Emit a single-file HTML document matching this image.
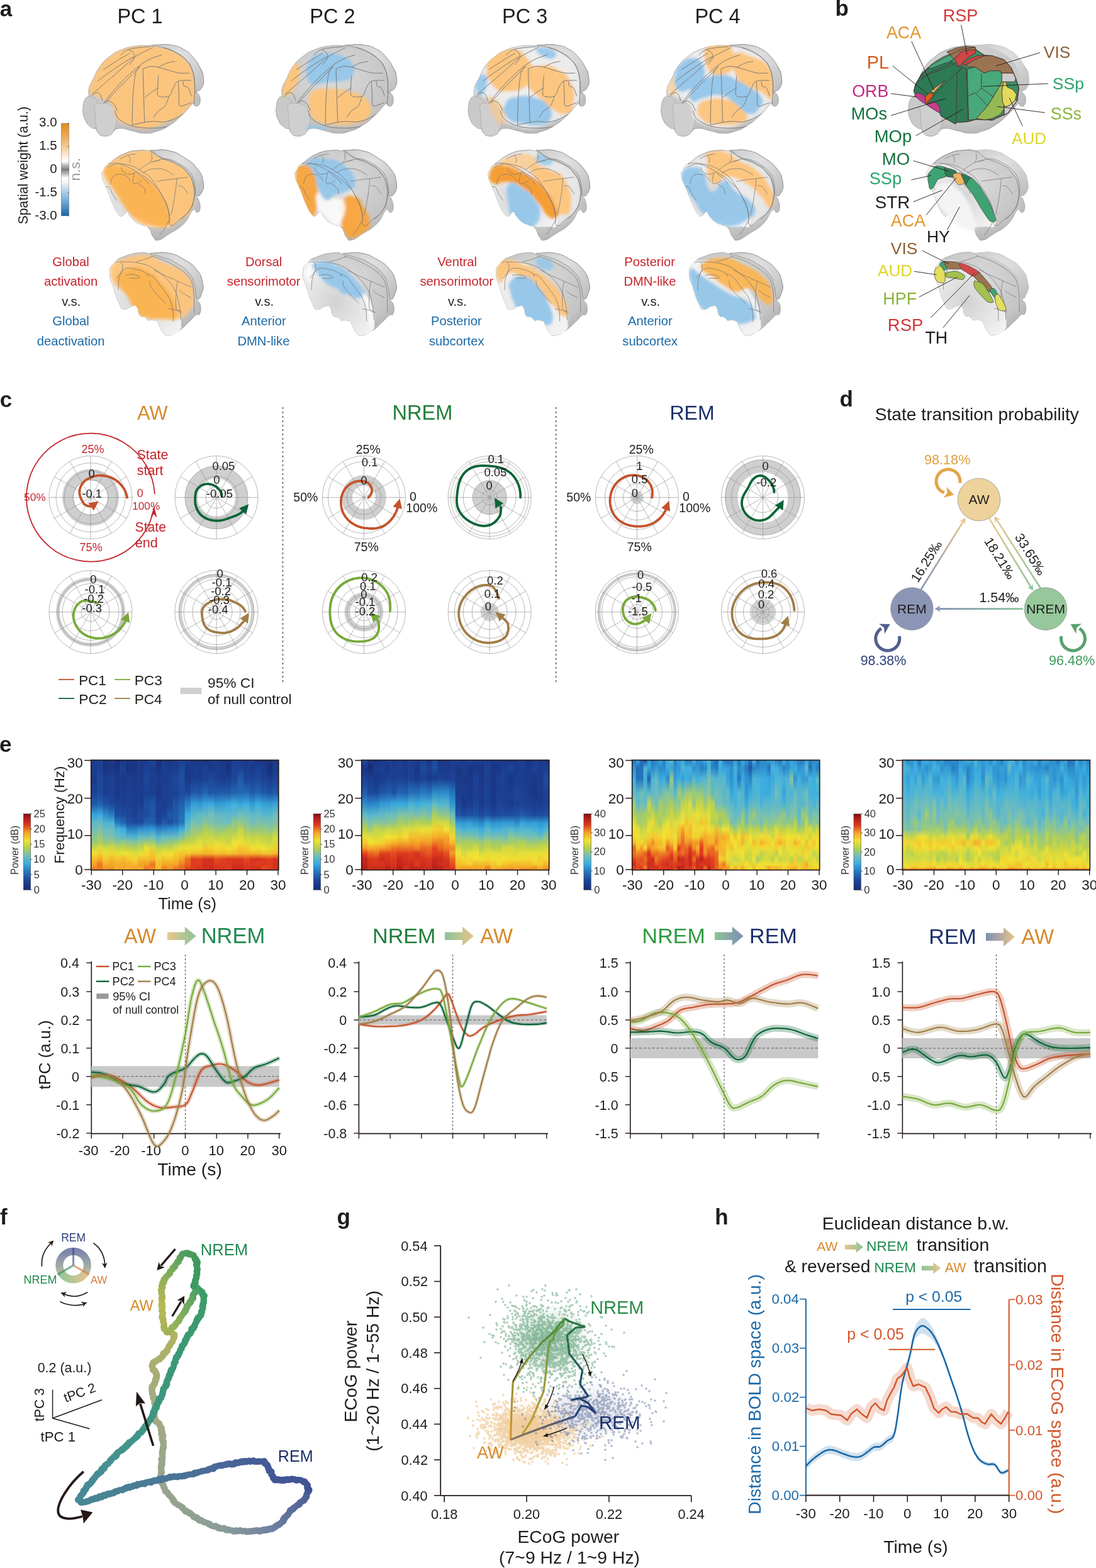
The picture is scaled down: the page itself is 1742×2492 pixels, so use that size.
<!DOCTYPE html>
<html><head><meta charset="utf-8"><style>
html,body{margin:0;padding:0;background:#fff;}
svg{display:block;}
</style></head><body>
<svg width="1742" height="2492" viewBox="0 0 1742 2492" font-family="'Liberation Sans', Arial, sans-serif">
<rect width="1742" height="2492" fill="#fff"/>
<text x="-0.15" y="25.6" font-size="35" fill="#1d1d1b" font-weight="bold">a</text>
<text x="1327.62" y="25" font-size="35" fill="#1d1d1b" font-weight="bold">b</text>
<text x="186.4" y="36.5" font-size="32.5" fill="#1d1d1b">PC 1</text>
<text x="492.3" y="36.5" font-size="32.5" fill="#1d1d1b">PC 2</text>
<text x="798" y="36.5" font-size="32.5" fill="#1d1d1b">PC 3</text>
<text x="1104.4" y="36.5" font-size="32.5" fill="#1d1d1b">PC 4</text>
<text x="62.12" y="200.7" font-size="20.5" fill="#1d1d1b">3.0</text>
<text x="62.23" y="237.7" font-size="20.5" fill="#1d1d1b">1.5</text>
<text x="79.24" y="274.7" font-size="20.5" fill="#1d1d1b">0</text>
<text x="55.46" y="311.7" font-size="20.5" fill="#1d1d1b">-1.5</text>
<text x="55.36" y="348.7" font-size="20.5" fill="#1d1d1b">-3.0</text>
<text x="44.3" y="356.55" font-size="21.2" fill="#1d1d1b" transform="rotate(-90 44.3 356.55)">Spatial weight (a.u.)</text>
<text x="127.5" y="287.47" font-size="22.68" fill="#9a9a9a" transform="rotate(-90 127.5 287.47)">n.s.</text>
<text x="83.36" y="423.3" font-size="20.2" fill="#c4252c">Global</text>
<text x="69.98" y="454.3" font-size="20.2" fill="#c4252c">activation</text>
<text x="98.31" y="485.8" font-size="20.2" fill="#1d1d1b">v.s.</text>
<text x="83.36" y="517.3" font-size="20.2" fill="#1b69a6">Global</text>
<text x="58.77" y="548.8" font-size="20.2" fill="#1b69a6">deactivation</text>
<text x="389.96" y="423.3" font-size="20.2" fill="#c4252c">Dorsal</text>
<text x="360.82" y="454.3" font-size="20.2" fill="#c4252c">sensorimotor</text>
<text x="405.21" y="485.8" font-size="20.2" fill="#1d1d1b">v.s.</text>
<text x="384.1" y="517.3" font-size="20.2" fill="#1b69a6">Anterior</text>
<text x="377.44" y="548.8" font-size="20.2" fill="#1b69a6">DMN-like</text>
<text x="695.2" y="423.3" font-size="20.2" fill="#c4252c">Ventral</text>
<text x="667.52" y="454.3" font-size="20.2" fill="#c4252c">sensorimotor</text>
<text x="711.91" y="485.8" font-size="20.2" fill="#1d1d1b">v.s.</text>
<text x="684.94" y="517.3" font-size="20.2" fill="#1b69a6">Posterior</text>
<text x="682.01" y="548.8" font-size="20.2" fill="#1b69a6">subcortex</text>
<text x="992.24" y="423.3" font-size="20.2" fill="#c4252c">Posterior</text>
<text x="991.44" y="454.3" font-size="20.2" fill="#c4252c">DMN-like</text>
<text x="1019.21" y="485.8" font-size="20.2" fill="#1d1d1b">v.s.</text>
<text x="998.1" y="517.3" font-size="20.2" fill="#1b69a6">Anterior</text>
<text x="989.31" y="548.8" font-size="20.2" fill="#1b69a6">subcortex</text>
<text x="1498.84" y="33.7" font-size="27.01" fill="#d2373a">RSP</text>
<text x="1409" y="60.5" font-size="26.76" fill="#e3952b">ACA</text>
<text x="1658.87" y="92" font-size="26.28" fill="#8b5e34">VIS</text>
<text x="1377.69" y="109" font-size="28.83" fill="#d55a1f">PL</text>
<text x="1354.29" y="154" font-size="26.81" fill="#c02a82">ORB</text>
<text x="1672.8" y="142" font-size="26.59" fill="#2aa36b">SSp</text>
<text x="1352.83" y="190" font-size="27.07" fill="#13703e">MOs</text>
<text x="1669.79" y="190" font-size="26.78" fill="#8cb43c">SSs</text>
<text x="1389.81" y="226" font-size="27.38" fill="#13703e">MOp</text>
<text x="1608" y="229" font-size="26.15" fill="#e0d62a">AUD</text>
<text x="1401.79" y="261.5" font-size="27.61" fill="#13703e">MO</text>
<text x="1381.78" y="293" font-size="27.15" fill="#2aa36b">SSp</text>
<text x="1390.75" y="330.5" font-size="27.75" fill="#1d1d1b">STR</text>
<text x="1416" y="360" font-size="26.76" fill="#e3952b">ACA</text>
<text x="1472.88" y="385" font-size="26.46" fill="#1d1d1b">HY</text>
<text x="1415.87" y="403.6" font-size="26.28" fill="#8b5e34">VIS</text>
<text x="1395" y="439" font-size="26.15" fill="#e0d62a">AUD</text>
<text x="1403.35" y="484" font-size="26.86" fill="#8cb43c">HPF</text>
<text x="1410.8" y="526" font-size="27.53" fill="#d2373a">RSP</text>
<text x="1470.46" y="546" font-size="26.83" fill="#1d1d1b">TH</text>
<defs>

<radialGradient id="bgTop" cx="0.45" cy="0.35" r="0.75"><stop offset="0" stop-color="#dcdcdc"/><stop offset="0.7" stop-color="#c4c4c4"/><stop offset="1" stop-color="#a9a9a9"/></radialGradient>
<radialGradient id="bgCb" cx="0.5" cy="0.3" r="0.8"><stop offset="0" stop-color="#e4e4e4"/><stop offset="1" stop-color="#bdbdbd"/></radialGradient>
<radialGradient id="bgCut" cx="0.45" cy="0.55" r="0.7"><stop offset="0" stop-color="#d2d2d2"/><stop offset="0.6" stop-color="#e8e8e8"/><stop offset="1" stop-color="#f6f6f6"/></radialGradient>
<filter id="blur3" x="-20%" y="-20%" width="140%" height="140%"><feGaussianBlur stdDeviation="2.2"/></filter>
<filter id="blur1" x="-20%" y="-20%" width="140%" height="140%"><feGaussianBlur stdDeviation="1"/></filter>

<path id="silT" d="M0.2,100.6C0.9,95 0.5,93.4 2.8,88.8C5.1,84.3 7,88.5 8.7,83.6C10.4,78.7 7.3,78.2 9.4,70.5C11.4,62.8 11.8,64.2 16.6,54.8C21.3,45.4 20,44.6 27,35.2C34,25.8 33.6,26.5 42.7,19.5C51.8,12.5 49.9,13.4 61,9C72.2,4.6 72,4.9 84.6,3.1C97.1,1.3 99.4,2.7 108.1,2.2C116.9,1.8 109.6,1.6 117.3,1.4C125,1.2 126.5,-0.5 136.9,1.4C147.4,3.4 146.8,3.3 156.5,8.7C166.3,14.2 165.9,14.4 173.6,21.8C181.2,29.2 180.7,28.7 185.3,36.5C189.9,44.2 189.8,43.2 190.8,50.9C191.9,58.6 191.4,59.7 189.3,65.3C187.1,70.9 185.2,69 182.7,71.8C180.3,74.6 179.7,73.3 180.1,75.7C180.5,78.2 182.6,77.5 184.3,81C185.9,84.5 186.2,84.6 186.2,88.8C186.2,93 186.3,94.1 184.3,96.7C182.3,99.3 181.1,99 178.8,98.6C176.5,98.3 177.3,95.9 175.5,95.4C173.8,94.8 177.3,91.8 172.2,96.7C167.2,101.6 166,105 156.5,113.7C147.1,122.4 147.4,122.8 136.9,129.4C126.5,136 127.8,135.2 117.3,138.5C106.8,141.9 108.1,142 97.7,141.8C87.2,141.6 88.5,140 78,137.9C67.6,135.8 66.4,133.6 58.4,134C50.4,134.3 52.1,136.4 48,139.2C43.8,142 46.9,142.6 42.7,144.4C38.5,146.3 37.1,146.8 32.3,146.1C27.4,145.4 27.9,145.1 24.4,141.8C20.9,138.6 23,137.1 19.2,134C15.3,130.8 14.2,133.5 10,130C5.8,126.5 6.1,126.3 3.5,120.9C0.9,115.5 1.1,115.2 0.2,109.8C-0.7,104.3 -0.5,106.2 0.2,100.6 Z"/>
<path id="silM" d="M0.4,42.9C-1.1,33.8 0.4,36.7 3.4,31.1C6.4,25.4 3.2,28.2 11.7,21.6C20.2,15 22.7,11.7 35.4,6.2C48,0.7 47.7,2 59,0.9C70.4,-0.2 71.7,2.1 78,2.1C84.3,2.1 75.1,1 82.7,0.9C90.3,0.7 93.8,-1.5 106.4,1.5C119,4.5 118.1,4.5 130.1,12.1C142.1,19.7 143.2,19.5 151.4,29.9C159.6,40.3 158.9,41.1 160.8,51.2C162.7,61.3 161.3,62.1 158.5,67.8C155.6,73.4 151.5,69.3 150.2,72.5C148.9,75.7 152.2,74.2 153.7,79.6C155.3,85 156.7,87.3 156.1,92.6C155.5,98 154.5,98.8 151.4,99.7C148.2,100.7 150,91.4 144.3,96.2C138.6,100.9 140.2,107.4 130.1,117.5C120,127.6 117.1,127.1 106.4,134.1C95.7,141 96.4,142.3 89.8,143.5C83.2,144.8 85.6,143.8 81.5,138.8C77.4,133.7 78.8,129.6 74.4,124.6C70,119.5 70.3,122.4 65,119.9C59.6,117.3 59.7,118.9 54.3,115.1C48.9,111.3 48.6,110.1 44.8,105.6C41,101.2 43.2,98.9 40.1,98.5C36.9,98.2 36.5,103.2 33,104.5C29.5,105.7 31.2,108 27.1,103.3C23,98.5 22.3,96.8 17.6,86.7C12.9,76.6 13.9,77.1 9.3,65.4C4.7,53.7 2,52.1 0.4,42.9 Z"/>
<path id="silB" d="M-0,32.8C0.2,21.8 0.6,23.2 7.4,15.8C14.1,8.5 14.1,9.5 25.4,5.2C36.7,1 39.3,0.8 49.7,-0C60.2,-0.9 58.3,1.9 64.6,2.1C70.8,2.2 65.1,0.8 73,0.5C80.9,0.2 82.9,-1.4 94.2,1C105.5,3.4 104.1,3 115.4,9.5C126.7,16 128.1,15.5 136.6,25.4C145.1,35.3 144.6,36.1 147.2,46.6C149.7,57 148.4,57.5 146.1,64.6C143.9,71.6 139.3,68 138.7,73C138.1,78.1 142.9,77.1 144,83.6C145.1,90.1 144.9,93.2 142.9,97.4C141,101.6 141.1,96.1 136.6,99.5C132.1,102.9 133.1,103.6 126,110.1C118.9,116.6 118.6,118.2 110.1,123.9C101.6,129.5 100.7,130.2 94.2,131.3C87.7,132.4 90,132.4 85.7,128.1C81.5,123.9 81.2,120.5 78.3,115.4C75.5,110.3 78.8,111.3 75.2,109C71.5,106.8 68.2,107.2 64.6,106.9C60.9,106.6 63.6,109.1 61.4,108C59.1,106.9 59.8,105 56.1,102.7C52.4,100.4 51,103.8 47.6,99.5C44.2,95.3 46.5,90.8 43.4,86.8C40.3,82.9 41.6,83.8 36,84.7C30.3,85.5 27.8,91.1 22.2,90C16.5,88.9 19,89.2 14.8,80.5C10.5,71.7 10.3,69.9 6.3,57.1C2.4,44.4 -0.3,43.8 -0,32.8 Z"/>
<path id="ctxT" d="M9.4,70.5C10.8,63.9 11.8,64.2 16.6,54.8C21.3,45.4 20,44.6 27,35.2C34,25.8 33.6,26.5 42.7,19.5C51.8,12.5 49.9,13.4 61,9C72.2,4.6 71.9,4.7 84.6,3.1C97.3,1.6 97.5,2.5 108.8,3.1C120.1,3.7 117,2.7 127.1,5.3C137.2,8 137,7.6 146.7,12.9C156.5,18.2 156.8,18.2 163.7,25.2C170.7,32.3 169.4,31.1 172.9,39.4C176.4,47.7 175.7,46.6 177,56.4C178.2,66.1 178.2,66.3 177.5,76C176.7,85.7 179.8,83 174.2,92.7C168.6,102.4 166.5,104.3 156.5,112.4C146.6,120.4 147.4,118 136.9,122.8C126.5,127.7 127.8,127.5 117.3,130.7C106.8,133.8 108.1,134.6 97.7,134.6C87.2,134.6 89.6,134.5 78,130.7C66.5,126.9 62.2,127.2 54.5,120.2C46.8,113.2 52.4,111.5 49.3,104.5C46.1,97.5 47.3,98.6 42.7,94.1C38.2,89.5 38.5,90.7 32.3,87.5C26,84.4 24.8,84.4 19.2,82.3C13.6,80.2 13.9,82.8 11.3,79.7C8.7,76.5 8,77.1 9.4,70.5 Z"/>
<path id="cutM" d="M0.4,42.9C-1.1,33.8 0.4,36.4 3.4,31.1C6.4,25.8 5.4,25.4 11.7,23C18,20.6 15.7,19.1 27.1,22.2C38.4,25.3 40.1,26.3 54.3,34.6C68.5,43 69,42.8 80.3,53.6C91.7,64.3 90,62.9 96.9,74.9C103.9,86.9 103.2,86.6 106.4,98.5C109.5,110.5 111.9,113.5 108.8,119.9C105.6,126.2 104,121.6 94.5,122.2C85.1,122.9 81.1,122.9 73.2,122.2C65.3,121.6 70,121.8 65,119.9C59.9,118 59.7,118.9 54.3,115.1C48.9,111.3 48.6,110.1 44.8,105.6C41,101.2 43.2,98.9 40.1,98.5C36.9,98.2 36.5,103.2 33,104.5C29.5,105.7 31.2,108 27.1,103.3C23,98.5 22.3,96.8 17.6,86.7C12.9,76.6 13.9,77.1 9.3,65.4C4.7,53.7 2,52.1 0.4,42.9 Z"/>
<path id="ctxM" d="M11.7,21.6C13.9,17.3 22.7,11.7 35.4,6.2C48,0.7 47.7,2 59,0.9C70.4,-0.2 68.5,-1.3 78,2.1C87.4,5.4 83.8,7.8 94.5,13.3C105.3,18.8 107.2,16.5 118.2,22.8C129.3,29.1 128.7,27.8 136,37C143.2,46.1 142.9,45.4 145.5,57.1C148,68.8 147,70.4 145.5,80.8C143.9,91.2 145.2,88.3 139.5,96.2C133.9,104.1 132.4,104.1 124.1,110.4C115.9,116.7 113.5,123 108.8,119.9C104,116.7 109.5,110.5 106.4,98.5C103.2,86.6 103.9,86.9 96.9,74.9C90,62.9 91.7,64.3 80.3,53.6C69,42.8 68.5,43 54.3,34.6C40.1,26.3 38.4,25.7 27.1,22.2C15.7,18.7 9.5,25.9 11.7,21.6 Z"/>
<path id="cutB" d="M-0,32.8C0.2,21.8 2,21.2 7.4,15.8C12.7,10.5 11,12.7 20.1,12.7C29.1,12.7 30,11.6 41.3,15.8C52.6,20.1 51.1,20.1 62.4,28.5C73.7,37 73.7,37.2 83.6,47.6C93.5,58.1 92.5,56.7 99.5,67.7C106.6,78.8 106.4,77.6 110.1,88.9C113.8,100.2 113.3,100.8 113.3,110.1C113.3,119.4 115.2,118.2 110.1,123.9C105,129.5 100.7,130.2 94.2,131.3C87.7,132.4 90,132.4 85.7,128.1C81.5,123.9 81.2,120.5 78.3,115.4C75.5,110.3 78.8,111.3 75.2,109C71.5,106.8 68.2,107.2 64.6,106.9C60.9,106.6 63.6,109.1 61.4,108C59.1,106.9 59.8,105 56.1,102.7C52.4,100.4 51,103.8 47.6,99.5C44.2,95.3 46.5,90.8 43.4,86.8C40.3,82.9 41.6,83.8 36,84.7C30.3,85.5 27.8,91.1 22.2,90C16.5,88.9 19,89.2 14.8,80.5C10.5,71.7 10.3,69.9 6.3,57.1C2.4,44.4 -0.3,43.8 -0,32.8 Z"/>
<g id="baseT">
<use href="#silT" fill="url(#bgTop)" stroke="#9a9a9a" stroke-width="0.8"/>
<path d="M108.8,2.8C106.9,1.7 111.7,1.6 119.9,1.2C128.1,0.9 129.1,-0.3 139.6,1.5C150,3.3 149.8,2.8 159.2,8C168.6,13.2 167.6,12.7 174.9,21.1C182.2,29.5 182.2,30 186.7,39.4C191.1,48.8 191.1,48.4 191.6,56.4C192.2,64.4 191.2,64.6 188.6,69.5C186.1,74.4 184.9,73 182.1,74.7C179.3,76.5 179.5,80.9 178.2,76C176.8,71.2 178.4,66.2 177,56.4C175.6,46.7 176.5,47.7 172.9,39.4C169.4,31.1 170.7,32.3 163.8,25.3C156.8,18.2 156.5,18.3 146.8,13C137,7.7 137.3,8.1 127.1,5.4C117,2.7 110.7,3.9 108.8,2.8 Z" fill="url(#bgCb)"/>
<path d="M0.2,100.6C0.9,95 0.5,93.4 2.8,88.8C5.1,84.3 4.3,84.3 8.7,83.6C13.1,82.9 14.6,82.7 19.2,86.2C23.7,89.7 24.3,90.4 25.7,96.7C27.1,103 25.1,102.8 24.4,109.8C23.7,116.7 24.5,116.4 23.1,122.8C21.7,129.3 22.7,132 19.2,134C15.7,135.9 14.2,133.5 10,130C5.8,126.5 6.1,126.3 3.5,120.9C0.9,115.5 1.1,115.2 0.2,109.8C-0.7,104.3 -0.5,106.2 0.2,100.6 Z" fill="#c9c9c9" stroke="#a0a0a0" stroke-width="0.6"/>
<path d="M19.2,96.7C22,92.5 23.4,94.1 29.6,94.1C35.9,94.1 36.8,93.2 42.7,96.7C48.7,100.2 49,100.2 51.9,107.1C54.7,114.1 54.5,114.3 53.4,122.8C52.4,131.4 50.8,133.4 48,139.2C45.1,145 46.9,142.6 42.7,144.4C38.5,146.3 37.1,146.8 32.3,146.1C27.4,145.4 27.5,146.3 24.4,141.8C21.3,137.3 21.9,137.9 20.5,129.4C19.1,120.8 19.5,118.5 19.2,109.8C18.8,101 16.4,100.9 19.2,96.7 Z" fill="#cfcfcf" stroke="#a0a0a0" stroke-width="0.6"/>
</g>
<g id="linesT" fill="none" stroke="#767676" stroke-width="0.95">
<path d="M32.3,94.4C34.9,91.1 42.1,81.5 48,74.7C53.9,68 60.6,60.6 67.6,53.8C74.6,47 83.3,39.2 89.8,34.2C96.4,29.2 101,26.5 106.9,23.7C112.7,20.9 122.1,18.3 125.2,17.2"/>
<path d="M35.5,93.1C39.1,89.1 49.6,77.4 57.1,69.5C64.7,61.7 75,51.6 80.7,46C86.4,40.3 89.4,37.2 91.2,35.5"/>
<path d="M14,80C17,77.4 26.2,69.5 32.3,64.3C38.4,59 43.8,54.5 50.6,48.6C57.4,42.7 67.4,33.7 72.8,28.9C78.3,24.1 77,23.7 83.3,19.8C89.6,15.9 106.2,7.8 110.8,5.4"/>
<path d="M23.1,59C26.6,56.4 36.6,48.6 44.1,43.3C51.5,38.1 61.5,31.6 67.6,27.6C73.7,23.7 78.5,21.1 80.7,19.8"/>
<path d="M32.3,40.7C36,38.3 47.5,30.7 54.5,26.3C61.5,22 70.9,16.5 74.1,14.6"/>
<path d="M59.8,17.8C61.1,16.6 64.1,12.5 67.6,10.6C71.1,8.8 74.1,7.8 80.7,6.7C87.2,5.6 102.5,4.5 106.9,4.1"/>
<path d="M74.1,32.9C75.5,30.9 81.1,24.4 82,21.1C82.9,17.8 80.9,15.2 79.4,13.2C77.9,11.3 73.9,10 72.8,9.3"/>
<path d="M78.1,128.4C78.3,120.7 78.5,96.1 79.4,82.6C80.3,69.1 81.6,55.1 83.3,47.3C85,39.4 88.8,37.4 89.8,35.5"/>
<path d="M97.7,124.5C97.5,117.5 96.8,96.8 96.4,82.6C96,68.4 95.3,46.6 95.1,39.4"/>
<path d="M95.1,39.4C97,38.8 102.7,35.9 106.9,35.5C111,35 115.6,35.9 119.9,36.8C124.3,37.7 127.6,39.2 133,40.7C138.5,42.2 146.5,45.1 152.6,46C158.8,46.8 166.8,46 169.7,46"/>
<path d="M119.9,36.8C122.1,35.7 128.7,31.8 133,30.3C137.4,28.7 143.9,28.1 146.1,27.6"/>
<path d="M119.9,49.9C119.7,53.1 118.6,64.1 118.6,69.5C118.6,75 116.9,80.4 119.9,82.6C123,84.8 133,84.8 136.9,82.6C140.9,80.4 141.1,73.4 143.5,69.5C145.9,65.6 146.5,61 151.3,59C156.1,57.1 168.8,57.9 172.3,57.7"/>
<path d="M97.7,85.2C99.7,83.7 105.8,78.7 109.5,76C113.2,73.4 118.2,70.6 119.9,69.5"/>
<path d="M112.1,116.6C113.4,114.9 116.9,109.2 119.9,106.1C123,103.1 127.6,102.2 130.4,98.3C133.2,94.4 135.9,85.2 136.9,82.6"/>
<path d="M151.3,59C151.6,63 152.2,76 152.6,82.6C153.1,89.1 150.7,96.5 154,98.3C157.2,100 169.2,93.9 172.3,93.1"/>
<path d="M159.2,59C159.4,60.3 159.2,65.1 160.5,66.9C161.8,68.6 165.1,66.9 167,69.5C169,72.1 171.4,80.4 172.3,82.6"/>
<path d="M78.1,128.4C82.9,127.5 97.7,124 106.9,123.1C116,122.3 124.3,125.1 133,123.1C141.7,121.2 152.2,116 159.2,111.4C166.2,106.8 172.3,98.3 174.9,95.7"/>
<path d="M50.6,106.1C51.7,108.3 52.1,115.1 57.1,119.2C62.2,123.4 71.3,128.6 80.7,131C90.1,133.4 103.6,133.8 113.4,133.6C123.2,133.4 130.8,132.5 139.6,129.7C148.3,126.9 159.4,121.4 165.7,116.6C172.1,111.8 175.5,103.5 177.5,100.9"/>
<path d="M127.1,5.4C130.4,6.7 140.7,9.7 146.8,13C152.9,16.3 159.4,20.9 163.8,25.3C168.1,29.7 170.7,34.2 172.9,39.4C175.1,44.6 176.2,50.3 177,56.4C177.7,62.5 177.6,69.5 177.5,76C177.4,82.6 176.4,92.4 176.2,95.7"/>
<path d="M14,82.6C15,81.7 18.3,77.8 20.5,77.4C22.7,76.9 25.3,77.8 27,80C28.8,82.2 30.3,88.7 31,90.4"/>
<path d="M34.9,93.1C36,92.6 39,90 41.4,90.4C43.8,90.9 47.1,93.1 49.3,95.7C51.5,98.3 53.6,104.4 54.5,106.1"/>
</g>
<g id="baseM">
<use href="#silM" fill="url(#bgTop)" stroke="#9a9a9a" stroke-width="0.8"/>
<path d="M78,2.1C74.8,-0.9 75.1,1 82.7,0.9C90.3,0.7 93.8,-1.5 106.4,1.5C119,4.5 118.1,4.5 130.1,12.1C142.1,19.7 143.2,19.5 151.4,29.9C159.6,40.3 158.9,41.1 160.8,51.2C162.7,61.3 161.3,62.1 158.5,67.8C155.6,73.4 153.3,75 150.2,72.5C147,70 150.1,67.8 146.6,58.3C143.2,48.8 144.7,46.8 137.2,37C129.6,27.2 129.6,28.2 118.2,21.6C106.9,15 105.3,17.3 94.5,12.1C83.8,6.9 81.1,5.1 78,2.1 Z" fill="url(#bgCb)"/>
<use href="#cutM" fill="url(#bgCut)"/>
</g>
<g id="linesM" fill="none" stroke="#767676" stroke-width="0.75">
<use href="#ctxM"/>
<path d="M8.9,27.9C10.8,27.1 16.6,24.3 20.2,23.4C23.7,22.5 25.8,21.9 30.3,22.3C34.7,22.7 42,24 47.1,25.6C52.1,27.3 55.7,29.4 60.5,32.4C65.4,35.4 71.7,39.1 76.2,43.6C80.7,48.1 83.9,53.7 87.4,59.3C91,64.9 94.7,71.6 97.5,77.2C100.3,82.8 102.6,87.3 104.3,92.9C105.9,98.5 107.1,107.9 107.6,110.9"/>
<path d="M13.4,54.8C14,52.9 14.9,46.2 16.8,43.6C18.7,41 21.5,39.7 24.6,39.1C27.8,38.5 32.9,39.1 35.9,40.2C38.8,41.3 41.1,44.1 42.6,45.8C44.1,47.5 44.5,49.6 44.8,50.3"/>
<path d="M3.3,59.3C4.6,59.3 8.9,57.4 11.2,59.3C13.4,61.2 14.7,67 16.8,70.5C18.8,74.1 22.4,78.9 23.5,80.6"/>
<path d="M30.3,27.9C30.8,29 31.7,32.7 33.6,34.6C35.5,36.5 38.5,38.7 41.5,39.1C44.5,39.5 49.5,37.6 51.6,36.9C53.6,36.1 53.4,35 53.8,34.6"/>
<path d="M51.6,36.9C51.2,39.5 48.2,49.9 49.3,52.6C50.4,55.2 55.9,53.3 58.3,52.6C60.7,51.8 63,48.8 63.9,48.1"/>
<path d="M53.8,34.6C54.5,35.4 55.7,36.9 58.3,39.1C60.9,41.3 66.9,45.5 69.5,48.1C72.1,50.7 73.2,53.7 74,54.8"/>
<path d="M58.3,54.8C59.8,55.9 65.4,58.9 67.3,61.5C69.1,64.1 69.1,69 69.5,70.5"/>
<path d="M29.1,14.4C31.2,13.5 37.4,10.1 41.5,8.8C45.6,7.5 51.7,7 53.8,6.6"/>
<path d="M41.5,8.8C42,9.8 44.5,12.4 44.8,14.4C45.2,16.5 43.9,20 43.7,21.2"/>
<path d="M58.3,32.4C60.2,31.1 66.1,26.6 69.5,24.5C72.9,22.5 74.7,21.3 78.5,20C82.2,18.7 89.7,17.2 91.9,16.7"/>
<path d="M65,36.9C66.9,35.9 71.7,32.4 76.2,31.3C80.7,30.1 87.4,29.8 91.9,30.1C96.4,30.5 99.4,31.8 103.1,33.5C106.9,35.2 112.5,39.1 114.4,40.2"/>
<path d="M87.4,50.3C89.7,49.9 95.7,48.8 100.9,48.1C106.1,47.3 112.9,46.6 118.8,45.8C124.8,45.1 133.8,44 136.8,43.6"/>
<path d="M118.8,45.8C118.7,48.1 118.5,53.3 117.7,59.3C117,65.3 115.7,74.2 114.4,81.7C113.1,89.2 110.6,100.4 109.9,104.1"/>
<path d="M121.1,57C122.4,57.4 126.3,57 128.9,59.3C131.6,61.5 135.5,68.6 136.8,70.5"/>
<path d="M78.5,4.3C78.7,6 80,11.8 79.6,14.4C79.2,17 76.8,19.1 76.2,20"/>
<path d="M80.7,18.9C84.5,18.2 95.7,13.7 103.1,14.4C110.6,15.2 119,19.3 125.6,23.4C132.1,27.5 138.7,33.1 142.4,39.1C146.1,45.1 147.4,52.2 148,59.3C148.6,66.4 147.6,75 145.8,81.7C143.9,88.4 140.2,94.8 136.8,99.7C133.4,104.5 127.4,109 125.6,110.9"/>
<path d="M107.6,110.9C106.1,113.5 101.3,122.5 98.7,126.6C96,130.7 93.1,134.1 91.9,135.5"/>
</g>
<g id="baseB">
<use href="#silB" fill="url(#bgTop)" stroke="#9a9a9a" stroke-width="0.8"/>
<path d="M64.6,2.1C61.7,0.2 65.1,0.8 73,0.5C80.9,0.2 82.9,-1.4 94.2,1C105.5,3.4 104.1,3 115.4,9.5C126.7,16 128.1,15.5 136.6,25.4C145.1,35.3 144.6,36.1 147.2,46.6C149.7,57 148.4,57.5 146.1,64.6C143.9,71.6 141.8,76.4 138.7,73C135.6,69.6 137.9,62.6 134.5,51.9C131.1,41.1 133.9,42.4 126,32.8C118.1,23.2 116.1,22.6 104.8,15.8C93.5,9.1 94.4,11 83.6,7.4C72.9,3.7 67.4,3.9 64.6,2.1 Z" fill="url(#bgCb)"/>
<use href="#cutB" fill="url(#bgCut)"/>
</g>
<g id="linesB" fill="none" stroke="#767676" stroke-width="0.75">
<path d="M8.6,15.7C10,15.5 15,13.2 16.9,14.5C18.9,15.9 20.9,19.5 20.5,24C20.1,28.6 15.8,35.9 14.6,41.8C13.4,47.7 13.6,56.6 13.4,59.5"/>
<path d="M11,40.6C13.4,38 19.3,27.4 25.2,25.2C31.1,23 41,26.2 46.5,27.6C52.1,28.9 56,31.7 58.4,33.5C60.7,35.3 60.3,37.4 60.7,38.2"/>
<path d="M25.2,35.9C27.2,35.7 33.5,34.3 37.1,34.7C40.6,35.1 45.1,37.2 46.5,38.2C47.9,39.2 47.9,40.2 45.3,40.6C42.8,41 33.5,40.6 31.1,40.6"/>
<path d="M16.9,14.5C21.1,14.7 33.7,14.3 41.8,15.7C49.9,17.1 57.8,18.9 65.5,22.8C73.2,26.8 81.7,33.3 88,39.4C94.3,45.5 99.6,52.2 103.4,59.5C107.1,66.8 108.9,75.3 110.5,83.2C112,91.1 112.4,102.9 112.8,106.9"/>
<path d="M58.4,33.5C60.1,34.3 65.1,34.7 69,38.2C73,41.8 77.9,49.3 82,54.8C86.2,60.3 90.9,65.6 93.9,71.4C96.8,77.1 98.6,82.8 99.8,89.1C101,95.4 100.8,105.9 101,109.3"/>
<path d="M63.1,44.1C63.5,45.9 63.1,50.7 65.5,54.8C67.8,58.9 73.4,64.7 77.3,69C81.3,73.3 87.2,78.9 89.1,80.8"/>
<path d="M41.8,14.5C44.6,13.8 54,11.2 58.4,9.8C62.7,8.4 66.3,6.8 67.8,6.3"/>
<path d="M70.2,27.6C73,28.9 80.5,32.9 86.8,35.9C93.1,38.8 101,42.2 108.1,45.3C115.2,48.5 125.8,53.2 129.4,54.8"/>
<path d="M108.1,45.3C107.7,47.7 106.1,52.2 105.7,59.5C105.3,66.8 104.1,83.2 105.7,89.1C107.3,95 113.6,94.1 115.2,95"/>
<path d="M110.5,59.5C111.6,60.5 114.4,63.5 117.6,65.5C120.7,67.4 127.4,70.4 129.4,71.4"/>
<path d="M93.9,89.1L112.8,92.7"/>
<path d="M65.5,5.1C70.2,6.8 84.2,10.6 93.9,15.7C103.6,20.9 117,28.6 123.5,35.9C130,43.2 131.2,49.7 133,59.5C134.7,69.4 133.9,89.1 134.1,95"/>
</g>
<clipPath id="clipT"><use href="#silT"/></clipPath>
<clipPath id="clipM"><use href="#silM"/></clipPath>
<clipPath id="clipB"><use href="#silB"/></clipPath>
<path id="cbgT" d="M108.8,2.8C106.9,1.7 111.7,1.6 119.9,1.2C128.1,0.9 129.1,-0.3 139.6,1.5C150,3.3 149.8,2.8 159.2,8C168.6,13.2 167.6,12.7 174.9,21.1C182.2,29.5 182.2,30 186.7,39.4C191.1,48.8 191.1,48.4 191.6,56.4C192.2,64.4 191.2,64.6 188.6,69.5C186.1,74.4 184.9,73 182.1,74.7C179.3,76.5 179.5,80.9 178.2,76C176.8,71.2 178.4,66.2 177,56.4C175.6,46.7 176.5,47.7 172.9,39.4C169.4,31.1 170.7,32.3 163.8,25.3C156.8,18.2 156.5,18.3 146.8,13C137,7.7 137.3,8.1 127.1,5.4C117,2.7 110.7,3.9 108.8,2.8 Z" fill="url(#bgCb)" stroke="#8e8e8e" stroke-width="0.9"/>
<path id="cbgM" d="M78,2.1C74.8,-0.9 75.1,1 82.7,0.9C90.3,0.7 93.8,-1.5 106.4,1.5C119,4.5 118.1,4.5 130.1,12.1C142.1,19.7 143.2,19.5 151.4,29.9C159.6,40.3 158.9,41.1 160.8,51.2C162.7,61.3 161.3,62.1 158.5,67.8C155.6,73.4 153.3,75 150.2,72.5C147,70 150.1,67.8 146.6,58.3C143.2,48.8 144.7,46.8 137.2,37C129.6,27.2 129.6,28.2 118.2,21.6C106.9,15 105.3,17.3 94.5,12.1C83.8,6.9 81.1,5.1 78,2.1 Z" fill="url(#bgCb)" stroke="#8e8e8e" stroke-width="0.9"/>
<path id="cbgB" d="M64.6,2.1C61.7,0.2 65.1,0.8 73,0.5C80.9,0.2 82.9,-1.4 94.2,1C105.5,3.4 104.1,3 115.4,9.5C126.7,16 128.1,15.5 136.6,25.4C145.1,35.3 144.6,36.1 147.2,46.6C149.7,57 148.4,57.5 146.1,64.6C143.9,71.6 141.8,76.4 138.7,73C135.6,69.6 137.9,62.6 134.5,51.9C131.1,41.1 133.9,42.4 126,32.8C118.1,23.2 116.1,22.6 104.8,15.8C93.5,9.1 94.4,11 83.6,7.4C72.9,3.7 67.4,3.9 64.6,2.1 Z" fill="url(#bgCb)" stroke="#8e8e8e" stroke-width="0.9"/>
</defs>
<g transform="translate(132,70)">
<use href="#baseT"/>
<g clip-path="url(#clipT)">
<g filter="url(#blur3)">
<use href="#ctxT" fill="#fec47a" opacity="0.95"/>
</g></g>
<use href="#cbgT"/>
<use href="#linesT" clip-path="url(#clipT)"/>
</g>
<g transform="translate(162,238)">
<use href="#baseM"/>
<g clip-path="url(#clipM)">
<g filter="url(#blur3)">
<path d="M1,27.5C2.6,19.9 2.5,26.1 11.7,20.4C20.8,14.7 22.7,11.4 35.4,6.2C48,1 47.7,1.8 59,0.9C70.4,-0.1 68.5,-0.7 78,2.7C87.4,6 83.8,8.3 94.5,13.3C105.3,18.4 107.2,16.2 118.2,21.6C129.3,27 128.7,25.5 136,33.4C143.2,41.3 142.6,40.1 145.5,51.2C148.3,62.2 147.6,62.9 146.6,74.9C145.7,86.9 147.9,86.4 141.9,96.2C135.9,106 133.6,104.6 124.1,111.6C114.7,118.5 119,119.4 106.4,122.2C93.8,125.1 89.4,123.8 76.8,122.2C64.2,120.6 68.5,122.6 59,116.3C49.6,110 49.2,107.7 41.3,98.5C33.4,89.4 35.7,91.4 29.4,82C23.1,72.5 23.9,71.9 17.6,63C11.3,54.2 10.2,58.3 5.8,48.8C1.3,39.4 -0.6,35.1 1,27.5 Z" fill="#fec47a" opacity="0.95"/>
<path d="M5.8,31.1C9.2,23.8 14.1,24.8 27.1,26.3C40,27.9 40.1,29.4 54.3,37C68.5,44.6 69,44 80.3,54.7C91.7,65.5 90.3,65.6 96.9,77.2C103.5,88.9 102.7,87.2 105.2,98.5C107.7,109.9 112.4,114.2 106.4,119.9C100.4,125.5 95.3,122.4 82.7,119.9C70.1,117.3 70.1,116.7 59,110.4C48,104.1 49.8,105.6 41.3,96.2C32.7,86.7 34.3,86.2 27.1,74.9C19.8,63.5 19.7,65.2 14,53.6C8.4,41.9 2.3,38.3 5.8,31.1 Z" fill="#fbb04a" opacity="0.8"/>
</g></g>
<use href="#cbgM"/>
<use href="#linesM" clip-path="url(#clipM)"/>
</g>
<g transform="translate(174.5,401.5)">
<use href="#baseB"/>
<g clip-path="url(#clipB)">
<g filter="url(#blur3)">
<path d="M1,27.6C1.9,19.4 2.2,20.8 8.6,15.7C15.1,10.7 15.1,11.8 25.2,8.6C35.3,5.5 36.1,4.8 46.5,3.9C56.9,2.9 55.4,2.5 64.3,5.1C73.1,7.6 71.8,9.6 79.7,13.4C87.6,17.1 85.4,15.5 93.9,19.3C102.4,23.1 102.8,21.6 111.6,27.6C120.5,33.6 121.4,33.2 127,41.8C132.7,50.3 131.4,50.1 133,59.5C134.5,69 133.9,69.4 133,77.3C132,85.2 134.8,81.9 129.4,89.1C124,96.4 122.3,99.8 112.8,104.5C103.4,109.3 103.7,106.6 93.9,106.9C84.1,107.2 85.6,106.3 76.1,105.7C66.7,105.1 67.5,107.4 58.4,104.5C49.2,101.7 48.1,100.7 41.8,95C35.5,89.4 39.1,90.8 34.7,83.2C30.3,75.6 30.3,73.6 25.2,66.6C20.2,59.7 21.1,62.5 15.8,57.2C10.4,51.8 9,54.4 5.1,46.5C1.2,38.6 0,35.8 1,27.6 Z" fill="#fec47a" opacity="0.95"/>
<path d="M11,38.2C15.8,30 22.1,26.9 34.7,24C47.3,21.2 45.7,21.3 58.4,27.6C71,33.9 71,36 82,47.7C93.1,59.4 93.5,57.2 99.8,71.4C106.1,85.6 110.5,92.1 105.7,101C101,109.8 94.7,104.2 82,104.5C69.4,104.8 69.1,105.3 58.4,102.1C47.6,99 49.7,101.5 41.8,92.7C33.9,83.8 35.4,79.1 28.8,69C22.1,58.9 21.7,63 16.9,54.8C12.2,46.6 6.3,46.4 11,38.2 Z" fill="#fbb04a" opacity="0.8"/>
</g></g>
<use href="#cbgB"/>
<use href="#linesB" clip-path="url(#clipB)"/>
</g>
<g transform="translate(439,70)">
<use href="#baseT"/>
<g clip-path="url(#clipT)">
<g filter="url(#blur3)">
<path d="M49.9,33.2C52.7,25.5 52.1,25 59,20.1C66,15.2 66.3,15.9 76,14.9C85.8,13.8 86.9,14.4 95.7,16.2C104.4,17.9 101.8,17.2 108.8,21.4C115.7,25.6 118.3,24.5 121.8,31.9C125.3,39.2 125.3,41.9 121.8,48.9C118.3,55.9 119.2,54.9 108.8,58C98.3,61.2 96.5,59.3 82.6,60.7C68.6,62 65.5,66.4 56.4,63.3C47.3,60.1 50.3,56.9 48.6,48.9C46.8,40.9 47.1,40.9 49.9,33.2 Z" fill="#93c6ea" opacity="0.95"/>
<path d="M10.6,73.7C12,65 12.6,59.7 17.2,48.9C21.7,38.1 22.8,37.7 27.6,33.2C32.5,28.6 33,27.7 35.5,31.9C37.9,36.1 38.2,39.1 36.8,48.9C35.4,58.6 34.8,59.8 30.3,68.5C25.7,77.2 24.7,78.1 19.8,81.6C14.9,85.1 14.4,83.7 11.9,81.6C9.5,79.5 9.2,82.5 10.6,73.7 Z" fill="#fec47a" opacity="0.95"/>
<path d="M53.8,81.6C56.9,73.9 54.8,75.2 64.3,72.4C73.7,69.6 75.5,70.4 89.1,71.1C102.7,71.8 103.1,72.3 115.3,75C127.5,77.8 126.2,76.4 134.9,81.6C143.6,86.8 143.8,87.7 148,94.7C152.2,101.6 152.4,100.8 150.6,107.8C148.9,114.7 149.1,115.6 141.5,120.8C133.8,126.1 134.1,125.3 121.8,127.4C109.6,129.5 107.9,129 95.7,128.7C83.5,128.3 85.8,128.9 76,126.1C66.3,123.3 65.3,124.9 59,118.2C52.8,111.6 53.9,111 52.5,101.2C51.1,91.4 50.7,89.3 53.8,81.6 Z" fill="#fec47a" opacity="0.95"/>
<path d="M49.9,131.3C53,129.6 56,129.3 63,130C69.9,130.7 72.9,130.8 76,133.9C79.2,137.1 78.2,140 74.7,141.8C71.2,143.5 69.2,141.9 63,140.5C56.7,139.1 54.7,139 51.2,136.5C47.7,134.1 46.7,133.1 49.9,131.3 Z" fill="#93c6ea" opacity="0.9"/>
</g></g>
<use href="#cbgT"/>
<use href="#linesT" clip-path="url(#clipT)"/>
</g>
<g transform="translate(469,238)">
<use href="#baseM"/>
<g clip-path="url(#clipM)">
<g filter="url(#blur3)">
<path d="M19,19.7C24.9,13.8 30.4,12.7 46.4,14.2C62.5,15.7 66.2,14.9 79.3,25.2C92.5,35.4 95,41.6 95.8,52.6C96.5,63.5 90.8,61.2 82.1,66.3C73.3,71.4 71.7,68.1 62.9,71.8C54.1,75.4 56.5,83.6 49.2,80C41.9,76.3 42.1,69.7 35.5,58.1C28.9,46.4 28.9,46.4 24.5,36.1C20.1,25.9 13.2,25.5 19,19.7 Z" fill="#93c6ea" opacity="0.95"/>
<path d="M1.2,36.1C2.7,22.2 6.6,25.9 13.5,25.2C20.5,24.4 21.4,23.1 27.2,33.4C33.1,43.6 34,46 35.5,63.5C36.9,81.1 35.7,88.2 32.7,99.2C29.8,110.1 31.1,110.5 24.5,104.7C17.9,98.8 14.3,95.5 8.1,77.2C1.8,59 -0.3,50 1.2,36.1 Z" fill="#f8a43c" opacity="0.95"/>
<path d="M76.6,80C82.4,71.9 87,71.6 95.8,74.5C104.6,77.4 103.3,80 109.5,90.9C115.7,101.9 118.4,105.4 119.1,115.6C119.8,125.9 119.9,122.7 112.2,129.3C104.6,135.9 99.8,141 90.3,140.3C80.8,139.6 81,136.1 76.6,126.6C72.2,117.1 73.9,117.1 73.9,104.7C73.9,92.2 70.7,88 76.6,80 Z" fill="#f8a43c" opacity="0.95"/>
<path d="M35.5,69C39.1,66.1 41.9,77.8 49.2,80C56.5,82.2 54.8,75.8 62.9,77.2C70.9,78.7 76.4,76 79.3,85.5C82.3,95 78.2,104.1 73.9,112.9C69.5,121.6 70.2,120.6 62.9,118.4C55.6,116.2 53.7,112 46.4,104.7C39.1,97.3 38.4,100.5 35.5,90.9C32.5,81.4 31.8,71.9 35.5,69 Z" fill="#ffffff" opacity="0.8"/>
</g></g>
<use href="#cbgM"/>
<use href="#linesM" clip-path="url(#clipM)"/>
</g>
<g transform="translate(481.7,401.7)">
<use href="#baseB"/>
<g clip-path="url(#clipB)">
<g filter="url(#blur3)">
<path d="M14.8,20.1C16.2,16.4 18.3,16.2 25.4,14.8C32.4,13.4 34.2,13.4 41.3,14.8C48.3,16.2 46.2,17.5 51.9,20.1C57.5,22.6 56.8,20.9 62.4,24.3C68.1,27.7 67.4,27.4 73,32.8C78.7,38.2 78,37.9 83.6,44.4C89.3,50.9 90.3,51.2 94.2,57.1C98.2,63.1 101.3,62.7 98.5,66.7C95.6,70.6 90.4,72 83.6,72C76.8,72 78.7,68.7 73,66.7C67.4,64.7 67.5,67.1 62.4,64.6C57.4,62 58.2,60 54,57.1C49.7,54.3 51.4,56.5 46.6,54C41.8,51.4 40.8,51.6 36,47.6C31.2,43.7 32.8,44.2 28.5,39.1C24.3,34.1 23.7,33.6 20.1,28.5C16.4,23.5 13.4,23.7 14.8,20.1 Z" fill="#93c6ea" opacity="0.95"/>
<path d="M3.1,32.8C3.1,25.4 6.4,22.9 9.5,20.1C12.6,17.3 13.7,18 14.8,22.2C15.9,26.4 14.6,28.1 13.7,36C12.9,43.9 12.7,48.7 11.6,51.9C10.5,55 11.7,52.7 9.5,47.6C7.2,42.5 3.1,40.1 3.1,32.8 Z" fill="#ffffff" opacity="0.7"/>
<path d="M94.2,68.8C94.2,62 98.5,63.4 102.7,68.8C106.9,74.2 107.8,77.9 110.1,88.9C112.4,99.9 112.6,103 111.2,110.1C109.8,117.2 107.1,119.6 104.8,115.4C102.6,111.2 105.5,106.6 102.7,94.2C99.9,81.8 94.2,75.6 94.2,68.8 Z" fill="#ffffff" opacity="0.7"/>
</g></g>
<use href="#cbgB"/>
<use href="#linesB" clip-path="url(#clipB)"/>
</g>
<g transform="translate(744.5,70)">
<use href="#baseT"/>
<g clip-path="url(#clipT)">
<g filter="url(#blur3)">
<use href="#ctxT" fill="#f4f4f4" opacity="0.8"/>
<path d="M28.7,34.2C30.2,20.3 33.5,21.9 45.1,15C56.8,8 60.1,6.7 72.6,8.1C85,9.6 83.7,10.6 91.8,20.5C99.8,30.3 102.7,32.7 102.7,45.1C102.7,57.6 102,59 91.8,67.1C81.5,75.1 78.2,75.3 64.3,75.3C50.4,75.3 49.2,78 39.7,67.1C30.2,56.1 27.2,48.1 28.7,34.2 Z" fill="#fec47a" opacity="0.95"/>
<path d="M89,45.1C94.1,36.4 99.8,35.6 113.7,34.2C127.6,32.7 127.9,32.3 141.1,39.6C154.3,47 156.1,47 163,61.6C170,76.2 169.3,81.3 167.1,94.5C164.9,107.6 163.9,108.7 154.8,110.9C145.7,113.1 144.6,110 132.9,102.7C121.2,95.4 121.2,93 110.9,83.5C100.7,74 100.3,77.3 94.5,67.1C88.6,56.8 83.9,53.9 89,45.1 Z" fill="#fec47a" opacity="0.95"/>
<path d="M31.4,83.5C35.1,79.9 43.3,85.7 50.6,94.5C57.9,103.2 58.9,107.6 58.9,116.4C58.9,125.2 56.5,129.6 50.6,127.4C44.8,125.2 42,119.9 36.9,108.2C31.8,96.5 27.8,87.2 31.4,83.5 Z" fill="#fec47a" opacity="0.6"/>
<path d="M58.9,94.5C63.2,85.7 65.6,86.1 78,83.5C90.5,81 92.3,80.9 105.5,84.9C118.6,88.9 120.7,89.4 127.4,98.6C134.1,107.7 134.3,111.1 130.7,119.1C127,127.2 126.3,126.9 113.7,128.7C101.1,130.6 97.4,129.3 83.5,126C69.6,122.7 68.2,124.8 61.6,116.4C55,108 54.5,103.2 58.9,94.5 Z" fill="#93c6ea" opacity="0.95"/>
<path d="M106.8,8.1C107.6,3.9 118.6,4.3 127.4,6.8C136.2,9.2 140.5,12.9 139.7,17.2C139,21.4 133.4,25.1 124.6,22.7C115.9,20.2 106.1,12.4 106.8,8.1 Z" fill="#93c6ea" opacity="0.9"/>
<path d="M12.3,61.6C14.4,53.2 18.5,48.6 23.2,47.9C28,47.1 30.1,50.4 30.1,58.8C30.1,67.2 27.2,73.9 23.2,79.4C19.2,84.9 17.9,84.1 15,79.4C12.1,74.6 10.1,70 12.3,61.6 Z" fill="#93c6ea" opacity="0.9"/>
</g></g>
<use href="#cbgT"/>
<use href="#linesT" clip-path="url(#clipT)"/>
</g>
<g transform="translate(776,238)">
<use href="#baseM"/>
<g clip-path="url(#clipM)">
<g filter="url(#blur3)">
<use href="#ctxM" fill="#f4f4f4" opacity="0.7"/>
<path d="M2.7,36.1C5.6,28.1 7.4,24.9 19.1,23.8C30.8,22.7 31.9,25.8 46.5,32C61.2,38.2 60.8,37.2 74,47.1C87.1,57 86.7,57.3 95.9,69C105,80.7 104.6,81.1 108.2,90.9C111.9,100.8 112.9,102 109.6,106C106.3,110 103.9,111.9 95.9,106C87.8,100.2 89.7,95.8 79.4,84.1C69.2,72.4 69.9,70.9 57.5,62.2C45.1,53.4 46,53.4 32.8,51.2C19.7,49 16.2,58 8.2,53.9C0.1,49.9 -0.2,44.2 2.7,36.1 Z" fill="#f79a2a" opacity="0.95"/>
<path d="M68.5,25.2C75.8,22.2 86.7,26.8 101.4,33.4C116,40 115.3,34.5 123.3,49.8C131.3,65.2 133,76.7 131.5,90.9C130.1,105.2 124.4,103.3 117.8,103.3C111.2,103.3 113.4,101.5 106.9,90.9C100.3,80.3 101.9,76 93.1,63.5C84.4,51.1 80.5,54.6 74,44.3C67.4,34.1 61.2,28.1 68.5,25.2 Z" fill="#fec47a" opacity="0.95"/>
<path d="M19.1,22.4C14.7,16.6 27.9,12.4 41.1,8.7C54.2,5.1 58.2,4.3 68.5,8.7C78.7,13.1 82.4,19.3 79.4,25.2C76.5,31 73.6,31.4 57.5,30.6C41.4,29.9 23.5,28.3 19.1,22.4 Z" fill="#fec47a" opacity="0.7"/>
<path d="M32.8,55.3C39.4,48 46.5,57 57.5,63.5C68.5,70.1 67.4,70.5 74,80C80.5,89.5 82.2,88.6 82.2,99.2C82.2,109.8 80.5,112.8 74,119.7C67.4,126.7 66.3,125.9 57.5,125.2C48.7,124.5 47.6,126.1 41.1,117C34.5,107.9 35,107.4 32.8,90.9C30.6,74.5 26.3,62.6 32.8,55.3 Z" fill="#93c6ea" opacity="0.95"/>
<path d="M76.7,8.7C80.4,5.1 89.3,5.1 95.9,8.7C102.5,12.4 105,18.8 101.4,22.4C97.7,26.1 88.8,26.1 82.2,22.4C75.6,18.8 73,12.4 76.7,8.7 Z" fill="#93c6ea" opacity="0.8"/>
</g></g>
<use href="#cbgM"/>
<use href="#linesM" clip-path="url(#clipM)"/>
</g>
<g transform="translate(788.7,401.7)">
<use href="#baseB"/>
<g clip-path="url(#clipB)">
<g filter="url(#blur3)">
<use href="#cutB" fill="#f4f4f4" opacity="0.6"/>
<path d="M0.9,20.4C3.9,10.6 5.7,11.2 17.4,10.9C29.1,10.5 31.7,14 44.8,19.1C58,24.2 55,22.4 66.7,30C78.4,37.7 78.4,37.3 88.7,47.9C98.9,58.5 98.4,58.1 105.1,69.8C111.8,81.5 113.5,83.3 113.9,91.7C114.3,100.1 113.2,103.9 106.5,101.3C99.8,98.8 99.3,93.1 88.7,82.1C78.1,71.2 78.4,71.2 66.7,60.2C55,49.2 57.2,48.3 44.8,41C32.4,33.7 30.4,31 20.1,32.8C9.9,34.6 11.5,51.2 6.4,47.9C1.3,44.6 -2,30.3 0.9,20.4 Z" fill="#fec47a" opacity="0.95"/>
<path d="M22.9,45.1C28.7,37.8 33.1,34.7 44.8,36.9C56.5,39.1 56.5,41.6 66.7,53.3C77,65 77.2,66 83.2,80.8C89.2,95.5 92.1,99.6 89.2,108.7C86.3,117.9 84.1,114.3 72.2,115C60.4,115.8 55,117.7 44.8,111.5C34.6,105.2 39.7,104.3 33.8,91.7C28,79.1 25.8,76.7 22.9,64.3C20,51.9 17,52.4 22.9,45.1 Z" fill="#93c6ea" opacity="0.95"/>
<path d="M64,9.5C67.7,6 76.5,6.5 83.2,10.9C89.9,15.2 92.9,22.5 89.2,25.9C85.6,29.4 76.2,28.1 69.5,23.7C62.8,19.4 60.3,12.9 64,9.5 Z" fill="#93c6ea" opacity="0.85"/>
</g></g>
<use href="#cbgB"/>
<use href="#linesB" clip-path="url(#clipB)"/>
</g>
<g transform="translate(1051,70)">
<use href="#baseT"/>
<g clip-path="url(#clipT)">
<g filter="url(#blur3)">
<use href="#ctxT" fill="#f4f4f4" opacity="0.8"/>
<path d="M72.9,4.4C80.8,-2.9 89.2,-0.7 99.7,0.2C110.3,1.2 108.4,-1.2 112.4,8C116.4,17.3 118.2,24.1 114.9,34.9C111.5,45.6 109,45.4 99.7,48.3C90.5,51.2 88.2,51.4 80.2,45.9C72.3,40.3 71.9,38.6 70,27.6C68,16.5 65,11.7 72.9,4.4 Z" fill="#fec47a" opacity="0.95"/>
<path d="M114.4,16.6C122.2,8.5 132.9,15.3 148.5,21.5C164.1,27.6 165,27.7 172.9,39.8C180.8,51.8 178.3,53.9 178.3,66.6C178.3,79.3 177.6,84.4 172.9,87.3C168.2,90.2 170.5,83.1 160.7,77.6C151,72 147.4,73.4 136.3,66.6C125.3,59.8 125.1,65.3 119.2,52C113.4,38.6 106.6,24.7 114.4,16.6 Z" fill="#fec47a" opacity="0.95"/>
<path d="M57.8,100.7C60.5,92.1 62.9,91.4 75.3,88C87.8,84.7 91.6,86 104.6,88C117.6,90.1 115.5,88.6 124.1,95.9C132.7,103.1 136.8,107.2 136.8,115.4C136.8,123.5 137.3,123 124.1,126.3C111,129.7 103.3,129.7 87.5,128C71.8,126.4 73,127.5 65.1,120.2C57.2,113 55,109.3 57.8,100.7 Z" fill="#fec47a" opacity="0.95"/>
<path d="M11.9,66.6C13.9,58.8 18.4,49.3 21.7,52C24.9,54.6 26.1,68.5 24.1,76.3C22.2,84.1 17.6,83.8 14.4,81.2C11.1,78.6 10,74.4 11.9,66.6 Z" fill="#fec47a" opacity="0.6"/>
<path d="M21.7,52C23.1,40.9 23.6,39.2 31.4,31.2C39.2,23.3 41.7,21.9 51,22.2C60.2,22.5 62,23.1 66.1,32.4C70.1,41.8 72.1,46.6 66.1,57.3C60.1,68 54.3,68.6 43.6,72.7C33,76.8 31.9,78.2 26.1,72.7C20.2,67.2 20.3,63 21.7,52 Z" fill="#93c6ea" opacity="0.95"/>
<path d="M46.1,76.3C50,67 51.3,63.6 65.6,56.3C79.9,49.1 85.4,48.9 99.7,49C114,49.2 109.5,52.1 119.2,56.8C129,61.5 125.8,59.4 136.3,66.6C146.9,73.7 153.4,74.4 158.8,83.7C164.1,92.9 161.5,93.9 156.3,101.2C151.1,108.5 149.1,112.4 139.2,111C129.4,109.5 131.1,103.7 119.2,95.9C107.4,88 109.2,84.2 94.9,81.7C80.5,79.2 77.3,84 65.6,86.6C53.9,89.2 56.2,94.2 51,91.5C45.7,88.7 42.2,85.7 46.1,76.3 Z" fill="#93c6ea" opacity="0.95"/>
</g></g>
<use href="#cbgT"/>
<use href="#linesT" clip-path="url(#clipT)"/>
</g>
<g transform="translate(1083,238)">
<use href="#baseM"/>
<g clip-path="url(#clipM)">
<g filter="url(#blur3)">
<use href="#ctxM" fill="#f4f4f4" opacity="0.7"/>
<path d="M1.9,35.2C5.8,26.6 10.5,27.4 19,27.4C27.4,27.4 25.8,24.6 33.6,35.2C41.4,45.7 39.1,63 48.2,66.9C57.3,70.8 57.3,49.8 67.7,49.8C78.1,49.8 76.8,59.1 87.2,66.9C97.7,74.7 98.6,70.6 106.8,79.1C114.9,87.5 118.4,90 117.7,98.6C117.1,107.2 114.4,105.3 104.3,111.3C94.2,117.3 92.9,119.7 79.9,121C66.9,122.3 67.2,120.8 55.5,116.1C43.8,111.5 45.8,113.3 36,103.5C26.3,93.6 27.4,90.8 19,79.1C10.5,67.4 8.9,71.3 4.3,59.6C-0.2,47.9 -2,43.8 1.9,35.2 Z" fill="#93c6ea" opacity="0.95"/>
<path d="M40.9,5.9C48.1,1.9 54.1,-0.1 67.7,3C81.4,6.1 79.1,10.3 92.1,17.6C105.1,24.9 104.2,20.4 116.5,30.3C128.9,40.2 130.5,41.7 138.5,54.7C146.4,67.7 146.1,69.2 146.3,79.1C146.4,89 144.3,92.9 139,91.8C133.6,90.6 135.5,84.6 126.3,74.7C117,64.8 118.6,63.1 104.3,54.7C90,46.2 85.6,43 72.6,43C59.6,43 63.3,54.8 55.5,54.7C47.7,54.6 47.2,52.2 43.3,42.5C39.4,32.7 41.6,27.9 40.9,18.1C40.3,8.3 33.7,9.9 40.9,5.9 Z" fill="#fec47a" opacity="0.95"/>
</g></g>
<use href="#cbgM"/>
<use href="#linesM" clip-path="url(#clipM)"/>
</g>
<g transform="translate(1095.7,401.7)">
<use href="#baseB"/>
<g clip-path="url(#clipB)">
<g filter="url(#blur3)">
<use href="#cutB" fill="#f4f4f4" opacity="0.6"/>
<path d="M23.3,15.4C32.4,10 38.8,7.4 55,8.1C71.3,8.7 68,10 84.3,17.8C100.6,25.6 103.5,25.6 116,37.3C128.5,49 127.7,50 131.1,61.7C134.5,73.4 132.7,77.2 128.7,81.2C124.7,85.3 124.6,83.2 116,76.8C107.4,70.5 107.6,61.2 96.5,57.3C85.4,53.4 85.6,63.5 74.5,62.2C63.5,60.9 65.4,59 55,52.4C44.6,45.9 44.6,44.3 35.5,37.8C26.4,31.3 24.1,34 20.9,28.1C17.6,22.1 14.2,20.7 23.3,15.4 Z" fill="#fbb553" opacity="0.95"/>
<path d="M1.4,26.3C5.3,19.8 9.8,30.5 20.9,37.3C31.9,44.2 30.5,44.2 42.8,52C55.2,59.8 54.2,60.1 67.2,66.6C80.2,73.1 81.7,68.5 91.6,76.3C101.5,84.2 102.2,87.3 104.3,95.9C106.4,104.4 109.3,103.9 99.4,108.5C89.5,113.2 82.3,114.1 67.2,113.4C52.1,112.8 55.2,112.6 42.8,106.1C30.5,99.6 30.6,100.9 20.9,89C11.1,77.2 11.5,78.4 6.3,61.7C1,45 -2.5,32.9 1.4,26.3 Z" fill="#93c6ea" opacity="0.95"/>
</g></g>
<use href="#cbgB"/>
<use href="#linesB" clip-path="url(#clipB)"/>
</g>
<defs><linearGradient id="cbA" x1="0" y1="0" x2="0" y2="1">
<stop offset="0" stop-color="#df8a1e"/>
<stop offset="0.12" stop-color="#eaa54e"/>
<stop offset="0.25" stop-color="#f3c891"/>
<stop offset="0.36" stop-color="#fbefe0"/>
<stop offset="0.41" stop-color="#ffffff"/>
<stop offset="0.455" stop-color="#b9b9b9"/>
<stop offset="0.5" stop-color="#7f7f7f"/>
<stop offset="0.545" stop-color="#b9b9b9"/>
<stop offset="0.59" stop-color="#ffffff"/>
<stop offset="0.64" stop-color="#edf4fa"/>
<stop offset="0.75" stop-color="#a8cbe5"/>
<stop offset="0.88" stop-color="#5a9bcb"/>
<stop offset="1" stop-color="#1963a2"/>
</linearGradient></defs>
<rect x="97.3" y="196" width="12.3" height="147" fill="url(#cbA)" stroke="#555" stroke-width="0.4"/>
<line x1="107.6" y1="196" x2="109.6" y2="196" stroke="#333" stroke-width="0.8"/>
<line x1="107.6" y1="232.75" x2="109.6" y2="232.75" stroke="#333" stroke-width="0.8"/>
<line x1="107.6" y1="269.5" x2="109.6" y2="269.5" stroke="#333" stroke-width="0.8"/>
<line x1="107.6" y1="306.25" x2="109.6" y2="306.25" stroke="#333" stroke-width="0.8"/>
<line x1="107.6" y1="343" x2="109.6" y2="343" stroke="#333" stroke-width="0.8"/>
<g transform="translate(1444,70)"><use href="#baseT"/></g>
<path d="M1452.5,144.8L1455,134.8L1464.9,117.3L1481.1,102.4L1502.3,91.2L1527.2,78.7L1549.7,75L1551.2,79L1564.6,87.7L1577.1,88.7L1595.8,94.9L1607,107.4L1614.5,124.8L1619.4,139.8L1616.9,159.7L1602,179.6L1577.1,190.9L1552.1,189.6L1538.4,193.3L1519.8,194.6L1518.5,197.1L1496.1,184.6L1492.3,177.1L1483.6,163.4L1472.4,164.7L1455,149.7 Z" fill="#3d8f66" stroke="#4a3b38" stroke-width="1.2" stroke-linejoin="round"/>
<path d="M1452.5,144.8L1457.4,129.8L1468.7,114.8L1481.1,102.4L1499.8,93.7L1514.8,98.6L1522.2,106.1L1529.7,106.1L1536,108.6L1538.4,193.3L1519.8,194.6L1518.5,197.1L1496.1,184.6L1492.3,177.1L1483.6,163.4L1472.4,164.7L1469.9,154.7L1455,149.7 Z" fill="#2d7a56" stroke="#4a3b38" stroke-width="1" stroke-linejoin="round"/>
<path d="M1473.6,108.6L1487.4,97.4L1499.8,89.9L1509.8,86.2L1516,93.7L1509.8,98L1496.1,102.4L1481.1,108.6 Z" fill="#48a67b" stroke="#4a3b38" stroke-width="1" stroke-linejoin="round"/>
<path d="M1504.8,82.4L1519.8,76.2L1537.2,73.7L1549.7,75L1551.2,79L1534.7,80.2L1519.8,89.9L1515.4,94.3L1509.8,86.2 Z" fill="#9a7452" stroke="#4a3b38" stroke-width="1" stroke-linejoin="round"/>
<path d="M1517.3,93L1527.2,82.4L1539.7,79.3L1551.2,79L1549.9,84.9L1539.7,90.5L1532.2,97.6L1527.2,103.9L1522.2,105.1 Z" fill="#d04545" stroke="#4a3b38" stroke-width="1" stroke-linejoin="round"/>
<path d="M1529.7,102.4L1539.7,93.9L1552.1,88.9L1564.6,87.7L1555.9,92.7L1542.2,98.9L1532.5,103.9 Z" fill="#d04545" stroke="#4a3b38" stroke-width="1" stroke-linejoin="round"/>
<path d="M1534.7,103.9L1545.9,96.4L1564.6,88.7L1577.1,88.7L1595.8,94.9L1607,107.4L1611,116.1L1592,116.1L1589.5,112.6L1573.3,112.6L1564.6,116.3L1549.7,106.4L1539.7,106.4 Z" fill="#9a7452" stroke="#4a3b38" stroke-width="1" stroke-linejoin="round"/>
<path d="M1537.2,110.1L1549.7,106.4L1564.6,116.3L1573.3,112.6L1589.5,112.6L1592.3,117.6L1592.3,129.8L1587,139.8L1578.3,154.7L1569.6,168.4L1552.1,189.6L1539.7,190.9L1538.4,152.2 Z" fill="#48a97a" stroke="#4a3b38" stroke-width="1" stroke-linejoin="round"/>
<path d="M1552.1,188.4L1559.6,179.6L1569.6,168.4L1578.3,154.7L1587,139.8L1592.3,129.8L1595.8,129.8L1594.8,152.2L1596,173.4L1589.5,182.1L1577.1,188.4L1564.6,190.9 Z" fill="#95ba55" stroke="#4a3b38" stroke-width="1" stroke-linejoin="round"/>
<path d="M1594.8,131L1598.5,129.8L1601,138.5L1609.7,142.3L1615.7,149.7L1613.5,159.7L1604.7,167.4L1597.3,169.9L1593.5,162.2L1592.3,146 Z" fill="#e3d95b" stroke="#4a3b38" stroke-width="1" stroke-linejoin="round"/>
<path d="M1453.7,152.2L1458.7,147.2L1468.9,151L1471.4,160L1475.1,164.9L1485.1,161.2L1492.6,168.7L1495.1,177.4L1491.3,178.6L1481.4,172.4L1472.6,166.2L1462.7,160 Z" fill="#c63c8f" stroke="#4a3b38" stroke-width="1" stroke-linejoin="round"/>
<path d="M1478.9,145L1502.9,127.1L1483.9,147.5 Z" fill="#ecb25c" stroke="#4a3b38" stroke-width="1" stroke-linejoin="round"/>
<path d="M1470.2,153.7L1477.6,147.5L1483.9,148.7L1481.4,156.2L1473.9,164.9L1471.4,162.4 Z" fill="#d9601d" stroke="#4a3b38" stroke-width="1" stroke-linejoin="round"/>
<path d="M1592.3,116.3L1611,116.3L1614.5,124.8L1612.6,130L1600.7,130L1595.8,130L1592.3,130 Z" fill="#cdcdcd" stroke="#4a3b38" stroke-width="0.9"/>
<path d="M1596,170.9L1604.7,167.4L1613.5,159.7L1617.6,158.5L1602,179.6L1595.8,183.4 Z" fill="#cdcdcd" stroke="#4a3b38" stroke-width="0.9"/>
<path d="M1519.8,194.6L1521,117.3L1530,106.4" fill="none" stroke="#4a3b38" stroke-width="1" stroke-linejoin="round"/>
<path d="M1456.2,132.3L1477.4,117.3L1502.3,108.6L1519.8,99.9" fill="none" stroke="#4a3b38" stroke-width="1" stroke-linejoin="round"/>
<path d="M1464.9,123.6L1483.6,112.4L1499.8,106.1L1514.8,98.6" fill="none" stroke="#4a3b38" stroke-width="1" stroke-linejoin="round"/>
<path d="M1471.2,164.7L1496.1,139.8L1530,106.4" fill="none" stroke="#4a3b38" stroke-width="1" stroke-linejoin="round"/>
<path d="M1559.9,117.3L1559.9,139.8L1579.6,154.7" fill="none" stroke="#4a3b38" stroke-width="1" stroke-linejoin="round"/>
<path d="M1539.7,152.2L1549.7,147.2L1569.6,168.4" fill="none" stroke="#4a3b38" stroke-width="1" stroke-linejoin="round"/>
<path d="M1559.9,139.8L1552.1,147.2" fill="none" stroke="#4a3b38" stroke-width="1" stroke-linejoin="round"/>
<path d="M1596,173.4L1596,183.4" fill="none" stroke="#4a3b38" stroke-width="1" stroke-linejoin="round"/>
<path d="M1452.5,144.8L1455,134.8L1464.9,117.3L1481.1,102.4L1502.3,91.2L1527.2,78.7L1549.7,75" fill="none" stroke="#4a3b38" stroke-width="1" stroke-linejoin="round"/>
<path d="M1552.1,189.6L1577.1,190.9L1602,179.6L1616.9,159.7L1619.4,139.8L1614.5,124.8L1607,107.4" fill="none" stroke="#4a3b38" stroke-width="1" stroke-linejoin="round"/>
<g transform="translate(1472.5,238)"><use href="#baseM"/><use href="#linesM"/></g>
<path d="M1485.7,301C1489.2,292.6 1494.9,291.2 1504.1,290.5C1513.2,289.8 1511.4,291.4 1519.8,298.4C1528.3,305.4 1528.6,305.6 1535.6,316.8C1542.6,328 1541.9,329.9 1546.1,340.4C1550.3,351 1552.1,349.2 1551.4,356.2C1550.7,363.2 1551.9,366.7 1543.5,366.7C1535.1,366.7 1530.4,363.2 1519.8,356.2C1509.3,349.2 1511.8,349.6 1504.1,340.4C1496.4,331.3 1495.8,332.6 1490.9,322C1486,311.5 1482.2,309.4 1485.7,301 Z" fill="#f4f4f4" filter="url(#blur3)"/>
<path d="M1475.1,277.3C1476.4,273.2 1484.9,265.4 1488.3,264.2C1491.7,263 1502.2,265 1504.1,266.8C1505.9,268.7 1505.6,277.8 1504.1,280C1502.5,282.1 1493.4,283.1 1490.9,285.2C1488.5,287.4 1484.6,296.7 1483,298.4C1481.5,300.1 1478.7,302.1 1477.8,299.7C1476.8,297.2 1473.9,281.5 1475.1,277.3 Z" fill="#3ea372" stroke="#3a3a3a" stroke-width="0.7"/>
<path d="M1501.4,266.8C1503.3,265.9 1518.2,270.4 1519.8,272.1C1521.5,273.8 1517.7,280.4 1515.9,281.3C1514.1,282.2 1505.8,281.6 1504.1,280C1502.4,278.3 1499.6,267.7 1501.4,266.8 Z" fill="#2e7a55" stroke="#3a3a3a" stroke-width="0.7"/>
<path d="M1514.6,277.3C1515.2,275.3 1525.6,274.5 1527.7,276C1529.9,277.6 1533.6,288.5 1533,290.5C1532.4,292.5 1524.6,294.6 1522.5,293.1C1520.3,291.6 1514,279.3 1514.6,277.3 Z" fill="#f2b763" stroke="#3a3a3a" stroke-width="0.7"/>
<path d="M1527.7,276C1529.1,275.6 1541.1,280.6 1543.5,282.6C1546,284.6 1549.7,291.7 1548.8,293.1C1547.8,294.5 1537.6,295.2 1535.6,294.4C1533.6,293.7 1532.6,288.7 1531.7,286.5C1530.8,284.4 1526.4,276.5 1527.7,276 Z" fill="#2e7a55" stroke="#3a3a3a" stroke-width="0.7"/>
<path d="M1543.5,282.6C1546,282.7 1553.3,291.1 1556.7,295.7C1560,300.3 1569.4,315.7 1572.4,322C1575.5,328.3 1582.8,346.2 1583,349.6C1583.1,353.1 1576.2,353.2 1573.7,351.5C1571.3,349.8 1565.1,340.1 1561.9,335.2C1558.7,330.2 1549.2,313.6 1546.1,308.9C1543.1,304.1 1535.9,297.5 1535.6,294.4C1535.3,291.4 1541.1,282.4 1543.5,282.6 Z" fill="#3ea372" stroke="#3a3a3a" stroke-width="0.7"/>
<g transform="translate(1486,401)"><use href="#baseB"/><use href="#linesB"/></g>
<path d="M1493.5,419.3C1493.9,417.6 1499.9,414.6 1501.4,415.4C1503,416.1 1507,424.2 1506.7,425.9C1506.4,427.6 1500.3,430.6 1498.8,429.8C1497.3,429.1 1493.2,421 1493.5,419.3 Z" fill="#3ea372" stroke="#3a3a3a" stroke-width="0.7"/>
<path d="M1501.4,415.4C1503.6,414.4 1522,416.6 1525.1,418C1528.2,419.4 1529.9,426.2 1527.7,427.2C1525.6,428.2 1509.8,428.1 1506.7,426.7C1503.6,425.3 1499.3,416.4 1501.4,415.4 Z" fill="#9b7350" stroke="#3a3a3a" stroke-width="0.7"/>
<path d="M1525.1,418C1526.3,417.4 1534.6,420.3 1538.2,422C1541.9,423.6 1554.5,430.3 1556.7,432.5C1558.8,434.6 1557.9,439.6 1556.7,440.4C1555.4,441.1 1548.6,440 1546.1,439C1543.7,438.1 1537.8,433.9 1535.6,432.5C1533.5,431.1 1529,428.9 1527.7,427.2C1526.5,425.5 1523.9,418.6 1525.1,418 Z" fill="#d24848" stroke="#3a3a3a" stroke-width="0.7"/>
<path d="M1556.7,433.8C1559.4,435 1569.8,447.7 1572.4,450.9C1575,454.1 1579,459.9 1579,461.4C1579,462.9 1575,465.6 1572.4,464C1569.8,462.5 1559.4,451 1556.7,448.2C1553.9,445.5 1548.8,442 1548.8,440.4C1548.8,438.7 1553.9,432.6 1556.7,433.8 Z" fill="#9b7350" stroke="#3a3a3a" stroke-width="0.7"/>
<path d="M1573,461.4C1572.8,459.7 1578.8,457.8 1580.3,458.8C1581.9,459.7 1586,467.6 1586.1,469.3C1586.3,471 1583.2,474.1 1581.6,473.2C1580.1,472.3 1573.1,463.1 1573,461.4 Z" fill="#3ea372" stroke="#3a3a3a" stroke-width="0.7"/>
<path d="M1581.6,470.6C1582.1,468.9 1585.2,466.6 1586.9,468C1588.6,469.4 1594.7,479.5 1596.1,482.4C1597.5,485.3 1599.6,491.7 1598.7,493C1597.8,494.2 1590,494.2 1588.2,493C1586.4,491.7 1583.7,485 1583,482.4C1582.2,479.8 1581.2,472.3 1581.6,470.6 Z" fill="#e3de5c" stroke="#3a3a3a" stroke-width="0.7"/>
<path d="M1485.7,429.8C1486.6,427.7 1491.7,421.6 1493.5,422C1495.4,422.3 1500.5,429.4 1501.4,432.5C1502.4,435.5 1502.7,446.4 1501.4,448.2C1500.2,450.1 1492.8,449.2 1490.9,448.2C1489.1,447.3 1486.3,442.5 1485.7,440.4C1485,438.2 1484.7,432 1485.7,429.8 Z" fill="#e3de5c" stroke="#3a3a3a" stroke-width="0.7"/>
<path d="M1504.1,433.8C1505.9,432.7 1516.5,430.7 1519.8,431.2C1523.2,431.6 1531.8,436.2 1533,437.7C1534.2,439.3 1532.5,443.8 1530.4,444.3C1528.2,444.8 1517.7,442.1 1514.6,441.7C1511.5,441.2 1505.3,441.3 1504.1,440.4C1502.8,439.4 1502.2,434.9 1504.1,433.8 Z" fill="#a3c14e" stroke="#3a3a3a" stroke-width="0.7"/>
<path d="M1548.8,446.9C1550.3,446.3 1559.2,448.6 1561.9,450.9C1564.7,453.2 1570.4,463.3 1572.4,466.7C1574.4,470 1579.3,478.3 1579,479.8C1578.7,481.3 1572.4,481.3 1569.8,479.8C1567.2,478.3 1559.1,469.4 1556.7,466.7C1554.2,463.9 1549.7,458.4 1548.8,456.1C1547.8,453.8 1547.2,447.5 1548.8,446.9 Z" fill="#a3c14e" stroke="#3a3a3a" stroke-width="0.7"/>
<line x1="1527.7" y1="39.5" x2="1537" y2="86.8" stroke="#231815" stroke-width="0.9"/>
<line x1="1448.8" y1="65.8" x2="1484.5" y2="143.4" stroke="#231815" stroke-width="0.9"/>
<line x1="1652.9" y1="83.7" x2="1583.2" y2="104.7" stroke="#231815" stroke-width="0.9"/>
<line x1="1418.7" y1="104.7" x2="1475.3" y2="150" stroke="#231815" stroke-width="0.9"/>
<line x1="1416" y1="148.7" x2="1456.8" y2="154" stroke="#231815" stroke-width="0.9"/>
<line x1="1666" y1="132.9" x2="1562" y2="137.4" stroke="#231815" stroke-width="0.9"/>
<line x1="1416" y1="183.7" x2="1502.9" y2="156.6" stroke="#231815" stroke-width="0.9"/>
<line x1="1660.8" y1="179" x2="1584.5" y2="169.2" stroke="#231815" stroke-width="0.9"/>
<line x1="1455.5" y1="215.8" x2="1530.5" y2="173.7" stroke="#231815" stroke-width="0.9"/>
<line x1="1625.3" y1="200.5" x2="1604.2" y2="155.3" stroke="#231815" stroke-width="0.9"/>
<line x1="1451.6" y1="255.5" x2="1508.2" y2="272.1" stroke="#231815" stroke-width="0.9"/>
<line x1="1448.4" y1="285.8" x2="1480.5" y2="278.7" stroke="#231815" stroke-width="0.9"/>
<line x1="1451.6" y1="320.8" x2="1497.6" y2="302.4" stroke="#231815" stroke-width="0.9"/>
<line x1="1472.1" y1="341.8" x2="1520" y2="282.6" stroke="#231815" stroke-width="0.9"/>
<line x1="1505.5" y1="365.5" x2="1525.3" y2="328.7" stroke="#231815" stroke-width="0.9"/>
<line x1="1466" y1="398.4" x2="1508.2" y2="419.5" stroke="#231815" stroke-width="0.9"/>
<line x1="1452.9" y1="431.3" x2="1488.4" y2="436.6" stroke="#231815" stroke-width="0.9"/>
<line x1="1460.8" y1="472.1" x2="1521.3" y2="440.5" stroke="#231815" stroke-width="0.9"/>
<line x1="1479.2" y1="505" x2="1549" y2="433.9" stroke="#231815" stroke-width="0.9"/>
<line x1="1499" y1="520.8" x2="1541" y2="469.5" stroke="#231815" stroke-width="0.9"/>
<text x="-0.2" y="647" font-size="35" fill="#1d1d1b" font-weight="bold">c</text>
<text x="218" y="666.5" font-size="30.89" fill="#d4892a">AW</text>
<text x="623.39" y="666.5" font-size="32.59" fill="#1f7f3a">NREM</text>
<text x="1064.44" y="666.5" font-size="32.04" fill="#1a2f6b">REM</text>
<line x1="449.5" y1="647" x2="449.5" y2="1084" stroke="#333" stroke-width="1.2" stroke-dasharray="3,4"/>
<line x1="883.7" y1="647" x2="883.7" y2="1084" stroke="#333" stroke-width="1.2" stroke-dasharray="3,4"/>
<circle cx="144" cy="790.6" r="36" fill="none" stroke="#cfcfcf" stroke-width="18"/>
<g fill="none" stroke="#8f8f8f" stroke-width="0.65">
<circle cx="144" cy="790.6" r="28"/>
<circle cx="144" cy="790.6" r="42"/>
<circle cx="144" cy="790.6" r="55"/>
<circle cx="144" cy="790.6" r="66"/>
<line x1="144" y1="790.6" x2="210" y2="790.6" stroke="#8f8f8f" stroke-width="0.65"/>
<line x1="144" y1="790.6" x2="201.16" y2="757.6" stroke="#8f8f8f" stroke-width="0.65"/>
<line x1="144" y1="790.6" x2="177" y2="733.44" stroke="#8f8f8f" stroke-width="0.65"/>
<line x1="144" y1="790.6" x2="144" y2="724.6" stroke="#8f8f8f" stroke-width="0.65"/>
<line x1="144" y1="790.6" x2="111" y2="733.44" stroke="#8f8f8f" stroke-width="0.65"/>
<line x1="144" y1="790.6" x2="86.84" y2="757.6" stroke="#8f8f8f" stroke-width="0.65"/>
<line x1="144" y1="790.6" x2="78" y2="790.6" stroke="#8f8f8f" stroke-width="0.65"/>
<line x1="144" y1="790.6" x2="86.84" y2="823.6" stroke="#8f8f8f" stroke-width="0.65"/>
<line x1="144" y1="790.6" x2="111" y2="847.76" stroke="#8f8f8f" stroke-width="0.65"/>
<line x1="144" y1="790.6" x2="144" y2="856.6" stroke="#8f8f8f" stroke-width="0.65"/>
<line x1="144" y1="790.6" x2="177" y2="847.76" stroke="#8f8f8f" stroke-width="0.65"/>
<line x1="144" y1="790.6" x2="201.16" y2="823.6" stroke="#8f8f8f" stroke-width="0.65"/>
</g>
<path d="M202,790.6L201.5,787.6L200.6,784.6L199.6,781.8L198.3,779.1L196.8,776.5L195.1,774L193.3,771.7L191.4,769.5L189.4,767.5L187.3,765.6L185.2,763.9L182.9,762.3L180.6,761L178.2,759.8L175.8,758.8L173.4,757.9L171,757.2L168.6,756.7L166.3,756.3L164,756L161.7,755.8L159.5,755.7L157.4,755.7L155.3,755.8L153.2,756.1L151.3,756.5L149.3,756.9L147.5,757.5L145.7,758.3L144,759.1L142.3,759.7L140.7,760.4L139.2,761.3L137.7,762.2L136.3,763.1L135,764.2L133.8,765.3L132.7,766.4L131.7,767.6L130.8,768.9L130,770.1L129.3,771.4L128.6,772.7L128,773.9L127.6,775.2L127.1,776.5L126.8,777.7L126.6,779L126.4,780.2L126.3,781.4L126.3,782.6L126.4,783.7L126.5,784.9L126.7,786L126.9,787L127.2,788L127.5,789L127.8,789.9L128.1,790.8L128.5,791.6L128.9,792.4L129.2,793.2L129.6,793.9L130,794.7L130.4,795.4L130.7,796.1L131,796.7L131.4,797.4L131.8,798.1L132.2,798.8L132.6,799.4L133,800.1L133.5,800.7L134.1,801.2L134.7,801.7L135.3,802.2L136,802.6L136.6,803L137.3,803.3L138,803.6L138.7,803.9L139.5,804.2L140.2,804.4L141,804.5L141.7,804.6L142.5,804.7L143.2,804.7L144,804.6L144.7,804.5L145.4,804.3L146.1,804L146.8,803.7L147.4,803.4L148,803L148.6,802.6L149.2,802.2" fill="none" stroke="#c5522b" stroke-width="3.8" stroke-linejoin="round" stroke-linecap="round"/>
<path d="M156.7,796.7L149,811.6L140.2,799.5 Z" fill="#c5522b"/>
<text x="140.42" y="759" font-size="18.5" fill="#1d1d1b">0</text>
<text x="130.29" y="791.1" font-size="18.5" fill="#1d1d1b">-0.1</text>
<circle cx="344" cy="790.6" r="40" fill="none" stroke="#cfcfcf" stroke-width="20"/>
<g fill="none" stroke="#8f8f8f" stroke-width="0.65">
<circle cx="344" cy="790.6" r="17"/>
<circle cx="344" cy="790.6" r="34"/>
<circle cx="344" cy="790.6" r="50"/>
<circle cx="344" cy="790.6" r="66"/>
<line x1="344" y1="790.6" x2="410" y2="790.6" stroke="#8f8f8f" stroke-width="0.65"/>
<line x1="344" y1="790.6" x2="401.16" y2="757.6" stroke="#8f8f8f" stroke-width="0.65"/>
<line x1="344" y1="790.6" x2="377" y2="733.44" stroke="#8f8f8f" stroke-width="0.65"/>
<line x1="344" y1="790.6" x2="344" y2="724.6" stroke="#8f8f8f" stroke-width="0.65"/>
<line x1="344" y1="790.6" x2="311" y2="733.44" stroke="#8f8f8f" stroke-width="0.65"/>
<line x1="344" y1="790.6" x2="286.84" y2="757.6" stroke="#8f8f8f" stroke-width="0.65"/>
<line x1="344" y1="790.6" x2="278" y2="790.6" stroke="#8f8f8f" stroke-width="0.65"/>
<line x1="344" y1="790.6" x2="286.84" y2="823.6" stroke="#8f8f8f" stroke-width="0.65"/>
<line x1="344" y1="790.6" x2="311" y2="847.76" stroke="#8f8f8f" stroke-width="0.65"/>
<line x1="344" y1="790.6" x2="344" y2="856.6" stroke="#8f8f8f" stroke-width="0.65"/>
<line x1="344" y1="790.6" x2="377" y2="847.76" stroke="#8f8f8f" stroke-width="0.65"/>
<line x1="344" y1="790.6" x2="401.16" y2="823.6" stroke="#8f8f8f" stroke-width="0.65"/>
</g>
<path d="M352.5,789.1L352.5,788.6L352.5,788.1L352.5,787.6L352.5,787.1L352.4,786.6L352.4,786L352.3,785.4L352.2,784.9L352,784.3L351.9,783.7L351.7,783.1L351.4,782.5L351.1,781.9L350.8,781.3L350.4,780.8L350,780.2L349.6,779.6L349.2,779L348.7,778.4L348.1,777.9L347.6,777.3L347,776.7L346.3,776.1L345.6,775.3L344.8,774.5L344,773.6L343.1,773.1L342.1,772.5L341.1,772L339.9,771.5L338.7,770.9L337.5,770.5L336.1,770L334.7,769.7L333.2,769.4L331.7,769.2L330.1,769.1L328.4,769.2L326.8,769.4L325.2,769.7L323.5,770.1L321.9,770.7L320.4,771.5L318.9,772.4L317.6,773.4L316.3,774.6L314.8,775.9L313.6,777.3L312.7,778.9L311.9,780.6L311.3,782.4L310.9,784.2L310.6,786.1L310.4,787.9L310.3,789.8L310.2,791.7L310.1,793.6L310.1,795.4L310.2,797.3L310.4,799.1L310.6,801L311,802.9L311.4,804.7L312,806.6L312.7,808.4L313.5,810.2L314.4,811.9L315.4,813.6L316.6,815.2L317.8,816.8L319.2,818.2L320.6,819.5L322.2,820.7L323.8,821.8L325.4,822.8L327.1,823.7L328.9,824.5L330.7,825.2L332.6,825.8L334.4,826.3L336.3,826.7L338.2,827.1L340.1,827.3L342.1,827.5L344,827.6L346.1,827.6L348.1,827.5L350.2,827.3L352.2,826.9L354.2,826.5L356.2,826L358.3,825.4L360.3,824.8L362.3,824.1L364.3,823.3L366.4,822.5L368.5,821.8L370.7,821L373.1,820.1L375.4,819.2L377.8,818.1L380.2,816.8L382.5,815.3L384.7,813.7L386.7,811.8" fill="none" stroke="#0b6437" stroke-width="3.8" stroke-linejoin="round" stroke-linecap="round"/>
<path d="M395.2,801.3L391.2,817.5L379.8,807.8 Z" fill="#0b6437"/>
<text x="337.41" y="747" font-size="18.5" fill="#1d1d1b">0.05</text>
<text x="339.32" y="769" font-size="18.5" fill="#1d1d1b">0</text>
<text x="327.86" y="791" font-size="18.5" fill="#1d1d1b">-0.05</text>
<circle cx="144" cy="972.6" r="52" fill="none" stroke="#cfcfcf" stroke-width="6"/>
<g fill="none" stroke="#8f8f8f" stroke-width="0.65">
<circle cx="144" cy="972.6" r="15"/>
<circle cx="144" cy="972.6" r="30"/>
<circle cx="144" cy="972.6" r="45"/>
<circle cx="144" cy="972.6" r="52"/>
<circle cx="144" cy="972.6" r="66"/>
<line x1="144" y1="972.6" x2="210" y2="972.6" stroke="#8f8f8f" stroke-width="0.65"/>
<line x1="144" y1="972.6" x2="201.16" y2="939.6" stroke="#8f8f8f" stroke-width="0.65"/>
<line x1="144" y1="972.6" x2="177" y2="915.44" stroke="#8f8f8f" stroke-width="0.65"/>
<line x1="144" y1="972.6" x2="144" y2="906.6" stroke="#8f8f8f" stroke-width="0.65"/>
<line x1="144" y1="972.6" x2="111" y2="915.44" stroke="#8f8f8f" stroke-width="0.65"/>
<line x1="144" y1="972.6" x2="86.84" y2="939.6" stroke="#8f8f8f" stroke-width="0.65"/>
<line x1="144" y1="972.6" x2="78" y2="972.6" stroke="#8f8f8f" stroke-width="0.65"/>
<line x1="144" y1="972.6" x2="86.84" y2="1005.6" stroke="#8f8f8f" stroke-width="0.65"/>
<line x1="144" y1="972.6" x2="111" y2="1029.76" stroke="#8f8f8f" stroke-width="0.65"/>
<line x1="144" y1="972.6" x2="144" y2="1038.6" stroke="#8f8f8f" stroke-width="0.65"/>
<line x1="144" y1="972.6" x2="177" y2="1029.76" stroke="#8f8f8f" stroke-width="0.65"/>
<line x1="144" y1="972.6" x2="201.16" y2="1005.6" stroke="#8f8f8f" stroke-width="0.65"/>
</g>
<path d="M154.7,958.4L153.9,957.9L153,957.4L152.2,957.1L151.3,956.8L150.3,956.6L149.4,956.4L148.5,956.2L147.6,956.1L146.7,956L145.8,955.9L144.9,955.8L144,955.6L143.1,955.4L142.1,955.2L141.2,955.1L140.1,954.9L139.1,954.7L138,954.6L136.9,954.6L135.7,954.6L134.6,954.6L133.4,954.8L132.2,955L131,955.3L129.9,955.7L128.8,956.3L127.7,957L126.6,957.7L125.6,958.5L124.7,959.4L123.7,960.3L122.8,961.3L122,962.3L121.2,963.5L120.5,964.6L119.8,965.8L119.2,967.1L118.6,968.4L118.2,969.8L117.7,971.2L117.4,972.6L117.1,974L116.9,975.4L116.8,976.9L116.7,978.4L116.7,979.9L116.8,981.4L117,983L117.3,984.5L117.6,986L118,987.6L118.5,989.1L119.1,990.7L119.8,992.2L120.5,993.7L121.4,995.2L122.3,996.7L123.3,998.2L124.4,999.6L125.5,1001L126.8,1002.4L128.1,1003.8L129.6,1005L131.1,1006.3L132.7,1007.4L134.4,1008.5L136.2,1009.5L138,1010.4L139.9,1011.3L141.9,1012L144,1012.6L146.2,1013.2L148.4,1013.7L150.7,1014.1L153.1,1014.4L155.5,1014.5L158,1014.5L160.5,1014.4L163,1014.1L165.5,1013.6L168.1,1013L170.6,1012.2L173.1,1011.3L175.5,1010.1L178,1009L180.4,1007.8L182.8,1006.3L185.1,1004.7L187.4,1003L189.5,1001L191.5,998.9L193.4,996.7L195.1,994.3L196.6,991.8L198.4,989.2L199.7,986.5" fill="none" stroke="#77a938" stroke-width="3.8" stroke-linejoin="round" stroke-linecap="round"/>
<path d="M204.1,973.1L206.2,989.8L192,984.8 Z" fill="#77a938"/>
<text x="143.32" y="926.7" font-size="18.5" fill="#1d1d1b">0</text>
<text x="134.59" y="942.5" font-size="18.5" fill="#1d1d1b">-0.1</text>
<text x="133.14" y="957.7" font-size="18.5" fill="#1d1d1b">-0.2</text>
<text x="130.24" y="973.4" font-size="18.5" fill="#1d1d1b">-0.3</text>
<circle cx="344" cy="972.6" r="57.5" fill="none" stroke="#cfcfcf" stroke-width="5"/>
<g fill="none" stroke="#8f8f8f" stroke-width="0.65">
<circle cx="344" cy="972.6" r="12"/>
<circle cx="344" cy="972.6" r="25"/>
<circle cx="344" cy="972.6" r="38"/>
<circle cx="344" cy="972.6" r="52"/>
<circle cx="344" cy="972.6" r="60"/>
<circle cx="344" cy="972.6" r="66"/>
<line x1="344" y1="972.6" x2="410" y2="972.6" stroke="#8f8f8f" stroke-width="0.65"/>
<line x1="344" y1="972.6" x2="401.16" y2="939.6" stroke="#8f8f8f" stroke-width="0.65"/>
<line x1="344" y1="972.6" x2="377" y2="915.44" stroke="#8f8f8f" stroke-width="0.65"/>
<line x1="344" y1="972.6" x2="344" y2="906.6" stroke="#8f8f8f" stroke-width="0.65"/>
<line x1="344" y1="972.6" x2="311" y2="915.44" stroke="#8f8f8f" stroke-width="0.65"/>
<line x1="344" y1="972.6" x2="286.84" y2="939.6" stroke="#8f8f8f" stroke-width="0.65"/>
<line x1="344" y1="972.6" x2="278" y2="972.6" stroke="#8f8f8f" stroke-width="0.65"/>
<line x1="344" y1="972.6" x2="286.84" y2="1005.6" stroke="#8f8f8f" stroke-width="0.65"/>
<line x1="344" y1="972.6" x2="311" y2="1029.76" stroke="#8f8f8f" stroke-width="0.65"/>
<line x1="344" y1="972.6" x2="344" y2="1038.6" stroke="#8f8f8f" stroke-width="0.65"/>
<line x1="344" y1="972.6" x2="377" y2="1029.76" stroke="#8f8f8f" stroke-width="0.65"/>
<line x1="344" y1="972.6" x2="401.16" y2="1005.6" stroke="#8f8f8f" stroke-width="0.65"/>
</g>
<path d="M389.8,971.8L388.7,969.3L387.2,967L385.4,964.8L383.2,962.9L380.9,961.2L378.5,959.8L376.2,958.6L373.9,957.5L371.7,956.6L370,955.7L368.3,954.9L366.6,954.3L364.9,953.8L363.3,953.3L361.6,953L360,952.8L358.5,952.6L357,952.5L355.6,952.5L354.3,952.5L352.9,952.5L351.8,952.4L350.6,952.3L349.4,952.3L348.3,952.4L347.2,952.5L346.1,952.6L345,952.7L344,952.9L343,953.1L342,953.4L341,953.7L340,954L339.1,954.3L338.2,954.7L337.3,955.1L336.4,955.5L335.5,955.9L334.6,956.4L333.8,956.9L332.8,957.4L331.9,957.9L331,958.4L330.1,959L329.2,959.6L328.2,960.2L327.3,960.9L326.4,961.7L325.6,962.5L324.8,963.4L324,964.3L323.3,965.3L322.7,966.4L322.2,967.5L321.7,968.7L321.3,969.8L321.1,971L320.9,972.2L320.9,973.4L320.9,974.6L321,975.8L321.1,977L321.2,978.3L321.3,979.5L321.4,980.8L321.6,982.1L321.8,983.5L322.1,984.9L322.4,986.3L322.7,987.7L323.1,989.2L323.7,990.6L324.3,992.1L325,993.5L325.8,994.9L326.8,996.2L327.8,997.4L329,998.6L330.2,999.6L331.5,1000.6L332.9,1001.4L334.4,1002.2L335.9,1002.8L337.5,1003.4L339,1003.9L340.7,1004.3L342.3,1004.7L344,1005L345.7,1005.2L347.4,1005.4L349.3,1005.6L351.2,1005.8L353.1,1005.8L355,1005.8L357,1005.7L359,1005.5L361.1,1005.2L363.1,1004.7L365.1,1004.1L367.1,1003.4L369.1,1002.5L371.1,1001.6L373.1,1000.5L375.1,999.3L377,997.9L378.9,996.5L380.6,994.8L382.3,993.1L383.9,991.2L385.7,989.4L387.4,987.5L388.9,985.5" fill="none" stroke="#a17d46" stroke-width="3.8" stroke-linejoin="round" stroke-linecap="round"/>
<path d="M395.3,974.1L394.2,990.8L381.3,983.1 Z" fill="#a17d46"/>
<text x="344.52" y="918.1" font-size="18.5" fill="#1d1d1b">0</text>
<text x="336.59" y="931.6" font-size="18.5" fill="#1d1d1b">-0.1</text>
<text x="335.14" y="946" font-size="18.5" fill="#1d1d1b">-0.2</text>
<text x="333.04" y="960.3" font-size="18.5" fill="#1d1d1b">-0.3</text>
<text x="330.75" y="974.6" font-size="18.5" fill="#1d1d1b">-0.4</text>
<circle cx="578.4" cy="790.6" r="27" fill="none" stroke="#cfcfcf" stroke-width="17"/>
<g fill="none" stroke="#8f8f8f" stroke-width="0.65">
<circle cx="578.4" cy="790.6" r="27"/>
<circle cx="578.4" cy="790.6" r="57"/>
<circle cx="578.4" cy="790.6" r="66"/>
<line x1="578.4" y1="790.6" x2="644.4" y2="790.6" stroke="#8f8f8f" stroke-width="0.65"/>
<line x1="578.4" y1="790.6" x2="635.56" y2="757.6" stroke="#8f8f8f" stroke-width="0.65"/>
<line x1="578.4" y1="790.6" x2="611.4" y2="733.44" stroke="#8f8f8f" stroke-width="0.65"/>
<line x1="578.4" y1="790.6" x2="578.4" y2="724.6" stroke="#8f8f8f" stroke-width="0.65"/>
<line x1="578.4" y1="790.6" x2="545.4" y2="733.44" stroke="#8f8f8f" stroke-width="0.65"/>
<line x1="578.4" y1="790.6" x2="521.24" y2="757.6" stroke="#8f8f8f" stroke-width="0.65"/>
<line x1="578.4" y1="790.6" x2="512.4" y2="790.6" stroke="#8f8f8f" stroke-width="0.65"/>
<line x1="578.4" y1="790.6" x2="521.24" y2="823.6" stroke="#8f8f8f" stroke-width="0.65"/>
<line x1="578.4" y1="790.6" x2="545.4" y2="847.76" stroke="#8f8f8f" stroke-width="0.65"/>
<line x1="578.4" y1="790.6" x2="578.4" y2="856.6" stroke="#8f8f8f" stroke-width="0.65"/>
<line x1="578.4" y1="790.6" x2="611.4" y2="847.76" stroke="#8f8f8f" stroke-width="0.65"/>
<line x1="578.4" y1="790.6" x2="635.56" y2="823.6" stroke="#8f8f8f" stroke-width="0.65"/>
</g>
<path d="M585.4,790.6L585.8,790.2L586.2,789.8L586.7,789.3L587.3,788.7L587.8,788.1L588.4,787.4L588.9,786.6L589.4,785.7L589.9,784.8L590.3,783.7L590.6,782.7L590.9,781.5L591,780.4L591.1,779.2L591,778L590.8,776.8L590.5,775.6L590.1,774.5L589.6,773.4L588.9,772.4L588.3,771.1L587.5,770.1L586.6,769.1L585.6,768.3L584.6,767.6L583.4,767L582.2,766.5L581,766L579.7,765.6L578.4,765.1L577,764.8L575.6,764.6L574.1,764.5L572.6,764.4L571.1,764.5L569.6,764.6L568,764.8L566.5,765.1L565,765.5L563.4,765.9L561.9,766.5L560.4,767.1L558.9,767.9L557.5,768.7L556,769.7L554.7,770.7L553.3,771.8L552,773L550.8,774.3L549.6,775.6L548.5,777L547.4,778.6L546.5,780.2L545.6,781.8L544.8,783.5L544.1,785.3L543.5,787.2L542.9,789.1L542.5,791L542.2,793L542,795L542,797L541.9,799.1L542,801.2L542.2,803.2L542.5,805.3L542.9,807.5L543.4,809.6L544.1,811.6L544.9,813.7L545.8,815.8L546.9,817.8L548.1,819.7L549.3,821.7L550.8,823.5L552.3,825.3L553.9,826.9L555.6,828.5L557.5,830L559.4,831.4L561.4,832.7L563.5,833.9L565.7,835L567.9,836L570.2,836.9L572.6,837.6L575.1,838.3L577.6,838.8L580.1,839.2L582.7,839.4L585.3,839.7L588,840L590.7,840L593.5,840L596.3,839.8L599.1,839.3L601.9,838.7L604.6,837.9L607.3,836.9L609.9,835.7L612.5,834.2L614.8,832.5L617.1,830.7L619.2,828.7L621.2,826.5L623.1,824.2L624.8,821.9L626.4,819.4L627.8,816.9L629.2,814.3L630.4,811.6L631.4,808.9L632.3,806" fill="none" stroke="#c5522b" stroke-width="3.8" stroke-linejoin="round" stroke-linecap="round"/>
<path d="M635.5,792.6L639.1,808.9L624.6,805.3 Z" fill="#c5522b"/>
<text x="574.79" y="741.3" font-size="18.5" fill="#1d1d1b">0.1</text>
<text x="573.22" y="769.6" font-size="18.5" fill="#1d1d1b">0</text>
<circle cx="778.2" cy="790.6" r="27" fill="#cfcfcf"/>
<g fill="none" stroke="#8f8f8f" stroke-width="0.65">
<circle cx="778.2" cy="790.6" r="12"/>
<circle cx="778.2" cy="790.6" r="27"/>
<circle cx="778.2" cy="790.6" r="42"/>
<circle cx="778.2" cy="790.6" r="57"/>
<circle cx="778.2" cy="790.6" r="62"/>
<circle cx="778.2" cy="790.6" r="66"/>
<line x1="778.2" y1="790.6" x2="844.2" y2="790.6" stroke="#8f8f8f" stroke-width="0.65"/>
<line x1="778.2" y1="790.6" x2="835.36" y2="757.6" stroke="#8f8f8f" stroke-width="0.65"/>
<line x1="778.2" y1="790.6" x2="811.2" y2="733.44" stroke="#8f8f8f" stroke-width="0.65"/>
<line x1="778.2" y1="790.6" x2="778.2" y2="724.6" stroke="#8f8f8f" stroke-width="0.65"/>
<line x1="778.2" y1="790.6" x2="745.2" y2="733.44" stroke="#8f8f8f" stroke-width="0.65"/>
<line x1="778.2" y1="790.6" x2="721.04" y2="757.6" stroke="#8f8f8f" stroke-width="0.65"/>
<line x1="778.2" y1="790.6" x2="712.2" y2="790.6" stroke="#8f8f8f" stroke-width="0.65"/>
<line x1="778.2" y1="790.6" x2="721.04" y2="823.6" stroke="#8f8f8f" stroke-width="0.65"/>
<line x1="778.2" y1="790.6" x2="745.2" y2="847.76" stroke="#8f8f8f" stroke-width="0.65"/>
<line x1="778.2" y1="790.6" x2="778.2" y2="856.6" stroke="#8f8f8f" stroke-width="0.65"/>
<line x1="778.2" y1="790.6" x2="811.2" y2="847.76" stroke="#8f8f8f" stroke-width="0.65"/>
<line x1="778.2" y1="790.6" x2="835.36" y2="823.6" stroke="#8f8f8f" stroke-width="0.65"/>
</g>
<path d="M827.2,790.6L827.2,787.9L827.1,785.2L826.9,782.5L826.5,779.9L826,777.2L825.3,774.6L824.6,771.9L823.6,769.4L822.5,766.8L821.3,764.3L819.9,761.9L818.4,759.6L816.7,757.4L814.9,755.3L813,753.3L810.9,751.5L808.8,749.8L806.5,748.3L804.1,747L801.7,745.8L799.2,744.8L796.6,743.8L794,743.1L791.4,742.4L788.8,741.9L786.2,741.4L783.5,741.1L780.9,740.8L778.2,740.6L775.5,740.4L772.8,740.3L770,740.2L767.2,740.1L764.3,740.2L761.5,740.4L758.6,740.8L755.7,741.4L752.8,742.2L750,743.2L747.3,744.5L744.7,746L742.2,747.7L739.9,749.7L737.9,751.9L736,754.3L734.4,756.8L733,759.4L731.7,762.1L730.7,764.8L729.7,767.6L729,770.4L728.4,773.2L727.8,776L727.4,778.8L727,781.6L726.7,784.3L726.4,787L726.1,789.7L726,792.4L725.9,795.2L726,797.9L726.3,800.7L726.7,803.4L727.4,806.1L728.4,808.7L729.6,811.4L731.1,814L732.7,816.4L734.5,818.7L736.4,820.8L738.5,822.9L740.7,824.7L742.9,826.4L745.3,828L747.7,829.4L750.1,830.7L752.6,831.9L755.1,832.9L757.6,833.8L760.2,834.6L762.8,835.1L765.4,835.5L768,835.8L770.6,835.8L773.2,835.6L775.7,835.2L778.2,834.6L780.5,833.7L782.6,832.5L784.6,831.2L786.5,829.7L788.2,828.1L789.8,826.4L791.3,824.6L792.5,822.8L793.7,821L794.7,819.2L795.4,816.7L795.8,814.3L796.1,812L796.2,809.7L796.1,807.5L795.8,805.4" fill="none" stroke="#0b6437" stroke-width="3.8" stroke-linejoin="round" stroke-linecap="round"/>
<path d="M785.8,791.3L800.2,799.9L787.5,808 Z" fill="#0b6437"/>
<text x="775.39" y="735.5" font-size="18.5" fill="#1d1d1b">0.1</text>
<text x="769.41" y="756.7" font-size="18.5" fill="#1d1d1b">0.05</text>
<text x="772.42" y="777.7" font-size="18.5" fill="#1d1d1b">0</text>
<circle cx="578.4" cy="972.6" r="26.5" fill="none" stroke="#cfcfcf" stroke-width="9"/>
<g fill="none" stroke="#8f8f8f" stroke-width="0.65">
<circle cx="578.4" cy="972.6" r="14"/>
<circle cx="578.4" cy="972.6" r="27"/>
<circle cx="578.4" cy="972.6" r="41"/>
<circle cx="578.4" cy="972.6" r="54"/>
<circle cx="578.4" cy="972.6" r="66"/>
<line x1="578.4" y1="972.6" x2="644.4" y2="972.6" stroke="#8f8f8f" stroke-width="0.65"/>
<line x1="578.4" y1="972.6" x2="635.56" y2="939.6" stroke="#8f8f8f" stroke-width="0.65"/>
<line x1="578.4" y1="972.6" x2="611.4" y2="915.44" stroke="#8f8f8f" stroke-width="0.65"/>
<line x1="578.4" y1="972.6" x2="578.4" y2="906.6" stroke="#8f8f8f" stroke-width="0.65"/>
<line x1="578.4" y1="972.6" x2="545.4" y2="915.44" stroke="#8f8f8f" stroke-width="0.65"/>
<line x1="578.4" y1="972.6" x2="521.24" y2="939.6" stroke="#8f8f8f" stroke-width="0.65"/>
<line x1="578.4" y1="972.6" x2="512.4" y2="972.6" stroke="#8f8f8f" stroke-width="0.65"/>
<line x1="578.4" y1="972.6" x2="521.24" y2="1005.6" stroke="#8f8f8f" stroke-width="0.65"/>
<line x1="578.4" y1="972.6" x2="545.4" y2="1029.76" stroke="#8f8f8f" stroke-width="0.65"/>
<line x1="578.4" y1="972.6" x2="578.4" y2="1038.6" stroke="#8f8f8f" stroke-width="0.65"/>
<line x1="578.4" y1="972.6" x2="611.4" y2="1029.76" stroke="#8f8f8f" stroke-width="0.65"/>
<line x1="578.4" y1="972.6" x2="635.56" y2="1005.6" stroke="#8f8f8f" stroke-width="0.65"/>
</g>
<path d="M620,971.1L620.1,968.9L620.2,966.7L620.3,964.5L620.2,962.2L620.1,959.9L619.9,957.5L619.5,955.1L619.1,952.8L618.5,950.4L617.8,948L616.9,945.6L615.9,943.3L614.7,941.1L613.3,938.9L611.8,936.8L610.1,934.7L608.3,932.7L606.4,930.8L604.3,929L602.1,927.3L599.8,925.8L597.4,924.4L594.9,923.1L592.3,921.9L589.6,921L586.9,920.1L584.1,919.4L581.3,918.9L578.4,918.6L575.5,918.4L572.6,918.4L569.6,918.6L566.7,919L563.8,919.5L560.9,920.2L558.1,921L555.3,922.1L552.6,923.3L549.9,924.6L547.3,926.1L544.8,927.8L542.5,929.7L540.2,931.6L538,933.8L536,936.1L534.2,938.5L532.5,941.1L531,943.7L529.6,946.4L528.4,949.2L527.4,952.1L526.5,954.9L525.8,957.9L525.3,960.8L524.9,963.7L524.6,966.7L524.4,969.6L524.4,972.6L524.5,975.5L524.6,978.4L524.9,981.3L525.2,984.2L525.8,987.1L526.4,990L527.3,992.8L528.3,995.6L529.5,998.3L530.9,1000.9L532.6,1003.4L534.5,1005.7L536.5,1007.8L538.6,1009.7L540.9,1011.4L543.3,1013L545.8,1014.4L548.3,1015.6L550.9,1016.6L553.5,1017.5L556.2,1018.2L558.8,1018.7L561.5,1019.1L564.1,1019.4L566.7,1019.6L569.2,1019.7L571.9,1019.7L574.4,1019.6L577,1019.4L579.5,1019.1L582,1018.7L584.4,1018.2L586.8,1017.5L589.1,1016.6L591.3,1015.6L593.5,1014.4L595.4,1012.9L597.2,1011.2L598.7,1009.2L599.9,1007L600.8,1004.6L601.5,1002.2L601.9,999.7L602.2,997.2L602.2,994.8L602.1,992.5L601.9,990.3L601.6,988.3L599.6,985.3L597.4,982.7" fill="none" stroke="#77a938" stroke-width="3.8" stroke-linejoin="round" stroke-linecap="round"/>
<path d="M589,972.9L604.4,979.4L593,989.2 Z" fill="#77a938"/>
<text x="574.24" y="923.8" font-size="18.5" fill="#1d1d1b">0.2</text>
<text x="571.89" y="937.6" font-size="18.5" fill="#1d1d1b">0.1</text>
<text x="573.22" y="950.5" font-size="18.5" fill="#1d1d1b">0</text>
<text x="564.49" y="963.4" font-size="18.5" fill="#1d1d1b">-0.1</text>
<text x="564.54" y="977.7" font-size="18.5" fill="#1d1d1b">-0.2</text>
<circle cx="778.2" cy="972.6" r="13" fill="#cfcfcf"/>
<g fill="none" stroke="#8f8f8f" stroke-width="0.65">
<circle cx="778.2" cy="972.6" r="14"/>
<circle cx="778.2" cy="972.6" r="28"/>
<circle cx="778.2" cy="972.6" r="42"/>
<circle cx="778.2" cy="972.6" r="56"/>
<circle cx="778.2" cy="972.6" r="66"/>
<line x1="778.2" y1="972.6" x2="844.2" y2="972.6" stroke="#8f8f8f" stroke-width="0.65"/>
<line x1="778.2" y1="972.6" x2="835.36" y2="939.6" stroke="#8f8f8f" stroke-width="0.65"/>
<line x1="778.2" y1="972.6" x2="811.2" y2="915.44" stroke="#8f8f8f" stroke-width="0.65"/>
<line x1="778.2" y1="972.6" x2="778.2" y2="906.6" stroke="#8f8f8f" stroke-width="0.65"/>
<line x1="778.2" y1="972.6" x2="745.2" y2="915.44" stroke="#8f8f8f" stroke-width="0.65"/>
<line x1="778.2" y1="972.6" x2="721.04" y2="939.6" stroke="#8f8f8f" stroke-width="0.65"/>
<line x1="778.2" y1="972.6" x2="712.2" y2="972.6" stroke="#8f8f8f" stroke-width="0.65"/>
<line x1="778.2" y1="972.6" x2="721.04" y2="1005.6" stroke="#8f8f8f" stroke-width="0.65"/>
<line x1="778.2" y1="972.6" x2="745.2" y2="1029.76" stroke="#8f8f8f" stroke-width="0.65"/>
<line x1="778.2" y1="972.6" x2="778.2" y2="1038.6" stroke="#8f8f8f" stroke-width="0.65"/>
<line x1="778.2" y1="972.6" x2="811.2" y2="1029.76" stroke="#8f8f8f" stroke-width="0.65"/>
<line x1="778.2" y1="972.6" x2="835.36" y2="1005.6" stroke="#8f8f8f" stroke-width="0.65"/>
</g>
<path d="M792.7,951L792.1,949.5L791.5,947.6L790.8,945.5L790,943.3L789.1,941L787.9,938.6L786.6,936.4L784.9,934.3L783.1,932.6L781.1,931.2L778.9,930.6L776.6,930.2L774.3,929.9L772,929.8L769.7,929.9L767.4,930.2L765.1,930.6L762.8,931.1L760.5,931.8L758.3,932.7L756.1,933.7L754,934.8L751.9,936L749.9,937.3L748,938.8L746.1,940.3L744.3,942L742.6,943.7L741,945.6L739.4,947.4L737.8,949.3L736.4,951.3L735.1,953.4L733.9,955.6L732.8,957.9L731.9,960.2L731,962.6L730.4,965L729.8,967.5L729.4,970L729.2,972.6L729.1,975.2L729.2,977.7L729.4,980.3L729.8,982.9L730.3,985.4L731,987.9L731.8,990.4L732.7,992.9L733.8,995.2L735,997.6L736.3,999.8L737.8,1002L739.3,1004.1L741,1006.1L742.8,1008L744.8,1009.7L746.8,1011.4L748.9,1013L751,1014.4L753.3,1015.8L755.6,1017L758,1018L760.4,1019L762.9,1019.7L765.4,1020.4L767.9,1020.9L770.5,1021.3L773.1,1021.5L775.6,1021.6L778.2,1021.6L780.8,1021.4L783.5,1021.1L786,1020.7L788.6,1020.1L791.1,1019.4L793.6,1018.5L796,1017.4L798.3,1016.1L800.4,1014.7L802.4,1013L804.2,1011.2L805.6,1008.9L806.6,1006.5L807.4,1003.9L807.9,1001.2L808,998.5L807.9,995.8L807.6,993.2L807,990.6L804.1,986.7L800.1,982.8" fill="none" stroke="#a17d46" stroke-width="3.8" stroke-linejoin="round" stroke-linecap="round"/>
<path d="M787.3,972.4L803.6,976.4L793.9,987.8 Z" fill="#a17d46"/>
<text x="774.03" y="928.7" font-size="18.5" fill="#1d1d1b">0.2</text>
<text x="769.69" y="949.6" font-size="18.5" fill="#1d1d1b">0.1</text>
<text x="770.72" y="969.7" font-size="18.5" fill="#1d1d1b">0</text>
<circle cx="1012.4" cy="790.6" r="9" fill="#cfcfcf"/>
<g fill="none" stroke="#8f8f8f" stroke-width="0.65">
<circle cx="1012.4" cy="790.6" r="10"/>
<circle cx="1012.4" cy="790.6" r="22"/>
<circle cx="1012.4" cy="790.6" r="36"/>
<circle cx="1012.4" cy="790.6" r="51"/>
<circle cx="1012.4" cy="790.6" r="66"/>
<line x1="1012.4" y1="790.6" x2="1078.4" y2="790.6" stroke="#8f8f8f" stroke-width="0.65"/>
<line x1="1012.4" y1="790.6" x2="1069.56" y2="757.6" stroke="#8f8f8f" stroke-width="0.65"/>
<line x1="1012.4" y1="790.6" x2="1045.4" y2="733.44" stroke="#8f8f8f" stroke-width="0.65"/>
<line x1="1012.4" y1="790.6" x2="1012.4" y2="724.6" stroke="#8f8f8f" stroke-width="0.65"/>
<line x1="1012.4" y1="790.6" x2="979.4" y2="733.44" stroke="#8f8f8f" stroke-width="0.65"/>
<line x1="1012.4" y1="790.6" x2="955.24" y2="757.6" stroke="#8f8f8f" stroke-width="0.65"/>
<line x1="1012.4" y1="790.6" x2="946.4" y2="790.6" stroke="#8f8f8f" stroke-width="0.65"/>
<line x1="1012.4" y1="790.6" x2="955.24" y2="823.6" stroke="#8f8f8f" stroke-width="0.65"/>
<line x1="1012.4" y1="790.6" x2="979.4" y2="847.76" stroke="#8f8f8f" stroke-width="0.65"/>
<line x1="1012.4" y1="790.6" x2="1012.4" y2="856.6" stroke="#8f8f8f" stroke-width="0.65"/>
<line x1="1012.4" y1="790.6" x2="1045.4" y2="847.76" stroke="#8f8f8f" stroke-width="0.65"/>
<line x1="1012.4" y1="790.6" x2="1069.56" y2="823.6" stroke="#8f8f8f" stroke-width="0.65"/>
</g>
<path d="M1036.4,790.6L1036.6,789.3L1036.7,788L1036.9,786.7L1036.9,785.3L1037,783.9L1036.9,782.5L1036.9,781L1036.7,779.6L1036.5,778.1L1036.1,776.6L1035.7,775.1L1035.2,773.6L1034.7,772.1L1034,770.6L1033.2,769.2L1032.3,767.8L1031.3,766.5L1030.2,765.2L1029,764L1027.7,762.8L1026.4,761.7L1025,760.7L1023.5,759.8L1021.9,758.9L1020.3,758.1L1018.6,757.4L1016.9,756.8L1015.1,756.2L1013.2,755.8L1011.4,755.5L1009.5,755.3L1007.6,755.2L1005.6,755.2L1003.7,755.3L1001.7,755.5L999.7,755.8L997.8,756.3L995.8,756.9L993.9,757.7L992,758.5L990.2,759.4L988.4,760.5L986.6,761.6L984.9,762.9L983.3,764.3L981.7,765.7L980.2,767.3L978.8,768.9L977.5,770.6L976.3,772.4L975.1,774.3L974.1,776.3L973.2,778.3L972.3,780.4L971.6,782.5L971,784.7L970.6,786.9L970.1,789.1L969.8,791.3L969.6,793.6L969.6,795.9L969.6,798.1L969.8,800.4L970.1,802.7L970.5,805L971.1,807.3L971.8,809.5L972.6,811.8L973.6,813.9L974.7,816L975.9,818.1L977.3,820.1L978.8,822L980.4,823.8L982.3,825.6L984.2,827.2L986.2,828.7L988.4,830L990.6,831.3L992.9,832.4L995.2,833.3L997.6,834.1L1000,834.8L1002.4,835.4L1004.9,835.9L1007.4,836.2L1009.9,836.5L1012.4,836.6L1014.8,836.7L1017.2,836.6L1019.7,836.5L1022.1,836.2L1024.5,835.9L1026.9,835.4L1029.4,834.8L1031.7,834L1034.1,833.2L1036.4,832.2L1038.7,831.1L1040.9,829.8L1043,828.4L1045.1,826.9L1047,825.2L1049,823.5L1050.7,821.7L1052.4,819.7L1054,817.6L1055.4,815.4L1056.7,813.2L1057.9,810.9L1059,808.5" fill="none" stroke="#c5522b" stroke-width="3.8" stroke-linejoin="round" stroke-linecap="round"/>
<path d="M1063.5,796.1L1065.2,812.7L1051.2,807.4 Z" fill="#c5522b"/>
<text x="1011.29" y="746.7" font-size="18.5" fill="#1d1d1b">1</text>
<text x="1003.84" y="768.2" font-size="18.5" fill="#1d1d1b">0.5</text>
<text x="1003.82" y="789.7" font-size="18.5" fill="#1d1d1b">0</text>
<circle cx="1212.5" cy="790.6" r="50" fill="none" stroke="#cfcfcf" stroke-width="20"/>
<g fill="none" stroke="#8f8f8f" stroke-width="0.65">
<circle cx="1212.5" cy="790.6" r="24"/>
<circle cx="1212.5" cy="790.6" r="50"/>
<circle cx="1212.5" cy="790.6" r="60"/>
<circle cx="1212.5" cy="790.6" r="66"/>
<line x1="1212.5" y1="790.6" x2="1278.5" y2="790.6" stroke="#8f8f8f" stroke-width="0.65"/>
<line x1="1212.5" y1="790.6" x2="1269.66" y2="757.6" stroke="#8f8f8f" stroke-width="0.65"/>
<line x1="1212.5" y1="790.6" x2="1245.5" y2="733.44" stroke="#8f8f8f" stroke-width="0.65"/>
<line x1="1212.5" y1="790.6" x2="1212.5" y2="724.6" stroke="#8f8f8f" stroke-width="0.65"/>
<line x1="1212.5" y1="790.6" x2="1179.5" y2="733.44" stroke="#8f8f8f" stroke-width="0.65"/>
<line x1="1212.5" y1="790.6" x2="1155.34" y2="757.6" stroke="#8f8f8f" stroke-width="0.65"/>
<line x1="1212.5" y1="790.6" x2="1146.5" y2="790.6" stroke="#8f8f8f" stroke-width="0.65"/>
<line x1="1212.5" y1="790.6" x2="1155.34" y2="823.6" stroke="#8f8f8f" stroke-width="0.65"/>
<line x1="1212.5" y1="790.6" x2="1179.5" y2="847.76" stroke="#8f8f8f" stroke-width="0.65"/>
<line x1="1212.5" y1="790.6" x2="1212.5" y2="856.6" stroke="#8f8f8f" stroke-width="0.65"/>
<line x1="1212.5" y1="790.6" x2="1245.5" y2="847.76" stroke="#8f8f8f" stroke-width="0.65"/>
<line x1="1212.5" y1="790.6" x2="1269.66" y2="823.6" stroke="#8f8f8f" stroke-width="0.65"/>
</g>
<path d="M1230.6,782.1L1230.4,781L1230.2,779.9L1230,778.7L1229.8,777.4L1229.5,776.2L1229.1,774.8L1228.7,773.5L1228.2,772.2L1227.6,770.8L1226.9,769.5L1226.1,768.2L1225.2,766.9L1224.1,765.7L1223,764.6L1221.8,763.3L1220.5,762L1219.1,760.7L1217.5,759.5L1215.9,758.3L1214.1,757.4L1212.3,756.6L1210.3,756.2L1208.4,756L1206.4,756.1L1204.6,756.6L1202.8,757.3L1201.1,758.2L1199.5,759.3L1198.1,760.5L1196.8,761.9L1195.5,763.3L1194.5,764.8L1193.5,766.4L1192.6,767.9L1191.8,769.5L1191.1,771L1190.4,772.5L1189.7,773.9L1189,775.3L1188.3,776.6L1187.5,777.9L1186.7,779.2L1185.8,780.5L1185,781.8L1184.2,783.2L1183.3,784.6L1182.5,786.1L1181.8,787.6L1181.1,789.2L1180.5,790.9L1179.9,792.7L1179.5,794.5L1179.2,796.3L1179,798.2L1179,800.1L1179.1,802L1179.4,803.9L1179.9,805.8L1180.4,807.7L1181.1,809.6L1181.9,811.4L1182.9,813.1L1184,814.8L1185.2,816.4L1186.6,818L1188,819.4L1189.5,820.7L1191.2,822L1192.9,823.1L1194.6,824.1L1196.4,825L1198.4,825.8L1200.3,826.5L1202.3,826.9L1204.4,827.2L1206.4,827.4L1208.5,827.3L1210.5,827L1212.5,826.6L1214.4,826.2L1216.3,825.6L1218.1,824.8L1219.8,823.9L1221.4,822.9L1222.9,821.8L1224.3,820.6L1225.7,819.3L1226.9,818.1L1228.1,816.8L1229.3,815.6L1230.4,814.4L1231.5,813.2L1232.5,812.1L1233.6,811L1234.7,809.9L1235.8,808.8L1236.9,807.7L1238,806.6L1239.1,805.3L1240.1,804" fill="none" stroke="#0b6437" stroke-width="3.8" stroke-linejoin="round" stroke-linecap="round"/>
<path d="M1245.8,794.4L1244.4,811.1L1231.6,803.3 Z" fill="#0b6437"/>
<text x="1211.62" y="746.7" font-size="18.5" fill="#1d1d1b">0</text>
<text x="1202.34" y="772.5" font-size="18.5" fill="#1d1d1b">-0.2</text>
<circle cx="1012.4" cy="972.6" r="60" fill="none" stroke="#cfcfcf" stroke-width="4"/>
<g fill="none" stroke="#8f8f8f" stroke-width="0.65">
<circle cx="1012.4" cy="972.6" r="12"/>
<circle cx="1012.4" cy="972.6" r="26"/>
<circle cx="1012.4" cy="972.6" r="40"/>
<circle cx="1012.4" cy="972.6" r="56"/>
<circle cx="1012.4" cy="972.6" r="62"/>
<circle cx="1012.4" cy="972.6" r="66"/>
<line x1="1012.4" y1="972.6" x2="1078.4" y2="972.6" stroke="#8f8f8f" stroke-width="0.65"/>
<line x1="1012.4" y1="972.6" x2="1069.56" y2="939.6" stroke="#8f8f8f" stroke-width="0.65"/>
<line x1="1012.4" y1="972.6" x2="1045.4" y2="915.44" stroke="#8f8f8f" stroke-width="0.65"/>
<line x1="1012.4" y1="972.6" x2="1012.4" y2="906.6" stroke="#8f8f8f" stroke-width="0.65"/>
<line x1="1012.4" y1="972.6" x2="979.4" y2="915.44" stroke="#8f8f8f" stroke-width="0.65"/>
<line x1="1012.4" y1="972.6" x2="955.24" y2="939.6" stroke="#8f8f8f" stroke-width="0.65"/>
<line x1="1012.4" y1="972.6" x2="946.4" y2="972.6" stroke="#8f8f8f" stroke-width="0.65"/>
<line x1="1012.4" y1="972.6" x2="955.24" y2="1005.6" stroke="#8f8f8f" stroke-width="0.65"/>
<line x1="1012.4" y1="972.6" x2="979.4" y2="1029.76" stroke="#8f8f8f" stroke-width="0.65"/>
<line x1="1012.4" y1="972.6" x2="1012.4" y2="1038.6" stroke="#8f8f8f" stroke-width="0.65"/>
<line x1="1012.4" y1="972.6" x2="1045.4" y2="1029.76" stroke="#8f8f8f" stroke-width="0.65"/>
<line x1="1012.4" y1="972.6" x2="1069.56" y2="1005.6" stroke="#8f8f8f" stroke-width="0.65"/>
</g>
<path d="M1041.9,970L1041.6,968.4L1041.1,966.8L1040.6,965.3L1039.9,963.8L1039.1,962.4L1038.3,961L1037.4,959.7L1036.4,958.5L1035.3,957.3L1034.2,956.3L1033.1,955.2L1031.9,954.3L1030.7,953.5L1029.4,952.8L1028.1,952.2L1026.8,951.6L1025.5,951.2L1024.2,950.8L1022.9,950.4L1021.6,950.1L1020.3,949.8L1019,949.5L1017.8,949.3L1016.6,949L1015.3,948.8L1014.1,948.6L1012.8,948.5L1011.6,948.5L1010.3,948.4L1009,948.5L1007.7,948.6L1006.5,948.8L1005.2,949L1003.9,949.3L1002.7,949.7L1001.5,950.2L1000.3,950.8L999.1,951.4L998,952.1L997,952.9L996,953.7L995,954.7L994.2,955.7L993.4,956.8L992.7,958L992,959.2L991.5,960.4L991,961.6L990.7,962.9L990.4,964.2L990.2,965.4L990,966.7L989.9,968L989.9,969.3L990,970.5L990.1,971.7L990.2,972.9L990.5,974.1L990.7,975.3L991,976.4L991.3,977.5L991.7,978.6L992.1,979.7L992.6,980.7L993.2,981.7L993.8,982.7L994.4,983.6L995.1,984.5L995.8,985.3L996.6,986.1L997.4,986.9L998.2,987.6L999.1,988.3L1000,988.9L1001,989.4L1001.9,990L1002.9,990.4L1003.9,990.8L1004.9,991.1L1005.9,991.4L1007,991.6L1008.1,991.7L1009.1,991.8L1010.1,991.8L1011.2,991.7L1012.2,991.6L1013.2,991.4L1014.2,991.2L1015.2,990.9L1016.1,990.6L1017,990.3L1018,989.9L1018.8,989.5L1019.7,989.1L1020.6,988.7L1021.4,988.2L1022.3,987.7L1023.2,987.2L1024.1,986.7L1025,986.2L1025.9,985.6L1026.8,985L1027.6,984.4L1028.5,983.7L1029.2,982.9" fill="none" stroke="#77a938" stroke-width="3.8" stroke-linejoin="round" stroke-linecap="round"/>
<path d="M1035.5,974.8L1032,991.2L1020.3,981.9 Z" fill="#77a938"/>
<text x="1013.02" y="919.5" font-size="18.5" fill="#1d1d1b">0</text>
<text x="1004.54" y="938.7" font-size="18.5" fill="#1d1d1b">-0.5</text>
<text x="1003.67" y="957.4" font-size="18.5" fill="#1d1d1b">-1</text>
<text x="997.94" y="977.7" font-size="18.5" fill="#1d1d1b">-1.5</text>
<circle cx="1212.5" cy="972.6" r="19" fill="#cfcfcf"/>
<g fill="none" stroke="#8f8f8f" stroke-width="0.65">
<circle cx="1212.5" cy="972.6" r="10"/>
<circle cx="1212.5" cy="972.6" r="20"/>
<circle cx="1212.5" cy="972.6" r="31"/>
<circle cx="1212.5" cy="972.6" r="44"/>
<circle cx="1212.5" cy="972.6" r="56"/>
<circle cx="1212.5" cy="972.6" r="66"/>
<line x1="1212.5" y1="972.6" x2="1278.5" y2="972.6" stroke="#8f8f8f" stroke-width="0.65"/>
<line x1="1212.5" y1="972.6" x2="1269.66" y2="939.6" stroke="#8f8f8f" stroke-width="0.65"/>
<line x1="1212.5" y1="972.6" x2="1245.5" y2="915.44" stroke="#8f8f8f" stroke-width="0.65"/>
<line x1="1212.5" y1="972.6" x2="1212.5" y2="906.6" stroke="#8f8f8f" stroke-width="0.65"/>
<line x1="1212.5" y1="972.6" x2="1179.5" y2="915.44" stroke="#8f8f8f" stroke-width="0.65"/>
<line x1="1212.5" y1="972.6" x2="1155.34" y2="939.6" stroke="#8f8f8f" stroke-width="0.65"/>
<line x1="1212.5" y1="972.6" x2="1146.5" y2="972.6" stroke="#8f8f8f" stroke-width="0.65"/>
<line x1="1212.5" y1="972.6" x2="1155.34" y2="1005.6" stroke="#8f8f8f" stroke-width="0.65"/>
<line x1="1212.5" y1="972.6" x2="1179.5" y2="1029.76" stroke="#8f8f8f" stroke-width="0.65"/>
<line x1="1212.5" y1="972.6" x2="1212.5" y2="1038.6" stroke="#8f8f8f" stroke-width="0.65"/>
<line x1="1212.5" y1="972.6" x2="1245.5" y2="1029.76" stroke="#8f8f8f" stroke-width="0.65"/>
<line x1="1212.5" y1="972.6" x2="1269.66" y2="1005.6" stroke="#8f8f8f" stroke-width="0.65"/>
</g>
<path d="M1262.4,970L1262.3,967.3L1262,964.5L1261.5,961.8L1261,959.1L1260.3,956.5L1259.5,953.8L1258.5,951.2L1257.3,948.7L1256,946.2L1254.6,943.8L1253,941.5L1251.3,939.3L1249.4,937.3L1247.4,935.3L1245.3,933.5L1243,932L1240.7,930.6L1238.3,929.3L1235.7,928.3L1233.2,927.5L1230.6,926.8L1228,926.2L1225.4,925.9L1222.8,925.6L1220.2,925.5L1217.6,925.4L1215,925.5L1212.5,925.6L1210,925.8L1207.5,926.1L1205.1,926.5L1202.6,927L1200.2,927.6L1197.8,928.3L1195.5,929.2L1193.2,930.2L1191,931.2L1188.8,932.4L1186.7,933.7L1184.6,935.1L1182.6,936.6L1180.7,938.3L1178.9,940L1177.2,941.8L1175.5,943.7L1174,945.6L1172.5,947.8L1171,949.9L1169.7,952.2L1168.4,954.5L1167.2,956.9L1166.2,959.4L1165.4,962L1164.6,964.5L1164.1,967.2L1163.7,969.9L1163.5,972.6L1163.5,975.2L1163.6,977.9L1163.9,980.5L1164.3,983.1L1164.9,985.7L1165.6,988.2L1166.4,990.7L1167.5,993.2L1168.6,995.6L1169.9,997.9L1171.4,1000.1L1173,1002.2L1174.8,1004.2L1176.7,1006L1178.6,1007.7L1180.7,1009.1L1182.9,1010.4L1185.2,1011.5L1187.6,1012.5L1189.9,1013.3L1192.3,1013.9L1194.7,1014.5L1197.1,1014.8L1199.5,1015.1L1201.9,1015.3L1204.2,1015.4L1206.5,1015.4L1208.8,1015.4L1211,1015.4L1213.2,1015.3L1215.5,1015.2L1217.7,1014.9L1219.9,1014.6L1222.1,1014.2L1224.3,1013.7L1226.5,1013.1L1228.6,1012.4L1230.7,1011.6L1232.7,1010.6L1234.7,1009.5L1236.6,1008.3L1238.4,1007L1240.1,1005.5L1241.7,1003.9L1243.1,1002.2L1244.4,1000.3L1245.5,998.4L1246.5,996.4L1247.4,994.4L1248.2,992.4L1248.9,990.3" fill="none" stroke="#a17d46" stroke-width="3.8" stroke-linejoin="round" stroke-linecap="round"/>
<path d="M1252.5,978.7L1255.1,995.2L1240.8,990.7 Z" fill="#a17d46"/>
<text x="1209.64" y="918.1" font-size="18.5" fill="#1d1d1b">0.6</text>
<text x="1205.25" y="934.4" font-size="18.5" fill="#1d1d1b">0.4</text>
<text x="1204.63" y="951.1" font-size="18.5" fill="#1d1d1b">0.2</text>
<text x="1205.02" y="966.8" font-size="18.5" fill="#1d1d1b">0</text>
<text x="565.75" y="721" font-size="19.5" fill="#1d1d1b">25%</text>
<text x="466.35" y="797" font-size="19.5" fill="#1d1d1b">50%</text>
<text x="562.75" y="876" font-size="19.5" fill="#1d1d1b">75%</text>
<text x="650.94" y="796.3" font-size="19.5" fill="#1d1d1b">0</text>
<text x="645.35" y="814" font-size="19.5" fill="#1d1d1b">100%</text>
<text x="999.75" y="721" font-size="19.5" fill="#1d1d1b">25%</text>
<text x="900.35" y="797" font-size="19.5" fill="#1d1d1b">50%</text>
<text x="996.75" y="876" font-size="19.5" fill="#1d1d1b">75%</text>
<text x="1084.94" y="796.3" font-size="19.5" fill="#1d1d1b">0</text>
<text x="1079.35" y="814" font-size="19.5" fill="#1d1d1b">100%</text>
<text x="129.5" y="720.3" font-size="17.96" fill="#c4252c">25%</text>
<text x="38" y="796.3" font-size="17.4" fill="#c4252c">50%</text>
<text x="126.6" y="876" font-size="18.02" fill="#c4252c">75%</text>
<text x="217.68" y="790" font-size="17.92" fill="#c4252c">0</text>
<text x="210.21" y="809.8" font-size="17.22" fill="#c4252c">100%</text>
<text x="217.44" y="729.8" font-size="21.43" fill="#c4252c">State</text>
<text x="217.75" y="754.7" font-size="21.52" fill="#c4252c">start</text>
<text x="214.55" y="845" font-size="21.2" fill="#c4252c">State</text>
<text x="214.63" y="870.2" font-size="21.73" fill="#c4252c">end</text>
<path d="M245.86,785.26 A102,102 0 1 0 242.05,818.72" fill="none" stroke="#c4252c" stroke-width="1.8"/>
<path d="M245,804.8L239.5,821.8L244.5,817.3L249.5,822.8 Z" fill="#c4252c"/>
<line x1="93" y1="1080" x2="118" y2="1080" stroke="#c5522b" stroke-width="1.8"/>
<text x="125.21" y="1088.6" font-size="22.36" fill="#1d1d1b">PC1</text>
<line x1="182" y1="1080" x2="207" y2="1080" stroke="#77a938" stroke-width="1.8"/>
<text x="213.68" y="1088.6" font-size="22.74" fill="#1d1d1b">PC3</text>
<line x1="93" y1="1110" x2="118" y2="1110" stroke="#0b6437" stroke-width="1.8"/>
<text x="125.17" y="1118.7" font-size="22.87" fill="#1d1d1b">PC2</text>
<line x1="182" y1="1110" x2="207" y2="1110" stroke="#a17d46" stroke-width="1.8"/>
<text x="213.69" y="1118.7" font-size="22.62" fill="#1d1d1b">PC4</text>
<rect x="286.6" y="1093" width="33.8" height="10" fill="#cfcfcf"/>
<text x="329.98" y="1093" font-size="22.77" fill="#1d1d1b">95% CI</text>
<text x="330.1" y="1118.7" font-size="22.43" fill="#1d1d1b">of null control</text>
<text x="1334.6" y="646.3" font-size="35" fill="#1d1d1b" font-weight="bold">d</text>
<text x="1390.73" y="668" font-size="28.18" fill="#1d1d1b">State transition probability</text>
<defs>
<linearGradient id="gREMAW" gradientUnits="userSpaceOnUse" x1="1463.4" y1="937.6" x2="1534.5" y2="823"><stop offset="0" stop-color="#7f8db4"/><stop offset="1" stop-color="#e8c890"/></linearGradient>
<linearGradient id="gAWN" gradientUnits="userSpaceOnUse" x1="1572.6" y1="824.3" x2="1642" y2="938.7"><stop offset="0" stop-color="#e8c890"/><stop offset="1" stop-color="#8cc39a"/></linearGradient>
<linearGradient id="gNAW" gradientUnits="userSpaceOnUse" x1="1654" y1="935" x2="1580.5" y2="820.5"><stop offset="0" stop-color="#8cc39a"/><stop offset="1" stop-color="#e8c890"/></linearGradient>
<linearGradient id="gNR" gradientUnits="userSpaceOnUse" x1="1626" y1="0" x2="1485.7" y2="0"><stop offset="0" stop-color="#8cc39a"/><stop offset="1" stop-color="#7f8db4"/></linearGradient>
</defs>
<line x1="1463.4" y1="937.6" x2="1530.81" y2="828.95" stroke="url(#gREMAW)" stroke-width="2.6"/>
<path d="M1534.5,823L1534,833.3L1531.1,828.5L1525.5,828 Z" fill="#e6c58c"/>
<line x1="1572.6" y1="824.3" x2="1638.37" y2="932.72" stroke="url(#gAWN)" stroke-width="2.6"/>
<path d="M1642,938.7L1633.1,933.6L1638.6,933.1L1641.6,928.4 Z" fill="#8cc39a"/>
<line x1="1654" y1="935" x2="1584.28" y2="826.39" stroke="url(#gNAW)" stroke-width="2.6"/>
<path d="M1580.5,820.5L1589.6,825.4L1584,826L1581.2,830.8 Z" fill="#e6c58c"/>
<line x1="1626" y1="967.6" x2="1492.7" y2="967.6" stroke="url(#gNR)" stroke-width="2.6"/>
<path d="M1485.7,967.6L1494.7,962.6L1492.2,967.6L1494.7,972.6 Z" fill="#8392b8"/>
<circle cx="1556" cy="794" r="33.8" fill="#edd29b" stroke="#8a8a8a" stroke-width="0.7"/>
<circle cx="1449.4" cy="967.6" r="33.8" fill="#8b95b5" stroke="#8a8a8a" stroke-width="0.7"/>
<circle cx="1662" cy="967.6" r="33.8" fill="#96c89b" stroke="#8a8a8a" stroke-width="0.7"/>
<text x="1539.52" y="801" font-size="21" fill="#1d1d1b">AW</text>
<text x="1426.09" y="974.6" font-size="21" fill="#1d1d1b">REM</text>
<text x="1631.13" y="974.6" font-size="21" fill="#1d1d1b">NREM</text>
<path d="M1525.8,767.6L1526,765.3L1525.9,763L1525.5,760.7L1524.9,758.5L1523.9,756.4L1522.8,754.4L1521.3,752.5L1519.7,750.9L1517.9,749.4L1515.9,748.2L1513.8,747.3L1511.6,746.6L1509.3,746.1L1507,746L1504.7,746.1L1502.4,746.6L1500.2,747.3L1498.1,748.2L1496.1,749.4L1494.3,750.9L1492.7,752.5L1491.2,754.4L1490.1,756.4L1489.1,758.5L1488.5,760.7L1488.1,763L1488,765.3L1488.2,767.6L1488.6,769.9L1489.4,772.1L1490.4,774.2L1491.6,776.2L1493.1,778L1494.8,779.6L1496.7,780.9L1498.7,782.1L1500.8,783" fill="none" stroke="#e3a548" stroke-width="5"/>
<path d="M1516.3,786.4L1499.5,791.1L1505.7,783.5L1504.3,773.7 Z" fill="#e3a548"/>
<path d="M1429.4,1011L1429.7,1013.3L1429.8,1015.5L1429.6,1017.7L1429.2,1019.9L1428.4,1022L1427.5,1024.1L1426.3,1026L1424.9,1027.7L1423.3,1029.3L1421.6,1030.7L1419.6,1031.8L1417.6,1032.7L1415.5,1033.4L1413.3,1033.8L1411,1034L1408.8,1033.9L1406.6,1033.5L1404.5,1032.9L1402.4,1032L1400.5,1030.9L1398.7,1029.6L1397,1028.1L1395.6,1026.4L1394.3,1024.5L1393.3,1022.5L1392.6,1020.4L1392.1,1018.2L1391.8,1016L1391.8,1013.8L1392.1,1011.5L1392.7,1009.4L1393.4,1007.3L1394.5,1005.3L1395.7,1003.4L1397.2,1001.7L1398.8,1000.2L1400.7,998.9" fill="none" stroke="#4f5f8f" stroke-width="5"/>
<path d="M1414.7,992.1L1405.9,1007.2L1405.1,997.4L1397.2,991.4 Z" fill="#4f5f8f"/>
<path d="M1686.9,1011L1686.6,1013.3L1686.5,1015.5L1686.7,1017.7L1687.1,1019.9L1687.9,1022L1688.8,1024.1L1690,1026L1691.4,1027.7L1693,1029.3L1694.7,1030.7L1696.7,1031.8L1698.7,1032.7L1700.8,1033.4L1703,1033.8L1705.3,1034L1707.5,1033.9L1709.7,1033.5L1711.8,1032.9L1713.9,1032L1715.8,1030.9L1717.6,1029.6L1719.3,1028.1L1720.7,1026.4L1722,1024.5L1723,1022.5L1723.7,1020.4L1724.2,1018.2L1724.5,1016L1724.5,1013.8L1724.2,1011.5L1723.6,1009.4L1722.9,1007.3L1721.8,1005.3L1720.6,1003.4L1719.1,1001.7L1717.5,1000.2L1715.6,998.9" fill="none" stroke="#5aa26e" stroke-width="5"/>
<path d="M1701.6,992.1L1719.1,991.4L1711.2,997.4L1710.4,1007.2 Z" fill="#5aa26e"/>
<text x="1469.03" y="737.5" font-size="21.63" fill="#e0a040">98.18%</text>
<text x="1367.64" y="1057" font-size="21.42" fill="#2c3d7a">98.38%</text>
<text x="1667.03" y="1057" font-size="21.54" fill="#3d9a5a">96.48%</text>
<text x="1556.39" y="957" font-size="21.44" fill="#1d1d1b">1.54‰</text>
<text x="1435.27" y="898.85" font-size="21" fill="#1d1d1b" transform="rotate(-58 1472.6 891.6)">16.25‰</text>
<text x="1552.17" y="894.85" font-size="21" fill="#1d1d1b" transform="rotate(58 1589.5 887.6)">18.21‰</text>
<text x="1601.04" y="888.25" font-size="21" fill="#1d1d1b" transform="rotate(58 1638 881)">33.65‰</text>
<text x="-0.9" y="1194.6" font-size="35" fill="#1d1d1b" font-weight="bold">e</text>
<defs>
<linearGradient id="sA0" x1="0" y1="1" x2="0" y2="0">
<stop offset="0%" stop-color="#ec7423"/>
<stop offset="2%" stop-color="#f08b25"/>
<stop offset="5%" stop-color="#f4a027"/>
<stop offset="10%" stop-color="#f4c02c"/>
<stop offset="15%" stop-color="#f2dc31"/>
<stop offset="20%" stop-color="#cbd745"/>
<stop offset="25%" stop-color="#98c87d"/>
<stop offset="30%" stop-color="#89c496"/>
<stop offset="37%" stop-color="#71bdba"/>
<stop offset="43%" stop-color="#60b9c7"/>
<stop offset="50%" stop-color="#37a4db"/>
<stop offset="60%" stop-color="#2058a7"/>
<stop offset="70%" stop-color="#1c4296"/>
<stop offset="83%" stop-color="#1a3988"/>
<stop offset="93%" stop-color="#1b3e91"/>
<stop offset="100%" stop-color="#1b3c8d"/>
</linearGradient>
<linearGradient id="sA1" x1="0" y1="1" x2="0" y2="0">
<stop offset="0%" stop-color="#eb7223"/>
<stop offset="2%" stop-color="#ed7c24"/>
<stop offset="5%" stop-color="#ec7523"/>
<stop offset="10%" stop-color="#f5ac29"/>
<stop offset="15%" stop-color="#f3cc2e"/>
<stop offset="20%" stop-color="#dadb3e"/>
<stop offset="25%" stop-color="#b0cf57"/>
<stop offset="30%" stop-color="#9ac97a"/>
<stop offset="37%" stop-color="#80c2a4"/>
<stop offset="43%" stop-color="#66bac2"/>
<stop offset="50%" stop-color="#3aabdf"/>
<stop offset="60%" stop-color="#2162af"/>
<stop offset="70%" stop-color="#1d4a9c"/>
<stop offset="83%" stop-color="#1d489b"/>
<stop offset="93%" stop-color="#1c4093"/>
<stop offset="100%" stop-color="#1c4296"/>
</linearGradient>
<linearGradient id="sA2" x1="0" y1="1" x2="0" y2="0">
<stop offset="0%" stop-color="#f39927"/>
<stop offset="2%" stop-color="#f39827"/>
<stop offset="5%" stop-color="#f4b02a"/>
<stop offset="10%" stop-color="#f3c72e"/>
<stop offset="15%" stop-color="#e8df37"/>
<stop offset="20%" stop-color="#d5da40"/>
<stop offset="25%" stop-color="#96c881"/>
<stop offset="30%" stop-color="#7ec1a6"/>
<stop offset="37%" stop-color="#67bbc2"/>
<stop offset="43%" stop-color="#4cb3d5"/>
<stop offset="50%" stop-color="#2e8ecd"/>
<stop offset="60%" stop-color="#1f52a2"/>
<stop offset="70%" stop-color="#1b3d8f"/>
<stop offset="83%" stop-color="#1b3e90"/>
<stop offset="93%" stop-color="#193381"/>
<stop offset="100%" stop-color="#1a3583"/>
</linearGradient>
<linearGradient id="sA3" x1="0" y1="1" x2="0" y2="0">
<stop offset="0%" stop-color="#ec7523"/>
<stop offset="2%" stop-color="#f39c27"/>
<stop offset="5%" stop-color="#f5a628"/>
<stop offset="10%" stop-color="#f4b82b"/>
<stop offset="15%" stop-color="#f3d730"/>
<stop offset="20%" stop-color="#d3d941"/>
<stop offset="25%" stop-color="#a5cc68"/>
<stop offset="30%" stop-color="#7cc0ab"/>
<stop offset="37%" stop-color="#6bbcbf"/>
<stop offset="43%" stop-color="#4bb3d6"/>
<stop offset="50%" stop-color="#277fc4"/>
<stop offset="60%" stop-color="#1d489b"/>
<stop offset="70%" stop-color="#1c4093"/>
<stop offset="83%" stop-color="#1c4295"/>
<stop offset="93%" stop-color="#1a3583"/>
<stop offset="100%" stop-color="#1b3a8a"/>
</linearGradient>
<linearGradient id="sA4" x1="0" y1="1" x2="0" y2="0">
<stop offset="0%" stop-color="#f5a929"/>
<stop offset="2%" stop-color="#f5ad29"/>
<stop offset="5%" stop-color="#f4b12a"/>
<stop offset="10%" stop-color="#f4c22d"/>
<stop offset="15%" stop-color="#e6de38"/>
<stop offset="20%" stop-color="#c7d647"/>
<stop offset="25%" stop-color="#8cc591"/>
<stop offset="30%" stop-color="#67bbc1"/>
<stop offset="37%" stop-color="#4cb3d6"/>
<stop offset="43%" stop-color="#257ac0"/>
<stop offset="50%" stop-color="#1e4fa0"/>
<stop offset="60%" stop-color="#1c4194"/>
<stop offset="70%" stop-color="#1a3989"/>
<stop offset="83%" stop-color="#1b3a8b"/>
<stop offset="93%" stop-color="#193481"/>
<stop offset="100%" stop-color="#182c76"/>
</linearGradient>
<linearGradient id="sA5" x1="0" y1="1" x2="0" y2="0">
<stop offset="0%" stop-color="#f5a828"/>
<stop offset="2%" stop-color="#f5a828"/>
<stop offset="5%" stop-color="#f5ab29"/>
<stop offset="10%" stop-color="#f4bc2c"/>
<stop offset="15%" stop-color="#ebe036"/>
<stop offset="20%" stop-color="#c4d548"/>
<stop offset="25%" stop-color="#98c87e"/>
<stop offset="30%" stop-color="#5eb8c8"/>
<stop offset="37%" stop-color="#3eafe0"/>
<stop offset="43%" stop-color="#2267b3"/>
<stop offset="50%" stop-color="#1e4d9f"/>
<stop offset="60%" stop-color="#1b3f92"/>
<stop offset="70%" stop-color="#1b3c8d"/>
<stop offset="83%" stop-color="#1a3989"/>
<stop offset="93%" stop-color="#1c4092"/>
<stop offset="100%" stop-color="#1a3989"/>
</linearGradient>
<linearGradient id="sA6" x1="0" y1="1" x2="0" y2="0">
<stop offset="0%" stop-color="#f5a728"/>
<stop offset="2%" stop-color="#f4b02a"/>
<stop offset="5%" stop-color="#f5ae29"/>
<stop offset="10%" stop-color="#f3cd2f"/>
<stop offset="15%" stop-color="#ece035"/>
<stop offset="20%" stop-color="#b7d14f"/>
<stop offset="25%" stop-color="#8ec68d"/>
<stop offset="30%" stop-color="#54b6cf"/>
<stop offset="37%" stop-color="#2983c7"/>
<stop offset="43%" stop-color="#1e4fa0"/>
<stop offset="50%" stop-color="#1d4799"/>
<stop offset="60%" stop-color="#1c4195"/>
<stop offset="70%" stop-color="#1c3f92"/>
<stop offset="83%" stop-color="#1b3e90"/>
<stop offset="93%" stop-color="#19327e"/>
<stop offset="100%" stop-color="#1a3787"/>
</linearGradient>
<linearGradient id="sA7" x1="0" y1="1" x2="0" y2="0">
<stop offset="0%" stop-color="#f4af2a"/>
<stop offset="2%" stop-color="#f5a328"/>
<stop offset="5%" stop-color="#f4ba2b"/>
<stop offset="10%" stop-color="#f3d630"/>
<stop offset="15%" stop-color="#dddc3c"/>
<stop offset="20%" stop-color="#b6d14f"/>
<stop offset="25%" stop-color="#86c39b"/>
<stop offset="30%" stop-color="#4bb3d6"/>
<stop offset="37%" stop-color="#2a85c8"/>
<stop offset="43%" stop-color="#1d489b"/>
<stop offset="50%" stop-color="#1c4093"/>
<stop offset="60%" stop-color="#1b3e90"/>
<stop offset="70%" stop-color="#1b3b8c"/>
<stop offset="83%" stop-color="#1b3a8b"/>
<stop offset="93%" stop-color="#1a3584"/>
<stop offset="100%" stop-color="#1a3583"/>
</linearGradient>
<linearGradient id="sA8" x1="0" y1="1" x2="0" y2="0">
<stop offset="0%" stop-color="#f5a929"/>
<stop offset="2%" stop-color="#f5a828"/>
<stop offset="5%" stop-color="#f4a228"/>
<stop offset="10%" stop-color="#f4bf2c"/>
<stop offset="15%" stop-color="#eae036"/>
<stop offset="20%" stop-color="#c0d34a"/>
<stop offset="25%" stop-color="#97c880"/>
<stop offset="30%" stop-color="#68bbc1"/>
<stop offset="37%" stop-color="#2f92d0"/>
<stop offset="43%" stop-color="#1d4a9c"/>
<stop offset="50%" stop-color="#1d489b"/>
<stop offset="60%" stop-color="#1b3e90"/>
<stop offset="70%" stop-color="#1b3b8c"/>
<stop offset="83%" stop-color="#1b3b8c"/>
<stop offset="93%" stop-color="#1a3887"/>
<stop offset="100%" stop-color="#1b3a8b"/>
</linearGradient>
<linearGradient id="sA9" x1="0" y1="1" x2="0" y2="0">
<stop offset="0%" stop-color="#ed7c24"/>
<stop offset="2%" stop-color="#ed7b24"/>
<stop offset="5%" stop-color="#f49d27"/>
<stop offset="10%" stop-color="#f4c02c"/>
<stop offset="15%" stop-color="#f2d930"/>
<stop offset="20%" stop-color="#e6df38"/>
<stop offset="25%" stop-color="#a6cc67"/>
<stop offset="30%" stop-color="#62b9c6"/>
<stop offset="37%" stop-color="#3197d3"/>
<stop offset="43%" stop-color="#2160ad"/>
<stop offset="50%" stop-color="#1e4d9e"/>
<stop offset="60%" stop-color="#1e4e9f"/>
<stop offset="70%" stop-color="#1c4094"/>
<stop offset="83%" stop-color="#1d4699"/>
<stop offset="93%" stop-color="#1b3f92"/>
<stop offset="100%" stop-color="#1b3c8d"/>
</linearGradient>
<linearGradient id="sA10" x1="0" y1="1" x2="0" y2="0">
<stop offset="0%" stop-color="#ee8024"/>
<stop offset="2%" stop-color="#f08925"/>
<stop offset="5%" stop-color="#ec7323"/>
<stop offset="10%" stop-color="#f4b82b"/>
<stop offset="15%" stop-color="#f3c62d"/>
<stop offset="20%" stop-color="#d9db3e"/>
<stop offset="25%" stop-color="#a2cb6d"/>
<stop offset="30%" stop-color="#6fbdbc"/>
<stop offset="37%" stop-color="#349cd5"/>
<stop offset="43%" stop-color="#215eac"/>
<stop offset="50%" stop-color="#1f57a6"/>
<stop offset="60%" stop-color="#1f55a4"/>
<stop offset="70%" stop-color="#1b3f91"/>
<stop offset="83%" stop-color="#1b3e91"/>
<stop offset="93%" stop-color="#1b3d8f"/>
<stop offset="100%" stop-color="#1d4699"/>
</linearGradient>
<linearGradient id="sA11" x1="0" y1="1" x2="0" y2="0">
<stop offset="0%" stop-color="#f4b42a"/>
<stop offset="2%" stop-color="#f4bd2c"/>
<stop offset="5%" stop-color="#f4bf2c"/>
<stop offset="10%" stop-color="#f3d12f"/>
<stop offset="15%" stop-color="#dcdc3c"/>
<stop offset="20%" stop-color="#bfd34b"/>
<stop offset="25%" stop-color="#7fc1a6"/>
<stop offset="30%" stop-color="#50b5d2"/>
<stop offset="37%" stop-color="#2984c7"/>
<stop offset="43%" stop-color="#1d479a"/>
<stop offset="50%" stop-color="#1b3f92"/>
<stop offset="60%" stop-color="#1b3f91"/>
<stop offset="70%" stop-color="#1a3786"/>
<stop offset="83%" stop-color="#1b3d8e"/>
<stop offset="93%" stop-color="#193481"/>
<stop offset="100%" stop-color="#19317d"/>
</linearGradient>
<linearGradient id="sA12" x1="0" y1="1" x2="0" y2="0">
<stop offset="0%" stop-color="#f08c26"/>
<stop offset="2%" stop-color="#ef8625"/>
<stop offset="5%" stop-color="#f5a728"/>
<stop offset="10%" stop-color="#f3c42d"/>
<stop offset="15%" stop-color="#f2e132"/>
<stop offset="20%" stop-color="#c3d449"/>
<stop offset="25%" stop-color="#8cc590"/>
<stop offset="30%" stop-color="#67bbc2"/>
<stop offset="37%" stop-color="#2c8ccc"/>
<stop offset="43%" stop-color="#2058a6"/>
<stop offset="50%" stop-color="#1d4699"/>
<stop offset="60%" stop-color="#1b3c8d"/>
<stop offset="70%" stop-color="#1c4093"/>
<stop offset="83%" stop-color="#1b3c8e"/>
<stop offset="93%" stop-color="#1c4093"/>
<stop offset="100%" stop-color="#1b3a8a"/>
</linearGradient>
<linearGradient id="sA13" x1="0" y1="1" x2="0" y2="0">
<stop offset="0%" stop-color="#f18e26"/>
<stop offset="2%" stop-color="#f49f27"/>
<stop offset="5%" stop-color="#f5a428"/>
<stop offset="10%" stop-color="#f3cb2e"/>
<stop offset="15%" stop-color="#f2e132"/>
<stop offset="20%" stop-color="#c4d548"/>
<stop offset="25%" stop-color="#96c880"/>
<stop offset="30%" stop-color="#66bac2"/>
<stop offset="37%" stop-color="#3094d1"/>
<stop offset="43%" stop-color="#1e4c9e"/>
<stop offset="50%" stop-color="#2057a6"/>
<stop offset="60%" stop-color="#1c4195"/>
<stop offset="70%" stop-color="#1c4195"/>
<stop offset="83%" stop-color="#1c4093"/>
<stop offset="93%" stop-color="#1b3a8b"/>
<stop offset="100%" stop-color="#1a3988"/>
</linearGradient>
<linearGradient id="sA14" x1="0" y1="1" x2="0" y2="0">
<stop offset="0%" stop-color="#eb7223"/>
<stop offset="2%" stop-color="#ed7d24"/>
<stop offset="5%" stop-color="#f5a428"/>
<stop offset="10%" stop-color="#f4b82b"/>
<stop offset="15%" stop-color="#f3cf2f"/>
<stop offset="20%" stop-color="#d9db3e"/>
<stop offset="25%" stop-color="#a1cb6e"/>
<stop offset="30%" stop-color="#6abcbf"/>
<stop offset="37%" stop-color="#3299d4"/>
<stop offset="43%" stop-color="#2161ae"/>
<stop offset="50%" stop-color="#2059a8"/>
<stop offset="60%" stop-color="#1f54a4"/>
<stop offset="70%" stop-color="#1c4295"/>
<stop offset="83%" stop-color="#1d479a"/>
<stop offset="93%" stop-color="#1b3c8d"/>
<stop offset="100%" stop-color="#1b3b8c"/>
</linearGradient>
<linearGradient id="sA15" x1="0" y1="1" x2="0" y2="0">
<stop offset="0%" stop-color="#e96822"/>
<stop offset="2%" stop-color="#eb7023"/>
<stop offset="5%" stop-color="#ed7b24"/>
<stop offset="10%" stop-color="#f5a628"/>
<stop offset="15%" stop-color="#f3c42d"/>
<stop offset="20%" stop-color="#eae036"/>
<stop offset="25%" stop-color="#bad24d"/>
<stop offset="30%" stop-color="#80c2a4"/>
<stop offset="37%" stop-color="#42b1dd"/>
<stop offset="43%" stop-color="#2574bc"/>
<stop offset="50%" stop-color="#246fb8"/>
<stop offset="60%" stop-color="#2160ad"/>
<stop offset="70%" stop-color="#1e4c9e"/>
<stop offset="83%" stop-color="#1e4fa0"/>
<stop offset="93%" stop-color="#1d4a9c"/>
<stop offset="100%" stop-color="#1c4295"/>
</linearGradient>
<linearGradient id="sA16" x1="0" y1="1" x2="0" y2="0">
<stop offset="0%" stop-color="#e03b1e"/>
<stop offset="2%" stop-color="#e44b1f"/>
<stop offset="5%" stop-color="#e86222"/>
<stop offset="10%" stop-color="#ea6d23"/>
<stop offset="15%" stop-color="#f3c92e"/>
<stop offset="20%" stop-color="#eae036"/>
<stop offset="25%" stop-color="#c6d547"/>
<stop offset="30%" stop-color="#a1cb6e"/>
<stop offset="37%" stop-color="#75bfb6"/>
<stop offset="43%" stop-color="#55b6cf"/>
<stop offset="50%" stop-color="#3bacdf"/>
<stop offset="60%" stop-color="#277fc4"/>
<stop offset="70%" stop-color="#1d499b"/>
<stop offset="83%" stop-color="#1a3989"/>
<stop offset="93%" stop-color="#1a3888"/>
<stop offset="100%" stop-color="#1b3e90"/>
</linearGradient>
<linearGradient id="sA17" x1="0" y1="1" x2="0" y2="0">
<stop offset="0%" stop-color="#da371d"/>
<stop offset="2%" stop-color="#df3b1e"/>
<stop offset="5%" stop-color="#e03b1e"/>
<stop offset="10%" stop-color="#df3b1e"/>
<stop offset="15%" stop-color="#f4bb2c"/>
<stop offset="20%" stop-color="#eee134"/>
<stop offset="25%" stop-color="#ccd744"/>
<stop offset="30%" stop-color="#acce5c"/>
<stop offset="37%" stop-color="#93c785"/>
<stop offset="43%" stop-color="#7ac0ad"/>
<stop offset="50%" stop-color="#56b6ce"/>
<stop offset="60%" stop-color="#359ed7"/>
<stop offset="70%" stop-color="#205aa9"/>
<stop offset="83%" stop-color="#1b3e90"/>
<stop offset="93%" stop-color="#1b3d8f"/>
<stop offset="100%" stop-color="#1a3685"/>
</linearGradient>
<linearGradient id="sA18" x1="0" y1="1" x2="0" y2="0">
<stop offset="0%" stop-color="#df3b1e"/>
<stop offset="2%" stop-color="#d4331d"/>
<stop offset="5%" stop-color="#df3b1e"/>
<stop offset="10%" stop-color="#e2431f"/>
<stop offset="15%" stop-color="#f4b92b"/>
<stop offset="20%" stop-color="#eee134"/>
<stop offset="25%" stop-color="#e3de39"/>
<stop offset="30%" stop-color="#c2d449"/>
<stop offset="37%" stop-color="#96c880"/>
<stop offset="43%" stop-color="#73beb9"/>
<stop offset="50%" stop-color="#65bac3"/>
<stop offset="60%" stop-color="#3298d3"/>
<stop offset="70%" stop-color="#2057a6"/>
<stop offset="83%" stop-color="#1b3e90"/>
<stop offset="93%" stop-color="#1b3b8c"/>
<stop offset="100%" stop-color="#1a3888"/>
</linearGradient>
<linearGradient id="sA19" x1="0" y1="1" x2="0" y2="0">
<stop offset="0%" stop-color="#d1311c"/>
<stop offset="2%" stop-color="#d1311c"/>
<stop offset="5%" stop-color="#cd2e1c"/>
<stop offset="10%" stop-color="#d5341d"/>
<stop offset="15%" stop-color="#f4b72b"/>
<stop offset="20%" stop-color="#f3c82e"/>
<stop offset="25%" stop-color="#d2d941"/>
<stop offset="30%" stop-color="#c9d646"/>
<stop offset="37%" stop-color="#acce5d"/>
<stop offset="43%" stop-color="#8bc592"/>
<stop offset="50%" stop-color="#68bbc1"/>
<stop offset="60%" stop-color="#38a6db"/>
<stop offset="70%" stop-color="#2266b2"/>
<stop offset="83%" stop-color="#1c4093"/>
<stop offset="93%" stop-color="#1c4093"/>
<stop offset="100%" stop-color="#19307c"/>
</linearGradient>
<linearGradient id="sA20" x1="0" y1="1" x2="0" y2="0">
<stop offset="0%" stop-color="#d4331d"/>
<stop offset="2%" stop-color="#cb2d1c"/>
<stop offset="5%" stop-color="#d0301c"/>
<stop offset="10%" stop-color="#d5331d"/>
<stop offset="15%" stop-color="#f4b72b"/>
<stop offset="20%" stop-color="#f3d22f"/>
<stop offset="25%" stop-color="#dedc3c"/>
<stop offset="30%" stop-color="#cad646"/>
<stop offset="37%" stop-color="#a5cc68"/>
<stop offset="43%" stop-color="#7dc1a9"/>
<stop offset="50%" stop-color="#75bfb6"/>
<stop offset="60%" stop-color="#3bacdf"/>
<stop offset="70%" stop-color="#2058a7"/>
<stop offset="83%" stop-color="#1d489b"/>
<stop offset="93%" stop-color="#1a3888"/>
<stop offset="100%" stop-color="#1b3b8c"/>
</linearGradient>
<linearGradient id="sA21" x1="0" y1="1" x2="0" y2="0">
<stop offset="0%" stop-color="#da371d"/>
<stop offset="2%" stop-color="#d7351d"/>
<stop offset="5%" stop-color="#dd391e"/>
<stop offset="10%" stop-color="#e44d20"/>
<stop offset="15%" stop-color="#f4bd2c"/>
<stop offset="20%" stop-color="#f2db31"/>
<stop offset="25%" stop-color="#e5de38"/>
<stop offset="30%" stop-color="#bcd24c"/>
<stop offset="37%" stop-color="#94c784"/>
<stop offset="43%" stop-color="#77bfb2"/>
<stop offset="50%" stop-color="#64bac4"/>
<stop offset="60%" stop-color="#339bd5"/>
<stop offset="70%" stop-color="#2058a7"/>
<stop offset="83%" stop-color="#1c4094"/>
<stop offset="93%" stop-color="#1b3b8c"/>
<stop offset="100%" stop-color="#1b3a8a"/>
</linearGradient>
<linearGradient id="sA22" x1="0" y1="1" x2="0" y2="0">
<stop offset="0%" stop-color="#dc381d"/>
<stop offset="2%" stop-color="#da371d"/>
<stop offset="5%" stop-color="#dd391e"/>
<stop offset="10%" stop-color="#e2401e"/>
<stop offset="15%" stop-color="#f4ba2b"/>
<stop offset="20%" stop-color="#f2da31"/>
<stop offset="25%" stop-color="#dcdb3d"/>
<stop offset="30%" stop-color="#c2d449"/>
<stop offset="37%" stop-color="#96c881"/>
<stop offset="43%" stop-color="#71beba"/>
<stop offset="50%" stop-color="#64bac4"/>
<stop offset="60%" stop-color="#36a0d8"/>
<stop offset="70%" stop-color="#215daa"/>
<stop offset="83%" stop-color="#1a3a8a"/>
<stop offset="93%" stop-color="#1b3a8b"/>
<stop offset="100%" stop-color="#1a3685"/>
</linearGradient>
<linearGradient id="sA23" x1="0" y1="1" x2="0" y2="0">
<stop offset="0%" stop-color="#dc391e"/>
<stop offset="2%" stop-color="#e2401e"/>
<stop offset="5%" stop-color="#dd391e"/>
<stop offset="10%" stop-color="#db381d"/>
<stop offset="15%" stop-color="#f3c42d"/>
<stop offset="20%" stop-color="#f2df32"/>
<stop offset="25%" stop-color="#cdd744"/>
<stop offset="30%" stop-color="#c1d449"/>
<stop offset="37%" stop-color="#a9cd62"/>
<stop offset="43%" stop-color="#6fbdbc"/>
<stop offset="50%" stop-color="#5cb8ca"/>
<stop offset="60%" stop-color="#39a7dc"/>
<stop offset="70%" stop-color="#205caa"/>
<stop offset="83%" stop-color="#1b3e90"/>
<stop offset="93%" stop-color="#19327f"/>
<stop offset="100%" stop-color="#1a3887"/>
</linearGradient>
<linearGradient id="sA24" x1="0" y1="1" x2="0" y2="0">
<stop offset="0%" stop-color="#c2271b"/>
<stop offset="2%" stop-color="#c92b1c"/>
<stop offset="5%" stop-color="#d4331d"/>
<stop offset="10%" stop-color="#d9371d"/>
<stop offset="15%" stop-color="#f4bc2c"/>
<stop offset="20%" stop-color="#f3d830"/>
<stop offset="25%" stop-color="#eee134"/>
<stop offset="30%" stop-color="#ccd744"/>
<stop offset="37%" stop-color="#a1cb6e"/>
<stop offset="43%" stop-color="#93c785"/>
<stop offset="50%" stop-color="#61b9c6"/>
<stop offset="60%" stop-color="#41b0dd"/>
<stop offset="70%" stop-color="#2265b1"/>
<stop offset="83%" stop-color="#1d4699"/>
<stop offset="93%" stop-color="#1c4296"/>
<stop offset="100%" stop-color="#1b3e91"/>
</linearGradient>
<linearGradient id="sA25" x1="0" y1="1" x2="0" y2="0">
<stop offset="0%" stop-color="#c82b1c"/>
<stop offset="2%" stop-color="#cc2d1c"/>
<stop offset="5%" stop-color="#d1311c"/>
<stop offset="10%" stop-color="#db381d"/>
<stop offset="15%" stop-color="#f4b12a"/>
<stop offset="20%" stop-color="#f3c52d"/>
<stop offset="25%" stop-color="#efe133"/>
<stop offset="30%" stop-color="#dbdb3d"/>
<stop offset="37%" stop-color="#c4d548"/>
<stop offset="43%" stop-color="#92c787"/>
<stop offset="50%" stop-color="#72beba"/>
<stop offset="60%" stop-color="#38a7dc"/>
<stop offset="70%" stop-color="#2268b3"/>
<stop offset="83%" stop-color="#205ba9"/>
<stop offset="93%" stop-color="#1c4397"/>
<stop offset="100%" stop-color="#1b3e90"/>
</linearGradient>
<linearGradient id="sA26" x1="0" y1="1" x2="0" y2="0">
<stop offset="0%" stop-color="#db381d"/>
<stop offset="2%" stop-color="#d6351d"/>
<stop offset="5%" stop-color="#dd391e"/>
<stop offset="10%" stop-color="#e3481f"/>
<stop offset="15%" stop-color="#f5af2a"/>
<stop offset="20%" stop-color="#f3ce2f"/>
<stop offset="25%" stop-color="#dfdc3b"/>
<stop offset="30%" stop-color="#cad645"/>
<stop offset="37%" stop-color="#9eca74"/>
<stop offset="43%" stop-color="#87c399"/>
<stop offset="50%" stop-color="#6cbcbe"/>
<stop offset="60%" stop-color="#3eafe0"/>
<stop offset="70%" stop-color="#236bb5"/>
<stop offset="83%" stop-color="#1c4497"/>
<stop offset="93%" stop-color="#1b3d8f"/>
<stop offset="100%" stop-color="#1a3888"/>
</linearGradient>
<linearGradient id="sA27" x1="0" y1="1" x2="0" y2="0">
<stop offset="0%" stop-color="#d3321d"/>
<stop offset="2%" stop-color="#d5331d"/>
<stop offset="5%" stop-color="#db381d"/>
<stop offset="10%" stop-color="#d7351d"/>
<stop offset="15%" stop-color="#f4b82b"/>
<stop offset="20%" stop-color="#f2de31"/>
<stop offset="25%" stop-color="#d6da3f"/>
<stop offset="30%" stop-color="#bfd34a"/>
<stop offset="37%" stop-color="#95c881"/>
<stop offset="43%" stop-color="#73beb9"/>
<stop offset="50%" stop-color="#62b9c6"/>
<stop offset="60%" stop-color="#349dd6"/>
<stop offset="70%" stop-color="#205ba9"/>
<stop offset="83%" stop-color="#1c4598"/>
<stop offset="93%" stop-color="#1b3a8b"/>
<stop offset="100%" stop-color="#1b3e90"/>
</linearGradient>
<linearGradient id="sA28" x1="0" y1="1" x2="0" y2="0">
<stop offset="0%" stop-color="#c92b1c"/>
<stop offset="2%" stop-color="#d1311c"/>
<stop offset="5%" stop-color="#e13d1e"/>
<stop offset="10%" stop-color="#d5331d"/>
<stop offset="15%" stop-color="#f4b92b"/>
<stop offset="20%" stop-color="#ede134"/>
<stop offset="25%" stop-color="#dedc3c"/>
<stop offset="30%" stop-color="#c6d547"/>
<stop offset="37%" stop-color="#99c87c"/>
<stop offset="43%" stop-color="#7bc0ac"/>
<stop offset="50%" stop-color="#68bbc1"/>
<stop offset="60%" stop-color="#3bade0"/>
<stop offset="70%" stop-color="#2266b2"/>
<stop offset="83%" stop-color="#1d499b"/>
<stop offset="93%" stop-color="#1c4195"/>
<stop offset="100%" stop-color="#19317d"/>
</linearGradient>
<linearGradient id="sA29" x1="0" y1="1" x2="0" y2="0">
<stop offset="0%" stop-color="#d6351d"/>
<stop offset="2%" stop-color="#e44d20"/>
<stop offset="5%" stop-color="#d8361d"/>
<stop offset="10%" stop-color="#dc391e"/>
<stop offset="15%" stop-color="#f3c42d"/>
<stop offset="20%" stop-color="#f2e232"/>
<stop offset="25%" stop-color="#d0d843"/>
<stop offset="30%" stop-color="#bed34b"/>
<stop offset="37%" stop-color="#9bc978"/>
<stop offset="43%" stop-color="#79c0b0"/>
<stop offset="50%" stop-color="#58b7cd"/>
<stop offset="60%" stop-color="#36a2d9"/>
<stop offset="70%" stop-color="#2059a8"/>
<stop offset="83%" stop-color="#1c4296"/>
<stop offset="93%" stop-color="#1b3c8d"/>
<stop offset="100%" stop-color="#193380"/>
</linearGradient>
<linearGradient id="sA30" x1="0" y1="1" x2="0" y2="0">
<stop offset="0%" stop-color="#dc391e"/>
<stop offset="2%" stop-color="#e13d1e"/>
<stop offset="5%" stop-color="#df3b1e"/>
<stop offset="10%" stop-color="#e13e1e"/>
<stop offset="15%" stop-color="#f3c42d"/>
<stop offset="20%" stop-color="#e2dd3a"/>
<stop offset="25%" stop-color="#c7d647"/>
<stop offset="30%" stop-color="#bbd24c"/>
<stop offset="37%" stop-color="#8cc590"/>
<stop offset="43%" stop-color="#7bc0ad"/>
<stop offset="50%" stop-color="#58b7cd"/>
<stop offset="60%" stop-color="#349dd6"/>
<stop offset="70%" stop-color="#1f52a2"/>
<stop offset="83%" stop-color="#1b3c8d"/>
<stop offset="93%" stop-color="#182d78"/>
<stop offset="100%" stop-color="#1a3684"/>
</linearGradient>
<linearGradient id="sA31" x1="0" y1="1" x2="0" y2="0">
<stop offset="0%" stop-color="#d3321d"/>
<stop offset="2%" stop-color="#d4331d"/>
<stop offset="5%" stop-color="#d3321d"/>
<stop offset="10%" stop-color="#d7351d"/>
<stop offset="15%" stop-color="#f4b82b"/>
<stop offset="20%" stop-color="#f3ce2f"/>
<stop offset="25%" stop-color="#d6da3f"/>
<stop offset="30%" stop-color="#d2d941"/>
<stop offset="37%" stop-color="#9dca75"/>
<stop offset="43%" stop-color="#7fc1a5"/>
<stop offset="50%" stop-color="#72beba"/>
<stop offset="60%" stop-color="#37a3da"/>
<stop offset="70%" stop-color="#205ba9"/>
<stop offset="83%" stop-color="#1c4296"/>
<stop offset="93%" stop-color="#1b3b8b"/>
<stop offset="100%" stop-color="#1a3887"/>
</linearGradient>
</defs>
<rect x="144.7" y="1208" width="9.91" height="174.7" fill="url(#sA0)"/>
<rect x="154.01" y="1208" width="9.91" height="174.7" fill="url(#sA1)"/>
<rect x="163.32" y="1208" width="9.91" height="174.7" fill="url(#sA2)"/>
<rect x="172.64" y="1208" width="9.91" height="174.7" fill="url(#sA3)"/>
<rect x="181.95" y="1208" width="9.91" height="174.7" fill="url(#sA4)"/>
<rect x="191.26" y="1208" width="9.91" height="174.7" fill="url(#sA5)"/>
<rect x="200.57" y="1208" width="9.91" height="174.7" fill="url(#sA6)"/>
<rect x="209.89" y="1208" width="9.91" height="174.7" fill="url(#sA7)"/>
<rect x="219.2" y="1208" width="9.91" height="174.7" fill="url(#sA8)"/>
<rect x="228.51" y="1208" width="9.91" height="174.7" fill="url(#sA9)"/>
<rect x="237.82" y="1208" width="9.91" height="174.7" fill="url(#sA10)"/>
<rect x="247.14" y="1208" width="9.91" height="174.7" fill="url(#sA11)"/>
<rect x="256.45" y="1208" width="9.91" height="174.7" fill="url(#sA12)"/>
<rect x="265.76" y="1208" width="9.91" height="174.7" fill="url(#sA13)"/>
<rect x="275.07" y="1208" width="9.91" height="174.7" fill="url(#sA14)"/>
<rect x="284.39" y="1208" width="9.91" height="174.7" fill="url(#sA15)"/>
<rect x="293.7" y="1208" width="9.91" height="174.7" fill="url(#sA16)"/>
<rect x="303.01" y="1208" width="9.91" height="174.7" fill="url(#sA17)"/>
<rect x="312.32" y="1208" width="9.91" height="174.7" fill="url(#sA18)"/>
<rect x="321.64" y="1208" width="9.91" height="174.7" fill="url(#sA19)"/>
<rect x="330.95" y="1208" width="9.91" height="174.7" fill="url(#sA20)"/>
<rect x="340.26" y="1208" width="9.91" height="174.7" fill="url(#sA21)"/>
<rect x="349.57" y="1208" width="9.91" height="174.7" fill="url(#sA22)"/>
<rect x="358.89" y="1208" width="9.91" height="174.7" fill="url(#sA23)"/>
<rect x="368.2" y="1208" width="9.91" height="174.7" fill="url(#sA24)"/>
<rect x="377.51" y="1208" width="9.91" height="174.7" fill="url(#sA25)"/>
<rect x="386.82" y="1208" width="9.91" height="174.7" fill="url(#sA26)"/>
<rect x="396.14" y="1208" width="9.91" height="174.7" fill="url(#sA27)"/>
<rect x="405.45" y="1208" width="9.91" height="174.7" fill="url(#sA28)"/>
<rect x="414.76" y="1208" width="9.91" height="174.7" fill="url(#sA29)"/>
<rect x="424.07" y="1208" width="9.91" height="174.7" fill="url(#sA30)"/>
<rect x="433.39" y="1208" width="9.91" height="174.7" fill="url(#sA31)"/>
<rect x="144.7" y="1208" width="298" height="174.7" fill="none" stroke="#231815" stroke-width="1.6"/>
<line x1="134.2" y1="1208.5" x2="144.7" y2="1208.5" stroke="#231815" stroke-width="1.5"/>
<text x="106.81" y="1219.8" font-size="22.5" fill="#1d1d1b">30</text>
<line x1="134.2" y1="1268.6" x2="144.7" y2="1268.6" stroke="#231815" stroke-width="1.5"/>
<text x="106.81" y="1276.5" font-size="22.5" fill="#1d1d1b">20</text>
<line x1="134.2" y1="1327.9" x2="144.7" y2="1327.9" stroke="#231815" stroke-width="1.5"/>
<text x="106.81" y="1333.1" font-size="22.5" fill="#1d1d1b">10</text>
<line x1="134.2" y1="1382" x2="144.7" y2="1382" stroke="#231815" stroke-width="1.5"/>
<text x="119.3" y="1389.8" font-size="22.5" fill="#1d1d1b">0</text>
<line x1="145.3" y1="1382.7" x2="145.3" y2="1390.7" stroke="#231815" stroke-width="1.4"/>
<text x="128.93" y="1413.6" font-size="22.5" fill="#1d1d1b">-30</text>
<line x1="194.75" y1="1382.7" x2="194.75" y2="1390.7" stroke="#231815" stroke-width="1.4"/>
<text x="178.38" y="1413.6" font-size="22.5" fill="#1d1d1b">-20</text>
<line x1="244.2" y1="1382.7" x2="244.2" y2="1390.7" stroke="#231815" stroke-width="1.4"/>
<text x="227.83" y="1413.6" font-size="22.5" fill="#1d1d1b">-10</text>
<line x1="293.65" y1="1382.7" x2="293.65" y2="1390.7" stroke="#231815" stroke-width="1.4"/>
<text x="287.35" y="1413.6" font-size="22.5" fill="#1d1d1b">0</text>
<line x1="343.1" y1="1382.7" x2="343.1" y2="1390.7" stroke="#231815" stroke-width="1.4"/>
<text x="330.16" y="1413.6" font-size="22.5" fill="#1d1d1b">10</text>
<line x1="392.55" y1="1382.7" x2="392.55" y2="1390.7" stroke="#231815" stroke-width="1.4"/>
<text x="379.89" y="1413.6" font-size="22.5" fill="#1d1d1b">20</text>
<line x1="442" y1="1382.7" x2="442" y2="1390.7" stroke="#231815" stroke-width="1.4"/>
<text x="429.46" y="1413.6" font-size="22.5" fill="#1d1d1b">30</text>
<defs>
<linearGradient id="sB0" x1="0" y1="1" x2="0" y2="0">
<stop offset="0%" stop-color="#ba211a"/>
<stop offset="2%" stop-color="#b71e1a"/>
<stop offset="5%" stop-color="#bd231a"/>
<stop offset="10%" stop-color="#c0251b"/>
<stop offset="15%" stop-color="#e2411e"/>
<stop offset="20%" stop-color="#f39c27"/>
<stop offset="25%" stop-color="#f3c92e"/>
<stop offset="30%" stop-color="#e4de39"/>
<stop offset="37%" stop-color="#bad24d"/>
<stop offset="43%" stop-color="#8fc68c"/>
<stop offset="50%" stop-color="#64bac4"/>
<stop offset="60%" stop-color="#2d8ccc"/>
<stop offset="70%" stop-color="#205caa"/>
<stop offset="83%" stop-color="#1c4195"/>
<stop offset="93%" stop-color="#1a3584"/>
<stop offset="100%" stop-color="#1e4b9d"/>
</linearGradient>
<linearGradient id="sB1" x1="0" y1="1" x2="0" y2="0">
<stop offset="0%" stop-color="#cf301c"/>
<stop offset="2%" stop-color="#cc2d1c"/>
<stop offset="5%" stop-color="#d1311c"/>
<stop offset="10%" stop-color="#da371d"/>
<stop offset="15%" stop-color="#e86122"/>
<stop offset="20%" stop-color="#f5ac29"/>
<stop offset="25%" stop-color="#f2e232"/>
<stop offset="30%" stop-color="#e3de39"/>
<stop offset="37%" stop-color="#a2cb6d"/>
<stop offset="43%" stop-color="#7dc1a9"/>
<stop offset="50%" stop-color="#55b6cf"/>
<stop offset="60%" stop-color="#2985c8"/>
<stop offset="70%" stop-color="#1d4a9c"/>
<stop offset="83%" stop-color="#1b3e90"/>
<stop offset="93%" stop-color="#182c76"/>
<stop offset="100%" stop-color="#1a3988"/>
</linearGradient>
<linearGradient id="sB2" x1="0" y1="1" x2="0" y2="0">
<stop offset="0%" stop-color="#ce2e1c"/>
<stop offset="2%" stop-color="#c4281b"/>
<stop offset="5%" stop-color="#d8361d"/>
<stop offset="10%" stop-color="#da371d"/>
<stop offset="15%" stop-color="#ea6d23"/>
<stop offset="20%" stop-color="#f5a428"/>
<stop offset="25%" stop-color="#f2dc31"/>
<stop offset="30%" stop-color="#d3d941"/>
<stop offset="37%" stop-color="#c3d449"/>
<stop offset="43%" stop-color="#89c495"/>
<stop offset="50%" stop-color="#59b7cc"/>
<stop offset="60%" stop-color="#2c8bcb"/>
<stop offset="70%" stop-color="#1d479a"/>
<stop offset="83%" stop-color="#1a3887"/>
<stop offset="93%" stop-color="#1b3c8d"/>
<stop offset="100%" stop-color="#19317d"/>
</linearGradient>
<linearGradient id="sB3" x1="0" y1="1" x2="0" y2="0">
<stop offset="0%" stop-color="#d2321d"/>
<stop offset="2%" stop-color="#c92c1c"/>
<stop offset="5%" stop-color="#d6341d"/>
<stop offset="10%" stop-color="#cc2d1c"/>
<stop offset="15%" stop-color="#e13e1e"/>
<stop offset="20%" stop-color="#f49e27"/>
<stop offset="25%" stop-color="#f3d430"/>
<stop offset="30%" stop-color="#e3de39"/>
<stop offset="37%" stop-color="#bbd24d"/>
<stop offset="43%" stop-color="#86c39a"/>
<stop offset="50%" stop-color="#64bac4"/>
<stop offset="60%" stop-color="#3299d4"/>
<stop offset="70%" stop-color="#1f55a5"/>
<stop offset="83%" stop-color="#1b3b8c"/>
<stop offset="93%" stop-color="#1b3f91"/>
<stop offset="100%" stop-color="#1a3989"/>
</linearGradient>
<linearGradient id="sB4" x1="0" y1="1" x2="0" y2="0">
<stop offset="0%" stop-color="#c5291b"/>
<stop offset="2%" stop-color="#bc221a"/>
<stop offset="5%" stop-color="#cd2e1c"/>
<stop offset="10%" stop-color="#d9361d"/>
<stop offset="15%" stop-color="#e13e1e"/>
<stop offset="20%" stop-color="#f18e26"/>
<stop offset="25%" stop-color="#f4c22d"/>
<stop offset="30%" stop-color="#f2e032"/>
<stop offset="37%" stop-color="#ccd745"/>
<stop offset="43%" stop-color="#88c497"/>
<stop offset="50%" stop-color="#6cbcbe"/>
<stop offset="60%" stop-color="#349dd6"/>
<stop offset="70%" stop-color="#205daa"/>
<stop offset="83%" stop-color="#1c4296"/>
<stop offset="93%" stop-color="#1a3887"/>
<stop offset="100%" stop-color="#1b3f91"/>
</linearGradient>
<linearGradient id="sB5" x1="0" y1="1" x2="0" y2="0">
<stop offset="0%" stop-color="#cb2c1c"/>
<stop offset="2%" stop-color="#cf301c"/>
<stop offset="5%" stop-color="#d5341d"/>
<stop offset="10%" stop-color="#de3a1e"/>
<stop offset="15%" stop-color="#e4491f"/>
<stop offset="20%" stop-color="#ec7523"/>
<stop offset="25%" stop-color="#f4b72b"/>
<stop offset="30%" stop-color="#f2dd31"/>
<stop offset="37%" stop-color="#c6d548"/>
<stop offset="43%" stop-color="#91c689"/>
<stop offset="50%" stop-color="#6cbcbe"/>
<stop offset="60%" stop-color="#39a9dd"/>
<stop offset="70%" stop-color="#1f53a3"/>
<stop offset="83%" stop-color="#1c3f92"/>
<stop offset="93%" stop-color="#1b3e91"/>
<stop offset="100%" stop-color="#1b3a8b"/>
</linearGradient>
<linearGradient id="sB6" x1="0" y1="1" x2="0" y2="0">
<stop offset="0%" stop-color="#bb211a"/>
<stop offset="2%" stop-color="#b81f1a"/>
<stop offset="5%" stop-color="#c3271b"/>
<stop offset="10%" stop-color="#c82b1c"/>
<stop offset="15%" stop-color="#df3a1e"/>
<stop offset="20%" stop-color="#eb6e23"/>
<stop offset="25%" stop-color="#f5ad29"/>
<stop offset="30%" stop-color="#f3d12f"/>
<stop offset="37%" stop-color="#cdd744"/>
<stop offset="43%" stop-color="#aacd60"/>
<stop offset="50%" stop-color="#82c2a0"/>
<stop offset="60%" stop-color="#3aaade"/>
<stop offset="70%" stop-color="#2266b2"/>
<stop offset="83%" stop-color="#1c4296"/>
<stop offset="93%" stop-color="#1b3e90"/>
<stop offset="100%" stop-color="#1c4093"/>
</linearGradient>
<linearGradient id="sB7" x1="0" y1="1" x2="0" y2="0">
<stop offset="0%" stop-color="#ce2f1c"/>
<stop offset="2%" stop-color="#cf301c"/>
<stop offset="5%" stop-color="#ca2c1c"/>
<stop offset="10%" stop-color="#d2311c"/>
<stop offset="15%" stop-color="#dd391e"/>
<stop offset="20%" stop-color="#ec7724"/>
<stop offset="25%" stop-color="#f5ac29"/>
<stop offset="30%" stop-color="#f2dd31"/>
<stop offset="37%" stop-color="#dcdc3c"/>
<stop offset="43%" stop-color="#9fca73"/>
<stop offset="50%" stop-color="#80c2a3"/>
<stop offset="60%" stop-color="#38a6dc"/>
<stop offset="70%" stop-color="#2162ae"/>
<stop offset="83%" stop-color="#1b3f91"/>
<stop offset="93%" stop-color="#1b3b8b"/>
<stop offset="100%" stop-color="#1a3888"/>
</linearGradient>
<linearGradient id="sB8" x1="0" y1="1" x2="0" y2="0">
<stop offset="0%" stop-color="#be231a"/>
<stop offset="2%" stop-color="#c2261b"/>
<stop offset="5%" stop-color="#cb2d1c"/>
<stop offset="10%" stop-color="#d6341d"/>
<stop offset="15%" stop-color="#e13c1e"/>
<stop offset="20%" stop-color="#eb7223"/>
<stop offset="25%" stop-color="#f4a128"/>
<stop offset="30%" stop-color="#f4bf2c"/>
<stop offset="37%" stop-color="#dddc3c"/>
<stop offset="43%" stop-color="#acce5d"/>
<stop offset="50%" stop-color="#80c2a4"/>
<stop offset="60%" stop-color="#4eb4d4"/>
<stop offset="70%" stop-color="#2470b9"/>
<stop offset="83%" stop-color="#1c4195"/>
<stop offset="93%" stop-color="#1c3f92"/>
<stop offset="100%" stop-color="#1c3f92"/>
</linearGradient>
<linearGradient id="sB9" x1="0" y1="1" x2="0" y2="0">
<stop offset="0%" stop-color="#c0251b"/>
<stop offset="2%" stop-color="#c5281b"/>
<stop offset="5%" stop-color="#e03b1e"/>
<stop offset="10%" stop-color="#d7351d"/>
<stop offset="15%" stop-color="#d1311c"/>
<stop offset="20%" stop-color="#ef8325"/>
<stop offset="25%" stop-color="#f5a428"/>
<stop offset="30%" stop-color="#f4be2c"/>
<stop offset="37%" stop-color="#dddc3c"/>
<stop offset="43%" stop-color="#bbd24d"/>
<stop offset="50%" stop-color="#79c0af"/>
<stop offset="60%" stop-color="#3cafe1"/>
<stop offset="70%" stop-color="#246fb8"/>
<stop offset="83%" stop-color="#1b3b8c"/>
<stop offset="93%" stop-color="#1a3887"/>
<stop offset="100%" stop-color="#1b3d8f"/>
</linearGradient>
<linearGradient id="sB10" x1="0" y1="1" x2="0" y2="0">
<stop offset="0%" stop-color="#c6291b"/>
<stop offset="2%" stop-color="#cb2d1c"/>
<stop offset="5%" stop-color="#cc2d1c"/>
<stop offset="10%" stop-color="#d6341d"/>
<stop offset="15%" stop-color="#e3461f"/>
<stop offset="20%" stop-color="#e96622"/>
<stop offset="25%" stop-color="#f29827"/>
<stop offset="30%" stop-color="#f4bd2c"/>
<stop offset="37%" stop-color="#eae036"/>
<stop offset="43%" stop-color="#afcf58"/>
<stop offset="50%" stop-color="#89c495"/>
<stop offset="60%" stop-color="#47b2d9"/>
<stop offset="70%" stop-color="#267ec3"/>
<stop offset="83%" stop-color="#1c4194"/>
<stop offset="93%" stop-color="#1d4a9c"/>
<stop offset="100%" stop-color="#1c4295"/>
</linearGradient>
<linearGradient id="sB11" x1="0" y1="1" x2="0" y2="0">
<stop offset="0%" stop-color="#d1311c"/>
<stop offset="2%" stop-color="#ca2c1c"/>
<stop offset="5%" stop-color="#d4331d"/>
<stop offset="10%" stop-color="#db381d"/>
<stop offset="15%" stop-color="#e65420"/>
<stop offset="20%" stop-color="#ea6c23"/>
<stop offset="25%" stop-color="#f49f27"/>
<stop offset="30%" stop-color="#f4bb2c"/>
<stop offset="37%" stop-color="#e8df37"/>
<stop offset="43%" stop-color="#b0cf56"/>
<stop offset="50%" stop-color="#78bfb0"/>
<stop offset="60%" stop-color="#49b2d8"/>
<stop offset="70%" stop-color="#2574bc"/>
<stop offset="83%" stop-color="#1b3b8c"/>
<stop offset="93%" stop-color="#1b3f91"/>
<stop offset="100%" stop-color="#1a3989"/>
</linearGradient>
<linearGradient id="sB12" x1="0" y1="1" x2="0" y2="0">
<stop offset="0%" stop-color="#bc221a"/>
<stop offset="2%" stop-color="#bb211a"/>
<stop offset="5%" stop-color="#c1261b"/>
<stop offset="10%" stop-color="#c72a1b"/>
<stop offset="15%" stop-color="#df3b1e"/>
<stop offset="20%" stop-color="#e3451f"/>
<stop offset="25%" stop-color="#ed7d24"/>
<stop offset="30%" stop-color="#f5af2a"/>
<stop offset="37%" stop-color="#f3d32f"/>
<stop offset="43%" stop-color="#d1d842"/>
<stop offset="50%" stop-color="#acce5d"/>
<stop offset="60%" stop-color="#64bac4"/>
<stop offset="70%" stop-color="#2d8ecd"/>
<stop offset="83%" stop-color="#1b3d8e"/>
<stop offset="93%" stop-color="#1e4e9f"/>
<stop offset="100%" stop-color="#1d499b"/>
</linearGradient>
<linearGradient id="sB13" x1="0" y1="1" x2="0" y2="0">
<stop offset="0%" stop-color="#bf251b"/>
<stop offset="2%" stop-color="#bd231a"/>
<stop offset="5%" stop-color="#cf2f1c"/>
<stop offset="10%" stop-color="#cd2e1c"/>
<stop offset="15%" stop-color="#dd391e"/>
<stop offset="20%" stop-color="#ea6922"/>
<stop offset="25%" stop-color="#ee8125"/>
<stop offset="30%" stop-color="#f5a828"/>
<stop offset="37%" stop-color="#f3cc2e"/>
<stop offset="43%" stop-color="#d4d941"/>
<stop offset="50%" stop-color="#94c784"/>
<stop offset="60%" stop-color="#51b5d2"/>
<stop offset="70%" stop-color="#2c8ccc"/>
<stop offset="83%" stop-color="#1c4296"/>
<stop offset="93%" stop-color="#1b3b8b"/>
<stop offset="100%" stop-color="#1a3786"/>
</linearGradient>
<linearGradient id="sB14" x1="0" y1="1" x2="0" y2="0">
<stop offset="0%" stop-color="#d2311c"/>
<stop offset="2%" stop-color="#d2311c"/>
<stop offset="5%" stop-color="#ce2e1c"/>
<stop offset="10%" stop-color="#d9371d"/>
<stop offset="15%" stop-color="#e55020"/>
<stop offset="20%" stop-color="#ed7c24"/>
<stop offset="25%" stop-color="#f29827"/>
<stop offset="30%" stop-color="#f5a628"/>
<stop offset="37%" stop-color="#f2e232"/>
<stop offset="43%" stop-color="#d2d941"/>
<stop offset="50%" stop-color="#91c688"/>
<stop offset="60%" stop-color="#56b6ce"/>
<stop offset="70%" stop-color="#2d8dcd"/>
<stop offset="83%" stop-color="#1b3e91"/>
<stop offset="93%" stop-color="#1b3c8d"/>
<stop offset="100%" stop-color="#1a3583"/>
</linearGradient>
<linearGradient id="sB15" x1="0" y1="1" x2="0" y2="0">
<stop offset="0%" stop-color="#d0301c"/>
<stop offset="2%" stop-color="#e03c1e"/>
<stop offset="5%" stop-color="#e44a1f"/>
<stop offset="10%" stop-color="#e96822"/>
<stop offset="15%" stop-color="#f39b27"/>
<stop offset="20%" stop-color="#ef8625"/>
<stop offset="25%" stop-color="#f4bb2c"/>
<stop offset="30%" stop-color="#f3d630"/>
<stop offset="37%" stop-color="#cfd843"/>
<stop offset="43%" stop-color="#9bc978"/>
<stop offset="50%" stop-color="#6ebdbc"/>
<stop offset="60%" stop-color="#3298d3"/>
<stop offset="70%" stop-color="#2576be"/>
<stop offset="83%" stop-color="#1c4195"/>
<stop offset="93%" stop-color="#1b3d8f"/>
<stop offset="100%" stop-color="#1b3f92"/>
</linearGradient>
<linearGradient id="sB16" x1="0" y1="1" x2="0" y2="0">
<stop offset="0%" stop-color="#f29727"/>
<stop offset="2%" stop-color="#f5ab29"/>
<stop offset="5%" stop-color="#f4bd2c"/>
<stop offset="10%" stop-color="#f3cf2f"/>
<stop offset="15%" stop-color="#ede134"/>
<stop offset="20%" stop-color="#d8da3f"/>
<stop offset="25%" stop-color="#a8cd63"/>
<stop offset="30%" stop-color="#8cc591"/>
<stop offset="37%" stop-color="#59b7cc"/>
<stop offset="43%" stop-color="#349cd6"/>
<stop offset="50%" stop-color="#1f55a5"/>
<stop offset="60%" stop-color="#1d4598"/>
<stop offset="70%" stop-color="#1b3d8f"/>
<stop offset="83%" stop-color="#1b3a8a"/>
<stop offset="93%" stop-color="#1a3684"/>
<stop offset="100%" stop-color="#1c4093"/>
</linearGradient>
<linearGradient id="sB17" x1="0" y1="1" x2="0" y2="0">
<stop offset="0%" stop-color="#f08c26"/>
<stop offset="2%" stop-color="#f5a528"/>
<stop offset="5%" stop-color="#f3c52d"/>
<stop offset="10%" stop-color="#f2d930"/>
<stop offset="15%" stop-color="#d6da40"/>
<stop offset="20%" stop-color="#bed34b"/>
<stop offset="25%" stop-color="#aacd60"/>
<stop offset="30%" stop-color="#84c39d"/>
<stop offset="37%" stop-color="#46b2da"/>
<stop offset="43%" stop-color="#3197d3"/>
<stop offset="50%" stop-color="#1e4d9e"/>
<stop offset="60%" stop-color="#1a398a"/>
<stop offset="70%" stop-color="#1b3d8e"/>
<stop offset="83%" stop-color="#1a3887"/>
<stop offset="93%" stop-color="#1b3f91"/>
<stop offset="100%" stop-color="#1a3a8a"/>
</linearGradient>
<linearGradient id="sB18" x1="0" y1="1" x2="0" y2="0">
<stop offset="0%" stop-color="#f39927"/>
<stop offset="2%" stop-color="#f4a028"/>
<stop offset="5%" stop-color="#f3d22f"/>
<stop offset="10%" stop-color="#f2d830"/>
<stop offset="15%" stop-color="#ece035"/>
<stop offset="20%" stop-color="#bdd34c"/>
<stop offset="25%" stop-color="#acce5d"/>
<stop offset="30%" stop-color="#86c39a"/>
<stop offset="37%" stop-color="#4bb3d6"/>
<stop offset="43%" stop-color="#349cd6"/>
<stop offset="50%" stop-color="#1e50a1"/>
<stop offset="60%" stop-color="#1b3d8f"/>
<stop offset="70%" stop-color="#1a3989"/>
<stop offset="83%" stop-color="#1a3887"/>
<stop offset="93%" stop-color="#1a3583"/>
<stop offset="100%" stop-color="#1d479a"/>
</linearGradient>
<linearGradient id="sB19" x1="0" y1="1" x2="0" y2="0">
<stop offset="0%" stop-color="#ef8425"/>
<stop offset="2%" stop-color="#f5ab29"/>
<stop offset="5%" stop-color="#f4b52b"/>
<stop offset="10%" stop-color="#f2e032"/>
<stop offset="15%" stop-color="#f0e133"/>
<stop offset="20%" stop-color="#d1d842"/>
<stop offset="25%" stop-color="#a9cd62"/>
<stop offset="30%" stop-color="#79c0af"/>
<stop offset="37%" stop-color="#4eb4d4"/>
<stop offset="43%" stop-color="#2e90ce"/>
<stop offset="50%" stop-color="#1f55a4"/>
<stop offset="60%" stop-color="#1c4497"/>
<stop offset="70%" stop-color="#1c4093"/>
<stop offset="83%" stop-color="#1c4195"/>
<stop offset="93%" stop-color="#1a3989"/>
<stop offset="100%" stop-color="#1b3d8e"/>
</linearGradient>
<linearGradient id="sB20" x1="0" y1="1" x2="0" y2="0">
<stop offset="0%" stop-color="#f39b27"/>
<stop offset="2%" stop-color="#f5a728"/>
<stop offset="5%" stop-color="#f4bb2c"/>
<stop offset="10%" stop-color="#f2e232"/>
<stop offset="15%" stop-color="#d9db3e"/>
<stop offset="20%" stop-color="#afcf59"/>
<stop offset="25%" stop-color="#9dca75"/>
<stop offset="30%" stop-color="#6cbcbe"/>
<stop offset="37%" stop-color="#3baee0"/>
<stop offset="43%" stop-color="#2a85c8"/>
<stop offset="50%" stop-color="#1d499c"/>
<stop offset="60%" stop-color="#1b3b8b"/>
<stop offset="70%" stop-color="#1b3c8d"/>
<stop offset="83%" stop-color="#1a3888"/>
<stop offset="93%" stop-color="#1a3888"/>
<stop offset="100%" stop-color="#1b3e90"/>
</linearGradient>
<linearGradient id="sB21" x1="0" y1="1" x2="0" y2="0">
<stop offset="0%" stop-color="#eb6f23"/>
<stop offset="2%" stop-color="#ee8225"/>
<stop offset="5%" stop-color="#f4bb2c"/>
<stop offset="10%" stop-color="#f2d931"/>
<stop offset="15%" stop-color="#e4de39"/>
<stop offset="20%" stop-color="#c2d449"/>
<stop offset="25%" stop-color="#b1cf56"/>
<stop offset="30%" stop-color="#80c2a3"/>
<stop offset="37%" stop-color="#57b6ce"/>
<stop offset="43%" stop-color="#36a1d9"/>
<stop offset="50%" stop-color="#1e51a1"/>
<stop offset="60%" stop-color="#1c4194"/>
<stop offset="70%" stop-color="#1c4397"/>
<stop offset="83%" stop-color="#1b3f91"/>
<stop offset="93%" stop-color="#1c4195"/>
<stop offset="100%" stop-color="#1b3c8d"/>
</linearGradient>
<linearGradient id="sB22" x1="0" y1="1" x2="0" y2="0">
<stop offset="0%" stop-color="#f29727"/>
<stop offset="2%" stop-color="#f4ba2b"/>
<stop offset="5%" stop-color="#f3c72e"/>
<stop offset="10%" stop-color="#eee134"/>
<stop offset="15%" stop-color="#e4de39"/>
<stop offset="20%" stop-color="#b5d050"/>
<stop offset="25%" stop-color="#9eca74"/>
<stop offset="30%" stop-color="#75bfb6"/>
<stop offset="37%" stop-color="#43b1dc"/>
<stop offset="43%" stop-color="#2f91cf"/>
<stop offset="50%" stop-color="#1d4598"/>
<stop offset="60%" stop-color="#1a3989"/>
<stop offset="70%" stop-color="#1a3887"/>
<stop offset="83%" stop-color="#1a3786"/>
<stop offset="93%" stop-color="#1a3584"/>
<stop offset="100%" stop-color="#1a3989"/>
</linearGradient>
<linearGradient id="sB23" x1="0" y1="1" x2="0" y2="0">
<stop offset="0%" stop-color="#f29426"/>
<stop offset="2%" stop-color="#f5ac29"/>
<stop offset="5%" stop-color="#f3d530"/>
<stop offset="10%" stop-color="#f2e032"/>
<stop offset="15%" stop-color="#e2dd3a"/>
<stop offset="20%" stop-color="#b9d14e"/>
<stop offset="25%" stop-color="#a0cb70"/>
<stop offset="30%" stop-color="#7dc1a8"/>
<stop offset="37%" stop-color="#45b1db"/>
<stop offset="43%" stop-color="#3094d1"/>
<stop offset="50%" stop-color="#1d4b9d"/>
<stop offset="60%" stop-color="#1c4497"/>
<stop offset="70%" stop-color="#1c3f92"/>
<stop offset="83%" stop-color="#1c4093"/>
<stop offset="93%" stop-color="#1a3887"/>
<stop offset="100%" stop-color="#1b3c8e"/>
</linearGradient>
<linearGradient id="sB24" x1="0" y1="1" x2="0" y2="0">
<stop offset="0%" stop-color="#ef8425"/>
<stop offset="2%" stop-color="#f5a929"/>
<stop offset="5%" stop-color="#f3c42d"/>
<stop offset="10%" stop-color="#f2e132"/>
<stop offset="15%" stop-color="#e3de39"/>
<stop offset="20%" stop-color="#d2d941"/>
<stop offset="25%" stop-color="#99c97b"/>
<stop offset="30%" stop-color="#70bdbb"/>
<stop offset="37%" stop-color="#4eb4d4"/>
<stop offset="43%" stop-color="#339ad4"/>
<stop offset="50%" stop-color="#1e4c9e"/>
<stop offset="60%" stop-color="#1b3f92"/>
<stop offset="70%" stop-color="#1b3e90"/>
<stop offset="83%" stop-color="#1b3e90"/>
<stop offset="93%" stop-color="#1c4094"/>
<stop offset="100%" stop-color="#1a3887"/>
</linearGradient>
<linearGradient id="sB25" x1="0" y1="1" x2="0" y2="0">
<stop offset="0%" stop-color="#ed7824"/>
<stop offset="2%" stop-color="#f4a028"/>
<stop offset="5%" stop-color="#f4ba2b"/>
<stop offset="10%" stop-color="#f2dd31"/>
<stop offset="15%" stop-color="#dddc3c"/>
<stop offset="20%" stop-color="#d5da40"/>
<stop offset="25%" stop-color="#a4cb6a"/>
<stop offset="30%" stop-color="#90c68b"/>
<stop offset="37%" stop-color="#59b7cc"/>
<stop offset="43%" stop-color="#3298d3"/>
<stop offset="50%" stop-color="#1e4fa0"/>
<stop offset="60%" stop-color="#1b3b8c"/>
<stop offset="70%" stop-color="#1b3f92"/>
<stop offset="83%" stop-color="#1a3787"/>
<stop offset="93%" stop-color="#1d4699"/>
<stop offset="100%" stop-color="#1a3684"/>
</linearGradient>
<linearGradient id="sB26" x1="0" y1="1" x2="0" y2="0">
<stop offset="0%" stop-color="#f5a628"/>
<stop offset="2%" stop-color="#f5a528"/>
<stop offset="5%" stop-color="#f4b92b"/>
<stop offset="10%" stop-color="#f2dc31"/>
<stop offset="15%" stop-color="#dddc3c"/>
<stop offset="20%" stop-color="#c4d548"/>
<stop offset="25%" stop-color="#a9cd61"/>
<stop offset="30%" stop-color="#83c39f"/>
<stop offset="37%" stop-color="#4bb3d6"/>
<stop offset="43%" stop-color="#2c8acb"/>
<stop offset="50%" stop-color="#1f52a2"/>
<stop offset="60%" stop-color="#1c4194"/>
<stop offset="70%" stop-color="#1c4497"/>
<stop offset="83%" stop-color="#1b3d8f"/>
<stop offset="93%" stop-color="#1b3c8d"/>
<stop offset="100%" stop-color="#1a3988"/>
</linearGradient>
<linearGradient id="sB27" x1="0" y1="1" x2="0" y2="0">
<stop offset="0%" stop-color="#e86322"/>
<stop offset="2%" stop-color="#f5a228"/>
<stop offset="5%" stop-color="#f4bc2c"/>
<stop offset="10%" stop-color="#f2da31"/>
<stop offset="15%" stop-color="#e4de39"/>
<stop offset="20%" stop-color="#ccd744"/>
<stop offset="25%" stop-color="#b1cf54"/>
<stop offset="30%" stop-color="#7cc1aa"/>
<stop offset="37%" stop-color="#51b5d2"/>
<stop offset="43%" stop-color="#37a4da"/>
<stop offset="50%" stop-color="#2058a6"/>
<stop offset="60%" stop-color="#1c4296"/>
<stop offset="70%" stop-color="#1c4094"/>
<stop offset="83%" stop-color="#1b3d8f"/>
<stop offset="93%" stop-color="#1b3f92"/>
<stop offset="100%" stop-color="#1b3f91"/>
</linearGradient>
<linearGradient id="sB28" x1="0" y1="1" x2="0" y2="0">
<stop offset="0%" stop-color="#ed7824"/>
<stop offset="2%" stop-color="#f4a228"/>
<stop offset="5%" stop-color="#f4bd2c"/>
<stop offset="10%" stop-color="#f2d931"/>
<stop offset="15%" stop-color="#e8df37"/>
<stop offset="20%" stop-color="#c1d44a"/>
<stop offset="25%" stop-color="#a1cb6e"/>
<stop offset="30%" stop-color="#72beb9"/>
<stop offset="37%" stop-color="#55b6cf"/>
<stop offset="43%" stop-color="#3299d4"/>
<stop offset="50%" stop-color="#1e51a1"/>
<stop offset="60%" stop-color="#1c4093"/>
<stop offset="70%" stop-color="#1b3c8d"/>
<stop offset="83%" stop-color="#1b3d8e"/>
<stop offset="93%" stop-color="#1a3989"/>
<stop offset="100%" stop-color="#193380"/>
</linearGradient>
<linearGradient id="sB29" x1="0" y1="1" x2="0" y2="0">
<stop offset="0%" stop-color="#f29526"/>
<stop offset="2%" stop-color="#f29426"/>
<stop offset="5%" stop-color="#f3cc2e"/>
<stop offset="10%" stop-color="#f2e132"/>
<stop offset="15%" stop-color="#e7df37"/>
<stop offset="20%" stop-color="#c4d548"/>
<stop offset="25%" stop-color="#99c87c"/>
<stop offset="30%" stop-color="#7bc0ad"/>
<stop offset="37%" stop-color="#45b1da"/>
<stop offset="43%" stop-color="#359ed7"/>
<stop offset="50%" stop-color="#1d489a"/>
<stop offset="60%" stop-color="#1b3c8d"/>
<stop offset="70%" stop-color="#1a3685"/>
<stop offset="83%" stop-color="#1a3988"/>
<stop offset="93%" stop-color="#1c4296"/>
<stop offset="100%" stop-color="#1a3989"/>
</linearGradient>
<linearGradient id="sB30" x1="0" y1="1" x2="0" y2="0">
<stop offset="0%" stop-color="#f19126"/>
<stop offset="2%" stop-color="#f5ae2a"/>
<stop offset="5%" stop-color="#f3cd2f"/>
<stop offset="10%" stop-color="#f3d02f"/>
<stop offset="15%" stop-color="#e9df37"/>
<stop offset="20%" stop-color="#cad646"/>
<stop offset="25%" stop-color="#aacd61"/>
<stop offset="30%" stop-color="#6cbcbe"/>
<stop offset="37%" stop-color="#3aabde"/>
<stop offset="43%" stop-color="#3093d0"/>
<stop offset="50%" stop-color="#1e4b9d"/>
<stop offset="60%" stop-color="#1b3c8d"/>
<stop offset="70%" stop-color="#1b3a8b"/>
<stop offset="83%" stop-color="#1b3c8e"/>
<stop offset="93%" stop-color="#1b3b8c"/>
<stop offset="100%" stop-color="#1a3989"/>
</linearGradient>
<linearGradient id="sB31" x1="0" y1="1" x2="0" y2="0">
<stop offset="0%" stop-color="#ee8025"/>
<stop offset="2%" stop-color="#f49e27"/>
<stop offset="5%" stop-color="#f4b52b"/>
<stop offset="10%" stop-color="#f3d730"/>
<stop offset="15%" stop-color="#f2de31"/>
<stop offset="20%" stop-color="#d0d842"/>
<stop offset="25%" stop-color="#abce5e"/>
<stop offset="30%" stop-color="#89c495"/>
<stop offset="37%" stop-color="#4db4d4"/>
<stop offset="43%" stop-color="#3299d4"/>
<stop offset="50%" stop-color="#1f51a2"/>
<stop offset="60%" stop-color="#1c4093"/>
<stop offset="70%" stop-color="#1c4094"/>
<stop offset="83%" stop-color="#1e4c9e"/>
<stop offset="93%" stop-color="#1b3f91"/>
<stop offset="100%" stop-color="#1a3887"/>
</linearGradient>
</defs>
<rect x="574.7" y="1208" width="9.91" height="174.7" fill="url(#sB0)"/>
<rect x="584.01" y="1208" width="9.91" height="174.7" fill="url(#sB1)"/>
<rect x="593.33" y="1208" width="9.91" height="174.7" fill="url(#sB2)"/>
<rect x="602.64" y="1208" width="9.91" height="174.7" fill="url(#sB3)"/>
<rect x="611.95" y="1208" width="9.91" height="174.7" fill="url(#sB4)"/>
<rect x="621.26" y="1208" width="9.91" height="174.7" fill="url(#sB5)"/>
<rect x="630.58" y="1208" width="9.91" height="174.7" fill="url(#sB6)"/>
<rect x="639.89" y="1208" width="9.91" height="174.7" fill="url(#sB7)"/>
<rect x="649.2" y="1208" width="9.91" height="174.7" fill="url(#sB8)"/>
<rect x="658.51" y="1208" width="9.91" height="174.7" fill="url(#sB9)"/>
<rect x="667.83" y="1208" width="9.91" height="174.7" fill="url(#sB10)"/>
<rect x="677.14" y="1208" width="9.91" height="174.7" fill="url(#sB11)"/>
<rect x="686.45" y="1208" width="9.91" height="174.7" fill="url(#sB12)"/>
<rect x="695.76" y="1208" width="9.91" height="174.7" fill="url(#sB13)"/>
<rect x="705.08" y="1208" width="9.91" height="174.7" fill="url(#sB14)"/>
<rect x="714.39" y="1208" width="9.91" height="174.7" fill="url(#sB15)"/>
<rect x="723.7" y="1208" width="9.91" height="174.7" fill="url(#sB16)"/>
<rect x="733.01" y="1208" width="9.91" height="174.7" fill="url(#sB17)"/>
<rect x="742.33" y="1208" width="9.91" height="174.7" fill="url(#sB18)"/>
<rect x="751.64" y="1208" width="9.91" height="174.7" fill="url(#sB19)"/>
<rect x="760.95" y="1208" width="9.91" height="174.7" fill="url(#sB20)"/>
<rect x="770.26" y="1208" width="9.91" height="174.7" fill="url(#sB21)"/>
<rect x="779.58" y="1208" width="9.91" height="174.7" fill="url(#sB22)"/>
<rect x="788.89" y="1208" width="9.91" height="174.7" fill="url(#sB23)"/>
<rect x="798.2" y="1208" width="9.91" height="174.7" fill="url(#sB24)"/>
<rect x="807.51" y="1208" width="9.91" height="174.7" fill="url(#sB25)"/>
<rect x="816.83" y="1208" width="9.91" height="174.7" fill="url(#sB26)"/>
<rect x="826.14" y="1208" width="9.91" height="174.7" fill="url(#sB27)"/>
<rect x="835.45" y="1208" width="9.91" height="174.7" fill="url(#sB28)"/>
<rect x="844.76" y="1208" width="9.91" height="174.7" fill="url(#sB29)"/>
<rect x="854.08" y="1208" width="9.91" height="174.7" fill="url(#sB30)"/>
<rect x="863.39" y="1208" width="9.91" height="174.7" fill="url(#sB31)"/>
<rect x="574.7" y="1208" width="298" height="174.7" fill="none" stroke="#231815" stroke-width="1.6"/>
<line x1="564.2" y1="1208.5" x2="574.7" y2="1208.5" stroke="#231815" stroke-width="1.5"/>
<text x="536.81" y="1219.8" font-size="22.5" fill="#1d1d1b">30</text>
<line x1="564.2" y1="1268.6" x2="574.7" y2="1268.6" stroke="#231815" stroke-width="1.5"/>
<text x="536.81" y="1276.5" font-size="22.5" fill="#1d1d1b">20</text>
<line x1="564.2" y1="1327.9" x2="574.7" y2="1327.9" stroke="#231815" stroke-width="1.5"/>
<text x="536.81" y="1333.1" font-size="22.5" fill="#1d1d1b">10</text>
<line x1="564.2" y1="1382" x2="574.7" y2="1382" stroke="#231815" stroke-width="1.5"/>
<text x="549.3" y="1389.8" font-size="22.5" fill="#1d1d1b">0</text>
<line x1="575.3" y1="1382.7" x2="575.3" y2="1390.7" stroke="#231815" stroke-width="1.4"/>
<text x="558.93" y="1413.6" font-size="22.5" fill="#1d1d1b">-30</text>
<line x1="624.75" y1="1382.7" x2="624.75" y2="1390.7" stroke="#231815" stroke-width="1.4"/>
<text x="608.38" y="1413.6" font-size="22.5" fill="#1d1d1b">-20</text>
<line x1="674.2" y1="1382.7" x2="674.2" y2="1390.7" stroke="#231815" stroke-width="1.4"/>
<text x="657.83" y="1413.6" font-size="22.5" fill="#1d1d1b">-10</text>
<line x1="723.65" y1="1382.7" x2="723.65" y2="1390.7" stroke="#231815" stroke-width="1.4"/>
<text x="717.35" y="1413.6" font-size="22.5" fill="#1d1d1b">0</text>
<line x1="773.1" y1="1382.7" x2="773.1" y2="1390.7" stroke="#231815" stroke-width="1.4"/>
<text x="760.16" y="1413.6" font-size="22.5" fill="#1d1d1b">10</text>
<line x1="822.55" y1="1382.7" x2="822.55" y2="1390.7" stroke="#231815" stroke-width="1.4"/>
<text x="809.89" y="1413.6" font-size="22.5" fill="#1d1d1b">20</text>
<line x1="872" y1="1382.7" x2="872" y2="1390.7" stroke="#231815" stroke-width="1.4"/>
<text x="859.46" y="1413.6" font-size="22.5" fill="#1d1d1b">30</text>
<defs>
<linearGradient id="sC0" x1="0" y1="1" x2="0" y2="0">
<stop offset="0%" stop-color="#bf241b"/>
<stop offset="2%" stop-color="#e13e1e"/>
<stop offset="5%" stop-color="#ca2c1c"/>
<stop offset="10%" stop-color="#e2431f"/>
<stop offset="15%" stop-color="#ec7523"/>
<stop offset="20%" stop-color="#e96322"/>
<stop offset="25%" stop-color="#f4bc2c"/>
<stop offset="30%" stop-color="#f3d630"/>
<stop offset="37%" stop-color="#f2e032"/>
<stop offset="43%" stop-color="#e3de39"/>
<stop offset="50%" stop-color="#b4d050"/>
<stop offset="60%" stop-color="#9dca75"/>
<stop offset="70%" stop-color="#60b9c7"/>
<stop offset="83%" stop-color="#3caee0"/>
<stop offset="93%" stop-color="#2f92cf"/>
<stop offset="100%" stop-color="#2474bc"/>
</linearGradient>
<linearGradient id="sC1" x1="0" y1="1" x2="0" y2="0">
<stop offset="0%" stop-color="#e96822"/>
<stop offset="2%" stop-color="#e2411e"/>
<stop offset="5%" stop-color="#e4491f"/>
<stop offset="10%" stop-color="#e75e21"/>
<stop offset="15%" stop-color="#ef8425"/>
<stop offset="20%" stop-color="#f3c92e"/>
<stop offset="25%" stop-color="#f3cf2f"/>
<stop offset="30%" stop-color="#f2df32"/>
<stop offset="37%" stop-color="#e6de38"/>
<stop offset="43%" stop-color="#afcf58"/>
<stop offset="50%" stop-color="#9eca74"/>
<stop offset="60%" stop-color="#5fb8c8"/>
<stop offset="70%" stop-color="#5ab7cb"/>
<stop offset="83%" stop-color="#2472ba"/>
<stop offset="93%" stop-color="#236db7"/>
<stop offset="100%" stop-color="#39a8dd"/>
</linearGradient>
<linearGradient id="sC2" x1="0" y1="1" x2="0" y2="0">
<stop offset="0%" stop-color="#d7351d"/>
<stop offset="2%" stop-color="#e03b1e"/>
<stop offset="5%" stop-color="#e65921"/>
<stop offset="10%" stop-color="#e55020"/>
<stop offset="15%" stop-color="#ee8025"/>
<stop offset="20%" stop-color="#f5a228"/>
<stop offset="25%" stop-color="#f2d830"/>
<stop offset="30%" stop-color="#dfdc3b"/>
<stop offset="37%" stop-color="#c6d547"/>
<stop offset="43%" stop-color="#a5cc68"/>
<stop offset="50%" stop-color="#9eca74"/>
<stop offset="60%" stop-color="#6dbcbd"/>
<stop offset="70%" stop-color="#6ebdbc"/>
<stop offset="83%" stop-color="#2575bd"/>
<stop offset="93%" stop-color="#2470b9"/>
<stop offset="100%" stop-color="#236db7"/>
</linearGradient>
<linearGradient id="sC3" x1="0" y1="1" x2="0" y2="0">
<stop offset="0%" stop-color="#c5291b"/>
<stop offset="2%" stop-color="#f18f26"/>
<stop offset="5%" stop-color="#e65620"/>
<stop offset="10%" stop-color="#ea6d23"/>
<stop offset="15%" stop-color="#e75b21"/>
<stop offset="20%" stop-color="#f2da31"/>
<stop offset="25%" stop-color="#f4bf2c"/>
<stop offset="30%" stop-color="#dddc3c"/>
<stop offset="37%" stop-color="#cfd843"/>
<stop offset="43%" stop-color="#adce5c"/>
<stop offset="50%" stop-color="#acce5d"/>
<stop offset="60%" stop-color="#68bbc1"/>
<stop offset="70%" stop-color="#5cb8c9"/>
<stop offset="83%" stop-color="#3eb0df"/>
<stop offset="93%" stop-color="#4db4d4"/>
<stop offset="100%" stop-color="#1d4a9c"/>
</linearGradient>
<linearGradient id="sC4" x1="0" y1="1" x2="0" y2="0">
<stop offset="0%" stop-color="#b8201a"/>
<stop offset="2%" stop-color="#d0301c"/>
<stop offset="5%" stop-color="#c92c1c"/>
<stop offset="10%" stop-color="#dd391e"/>
<stop offset="15%" stop-color="#d5331d"/>
<stop offset="20%" stop-color="#ee8225"/>
<stop offset="25%" stop-color="#f4b52b"/>
<stop offset="30%" stop-color="#f3cc2e"/>
<stop offset="37%" stop-color="#f0e233"/>
<stop offset="43%" stop-color="#d8da3f"/>
<stop offset="50%" stop-color="#b2cf53"/>
<stop offset="60%" stop-color="#c7d647"/>
<stop offset="70%" stop-color="#5cb8ca"/>
<stop offset="83%" stop-color="#2264b0"/>
<stop offset="93%" stop-color="#38a5db"/>
<stop offset="100%" stop-color="#349dd6"/>
</linearGradient>
<linearGradient id="sC5" x1="0" y1="1" x2="0" y2="0">
<stop offset="0%" stop-color="#d2321d"/>
<stop offset="2%" stop-color="#d4331d"/>
<stop offset="5%" stop-color="#d2311c"/>
<stop offset="10%" stop-color="#d0301c"/>
<stop offset="15%" stop-color="#ec7624"/>
<stop offset="20%" stop-color="#f5a528"/>
<stop offset="25%" stop-color="#f18f26"/>
<stop offset="30%" stop-color="#f3c82e"/>
<stop offset="37%" stop-color="#d7da3f"/>
<stop offset="43%" stop-color="#f2d830"/>
<stop offset="50%" stop-color="#c7d547"/>
<stop offset="60%" stop-color="#8ac494"/>
<stop offset="70%" stop-color="#5fb9c8"/>
<stop offset="83%" stop-color="#51b5d2"/>
<stop offset="93%" stop-color="#2b89ca"/>
<stop offset="100%" stop-color="#267cc2"/>
</linearGradient>
<linearGradient id="sC6" x1="0" y1="1" x2="0" y2="0">
<stop offset="0%" stop-color="#e2411e"/>
<stop offset="2%" stop-color="#ce2e1c"/>
<stop offset="5%" stop-color="#e44e20"/>
<stop offset="10%" stop-color="#ee7e24"/>
<stop offset="15%" stop-color="#ea6c23"/>
<stop offset="20%" stop-color="#f5ac29"/>
<stop offset="25%" stop-color="#f4bb2c"/>
<stop offset="30%" stop-color="#f3cb2e"/>
<stop offset="37%" stop-color="#d8da3f"/>
<stop offset="43%" stop-color="#bfd34a"/>
<stop offset="50%" stop-color="#a8cd63"/>
<stop offset="60%" stop-color="#70bdbb"/>
<stop offset="70%" stop-color="#70bdbb"/>
<stop offset="83%" stop-color="#63bac4"/>
<stop offset="93%" stop-color="#3298d3"/>
<stop offset="100%" stop-color="#2a86c8"/>
</linearGradient>
<linearGradient id="sC7" x1="0" y1="1" x2="0" y2="0">
<stop offset="0%" stop-color="#e03b1e"/>
<stop offset="2%" stop-color="#e23f1e"/>
<stop offset="5%" stop-color="#e13d1e"/>
<stop offset="10%" stop-color="#e75a21"/>
<stop offset="15%" stop-color="#ed7d24"/>
<stop offset="20%" stop-color="#f4c02c"/>
<stop offset="25%" stop-color="#f4b92b"/>
<stop offset="30%" stop-color="#f3d530"/>
<stop offset="37%" stop-color="#d0d842"/>
<stop offset="43%" stop-color="#a1cb6e"/>
<stop offset="50%" stop-color="#b4d050"/>
<stop offset="60%" stop-color="#a6cc67"/>
<stop offset="70%" stop-color="#62b9c5"/>
<stop offset="83%" stop-color="#39a8dd"/>
<stop offset="93%" stop-color="#2c8bcc"/>
<stop offset="100%" stop-color="#38a6db"/>
</linearGradient>
<linearGradient id="sC8" x1="0" y1="1" x2="0" y2="0">
<stop offset="0%" stop-color="#ca2c1c"/>
<stop offset="2%" stop-color="#e03b1e"/>
<stop offset="5%" stop-color="#d2321d"/>
<stop offset="10%" stop-color="#e3481f"/>
<stop offset="15%" stop-color="#ee7f24"/>
<stop offset="20%" stop-color="#f4c22d"/>
<stop offset="25%" stop-color="#f3d02f"/>
<stop offset="30%" stop-color="#f2df32"/>
<stop offset="37%" stop-color="#eee134"/>
<stop offset="43%" stop-color="#cdd744"/>
<stop offset="50%" stop-color="#a2cb6d"/>
<stop offset="60%" stop-color="#94c784"/>
<stop offset="70%" stop-color="#7bc0ac"/>
<stop offset="83%" stop-color="#3bacdf"/>
<stop offset="93%" stop-color="#2c8acb"/>
<stop offset="100%" stop-color="#2984c7"/>
</linearGradient>
<linearGradient id="sC9" x1="0" y1="1" x2="0" y2="0">
<stop offset="0%" stop-color="#c4281b"/>
<stop offset="2%" stop-color="#dc391e"/>
<stop offset="5%" stop-color="#cd2e1c"/>
<stop offset="10%" stop-color="#e13d1e"/>
<stop offset="15%" stop-color="#eb7223"/>
<stop offset="20%" stop-color="#e86222"/>
<stop offset="25%" stop-color="#f49f27"/>
<stop offset="30%" stop-color="#f3d630"/>
<stop offset="37%" stop-color="#f2de31"/>
<stop offset="43%" stop-color="#e5de38"/>
<stop offset="50%" stop-color="#b7d14e"/>
<stop offset="60%" stop-color="#9dca76"/>
<stop offset="70%" stop-color="#87c498"/>
<stop offset="83%" stop-color="#2d8dcd"/>
<stop offset="93%" stop-color="#3aacdf"/>
<stop offset="100%" stop-color="#3dafe0"/>
</linearGradient>
<linearGradient id="sC10" x1="0" y1="1" x2="0" y2="0">
<stop offset="0%" stop-color="#e23f1e"/>
<stop offset="2%" stop-color="#cc2d1c"/>
<stop offset="5%" stop-color="#e13e1e"/>
<stop offset="10%" stop-color="#d4331d"/>
<stop offset="15%" stop-color="#e3481f"/>
<stop offset="20%" stop-color="#ee8225"/>
<stop offset="25%" stop-color="#f4bd2c"/>
<stop offset="30%" stop-color="#f3d330"/>
<stop offset="37%" stop-color="#f3cf2f"/>
<stop offset="43%" stop-color="#cdd744"/>
<stop offset="50%" stop-color="#ced744"/>
<stop offset="60%" stop-color="#aacd61"/>
<stop offset="70%" stop-color="#75bfb6"/>
<stop offset="83%" stop-color="#96c881"/>
<stop offset="93%" stop-color="#36a2d9"/>
<stop offset="100%" stop-color="#64bac4"/>
</linearGradient>
<linearGradient id="sC11" x1="0" y1="1" x2="0" y2="0">
<stop offset="0%" stop-color="#ef8325"/>
<stop offset="2%" stop-color="#d5331d"/>
<stop offset="5%" stop-color="#de3a1e"/>
<stop offset="10%" stop-color="#e86222"/>
<stop offset="15%" stop-color="#ee7f24"/>
<stop offset="20%" stop-color="#f3cb2e"/>
<stop offset="25%" stop-color="#f3cd2f"/>
<stop offset="30%" stop-color="#e6de38"/>
<stop offset="37%" stop-color="#dedc3c"/>
<stop offset="43%" stop-color="#dcdc3d"/>
<stop offset="50%" stop-color="#b3d051"/>
<stop offset="60%" stop-color="#93c785"/>
<stop offset="70%" stop-color="#5db8c9"/>
<stop offset="83%" stop-color="#349cd6"/>
<stop offset="93%" stop-color="#2f91cf"/>
<stop offset="100%" stop-color="#277fc4"/>
</linearGradient>
<linearGradient id="sC12" x1="0" y1="1" x2="0" y2="0">
<stop offset="0%" stop-color="#d6341d"/>
<stop offset="2%" stop-color="#ad1919"/>
<stop offset="5%" stop-color="#de3a1e"/>
<stop offset="10%" stop-color="#c6291b"/>
<stop offset="15%" stop-color="#e75d21"/>
<stop offset="20%" stop-color="#e13c1e"/>
<stop offset="25%" stop-color="#f29526"/>
<stop offset="30%" stop-color="#f4b02a"/>
<stop offset="37%" stop-color="#f4c12d"/>
<stop offset="43%" stop-color="#e5de39"/>
<stop offset="50%" stop-color="#c4d548"/>
<stop offset="60%" stop-color="#8bc593"/>
<stop offset="70%" stop-color="#a3cb6b"/>
<stop offset="83%" stop-color="#3caee0"/>
<stop offset="93%" stop-color="#3196d2"/>
<stop offset="100%" stop-color="#359fd7"/>
</linearGradient>
<linearGradient id="sC13" x1="0" y1="1" x2="0" y2="0">
<stop offset="0%" stop-color="#dd391e"/>
<stop offset="2%" stop-color="#c1261b"/>
<stop offset="5%" stop-color="#cf301c"/>
<stop offset="10%" stop-color="#c82a1b"/>
<stop offset="15%" stop-color="#ea6d23"/>
<stop offset="20%" stop-color="#ea6922"/>
<stop offset="25%" stop-color="#ea6a22"/>
<stop offset="30%" stop-color="#ed7c24"/>
<stop offset="37%" stop-color="#f5a628"/>
<stop offset="43%" stop-color="#ede134"/>
<stop offset="50%" stop-color="#e7df38"/>
<stop offset="60%" stop-color="#bed34b"/>
<stop offset="70%" stop-color="#7ec1a8"/>
<stop offset="83%" stop-color="#359fd8"/>
<stop offset="93%" stop-color="#4fb4d3"/>
<stop offset="100%" stop-color="#3aacdf"/>
</linearGradient>
<linearGradient id="sC14" x1="0" y1="1" x2="0" y2="0">
<stop offset="0%" stop-color="#c1251b"/>
<stop offset="2%" stop-color="#e2431f"/>
<stop offset="5%" stop-color="#d1311c"/>
<stop offset="10%" stop-color="#df3b1e"/>
<stop offset="15%" stop-color="#e55320"/>
<stop offset="20%" stop-color="#e96822"/>
<stop offset="25%" stop-color="#f39927"/>
<stop offset="30%" stop-color="#f4b32a"/>
<stop offset="37%" stop-color="#f3cd2f"/>
<stop offset="43%" stop-color="#f4c22d"/>
<stop offset="50%" stop-color="#d3d941"/>
<stop offset="60%" stop-color="#c6d547"/>
<stop offset="70%" stop-color="#96c881"/>
<stop offset="83%" stop-color="#3bade0"/>
<stop offset="93%" stop-color="#3eb0df"/>
<stop offset="100%" stop-color="#267ec3"/>
</linearGradient>
<linearGradient id="sC15" x1="0" y1="1" x2="0" y2="0">
<stop offset="0%" stop-color="#d5341d"/>
<stop offset="2%" stop-color="#d3321d"/>
<stop offset="5%" stop-color="#ca2c1c"/>
<stop offset="10%" stop-color="#c82b1c"/>
<stop offset="15%" stop-color="#d2311c"/>
<stop offset="20%" stop-color="#e2421f"/>
<stop offset="25%" stop-color="#f08a25"/>
<stop offset="30%" stop-color="#f4b82b"/>
<stop offset="37%" stop-color="#f4b82b"/>
<stop offset="43%" stop-color="#f3cf2f"/>
<stop offset="50%" stop-color="#d9db3e"/>
<stop offset="60%" stop-color="#d8da3f"/>
<stop offset="70%" stop-color="#a0cb70"/>
<stop offset="83%" stop-color="#38a6dc"/>
<stop offset="93%" stop-color="#3fb0df"/>
<stop offset="100%" stop-color="#267bc2"/>
</linearGradient>
<linearGradient id="sC16" x1="0" y1="1" x2="0" y2="0">
<stop offset="0%" stop-color="#d3321d"/>
<stop offset="2%" stop-color="#e85f21"/>
<stop offset="5%" stop-color="#de3a1e"/>
<stop offset="10%" stop-color="#ea6d23"/>
<stop offset="15%" stop-color="#e2401e"/>
<stop offset="20%" stop-color="#f19226"/>
<stop offset="25%" stop-color="#f39a27"/>
<stop offset="30%" stop-color="#f3d22f"/>
<stop offset="37%" stop-color="#f2d930"/>
<stop offset="43%" stop-color="#f3d430"/>
<stop offset="50%" stop-color="#e4de39"/>
<stop offset="60%" stop-color="#93c785"/>
<stop offset="70%" stop-color="#9fca72"/>
<stop offset="83%" stop-color="#58b7cc"/>
<stop offset="93%" stop-color="#2d8ccc"/>
<stop offset="100%" stop-color="#43b1dc"/>
</linearGradient>
<linearGradient id="sC17" x1="0" y1="1" x2="0" y2="0">
<stop offset="0%" stop-color="#db381d"/>
<stop offset="2%" stop-color="#cb2d1c"/>
<stop offset="5%" stop-color="#cc2d1c"/>
<stop offset="10%" stop-color="#d2321d"/>
<stop offset="15%" stop-color="#ed7c24"/>
<stop offset="20%" stop-color="#f5ae2a"/>
<stop offset="25%" stop-color="#f29526"/>
<stop offset="30%" stop-color="#f3d22f"/>
<stop offset="37%" stop-color="#f3d630"/>
<stop offset="43%" stop-color="#d6da3f"/>
<stop offset="50%" stop-color="#efe133"/>
<stop offset="60%" stop-color="#c5d548"/>
<stop offset="70%" stop-color="#97c87f"/>
<stop offset="83%" stop-color="#3dafe0"/>
<stop offset="93%" stop-color="#3196d2"/>
<stop offset="100%" stop-color="#2a86c8"/>
</linearGradient>
<linearGradient id="sC18" x1="0" y1="1" x2="0" y2="0">
<stop offset="0%" stop-color="#cc2d1c"/>
<stop offset="2%" stop-color="#cb2c1c"/>
<stop offset="5%" stop-color="#dc381d"/>
<stop offset="10%" stop-color="#bf241b"/>
<stop offset="15%" stop-color="#e13c1e"/>
<stop offset="20%" stop-color="#e13c1e"/>
<stop offset="25%" stop-color="#e86222"/>
<stop offset="30%" stop-color="#f4bb2c"/>
<stop offset="37%" stop-color="#eee134"/>
<stop offset="43%" stop-color="#f4c32d"/>
<stop offset="50%" stop-color="#e0dd3b"/>
<stop offset="60%" stop-color="#c4d548"/>
<stop offset="70%" stop-color="#94c784"/>
<stop offset="83%" stop-color="#4cb3d5"/>
<stop offset="93%" stop-color="#277fc4"/>
<stop offset="100%" stop-color="#3196d2"/>
</linearGradient>
<linearGradient id="sC19" x1="0" y1="1" x2="0" y2="0">
<stop offset="0%" stop-color="#d7351d"/>
<stop offset="2%" stop-color="#ec7423"/>
<stop offset="5%" stop-color="#d1301c"/>
<stop offset="10%" stop-color="#de3a1e"/>
<stop offset="15%" stop-color="#f08c26"/>
<stop offset="20%" stop-color="#f19126"/>
<stop offset="25%" stop-color="#f39d27"/>
<stop offset="30%" stop-color="#f5ab29"/>
<stop offset="37%" stop-color="#f3d22f"/>
<stop offset="43%" stop-color="#f3cc2e"/>
<stop offset="50%" stop-color="#dbdb3d"/>
<stop offset="60%" stop-color="#a2cb6d"/>
<stop offset="70%" stop-color="#7ec1a7"/>
<stop offset="83%" stop-color="#57b6cd"/>
<stop offset="93%" stop-color="#2b89ca"/>
<stop offset="100%" stop-color="#39a9dd"/>
</linearGradient>
<linearGradient id="sC20" x1="0" y1="1" x2="0" y2="0">
<stop offset="0%" stop-color="#c5281b"/>
<stop offset="2%" stop-color="#c1251b"/>
<stop offset="5%" stop-color="#d7351d"/>
<stop offset="10%" stop-color="#db381d"/>
<stop offset="15%" stop-color="#e75a21"/>
<stop offset="20%" stop-color="#ee7e24"/>
<stop offset="25%" stop-color="#f4b52b"/>
<stop offset="30%" stop-color="#f4b82b"/>
<stop offset="37%" stop-color="#f2dd31"/>
<stop offset="43%" stop-color="#dbdb3d"/>
<stop offset="50%" stop-color="#e3de39"/>
<stop offset="60%" stop-color="#c4d548"/>
<stop offset="70%" stop-color="#8cc590"/>
<stop offset="83%" stop-color="#76bfb4"/>
<stop offset="93%" stop-color="#4cb3d5"/>
<stop offset="100%" stop-color="#48b2d8"/>
</linearGradient>
<linearGradient id="sC21" x1="0" y1="1" x2="0" y2="0">
<stop offset="0%" stop-color="#e96522"/>
<stop offset="2%" stop-color="#d9361d"/>
<stop offset="5%" stop-color="#e2401e"/>
<stop offset="10%" stop-color="#e2431f"/>
<stop offset="15%" stop-color="#e96522"/>
<stop offset="20%" stop-color="#ea6b22"/>
<stop offset="25%" stop-color="#f4b32a"/>
<stop offset="30%" stop-color="#f4b82b"/>
<stop offset="37%" stop-color="#e3de39"/>
<stop offset="43%" stop-color="#b1cf54"/>
<stop offset="50%" stop-color="#bdd34c"/>
<stop offset="60%" stop-color="#bdd24c"/>
<stop offset="70%" stop-color="#5db8c9"/>
<stop offset="83%" stop-color="#5cb8c9"/>
<stop offset="93%" stop-color="#2a85c8"/>
<stop offset="100%" stop-color="#2a86c9"/>
</linearGradient>
<linearGradient id="sC22" x1="0" y1="1" x2="0" y2="0">
<stop offset="0%" stop-color="#e03c1e"/>
<stop offset="2%" stop-color="#ea6a22"/>
<stop offset="5%" stop-color="#e75921"/>
<stop offset="10%" stop-color="#e96422"/>
<stop offset="15%" stop-color="#eb6e23"/>
<stop offset="20%" stop-color="#f4af2a"/>
<stop offset="25%" stop-color="#ef8725"/>
<stop offset="30%" stop-color="#f4a228"/>
<stop offset="37%" stop-color="#f4ba2b"/>
<stop offset="43%" stop-color="#b9d14e"/>
<stop offset="50%" stop-color="#bdd34c"/>
<stop offset="60%" stop-color="#72beba"/>
<stop offset="70%" stop-color="#7ac0ad"/>
<stop offset="83%" stop-color="#52b5d1"/>
<stop offset="93%" stop-color="#267dc3"/>
<stop offset="100%" stop-color="#236cb6"/>
</linearGradient>
<linearGradient id="sC23" x1="0" y1="1" x2="0" y2="0">
<stop offset="0%" stop-color="#e54f20"/>
<stop offset="2%" stop-color="#f08d26"/>
<stop offset="5%" stop-color="#f29627"/>
<stop offset="10%" stop-color="#f3d630"/>
<stop offset="15%" stop-color="#f4bd2c"/>
<stop offset="20%" stop-color="#f4b02a"/>
<stop offset="25%" stop-color="#f4b62b"/>
<stop offset="30%" stop-color="#f4b02a"/>
<stop offset="37%" stop-color="#cbd745"/>
<stop offset="43%" stop-color="#92c688"/>
<stop offset="50%" stop-color="#aece59"/>
<stop offset="60%" stop-color="#79c0b0"/>
<stop offset="70%" stop-color="#6cbcbe"/>
<stop offset="83%" stop-color="#53b5d0"/>
<stop offset="93%" stop-color="#3bade0"/>
<stop offset="100%" stop-color="#4ab3d6"/>
</linearGradient>
<linearGradient id="sC24" x1="0" y1="1" x2="0" y2="0">
<stop offset="0%" stop-color="#f5aa29"/>
<stop offset="2%" stop-color="#f19226"/>
<stop offset="5%" stop-color="#ec7423"/>
<stop offset="10%" stop-color="#f3ca2e"/>
<stop offset="15%" stop-color="#f4b32a"/>
<stop offset="20%" stop-color="#f4bb2c"/>
<stop offset="25%" stop-color="#f4bd2c"/>
<stop offset="30%" stop-color="#f5aa29"/>
<stop offset="37%" stop-color="#f0e133"/>
<stop offset="43%" stop-color="#aece59"/>
<stop offset="50%" stop-color="#aece5a"/>
<stop offset="60%" stop-color="#67bbc2"/>
<stop offset="70%" stop-color="#59b7cc"/>
<stop offset="83%" stop-color="#5db8c9"/>
<stop offset="93%" stop-color="#38a5db"/>
<stop offset="100%" stop-color="#2780c5"/>
</linearGradient>
<linearGradient id="sC25" x1="0" y1="1" x2="0" y2="0">
<stop offset="0%" stop-color="#f39a27"/>
<stop offset="2%" stop-color="#f29827"/>
<stop offset="5%" stop-color="#f4bb2c"/>
<stop offset="10%" stop-color="#e9df36"/>
<stop offset="15%" stop-color="#e9df36"/>
<stop offset="20%" stop-color="#f3d12f"/>
<stop offset="25%" stop-color="#f3c62d"/>
<stop offset="30%" stop-color="#f4b62b"/>
<stop offset="37%" stop-color="#e9df37"/>
<stop offset="43%" stop-color="#b7d14f"/>
<stop offset="50%" stop-color="#8dc58f"/>
<stop offset="60%" stop-color="#67bbc2"/>
<stop offset="70%" stop-color="#65bac3"/>
<stop offset="83%" stop-color="#36a2d9"/>
<stop offset="93%" stop-color="#37a3da"/>
<stop offset="100%" stop-color="#236ab5"/>
</linearGradient>
<linearGradient id="sC26" x1="0" y1="1" x2="0" y2="0">
<stop offset="0%" stop-color="#f29426"/>
<stop offset="2%" stop-color="#f2d931"/>
<stop offset="5%" stop-color="#d7da3f"/>
<stop offset="10%" stop-color="#d5da40"/>
<stop offset="15%" stop-color="#f3d630"/>
<stop offset="20%" stop-color="#f4c22d"/>
<stop offset="25%" stop-color="#f3d22f"/>
<stop offset="30%" stop-color="#f2e232"/>
<stop offset="37%" stop-color="#bdd34c"/>
<stop offset="43%" stop-color="#7bc0ac"/>
<stop offset="50%" stop-color="#78bfb1"/>
<stop offset="60%" stop-color="#5bb7cb"/>
<stop offset="70%" stop-color="#38a7dc"/>
<stop offset="83%" stop-color="#3093d0"/>
<stop offset="93%" stop-color="#2e8fce"/>
<stop offset="100%" stop-color="#2577bf"/>
</linearGradient>
<linearGradient id="sC27" x1="0" y1="1" x2="0" y2="0">
<stop offset="0%" stop-color="#f5af2a"/>
<stop offset="2%" stop-color="#f5af2a"/>
<stop offset="5%" stop-color="#e2dd3a"/>
<stop offset="10%" stop-color="#c4d548"/>
<stop offset="15%" stop-color="#dedc3c"/>
<stop offset="20%" stop-color="#ebe035"/>
<stop offset="25%" stop-color="#f2e032"/>
<stop offset="30%" stop-color="#f3c72d"/>
<stop offset="37%" stop-color="#a3cb6c"/>
<stop offset="43%" stop-color="#75bfb5"/>
<stop offset="50%" stop-color="#64bac4"/>
<stop offset="60%" stop-color="#4ab3d7"/>
<stop offset="70%" stop-color="#40b0de"/>
<stop offset="83%" stop-color="#3bade0"/>
<stop offset="93%" stop-color="#45b2da"/>
<stop offset="100%" stop-color="#339bd5"/>
</linearGradient>
<linearGradient id="sC28" x1="0" y1="1" x2="0" y2="0">
<stop offset="0%" stop-color="#f3cd2f"/>
<stop offset="2%" stop-color="#f3c92e"/>
<stop offset="5%" stop-color="#dfdc3b"/>
<stop offset="10%" stop-color="#d3d941"/>
<stop offset="15%" stop-color="#f0e133"/>
<stop offset="20%" stop-color="#f3d730"/>
<stop offset="25%" stop-color="#f3cc2e"/>
<stop offset="30%" stop-color="#f1e233"/>
<stop offset="37%" stop-color="#c1d44a"/>
<stop offset="43%" stop-color="#90c68a"/>
<stop offset="50%" stop-color="#68bbc1"/>
<stop offset="60%" stop-color="#59b7cc"/>
<stop offset="70%" stop-color="#5cb8ca"/>
<stop offset="83%" stop-color="#2579c0"/>
<stop offset="93%" stop-color="#2d8dcd"/>
<stop offset="100%" stop-color="#2473bb"/>
</linearGradient>
<linearGradient id="sC29" x1="0" y1="1" x2="0" y2="0">
<stop offset="0%" stop-color="#f39927"/>
<stop offset="2%" stop-color="#f4b22a"/>
<stop offset="5%" stop-color="#f3cf2f"/>
<stop offset="10%" stop-color="#e7df37"/>
<stop offset="15%" stop-color="#f0e233"/>
<stop offset="20%" stop-color="#e9df36"/>
<stop offset="25%" stop-color="#f4b52b"/>
<stop offset="30%" stop-color="#f4bd2c"/>
<stop offset="37%" stop-color="#b4d050"/>
<stop offset="43%" stop-color="#acce5c"/>
<stop offset="50%" stop-color="#94c784"/>
<stop offset="60%" stop-color="#54b6cf"/>
<stop offset="70%" stop-color="#52b5d1"/>
<stop offset="83%" stop-color="#39a8dd"/>
<stop offset="93%" stop-color="#3196d2"/>
<stop offset="100%" stop-color="#39a7dc"/>
</linearGradient>
<linearGradient id="sC30" x1="0" y1="1" x2="0" y2="0">
<stop offset="0%" stop-color="#f3c72e"/>
<stop offset="2%" stop-color="#f3d12f"/>
<stop offset="5%" stop-color="#f1e233"/>
<stop offset="10%" stop-color="#c8d646"/>
<stop offset="15%" stop-color="#ccd744"/>
<stop offset="20%" stop-color="#f2db31"/>
<stop offset="25%" stop-color="#dbdb3d"/>
<stop offset="30%" stop-color="#f3d02f"/>
<stop offset="37%" stop-color="#afcf59"/>
<stop offset="43%" stop-color="#6abcc0"/>
<stop offset="50%" stop-color="#65bac3"/>
<stop offset="60%" stop-color="#3aabdf"/>
<stop offset="70%" stop-color="#3196d2"/>
<stop offset="83%" stop-color="#3093d0"/>
<stop offset="93%" stop-color="#267bc1"/>
<stop offset="100%" stop-color="#339bd5"/>
</linearGradient>
<linearGradient id="sC31" x1="0" y1="1" x2="0" y2="0">
<stop offset="0%" stop-color="#f3d730"/>
<stop offset="2%" stop-color="#f1e233"/>
<stop offset="5%" stop-color="#f3ce2f"/>
<stop offset="10%" stop-color="#cbd745"/>
<stop offset="15%" stop-color="#c9d646"/>
<stop offset="20%" stop-color="#dedc3c"/>
<stop offset="25%" stop-color="#f0e133"/>
<stop offset="30%" stop-color="#f2e132"/>
<stop offset="37%" stop-color="#c0d44a"/>
<stop offset="43%" stop-color="#9bc979"/>
<stop offset="50%" stop-color="#85c39c"/>
<stop offset="60%" stop-color="#5db8c9"/>
<stop offset="70%" stop-color="#3bade0"/>
<stop offset="83%" stop-color="#2a87c9"/>
<stop offset="93%" stop-color="#2058a7"/>
<stop offset="100%" stop-color="#2470b9"/>
</linearGradient>
<linearGradient id="sC32" x1="0" y1="1" x2="0" y2="0">
<stop offset="0%" stop-color="#f4ba2b"/>
<stop offset="2%" stop-color="#f4bf2c"/>
<stop offset="5%" stop-color="#dadb3e"/>
<stop offset="10%" stop-color="#e8df37"/>
<stop offset="15%" stop-color="#e6de38"/>
<stop offset="20%" stop-color="#f3d730"/>
<stop offset="25%" stop-color="#f4bd2c"/>
<stop offset="30%" stop-color="#d9db3e"/>
<stop offset="37%" stop-color="#bad24d"/>
<stop offset="43%" stop-color="#80c1a5"/>
<stop offset="50%" stop-color="#9fca72"/>
<stop offset="60%" stop-color="#61b9c6"/>
<stop offset="70%" stop-color="#48b2d9"/>
<stop offset="83%" stop-color="#4eb4d4"/>
<stop offset="93%" stop-color="#2780c5"/>
<stop offset="100%" stop-color="#49b2d8"/>
</linearGradient>
<linearGradient id="sC33" x1="0" y1="1" x2="0" y2="0">
<stop offset="0%" stop-color="#f4bf2c"/>
<stop offset="2%" stop-color="#f2e132"/>
<stop offset="5%" stop-color="#f2dd31"/>
<stop offset="10%" stop-color="#a3cb6b"/>
<stop offset="15%" stop-color="#e3de39"/>
<stop offset="20%" stop-color="#e2dd3a"/>
<stop offset="25%" stop-color="#f3ce2f"/>
<stop offset="30%" stop-color="#e2dd3a"/>
<stop offset="37%" stop-color="#bed34b"/>
<stop offset="43%" stop-color="#8ac494"/>
<stop offset="50%" stop-color="#7cc0aa"/>
<stop offset="60%" stop-color="#60b9c7"/>
<stop offset="70%" stop-color="#51b5d2"/>
<stop offset="83%" stop-color="#49b2d8"/>
<stop offset="93%" stop-color="#2b89ca"/>
<stop offset="100%" stop-color="#236db7"/>
</linearGradient>
<linearGradient id="sC34" x1="0" y1="1" x2="0" y2="0">
<stop offset="0%" stop-color="#f4b72b"/>
<stop offset="2%" stop-color="#f2dc31"/>
<stop offset="5%" stop-color="#f2dd31"/>
<stop offset="10%" stop-color="#c8d646"/>
<stop offset="15%" stop-color="#bed34b"/>
<stop offset="20%" stop-color="#f3d730"/>
<stop offset="25%" stop-color="#f4b02a"/>
<stop offset="30%" stop-color="#efe133"/>
<stop offset="37%" stop-color="#a2cb6d"/>
<stop offset="43%" stop-color="#71bdbb"/>
<stop offset="50%" stop-color="#7cc1aa"/>
<stop offset="60%" stop-color="#4cb3d5"/>
<stop offset="70%" stop-color="#3caee1"/>
<stop offset="83%" stop-color="#3caee0"/>
<stop offset="93%" stop-color="#2e90ce"/>
<stop offset="100%" stop-color="#2c8bcb"/>
</linearGradient>
<linearGradient id="sC35" x1="0" y1="1" x2="0" y2="0">
<stop offset="0%" stop-color="#f3c82e"/>
<stop offset="2%" stop-color="#f3cc2e"/>
<stop offset="5%" stop-color="#ede035"/>
<stop offset="10%" stop-color="#d9db3e"/>
<stop offset="15%" stop-color="#ced843"/>
<stop offset="20%" stop-color="#f2db31"/>
<stop offset="25%" stop-color="#f3c42d"/>
<stop offset="30%" stop-color="#f2d931"/>
<stop offset="37%" stop-color="#c6d547"/>
<stop offset="43%" stop-color="#9bc978"/>
<stop offset="50%" stop-color="#76bfb4"/>
<stop offset="60%" stop-color="#5db8c9"/>
<stop offset="70%" stop-color="#3aabdf"/>
<stop offset="83%" stop-color="#3aaade"/>
<stop offset="93%" stop-color="#2f92d0"/>
<stop offset="100%" stop-color="#2985c8"/>
</linearGradient>
<linearGradient id="sC36" x1="0" y1="1" x2="0" y2="0">
<stop offset="0%" stop-color="#f4b42b"/>
<stop offset="2%" stop-color="#f4a028"/>
<stop offset="5%" stop-color="#efe133"/>
<stop offset="10%" stop-color="#cdd744"/>
<stop offset="15%" stop-color="#dddc3c"/>
<stop offset="20%" stop-color="#e6de38"/>
<stop offset="25%" stop-color="#f3ce2f"/>
<stop offset="30%" stop-color="#eae036"/>
<stop offset="37%" stop-color="#acce5c"/>
<stop offset="43%" stop-color="#89c495"/>
<stop offset="50%" stop-color="#74beb8"/>
<stop offset="60%" stop-color="#58b7cd"/>
<stop offset="70%" stop-color="#3bacdf"/>
<stop offset="83%" stop-color="#38a6dc"/>
<stop offset="93%" stop-color="#2576be"/>
<stop offset="100%" stop-color="#35a0d8"/>
</linearGradient>
<linearGradient id="sC37" x1="0" y1="1" x2="0" y2="0">
<stop offset="0%" stop-color="#f4ba2c"/>
<stop offset="2%" stop-color="#f4be2c"/>
<stop offset="5%" stop-color="#f2de31"/>
<stop offset="10%" stop-color="#b8d14e"/>
<stop offset="15%" stop-color="#d4d940"/>
<stop offset="20%" stop-color="#f2d830"/>
<stop offset="25%" stop-color="#f2df32"/>
<stop offset="30%" stop-color="#ced843"/>
<stop offset="37%" stop-color="#bcd24c"/>
<stop offset="43%" stop-color="#89c496"/>
<stop offset="50%" stop-color="#7cc1aa"/>
<stop offset="60%" stop-color="#5fb8c8"/>
<stop offset="70%" stop-color="#4cb3d6"/>
<stop offset="83%" stop-color="#39a9dd"/>
<stop offset="93%" stop-color="#4ab3d7"/>
<stop offset="100%" stop-color="#339bd5"/>
</linearGradient>
<linearGradient id="sC38" x1="0" y1="1" x2="0" y2="0">
<stop offset="0%" stop-color="#f4ba2b"/>
<stop offset="2%" stop-color="#f4b02a"/>
<stop offset="5%" stop-color="#f0e233"/>
<stop offset="10%" stop-color="#e6de38"/>
<stop offset="15%" stop-color="#bad24d"/>
<stop offset="20%" stop-color="#f3d22f"/>
<stop offset="25%" stop-color="#f3c52d"/>
<stop offset="30%" stop-color="#f2d931"/>
<stop offset="37%" stop-color="#dddc3c"/>
<stop offset="43%" stop-color="#9ac97a"/>
<stop offset="50%" stop-color="#7ac0ae"/>
<stop offset="60%" stop-color="#5cb8ca"/>
<stop offset="70%" stop-color="#70bdbb"/>
<stop offset="83%" stop-color="#4cb3d6"/>
<stop offset="93%" stop-color="#3cafe1"/>
<stop offset="100%" stop-color="#2880c5"/>
</linearGradient>
<linearGradient id="sC39" x1="0" y1="1" x2="0" y2="0">
<stop offset="0%" stop-color="#f49e27"/>
<stop offset="2%" stop-color="#f4c32d"/>
<stop offset="5%" stop-color="#f2db31"/>
<stop offset="10%" stop-color="#c1d44a"/>
<stop offset="15%" stop-color="#f2e032"/>
<stop offset="20%" stop-color="#f0e133"/>
<stop offset="25%" stop-color="#f5ad29"/>
<stop offset="30%" stop-color="#f3d22f"/>
<stop offset="37%" stop-color="#c1d44a"/>
<stop offset="43%" stop-color="#a1cb6f"/>
<stop offset="50%" stop-color="#88c497"/>
<stop offset="60%" stop-color="#58b7cc"/>
<stop offset="70%" stop-color="#56b6ce"/>
<stop offset="83%" stop-color="#4eb4d4"/>
<stop offset="93%" stop-color="#349cd6"/>
<stop offset="100%" stop-color="#2577bf"/>
</linearGradient>
<linearGradient id="sC40" x1="0" y1="1" x2="0" y2="0">
<stop offset="0%" stop-color="#f3cb2e"/>
<stop offset="2%" stop-color="#f3d630"/>
<stop offset="5%" stop-color="#eee134"/>
<stop offset="10%" stop-color="#d0d843"/>
<stop offset="15%" stop-color="#d6da3f"/>
<stop offset="20%" stop-color="#d7da3f"/>
<stop offset="25%" stop-color="#f3c42d"/>
<stop offset="30%" stop-color="#f2dc31"/>
<stop offset="37%" stop-color="#b7d14f"/>
<stop offset="43%" stop-color="#8ec58e"/>
<stop offset="50%" stop-color="#9ac979"/>
<stop offset="60%" stop-color="#49b3d7"/>
<stop offset="70%" stop-color="#37a4da"/>
<stop offset="83%" stop-color="#46b2da"/>
<stop offset="93%" stop-color="#2882c6"/>
<stop offset="100%" stop-color="#3fb0de"/>
</linearGradient>
<linearGradient id="sC41" x1="0" y1="1" x2="0" y2="0">
<stop offset="0%" stop-color="#f3c92e"/>
<stop offset="2%" stop-color="#f4c32d"/>
<stop offset="5%" stop-color="#f2dd31"/>
<stop offset="10%" stop-color="#d2d941"/>
<stop offset="15%" stop-color="#dcdb3d"/>
<stop offset="20%" stop-color="#ede035"/>
<stop offset="25%" stop-color="#f2d931"/>
<stop offset="30%" stop-color="#f2e232"/>
<stop offset="37%" stop-color="#cfd843"/>
<stop offset="43%" stop-color="#91c688"/>
<stop offset="50%" stop-color="#6fbdbc"/>
<stop offset="60%" stop-color="#5db8c9"/>
<stop offset="70%" stop-color="#52b5d1"/>
<stop offset="83%" stop-color="#4cb3d5"/>
<stop offset="93%" stop-color="#2e8ecd"/>
<stop offset="100%" stop-color="#2b88c9"/>
</linearGradient>
<linearGradient id="sC42" x1="0" y1="1" x2="0" y2="0">
<stop offset="0%" stop-color="#ea6e23"/>
<stop offset="2%" stop-color="#f4c22d"/>
<stop offset="5%" stop-color="#f3cb2e"/>
<stop offset="10%" stop-color="#bad24d"/>
<stop offset="15%" stop-color="#efe133"/>
<stop offset="20%" stop-color="#e1dd3a"/>
<stop offset="25%" stop-color="#f2d930"/>
<stop offset="30%" stop-color="#f2de31"/>
<stop offset="37%" stop-color="#c1d44a"/>
<stop offset="43%" stop-color="#94c784"/>
<stop offset="50%" stop-color="#82c2a1"/>
<stop offset="60%" stop-color="#67bbc2"/>
<stop offset="70%" stop-color="#48b2d8"/>
<stop offset="83%" stop-color="#83c2a0"/>
<stop offset="93%" stop-color="#38a6dc"/>
<stop offset="100%" stop-color="#38a5db"/>
</linearGradient>
<linearGradient id="sC43" x1="0" y1="1" x2="0" y2="0">
<stop offset="0%" stop-color="#ef8725"/>
<stop offset="2%" stop-color="#f5ad29"/>
<stop offset="5%" stop-color="#f3cd2f"/>
<stop offset="10%" stop-color="#f3cc2e"/>
<stop offset="15%" stop-color="#dbdb3d"/>
<stop offset="20%" stop-color="#f2db31"/>
<stop offset="25%" stop-color="#f4b32a"/>
<stop offset="30%" stop-color="#ebe035"/>
<stop offset="37%" stop-color="#c5d548"/>
<stop offset="43%" stop-color="#b6d14f"/>
<stop offset="50%" stop-color="#82c2a1"/>
<stop offset="60%" stop-color="#74beb8"/>
<stop offset="70%" stop-color="#68bbc1"/>
<stop offset="83%" stop-color="#3195d1"/>
<stop offset="93%" stop-color="#3cafe1"/>
<stop offset="100%" stop-color="#2e8fce"/>
</linearGradient>
<linearGradient id="sC44" x1="0" y1="1" x2="0" y2="0">
<stop offset="0%" stop-color="#f3c62d"/>
<stop offset="2%" stop-color="#f3d530"/>
<stop offset="5%" stop-color="#dddc3c"/>
<stop offset="10%" stop-color="#bdd34c"/>
<stop offset="15%" stop-color="#e4de39"/>
<stop offset="20%" stop-color="#f3d12f"/>
<stop offset="25%" stop-color="#f3c82e"/>
<stop offset="30%" stop-color="#f2e132"/>
<stop offset="37%" stop-color="#a2cb6d"/>
<stop offset="43%" stop-color="#73beb9"/>
<stop offset="50%" stop-color="#5cb8ca"/>
<stop offset="60%" stop-color="#5bb7cb"/>
<stop offset="70%" stop-color="#53b5d1"/>
<stop offset="83%" stop-color="#43b1dc"/>
<stop offset="93%" stop-color="#2e90cf"/>
<stop offset="100%" stop-color="#277fc4"/>
</linearGradient>
<linearGradient id="sC45" x1="0" y1="1" x2="0" y2="0">
<stop offset="0%" stop-color="#f4b32a"/>
<stop offset="2%" stop-color="#f4bd2c"/>
<stop offset="5%" stop-color="#f3c92e"/>
<stop offset="10%" stop-color="#c8d646"/>
<stop offset="15%" stop-color="#f3d02f"/>
<stop offset="20%" stop-color="#d3d941"/>
<stop offset="25%" stop-color="#ede134"/>
<stop offset="30%" stop-color="#e4de39"/>
<stop offset="37%" stop-color="#afcf58"/>
<stop offset="43%" stop-color="#8ac494"/>
<stop offset="50%" stop-color="#a1cb6f"/>
<stop offset="60%" stop-color="#56b6ce"/>
<stop offset="70%" stop-color="#60b9c7"/>
<stop offset="83%" stop-color="#349dd6"/>
<stop offset="93%" stop-color="#359ed7"/>
<stop offset="100%" stop-color="#2578bf"/>
</linearGradient>
<linearGradient id="sC46" x1="0" y1="1" x2="0" y2="0">
<stop offset="0%" stop-color="#f4a228"/>
<stop offset="2%" stop-color="#f4c02c"/>
<stop offset="5%" stop-color="#f5a728"/>
<stop offset="10%" stop-color="#ebe035"/>
<stop offset="15%" stop-color="#f2db31"/>
<stop offset="20%" stop-color="#f3ca2e"/>
<stop offset="25%" stop-color="#f4c32d"/>
<stop offset="30%" stop-color="#f2db31"/>
<stop offset="37%" stop-color="#d2d941"/>
<stop offset="43%" stop-color="#c1d449"/>
<stop offset="50%" stop-color="#95c881"/>
<stop offset="60%" stop-color="#70bdbb"/>
<stop offset="70%" stop-color="#70bdbb"/>
<stop offset="83%" stop-color="#349dd6"/>
<stop offset="93%" stop-color="#5fb8c8"/>
<stop offset="100%" stop-color="#36a1d9"/>
</linearGradient>
<linearGradient id="sC47" x1="0" y1="1" x2="0" y2="0">
<stop offset="0%" stop-color="#f4b32a"/>
<stop offset="2%" stop-color="#f3c82e"/>
<stop offset="5%" stop-color="#e1dd3a"/>
<stop offset="10%" stop-color="#cfd843"/>
<stop offset="15%" stop-color="#e7df37"/>
<stop offset="20%" stop-color="#f3ca2e"/>
<stop offset="25%" stop-color="#f2df32"/>
<stop offset="30%" stop-color="#c6d547"/>
<stop offset="37%" stop-color="#dedc3b"/>
<stop offset="43%" stop-color="#80c2a4"/>
<stop offset="50%" stop-color="#69bbc0"/>
<stop offset="60%" stop-color="#61b9c6"/>
<stop offset="70%" stop-color="#3fb0df"/>
<stop offset="83%" stop-color="#49b3d8"/>
<stop offset="93%" stop-color="#2473bb"/>
<stop offset="100%" stop-color="#2a85c8"/>
</linearGradient>
<linearGradient id="sC48" x1="0" y1="1" x2="0" y2="0">
<stop offset="0%" stop-color="#f5a728"/>
<stop offset="2%" stop-color="#f2d931"/>
<stop offset="5%" stop-color="#f2dd31"/>
<stop offset="10%" stop-color="#e1dd3a"/>
<stop offset="15%" stop-color="#bbd24d"/>
<stop offset="20%" stop-color="#e9df37"/>
<stop offset="25%" stop-color="#f3c62d"/>
<stop offset="30%" stop-color="#f2e032"/>
<stop offset="37%" stop-color="#b2d053"/>
<stop offset="43%" stop-color="#91c688"/>
<stop offset="50%" stop-color="#7dc1a9"/>
<stop offset="60%" stop-color="#4cb3d5"/>
<stop offset="70%" stop-color="#40b0de"/>
<stop offset="83%" stop-color="#3bade0"/>
<stop offset="93%" stop-color="#3195d2"/>
<stop offset="100%" stop-color="#2c8bcc"/>
</linearGradient>
<linearGradient id="sC49" x1="0" y1="1" x2="0" y2="0">
<stop offset="0%" stop-color="#f49f27"/>
<stop offset="2%" stop-color="#f2d830"/>
<stop offset="5%" stop-color="#eae036"/>
<stop offset="10%" stop-color="#c8d646"/>
<stop offset="15%" stop-color="#d3d941"/>
<stop offset="20%" stop-color="#f1e233"/>
<stop offset="25%" stop-color="#f2e132"/>
<stop offset="30%" stop-color="#f2d931"/>
<stop offset="37%" stop-color="#ccd744"/>
<stop offset="43%" stop-color="#8ac494"/>
<stop offset="50%" stop-color="#7bc0ad"/>
<stop offset="60%" stop-color="#5fb9c8"/>
<stop offset="70%" stop-color="#44b1db"/>
<stop offset="83%" stop-color="#5db8c9"/>
<stop offset="93%" stop-color="#277ec4"/>
<stop offset="100%" stop-color="#3093d0"/>
</linearGradient>
</defs>
<rect x="1004.7" y="1208" width="6.56" height="174.7" fill="url(#sC0)"/>
<rect x="1010.66" y="1208" width="6.56" height="174.7" fill="url(#sC1)"/>
<rect x="1016.62" y="1208" width="6.56" height="174.7" fill="url(#sC2)"/>
<rect x="1022.58" y="1208" width="6.56" height="174.7" fill="url(#sC3)"/>
<rect x="1028.54" y="1208" width="6.56" height="174.7" fill="url(#sC4)"/>
<rect x="1034.5" y="1208" width="6.56" height="174.7" fill="url(#sC5)"/>
<rect x="1040.46" y="1208" width="6.56" height="174.7" fill="url(#sC6)"/>
<rect x="1046.42" y="1208" width="6.56" height="174.7" fill="url(#sC7)"/>
<rect x="1052.38" y="1208" width="6.56" height="174.7" fill="url(#sC8)"/>
<rect x="1058.34" y="1208" width="6.56" height="174.7" fill="url(#sC9)"/>
<rect x="1064.3" y="1208" width="6.56" height="174.7" fill="url(#sC10)"/>
<rect x="1070.26" y="1208" width="6.56" height="174.7" fill="url(#sC11)"/>
<rect x="1076.22" y="1208" width="6.56" height="174.7" fill="url(#sC12)"/>
<rect x="1082.18" y="1208" width="6.56" height="174.7" fill="url(#sC13)"/>
<rect x="1088.14" y="1208" width="6.56" height="174.7" fill="url(#sC14)"/>
<rect x="1094.1" y="1208" width="6.56" height="174.7" fill="url(#sC15)"/>
<rect x="1100.06" y="1208" width="6.56" height="174.7" fill="url(#sC16)"/>
<rect x="1106.02" y="1208" width="6.56" height="174.7" fill="url(#sC17)"/>
<rect x="1111.98" y="1208" width="6.56" height="174.7" fill="url(#sC18)"/>
<rect x="1117.94" y="1208" width="6.56" height="174.7" fill="url(#sC19)"/>
<rect x="1123.9" y="1208" width="6.56" height="174.7" fill="url(#sC20)"/>
<rect x="1129.86" y="1208" width="6.56" height="174.7" fill="url(#sC21)"/>
<rect x="1135.82" y="1208" width="6.56" height="174.7" fill="url(#sC22)"/>
<rect x="1141.78" y="1208" width="6.56" height="174.7" fill="url(#sC23)"/>
<rect x="1147.74" y="1208" width="6.56" height="174.7" fill="url(#sC24)"/>
<rect x="1153.7" y="1208" width="6.56" height="174.7" fill="url(#sC25)"/>
<rect x="1159.66" y="1208" width="6.56" height="174.7" fill="url(#sC26)"/>
<rect x="1165.62" y="1208" width="6.56" height="174.7" fill="url(#sC27)"/>
<rect x="1171.58" y="1208" width="6.56" height="174.7" fill="url(#sC28)"/>
<rect x="1177.54" y="1208" width="6.56" height="174.7" fill="url(#sC29)"/>
<rect x="1183.5" y="1208" width="6.56" height="174.7" fill="url(#sC30)"/>
<rect x="1189.46" y="1208" width="6.56" height="174.7" fill="url(#sC31)"/>
<rect x="1195.42" y="1208" width="6.56" height="174.7" fill="url(#sC32)"/>
<rect x="1201.38" y="1208" width="6.56" height="174.7" fill="url(#sC33)"/>
<rect x="1207.34" y="1208" width="6.56" height="174.7" fill="url(#sC34)"/>
<rect x="1213.3" y="1208" width="6.56" height="174.7" fill="url(#sC35)"/>
<rect x="1219.26" y="1208" width="6.56" height="174.7" fill="url(#sC36)"/>
<rect x="1225.22" y="1208" width="6.56" height="174.7" fill="url(#sC37)"/>
<rect x="1231.18" y="1208" width="6.56" height="174.7" fill="url(#sC38)"/>
<rect x="1237.14" y="1208" width="6.56" height="174.7" fill="url(#sC39)"/>
<rect x="1243.1" y="1208" width="6.56" height="174.7" fill="url(#sC40)"/>
<rect x="1249.06" y="1208" width="6.56" height="174.7" fill="url(#sC41)"/>
<rect x="1255.02" y="1208" width="6.56" height="174.7" fill="url(#sC42)"/>
<rect x="1260.98" y="1208" width="6.56" height="174.7" fill="url(#sC43)"/>
<rect x="1266.94" y="1208" width="6.56" height="174.7" fill="url(#sC44)"/>
<rect x="1272.9" y="1208" width="6.56" height="174.7" fill="url(#sC45)"/>
<rect x="1278.86" y="1208" width="6.56" height="174.7" fill="url(#sC46)"/>
<rect x="1284.82" y="1208" width="6.56" height="174.7" fill="url(#sC47)"/>
<rect x="1290.78" y="1208" width="6.56" height="174.7" fill="url(#sC48)"/>
<rect x="1296.74" y="1208" width="6.56" height="174.7" fill="url(#sC49)"/>
<rect x="1004.7" y="1208" width="298" height="174.7" fill="none" stroke="#231815" stroke-width="1.6"/>
<line x1="994.2" y1="1208.5" x2="1004.7" y2="1208.5" stroke="#231815" stroke-width="1.5"/>
<text x="966.81" y="1219.8" font-size="22.5" fill="#1d1d1b">30</text>
<line x1="994.2" y1="1268.6" x2="1004.7" y2="1268.6" stroke="#231815" stroke-width="1.5"/>
<text x="966.81" y="1276.5" font-size="22.5" fill="#1d1d1b">20</text>
<line x1="994.2" y1="1327.9" x2="1004.7" y2="1327.9" stroke="#231815" stroke-width="1.5"/>
<text x="966.81" y="1333.1" font-size="22.5" fill="#1d1d1b">10</text>
<line x1="994.2" y1="1382" x2="1004.7" y2="1382" stroke="#231815" stroke-width="1.5"/>
<text x="979.3" y="1389.8" font-size="22.5" fill="#1d1d1b">0</text>
<line x1="1005.3" y1="1382.7" x2="1005.3" y2="1390.7" stroke="#231815" stroke-width="1.4"/>
<text x="988.93" y="1413.6" font-size="22.5" fill="#1d1d1b">-30</text>
<line x1="1054.75" y1="1382.7" x2="1054.75" y2="1390.7" stroke="#231815" stroke-width="1.4"/>
<text x="1038.38" y="1413.6" font-size="22.5" fill="#1d1d1b">-20</text>
<line x1="1104.2" y1="1382.7" x2="1104.2" y2="1390.7" stroke="#231815" stroke-width="1.4"/>
<text x="1087.83" y="1413.6" font-size="22.5" fill="#1d1d1b">-10</text>
<line x1="1153.65" y1="1382.7" x2="1153.65" y2="1390.7" stroke="#231815" stroke-width="1.4"/>
<text x="1147.35" y="1413.6" font-size="22.5" fill="#1d1d1b">0</text>
<line x1="1203.1" y1="1382.7" x2="1203.1" y2="1390.7" stroke="#231815" stroke-width="1.4"/>
<text x="1190.16" y="1413.6" font-size="22.5" fill="#1d1d1b">10</text>
<line x1="1252.55" y1="1382.7" x2="1252.55" y2="1390.7" stroke="#231815" stroke-width="1.4"/>
<text x="1239.89" y="1413.6" font-size="22.5" fill="#1d1d1b">20</text>
<line x1="1302" y1="1382.7" x2="1302" y2="1390.7" stroke="#231815" stroke-width="1.4"/>
<text x="1289.46" y="1413.6" font-size="22.5" fill="#1d1d1b">30</text>
<defs>
<linearGradient id="sD0" x1="0" y1="1" x2="0" y2="0">
<stop offset="0%" stop-color="#c3271b"/>
<stop offset="2%" stop-color="#f3d530"/>
<stop offset="5%" stop-color="#f2dd31"/>
<stop offset="10%" stop-color="#d2d941"/>
<stop offset="15%" stop-color="#d2d941"/>
<stop offset="20%" stop-color="#f3d530"/>
<stop offset="25%" stop-color="#f2da31"/>
<stop offset="30%" stop-color="#d4d940"/>
<stop offset="37%" stop-color="#8bc593"/>
<stop offset="43%" stop-color="#79c0af"/>
<stop offset="50%" stop-color="#71beba"/>
<stop offset="60%" stop-color="#65bac3"/>
<stop offset="70%" stop-color="#55b6cf"/>
<stop offset="83%" stop-color="#3caee1"/>
<stop offset="93%" stop-color="#54b5d0"/>
<stop offset="100%" stop-color="#38a6db"/>
</linearGradient>
<linearGradient id="sD1" x1="0" y1="1" x2="0" y2="0">
<stop offset="0%" stop-color="#ce2f1c"/>
<stop offset="2%" stop-color="#f2e132"/>
<stop offset="5%" stop-color="#e2dd3a"/>
<stop offset="10%" stop-color="#cdd744"/>
<stop offset="15%" stop-color="#c0d44a"/>
<stop offset="20%" stop-color="#cad645"/>
<stop offset="25%" stop-color="#f3d630"/>
<stop offset="30%" stop-color="#c5d548"/>
<stop offset="37%" stop-color="#7ac0ae"/>
<stop offset="43%" stop-color="#6ebdbd"/>
<stop offset="50%" stop-color="#63bac4"/>
<stop offset="60%" stop-color="#59b7cc"/>
<stop offset="70%" stop-color="#42b1dc"/>
<stop offset="83%" stop-color="#359ed7"/>
<stop offset="93%" stop-color="#43b1dc"/>
<stop offset="100%" stop-color="#2780c5"/>
</linearGradient>
<linearGradient id="sD2" x1="0" y1="1" x2="0" y2="0">
<stop offset="0%" stop-color="#cf2f1c"/>
<stop offset="2%" stop-color="#f3c72e"/>
<stop offset="5%" stop-color="#e4de39"/>
<stop offset="10%" stop-color="#d3d941"/>
<stop offset="15%" stop-color="#b8d14e"/>
<stop offset="20%" stop-color="#dadb3e"/>
<stop offset="25%" stop-color="#f3d530"/>
<stop offset="30%" stop-color="#c3d449"/>
<stop offset="37%" stop-color="#86c39a"/>
<stop offset="43%" stop-color="#84c39e"/>
<stop offset="50%" stop-color="#77bfb2"/>
<stop offset="60%" stop-color="#5fb9c7"/>
<stop offset="70%" stop-color="#48b2d8"/>
<stop offset="83%" stop-color="#47b2d9"/>
<stop offset="93%" stop-color="#359fd8"/>
<stop offset="100%" stop-color="#2d8ecd"/>
</linearGradient>
<linearGradient id="sD3" x1="0" y1="1" x2="0" y2="0">
<stop offset="0%" stop-color="#cb2d1c"/>
<stop offset="2%" stop-color="#f3c62d"/>
<stop offset="5%" stop-color="#f3d32f"/>
<stop offset="10%" stop-color="#ced843"/>
<stop offset="15%" stop-color="#cdd744"/>
<stop offset="20%" stop-color="#f2dc31"/>
<stop offset="25%" stop-color="#f3cf2f"/>
<stop offset="30%" stop-color="#d3d941"/>
<stop offset="37%" stop-color="#8ec68d"/>
<stop offset="43%" stop-color="#9cc977"/>
<stop offset="50%" stop-color="#74beb8"/>
<stop offset="60%" stop-color="#76bfb3"/>
<stop offset="70%" stop-color="#5bb7cb"/>
<stop offset="83%" stop-color="#38a6dc"/>
<stop offset="93%" stop-color="#3caee0"/>
<stop offset="100%" stop-color="#36a1d9"/>
</linearGradient>
<linearGradient id="sD4" x1="0" y1="1" x2="0" y2="0">
<stop offset="0%" stop-color="#d5341d"/>
<stop offset="2%" stop-color="#f3ce2f"/>
<stop offset="5%" stop-color="#f3d630"/>
<stop offset="10%" stop-color="#cdd744"/>
<stop offset="15%" stop-color="#dadb3e"/>
<stop offset="20%" stop-color="#f3d530"/>
<stop offset="25%" stop-color="#f3ca2e"/>
<stop offset="30%" stop-color="#ece035"/>
<stop offset="37%" stop-color="#81c2a3"/>
<stop offset="43%" stop-color="#81c2a2"/>
<stop offset="50%" stop-color="#58b7cd"/>
<stop offset="60%" stop-color="#6cbcbe"/>
<stop offset="70%" stop-color="#52b5d1"/>
<stop offset="83%" stop-color="#53b5d0"/>
<stop offset="93%" stop-color="#3196d2"/>
<stop offset="100%" stop-color="#2473bc"/>
</linearGradient>
<linearGradient id="sD5" x1="0" y1="1" x2="0" y2="0">
<stop offset="0%" stop-color="#cf2f1c"/>
<stop offset="2%" stop-color="#f3d730"/>
<stop offset="5%" stop-color="#f2dc31"/>
<stop offset="10%" stop-color="#d6da3f"/>
<stop offset="15%" stop-color="#ced843"/>
<stop offset="20%" stop-color="#f2de31"/>
<stop offset="25%" stop-color="#f2df31"/>
<stop offset="30%" stop-color="#f0e233"/>
<stop offset="37%" stop-color="#9bc978"/>
<stop offset="43%" stop-color="#8dc58f"/>
<stop offset="50%" stop-color="#83c29f"/>
<stop offset="60%" stop-color="#6bbcbf"/>
<stop offset="70%" stop-color="#59b7cc"/>
<stop offset="83%" stop-color="#339bd5"/>
<stop offset="93%" stop-color="#36a0d8"/>
<stop offset="100%" stop-color="#37a4db"/>
</linearGradient>
<linearGradient id="sD6" x1="0" y1="1" x2="0" y2="0">
<stop offset="0%" stop-color="#c4281b"/>
<stop offset="2%" stop-color="#f3c82e"/>
<stop offset="5%" stop-color="#f3d830"/>
<stop offset="10%" stop-color="#d4d940"/>
<stop offset="15%" stop-color="#d6da40"/>
<stop offset="20%" stop-color="#efe133"/>
<stop offset="25%" stop-color="#f3d02f"/>
<stop offset="30%" stop-color="#e7df37"/>
<stop offset="37%" stop-color="#9eca73"/>
<stop offset="43%" stop-color="#8ac493"/>
<stop offset="50%" stop-color="#a7cc65"/>
<stop offset="60%" stop-color="#72beba"/>
<stop offset="70%" stop-color="#5fb9c8"/>
<stop offset="83%" stop-color="#3bade0"/>
<stop offset="93%" stop-color="#2e8fce"/>
<stop offset="100%" stop-color="#3dafe0"/>
</linearGradient>
<linearGradient id="sD7" x1="0" y1="1" x2="0" y2="0">
<stop offset="0%" stop-color="#c82a1b"/>
<stop offset="2%" stop-color="#f3c42d"/>
<stop offset="5%" stop-color="#f3d630"/>
<stop offset="10%" stop-color="#c9d646"/>
<stop offset="15%" stop-color="#ccd744"/>
<stop offset="20%" stop-color="#f3cf2f"/>
<stop offset="25%" stop-color="#f3c92e"/>
<stop offset="30%" stop-color="#c6d547"/>
<stop offset="37%" stop-color="#9dca76"/>
<stop offset="43%" stop-color="#85c39c"/>
<stop offset="50%" stop-color="#73beb9"/>
<stop offset="60%" stop-color="#6abbc0"/>
<stop offset="70%" stop-color="#52b5d1"/>
<stop offset="83%" stop-color="#58b7cc"/>
<stop offset="93%" stop-color="#359fd8"/>
<stop offset="100%" stop-color="#339ad4"/>
</linearGradient>
<linearGradient id="sD8" x1="0" y1="1" x2="0" y2="0">
<stop offset="0%" stop-color="#c82a1b"/>
<stop offset="2%" stop-color="#f4bc2c"/>
<stop offset="5%" stop-color="#f2dc31"/>
<stop offset="10%" stop-color="#dcdc3c"/>
<stop offset="15%" stop-color="#c9d646"/>
<stop offset="20%" stop-color="#f2dc31"/>
<stop offset="25%" stop-color="#f2dc31"/>
<stop offset="30%" stop-color="#d5da40"/>
<stop offset="37%" stop-color="#9bc978"/>
<stop offset="43%" stop-color="#91c688"/>
<stop offset="50%" stop-color="#94c783"/>
<stop offset="60%" stop-color="#7fc1a6"/>
<stop offset="70%" stop-color="#47b2d9"/>
<stop offset="83%" stop-color="#349dd6"/>
<stop offset="93%" stop-color="#46b2da"/>
<stop offset="100%" stop-color="#37a4da"/>
</linearGradient>
<linearGradient id="sD9" x1="0" y1="1" x2="0" y2="0">
<stop offset="0%" stop-color="#ca2c1c"/>
<stop offset="2%" stop-color="#eee134"/>
<stop offset="5%" stop-color="#dfdc3b"/>
<stop offset="10%" stop-color="#aece59"/>
<stop offset="15%" stop-color="#c1d44a"/>
<stop offset="20%" stop-color="#f3d530"/>
<stop offset="25%" stop-color="#f3d330"/>
<stop offset="30%" stop-color="#c9d646"/>
<stop offset="37%" stop-color="#abce5e"/>
<stop offset="43%" stop-color="#74beb7"/>
<stop offset="50%" stop-color="#6abcc0"/>
<stop offset="60%" stop-color="#58b7cd"/>
<stop offset="70%" stop-color="#4db4d5"/>
<stop offset="83%" stop-color="#3299d4"/>
<stop offset="93%" stop-color="#3cafe1"/>
<stop offset="100%" stop-color="#2c8acb"/>
</linearGradient>
<linearGradient id="sD10" x1="0" y1="1" x2="0" y2="0">
<stop offset="0%" stop-color="#c3271b"/>
<stop offset="2%" stop-color="#f3d730"/>
<stop offset="5%" stop-color="#e9e036"/>
<stop offset="10%" stop-color="#c9d646"/>
<stop offset="15%" stop-color="#b4d050"/>
<stop offset="20%" stop-color="#efe133"/>
<stop offset="25%" stop-color="#f3cb2e"/>
<stop offset="30%" stop-color="#d8db3e"/>
<stop offset="37%" stop-color="#96c880"/>
<stop offset="43%" stop-color="#8cc591"/>
<stop offset="50%" stop-color="#72beba"/>
<stop offset="60%" stop-color="#6dbcbe"/>
<stop offset="70%" stop-color="#41b0dd"/>
<stop offset="83%" stop-color="#46b2da"/>
<stop offset="93%" stop-color="#2e8fce"/>
<stop offset="100%" stop-color="#36a2d9"/>
</linearGradient>
<linearGradient id="sD11" x1="0" y1="1" x2="0" y2="0">
<stop offset="0%" stop-color="#cf2f1c"/>
<stop offset="2%" stop-color="#f2dc31"/>
<stop offset="5%" stop-color="#f3d430"/>
<stop offset="10%" stop-color="#b6d14f"/>
<stop offset="15%" stop-color="#bbd24d"/>
<stop offset="20%" stop-color="#ece035"/>
<stop offset="25%" stop-color="#f3cf2f"/>
<stop offset="30%" stop-color="#d1d842"/>
<stop offset="37%" stop-color="#84c39e"/>
<stop offset="43%" stop-color="#78bfb1"/>
<stop offset="50%" stop-color="#7cc0ab"/>
<stop offset="60%" stop-color="#55b6cf"/>
<stop offset="70%" stop-color="#54b6d0"/>
<stop offset="83%" stop-color="#3dafe0"/>
<stop offset="93%" stop-color="#349cd6"/>
<stop offset="100%" stop-color="#267ec4"/>
</linearGradient>
<linearGradient id="sD12" x1="0" y1="1" x2="0" y2="0">
<stop offset="0%" stop-color="#bd231a"/>
<stop offset="2%" stop-color="#f4c22d"/>
<stop offset="5%" stop-color="#f2db31"/>
<stop offset="10%" stop-color="#c7d547"/>
<stop offset="15%" stop-color="#d5da40"/>
<stop offset="20%" stop-color="#f2da31"/>
<stop offset="25%" stop-color="#f3ce2f"/>
<stop offset="30%" stop-color="#e0dd3b"/>
<stop offset="37%" stop-color="#afcf58"/>
<stop offset="43%" stop-color="#95c782"/>
<stop offset="50%" stop-color="#7ec1a7"/>
<stop offset="60%" stop-color="#79c0af"/>
<stop offset="70%" stop-color="#64bac4"/>
<stop offset="83%" stop-color="#4db4d4"/>
<stop offset="93%" stop-color="#3297d3"/>
<stop offset="100%" stop-color="#277fc4"/>
</linearGradient>
<linearGradient id="sD13" x1="0" y1="1" x2="0" y2="0">
<stop offset="0%" stop-color="#c3271b"/>
<stop offset="2%" stop-color="#f3cf2f"/>
<stop offset="5%" stop-color="#f3d730"/>
<stop offset="10%" stop-color="#c6d547"/>
<stop offset="15%" stop-color="#cad645"/>
<stop offset="20%" stop-color="#f3cd2f"/>
<stop offset="25%" stop-color="#f2de31"/>
<stop offset="30%" stop-color="#e2dd3a"/>
<stop offset="37%" stop-color="#a6cc67"/>
<stop offset="43%" stop-color="#9fca71"/>
<stop offset="50%" stop-color="#7bc0ab"/>
<stop offset="60%" stop-color="#6cbcbe"/>
<stop offset="70%" stop-color="#4ab3d7"/>
<stop offset="83%" stop-color="#3aaade"/>
<stop offset="93%" stop-color="#267bc1"/>
<stop offset="100%" stop-color="#2e90ce"/>
</linearGradient>
<linearGradient id="sD14" x1="0" y1="1" x2="0" y2="0">
<stop offset="0%" stop-color="#c92b1c"/>
<stop offset="2%" stop-color="#f3d630"/>
<stop offset="5%" stop-color="#f3d430"/>
<stop offset="10%" stop-color="#b3d052"/>
<stop offset="15%" stop-color="#ced843"/>
<stop offset="20%" stop-color="#e7df37"/>
<stop offset="25%" stop-color="#f3cf2f"/>
<stop offset="30%" stop-color="#d4d941"/>
<stop offset="37%" stop-color="#adce5c"/>
<stop offset="43%" stop-color="#75bfb5"/>
<stop offset="50%" stop-color="#84c39d"/>
<stop offset="60%" stop-color="#72beba"/>
<stop offset="70%" stop-color="#4eb4d4"/>
<stop offset="83%" stop-color="#339ad4"/>
<stop offset="93%" stop-color="#2a86c8"/>
<stop offset="100%" stop-color="#2a86c9"/>
</linearGradient>
<linearGradient id="sD15" x1="0" y1="1" x2="0" y2="0">
<stop offset="0%" stop-color="#d3321d"/>
<stop offset="2%" stop-color="#f4be2c"/>
<stop offset="5%" stop-color="#f2de31"/>
<stop offset="10%" stop-color="#ebe036"/>
<stop offset="15%" stop-color="#dddc3c"/>
<stop offset="20%" stop-color="#e8df37"/>
<stop offset="25%" stop-color="#f3ca2e"/>
<stop offset="30%" stop-color="#e2dd3a"/>
<stop offset="37%" stop-color="#a2cb6c"/>
<stop offset="43%" stop-color="#84c39d"/>
<stop offset="50%" stop-color="#7dc1aa"/>
<stop offset="60%" stop-color="#69bbc0"/>
<stop offset="70%" stop-color="#60b9c7"/>
<stop offset="83%" stop-color="#42b1dd"/>
<stop offset="93%" stop-color="#3aaade"/>
<stop offset="100%" stop-color="#3196d2"/>
</linearGradient>
<linearGradient id="sD16" x1="0" y1="1" x2="0" y2="0">
<stop offset="0%" stop-color="#ca2c1c"/>
<stop offset="2%" stop-color="#f3d530"/>
<stop offset="5%" stop-color="#f2e232"/>
<stop offset="10%" stop-color="#c7d647"/>
<stop offset="15%" stop-color="#ced843"/>
<stop offset="20%" stop-color="#d9db3e"/>
<stop offset="25%" stop-color="#f4ba2c"/>
<stop offset="30%" stop-color="#e0dd3b"/>
<stop offset="37%" stop-color="#aacd61"/>
<stop offset="43%" stop-color="#83c39f"/>
<stop offset="50%" stop-color="#82c2a1"/>
<stop offset="60%" stop-color="#69bbc0"/>
<stop offset="70%" stop-color="#54b6cf"/>
<stop offset="83%" stop-color="#59b7cc"/>
<stop offset="93%" stop-color="#3195d2"/>
<stop offset="100%" stop-color="#37a4db"/>
</linearGradient>
<linearGradient id="sD17" x1="0" y1="1" x2="0" y2="0">
<stop offset="0%" stop-color="#cb2d1c"/>
<stop offset="2%" stop-color="#f2dc31"/>
<stop offset="5%" stop-color="#dbdb3d"/>
<stop offset="10%" stop-color="#b5d050"/>
<stop offset="15%" stop-color="#a7cd64"/>
<stop offset="20%" stop-color="#d4d940"/>
<stop offset="25%" stop-color="#f2d830"/>
<stop offset="30%" stop-color="#a7cc65"/>
<stop offset="37%" stop-color="#96c880"/>
<stop offset="43%" stop-color="#85c39c"/>
<stop offset="50%" stop-color="#61b9c6"/>
<stop offset="60%" stop-color="#49b2d8"/>
<stop offset="70%" stop-color="#3aaade"/>
<stop offset="83%" stop-color="#2a85c8"/>
<stop offset="93%" stop-color="#2a86c8"/>
<stop offset="100%" stop-color="#42b1dd"/>
</linearGradient>
<linearGradient id="sD18" x1="0" y1="1" x2="0" y2="0">
<stop offset="0%" stop-color="#c6291b"/>
<stop offset="2%" stop-color="#f3c72e"/>
<stop offset="5%" stop-color="#dfdd3b"/>
<stop offset="10%" stop-color="#bcd24c"/>
<stop offset="15%" stop-color="#ced843"/>
<stop offset="20%" stop-color="#dddc3c"/>
<stop offset="25%" stop-color="#f3c72e"/>
<stop offset="30%" stop-color="#e7df38"/>
<stop offset="37%" stop-color="#8cc591"/>
<stop offset="43%" stop-color="#72beba"/>
<stop offset="50%" stop-color="#73beb8"/>
<stop offset="60%" stop-color="#60b9c7"/>
<stop offset="70%" stop-color="#41b0dd"/>
<stop offset="83%" stop-color="#349dd6"/>
<stop offset="93%" stop-color="#3298d3"/>
<stop offset="100%" stop-color="#3399d4"/>
</linearGradient>
<linearGradient id="sD19" x1="0" y1="1" x2="0" y2="0">
<stop offset="0%" stop-color="#c72a1b"/>
<stop offset="2%" stop-color="#f2d930"/>
<stop offset="5%" stop-color="#e5de38"/>
<stop offset="10%" stop-color="#e5de38"/>
<stop offset="15%" stop-color="#cfd843"/>
<stop offset="20%" stop-color="#eee134"/>
<stop offset="25%" stop-color="#f5ab29"/>
<stop offset="30%" stop-color="#e8df37"/>
<stop offset="37%" stop-color="#b8d14e"/>
<stop offset="43%" stop-color="#88c496"/>
<stop offset="50%" stop-color="#72beba"/>
<stop offset="60%" stop-color="#63bac5"/>
<stop offset="70%" stop-color="#5db8c9"/>
<stop offset="83%" stop-color="#40b0de"/>
<stop offset="93%" stop-color="#39a9dd"/>
<stop offset="100%" stop-color="#54b5d0"/>
</linearGradient>
<linearGradient id="sD20" x1="0" y1="1" x2="0" y2="0">
<stop offset="0%" stop-color="#cc2d1c"/>
<stop offset="2%" stop-color="#f4c22d"/>
<stop offset="5%" stop-color="#f3d22f"/>
<stop offset="10%" stop-color="#c6d547"/>
<stop offset="15%" stop-color="#f2e232"/>
<stop offset="20%" stop-color="#f3d530"/>
<stop offset="25%" stop-color="#f4b52b"/>
<stop offset="30%" stop-color="#d5da40"/>
<stop offset="37%" stop-color="#8dc58e"/>
<stop offset="43%" stop-color="#96c881"/>
<stop offset="50%" stop-color="#79c0af"/>
<stop offset="60%" stop-color="#64bac4"/>
<stop offset="70%" stop-color="#56b6ce"/>
<stop offset="83%" stop-color="#3dafe1"/>
<stop offset="93%" stop-color="#38a5db"/>
<stop offset="100%" stop-color="#3299d4"/>
</linearGradient>
<linearGradient id="sD21" x1="0" y1="1" x2="0" y2="0">
<stop offset="0%" stop-color="#a11616"/>
<stop offset="2%" stop-color="#f4bf2c"/>
<stop offset="5%" stop-color="#efe134"/>
<stop offset="10%" stop-color="#e3de39"/>
<stop offset="15%" stop-color="#cad645"/>
<stop offset="20%" stop-color="#dbdb3d"/>
<stop offset="25%" stop-color="#f2de31"/>
<stop offset="30%" stop-color="#bdd24c"/>
<stop offset="37%" stop-color="#a5cc67"/>
<stop offset="43%" stop-color="#78bfb1"/>
<stop offset="50%" stop-color="#66bac3"/>
<stop offset="60%" stop-color="#5fb9c8"/>
<stop offset="70%" stop-color="#50b4d2"/>
<stop offset="83%" stop-color="#2f91cf"/>
<stop offset="93%" stop-color="#3094d1"/>
<stop offset="100%" stop-color="#3298d3"/>
</linearGradient>
<linearGradient id="sD22" x1="0" y1="1" x2="0" y2="0">
<stop offset="0%" stop-color="#ce2f1c"/>
<stop offset="2%" stop-color="#f3c52d"/>
<stop offset="5%" stop-color="#f2db31"/>
<stop offset="10%" stop-color="#d1d942"/>
<stop offset="15%" stop-color="#cad645"/>
<stop offset="20%" stop-color="#e1dd3a"/>
<stop offset="25%" stop-color="#f4c02c"/>
<stop offset="30%" stop-color="#dedc3c"/>
<stop offset="37%" stop-color="#8fc68c"/>
<stop offset="43%" stop-color="#7dc1a9"/>
<stop offset="50%" stop-color="#80c2a4"/>
<stop offset="60%" stop-color="#7ec1a7"/>
<stop offset="70%" stop-color="#57b6cd"/>
<stop offset="83%" stop-color="#66bbc2"/>
<stop offset="93%" stop-color="#37a5db"/>
<stop offset="100%" stop-color="#359fd8"/>
</linearGradient>
<linearGradient id="sD23" x1="0" y1="1" x2="0" y2="0">
<stop offset="0%" stop-color="#bb211a"/>
<stop offset="2%" stop-color="#f2df32"/>
<stop offset="5%" stop-color="#f2dd31"/>
<stop offset="10%" stop-color="#d9db3e"/>
<stop offset="15%" stop-color="#bcd24c"/>
<stop offset="20%" stop-color="#f2e232"/>
<stop offset="25%" stop-color="#f3c42d"/>
<stop offset="30%" stop-color="#ebe035"/>
<stop offset="37%" stop-color="#abcd5f"/>
<stop offset="43%" stop-color="#86c39a"/>
<stop offset="50%" stop-color="#91c689"/>
<stop offset="60%" stop-color="#59b7cc"/>
<stop offset="70%" stop-color="#43b1dc"/>
<stop offset="83%" stop-color="#4eb4d4"/>
<stop offset="93%" stop-color="#3aaade"/>
<stop offset="100%" stop-color="#2984c7"/>
</linearGradient>
<linearGradient id="sD24" x1="0" y1="1" x2="0" y2="0">
<stop offset="0%" stop-color="#ba211a"/>
<stop offset="2%" stop-color="#f4c02c"/>
<stop offset="5%" stop-color="#f2e132"/>
<stop offset="10%" stop-color="#bed34b"/>
<stop offset="15%" stop-color="#bfd34b"/>
<stop offset="20%" stop-color="#efe133"/>
<stop offset="25%" stop-color="#f3cc2e"/>
<stop offset="30%" stop-color="#d3d941"/>
<stop offset="37%" stop-color="#93c785"/>
<stop offset="43%" stop-color="#96c880"/>
<stop offset="50%" stop-color="#6cbcbe"/>
<stop offset="60%" stop-color="#60b9c7"/>
<stop offset="70%" stop-color="#6bbcbf"/>
<stop offset="83%" stop-color="#359fd7"/>
<stop offset="93%" stop-color="#3196d2"/>
<stop offset="100%" stop-color="#3cafe1"/>
</linearGradient>
<linearGradient id="sD25" x1="0" y1="1" x2="0" y2="0">
<stop offset="0%" stop-color="#c4271b"/>
<stop offset="2%" stop-color="#e9df36"/>
<stop offset="5%" stop-color="#dedc3c"/>
<stop offset="10%" stop-color="#b4d051"/>
<stop offset="15%" stop-color="#b8d14e"/>
<stop offset="20%" stop-color="#cdd744"/>
<stop offset="25%" stop-color="#f0e133"/>
<stop offset="30%" stop-color="#bbd24d"/>
<stop offset="37%" stop-color="#97c87f"/>
<stop offset="43%" stop-color="#7dc1a9"/>
<stop offset="50%" stop-color="#57b6cd"/>
<stop offset="60%" stop-color="#54b6cf"/>
<stop offset="70%" stop-color="#3caee1"/>
<stop offset="83%" stop-color="#3094d1"/>
<stop offset="93%" stop-color="#3195d1"/>
<stop offset="100%" stop-color="#3093d0"/>
</linearGradient>
<linearGradient id="sD26" x1="0" y1="1" x2="0" y2="0">
<stop offset="0%" stop-color="#e2421f"/>
<stop offset="2%" stop-color="#f3cf2f"/>
<stop offset="5%" stop-color="#f2e032"/>
<stop offset="10%" stop-color="#f2d930"/>
<stop offset="15%" stop-color="#d5d940"/>
<stop offset="20%" stop-color="#cdd744"/>
<stop offset="25%" stop-color="#c3d449"/>
<stop offset="30%" stop-color="#b9d14e"/>
<stop offset="37%" stop-color="#7ec1a8"/>
<stop offset="43%" stop-color="#75beb7"/>
<stop offset="50%" stop-color="#67bbc2"/>
<stop offset="60%" stop-color="#56b6ce"/>
<stop offset="70%" stop-color="#43b1dc"/>
<stop offset="83%" stop-color="#349dd6"/>
<stop offset="93%" stop-color="#35a0d8"/>
<stop offset="100%" stop-color="#2780c5"/>
</linearGradient>
<linearGradient id="sD27" x1="0" y1="1" x2="0" y2="0">
<stop offset="0%" stop-color="#ca2c1c"/>
<stop offset="2%" stop-color="#f2dc31"/>
<stop offset="5%" stop-color="#f3d630"/>
<stop offset="10%" stop-color="#f2d931"/>
<stop offset="15%" stop-color="#dedc3c"/>
<stop offset="20%" stop-color="#cfd843"/>
<stop offset="25%" stop-color="#a4cc69"/>
<stop offset="30%" stop-color="#c4d548"/>
<stop offset="37%" stop-color="#94c784"/>
<stop offset="43%" stop-color="#65bac3"/>
<stop offset="50%" stop-color="#68bbc1"/>
<stop offset="60%" stop-color="#6bbcbf"/>
<stop offset="70%" stop-color="#4fb4d3"/>
<stop offset="83%" stop-color="#2f92cf"/>
<stop offset="93%" stop-color="#339ad4"/>
<stop offset="100%" stop-color="#36a2d9"/>
</linearGradient>
<linearGradient id="sD28" x1="0" y1="1" x2="0" y2="0">
<stop offset="0%" stop-color="#c5291b"/>
<stop offset="2%" stop-color="#f4ba2b"/>
<stop offset="5%" stop-color="#f3d330"/>
<stop offset="10%" stop-color="#f2e132"/>
<stop offset="15%" stop-color="#d6da3f"/>
<stop offset="20%" stop-color="#c3d449"/>
<stop offset="25%" stop-color="#b3d052"/>
<stop offset="30%" stop-color="#adce5c"/>
<stop offset="37%" stop-color="#a6cc66"/>
<stop offset="43%" stop-color="#7ec1a7"/>
<stop offset="50%" stop-color="#7ec1a7"/>
<stop offset="60%" stop-color="#66bac3"/>
<stop offset="70%" stop-color="#4fb4d4"/>
<stop offset="83%" stop-color="#38a6dc"/>
<stop offset="93%" stop-color="#5db8c9"/>
<stop offset="100%" stop-color="#42b1dc"/>
</linearGradient>
<linearGradient id="sD29" x1="0" y1="1" x2="0" y2="0">
<stop offset="0%" stop-color="#b31c19"/>
<stop offset="2%" stop-color="#f4b62b"/>
<stop offset="5%" stop-color="#f3d22f"/>
<stop offset="10%" stop-color="#f2e232"/>
<stop offset="15%" stop-color="#e5de38"/>
<stop offset="20%" stop-color="#eae036"/>
<stop offset="25%" stop-color="#b2cf53"/>
<stop offset="30%" stop-color="#97c87e"/>
<stop offset="37%" stop-color="#8ac493"/>
<stop offset="43%" stop-color="#7ac0ae"/>
<stop offset="50%" stop-color="#64bac4"/>
<stop offset="60%" stop-color="#63bac5"/>
<stop offset="70%" stop-color="#4fb4d3"/>
<stop offset="83%" stop-color="#3aabde"/>
<stop offset="93%" stop-color="#37a3da"/>
<stop offset="100%" stop-color="#4db4d4"/>
</linearGradient>
<linearGradient id="sD30" x1="0" y1="1" x2="0" y2="0">
<stop offset="0%" stop-color="#b61e1a"/>
<stop offset="2%" stop-color="#f3c82e"/>
<stop offset="5%" stop-color="#f4c12d"/>
<stop offset="10%" stop-color="#e4de39"/>
<stop offset="15%" stop-color="#ccd745"/>
<stop offset="20%" stop-color="#e8df37"/>
<stop offset="25%" stop-color="#cfd843"/>
<stop offset="30%" stop-color="#bdd24c"/>
<stop offset="37%" stop-color="#a8cd63"/>
<stop offset="43%" stop-color="#94c783"/>
<stop offset="50%" stop-color="#72beba"/>
<stop offset="60%" stop-color="#60b9c7"/>
<stop offset="70%" stop-color="#53b5d0"/>
<stop offset="83%" stop-color="#4db4d5"/>
<stop offset="93%" stop-color="#3aaade"/>
<stop offset="100%" stop-color="#2b88ca"/>
</linearGradient>
<linearGradient id="sD31" x1="0" y1="1" x2="0" y2="0">
<stop offset="0%" stop-color="#cd2e1c"/>
<stop offset="2%" stop-color="#f3c82e"/>
<stop offset="5%" stop-color="#f3c52d"/>
<stop offset="10%" stop-color="#f2df32"/>
<stop offset="15%" stop-color="#ece035"/>
<stop offset="20%" stop-color="#f2e032"/>
<stop offset="25%" stop-color="#d9db3e"/>
<stop offset="30%" stop-color="#b1cf54"/>
<stop offset="37%" stop-color="#9dca74"/>
<stop offset="43%" stop-color="#81c2a2"/>
<stop offset="50%" stop-color="#82c2a1"/>
<stop offset="60%" stop-color="#56b6ce"/>
<stop offset="70%" stop-color="#45b1db"/>
<stop offset="83%" stop-color="#3093d0"/>
<stop offset="93%" stop-color="#3fb0df"/>
<stop offset="100%" stop-color="#3aaade"/>
</linearGradient>
<linearGradient id="sD32" x1="0" y1="1" x2="0" y2="0">
<stop offset="0%" stop-color="#c6291b"/>
<stop offset="2%" stop-color="#f2da31"/>
<stop offset="5%" stop-color="#f2dc31"/>
<stop offset="10%" stop-color="#dddc3c"/>
<stop offset="15%" stop-color="#eae036"/>
<stop offset="20%" stop-color="#d6da3f"/>
<stop offset="25%" stop-color="#a9cd61"/>
<stop offset="30%" stop-color="#b3d051"/>
<stop offset="37%" stop-color="#8fc68b"/>
<stop offset="43%" stop-color="#78bfb1"/>
<stop offset="50%" stop-color="#70bdbb"/>
<stop offset="60%" stop-color="#50b4d3"/>
<stop offset="70%" stop-color="#42b1dc"/>
<stop offset="83%" stop-color="#349dd6"/>
<stop offset="93%" stop-color="#3094d1"/>
<stop offset="100%" stop-color="#2a87c9"/>
</linearGradient>
<linearGradient id="sD33" x1="0" y1="1" x2="0" y2="0">
<stop offset="0%" stop-color="#c6291b"/>
<stop offset="2%" stop-color="#f3cb2e"/>
<stop offset="5%" stop-color="#ebe035"/>
<stop offset="10%" stop-color="#f3cb2e"/>
<stop offset="15%" stop-color="#dedc3c"/>
<stop offset="20%" stop-color="#d1d842"/>
<stop offset="25%" stop-color="#c7d547"/>
<stop offset="30%" stop-color="#c5d548"/>
<stop offset="37%" stop-color="#8dc58f"/>
<stop offset="43%" stop-color="#5eb8c8"/>
<stop offset="50%" stop-color="#67bbc2"/>
<stop offset="60%" stop-color="#59b7cc"/>
<stop offset="70%" stop-color="#42b1dd"/>
<stop offset="83%" stop-color="#55b6cf"/>
<stop offset="93%" stop-color="#339ad5"/>
<stop offset="100%" stop-color="#36a2d9"/>
</linearGradient>
<linearGradient id="sD34" x1="0" y1="1" x2="0" y2="0">
<stop offset="0%" stop-color="#ce2f1c"/>
<stop offset="2%" stop-color="#f2dd31"/>
<stop offset="5%" stop-color="#f3d630"/>
<stop offset="10%" stop-color="#e3de39"/>
<stop offset="15%" stop-color="#d3d941"/>
<stop offset="20%" stop-color="#c6d547"/>
<stop offset="25%" stop-color="#9dca74"/>
<stop offset="30%" stop-color="#9cc976"/>
<stop offset="37%" stop-color="#87c399"/>
<stop offset="43%" stop-color="#69bbc0"/>
<stop offset="50%" stop-color="#6dbcbd"/>
<stop offset="60%" stop-color="#58b7cd"/>
<stop offset="70%" stop-color="#39a9dd"/>
<stop offset="83%" stop-color="#45b1db"/>
<stop offset="93%" stop-color="#3094d1"/>
<stop offset="100%" stop-color="#349cd6"/>
</linearGradient>
<linearGradient id="sD35" x1="0" y1="1" x2="0" y2="0">
<stop offset="0%" stop-color="#d7351d"/>
<stop offset="2%" stop-color="#f3d22f"/>
<stop offset="5%" stop-color="#f3d530"/>
<stop offset="10%" stop-color="#ebe036"/>
<stop offset="15%" stop-color="#c9d646"/>
<stop offset="20%" stop-color="#d7da3f"/>
<stop offset="25%" stop-color="#c1d44a"/>
<stop offset="30%" stop-color="#b2cf53"/>
<stop offset="37%" stop-color="#95c782"/>
<stop offset="43%" stop-color="#83c39f"/>
<stop offset="50%" stop-color="#62b9c5"/>
<stop offset="60%" stop-color="#5db8c9"/>
<stop offset="70%" stop-color="#44b1db"/>
<stop offset="83%" stop-color="#37a3da"/>
<stop offset="93%" stop-color="#3093d0"/>
<stop offset="100%" stop-color="#40b0de"/>
</linearGradient>
<linearGradient id="sD36" x1="0" y1="1" x2="0" y2="0">
<stop offset="0%" stop-color="#e3451f"/>
<stop offset="2%" stop-color="#f3d630"/>
<stop offset="5%" stop-color="#e5de38"/>
<stop offset="10%" stop-color="#cfd843"/>
<stop offset="15%" stop-color="#d4d940"/>
<stop offset="20%" stop-color="#acce5d"/>
<stop offset="25%" stop-color="#a4cc6a"/>
<stop offset="30%" stop-color="#9dca75"/>
<stop offset="37%" stop-color="#72beb9"/>
<stop offset="43%" stop-color="#5fb8c8"/>
<stop offset="50%" stop-color="#58b7cd"/>
<stop offset="60%" stop-color="#50b4d3"/>
<stop offset="70%" stop-color="#359fd7"/>
<stop offset="83%" stop-color="#37a3da"/>
<stop offset="93%" stop-color="#2e8fce"/>
<stop offset="100%" stop-color="#2984c7"/>
</linearGradient>
<linearGradient id="sD37" x1="0" y1="1" x2="0" y2="0">
<stop offset="0%" stop-color="#c72a1b"/>
<stop offset="2%" stop-color="#f3d12f"/>
<stop offset="5%" stop-color="#f2e032"/>
<stop offset="10%" stop-color="#dadb3e"/>
<stop offset="15%" stop-color="#e2dd3a"/>
<stop offset="20%" stop-color="#b7d14f"/>
<stop offset="25%" stop-color="#a2cb6d"/>
<stop offset="30%" stop-color="#95c783"/>
<stop offset="37%" stop-color="#80c2a4"/>
<stop offset="43%" stop-color="#6ebdbc"/>
<stop offset="50%" stop-color="#47b2d9"/>
<stop offset="60%" stop-color="#4eb4d4"/>
<stop offset="70%" stop-color="#3dafe0"/>
<stop offset="83%" stop-color="#3fb0de"/>
<stop offset="93%" stop-color="#2e90ce"/>
<stop offset="100%" stop-color="#3aaade"/>
</linearGradient>
<linearGradient id="sD38" x1="0" y1="1" x2="0" y2="0">
<stop offset="0%" stop-color="#cd2e1c"/>
<stop offset="2%" stop-color="#f3c62d"/>
<stop offset="5%" stop-color="#f4c32d"/>
<stop offset="10%" stop-color="#f3d330"/>
<stop offset="15%" stop-color="#e3de39"/>
<stop offset="20%" stop-color="#e2dd3a"/>
<stop offset="25%" stop-color="#b0cf56"/>
<stop offset="30%" stop-color="#c0d34a"/>
<stop offset="37%" stop-color="#9cc977"/>
<stop offset="43%" stop-color="#8bc593"/>
<stop offset="50%" stop-color="#75bfb6"/>
<stop offset="60%" stop-color="#65bac3"/>
<stop offset="70%" stop-color="#48b2d8"/>
<stop offset="83%" stop-color="#58b7cd"/>
<stop offset="93%" stop-color="#2881c5"/>
<stop offset="100%" stop-color="#38a5db"/>
</linearGradient>
<linearGradient id="sD39" x1="0" y1="1" x2="0" y2="0">
<stop offset="0%" stop-color="#c1261b"/>
<stop offset="2%" stop-color="#f2e132"/>
<stop offset="5%" stop-color="#f2de31"/>
<stop offset="10%" stop-color="#e2dd3a"/>
<stop offset="15%" stop-color="#dddc3c"/>
<stop offset="20%" stop-color="#c3d449"/>
<stop offset="25%" stop-color="#a6cc67"/>
<stop offset="30%" stop-color="#a2cb6e"/>
<stop offset="37%" stop-color="#94c783"/>
<stop offset="43%" stop-color="#78bfb2"/>
<stop offset="50%" stop-color="#59b7cc"/>
<stop offset="60%" stop-color="#41b0dd"/>
<stop offset="70%" stop-color="#37a4db"/>
<stop offset="83%" stop-color="#36a0d8"/>
<stop offset="93%" stop-color="#3197d2"/>
<stop offset="100%" stop-color="#2d8dcd"/>
</linearGradient>
<linearGradient id="sD40" x1="0" y1="1" x2="0" y2="0">
<stop offset="0%" stop-color="#d2321d"/>
<stop offset="2%" stop-color="#f4c22d"/>
<stop offset="5%" stop-color="#f3d22f"/>
<stop offset="10%" stop-color="#dddc3c"/>
<stop offset="15%" stop-color="#dddc3c"/>
<stop offset="20%" stop-color="#c1d44a"/>
<stop offset="25%" stop-color="#c4d548"/>
<stop offset="30%" stop-color="#b1cf54"/>
<stop offset="37%" stop-color="#92c787"/>
<stop offset="43%" stop-color="#8bc592"/>
<stop offset="50%" stop-color="#6dbcbd"/>
<stop offset="60%" stop-color="#5ab7cb"/>
<stop offset="70%" stop-color="#4eb4d4"/>
<stop offset="83%" stop-color="#2f90cf"/>
<stop offset="93%" stop-color="#3094d1"/>
<stop offset="100%" stop-color="#2d8ecd"/>
</linearGradient>
<linearGradient id="sD41" x1="0" y1="1" x2="0" y2="0">
<stop offset="0%" stop-color="#cd2e1c"/>
<stop offset="2%" stop-color="#f2d931"/>
<stop offset="5%" stop-color="#f2df32"/>
<stop offset="10%" stop-color="#e9df36"/>
<stop offset="15%" stop-color="#d6da3f"/>
<stop offset="20%" stop-color="#c7d547"/>
<stop offset="25%" stop-color="#aacd60"/>
<stop offset="30%" stop-color="#afcf58"/>
<stop offset="37%" stop-color="#7ec1a7"/>
<stop offset="43%" stop-color="#73beb9"/>
<stop offset="50%" stop-color="#62b9c5"/>
<stop offset="60%" stop-color="#54b5d0"/>
<stop offset="70%" stop-color="#56b6ce"/>
<stop offset="83%" stop-color="#36a2d9"/>
<stop offset="93%" stop-color="#339ad4"/>
<stop offset="100%" stop-color="#2470b9"/>
</linearGradient>
<linearGradient id="sD42" x1="0" y1="1" x2="0" y2="0">
<stop offset="0%" stop-color="#d4331d"/>
<stop offset="2%" stop-color="#f2d830"/>
<stop offset="5%" stop-color="#f3d730"/>
<stop offset="10%" stop-color="#dddc3c"/>
<stop offset="15%" stop-color="#dbdb3d"/>
<stop offset="20%" stop-color="#c5d548"/>
<stop offset="25%" stop-color="#c0d34a"/>
<stop offset="30%" stop-color="#9eca73"/>
<stop offset="37%" stop-color="#8fc68c"/>
<stop offset="43%" stop-color="#68bbc1"/>
<stop offset="50%" stop-color="#57b6cd"/>
<stop offset="60%" stop-color="#5ab7cb"/>
<stop offset="70%" stop-color="#36a2d9"/>
<stop offset="83%" stop-color="#2f91cf"/>
<stop offset="93%" stop-color="#43b1dc"/>
<stop offset="100%" stop-color="#3195d2"/>
</linearGradient>
<linearGradient id="sD43" x1="0" y1="1" x2="0" y2="0">
<stop offset="0%" stop-color="#cd2e1c"/>
<stop offset="2%" stop-color="#f3cd2f"/>
<stop offset="5%" stop-color="#f4c12d"/>
<stop offset="10%" stop-color="#e9df36"/>
<stop offset="15%" stop-color="#ebe036"/>
<stop offset="20%" stop-color="#c9d646"/>
<stop offset="25%" stop-color="#b1cf55"/>
<stop offset="30%" stop-color="#a6cc66"/>
<stop offset="37%" stop-color="#8cc590"/>
<stop offset="43%" stop-color="#96c881"/>
<stop offset="50%" stop-color="#60b9c7"/>
<stop offset="60%" stop-color="#59b7cc"/>
<stop offset="70%" stop-color="#38a7dc"/>
<stop offset="83%" stop-color="#3fb0df"/>
<stop offset="93%" stop-color="#349cd6"/>
<stop offset="100%" stop-color="#35a0d8"/>
</linearGradient>
<linearGradient id="sD44" x1="0" y1="1" x2="0" y2="0">
<stop offset="0%" stop-color="#d6341d"/>
<stop offset="2%" stop-color="#f3ce2f"/>
<stop offset="5%" stop-color="#f2db31"/>
<stop offset="10%" stop-color="#f2e032"/>
<stop offset="15%" stop-color="#d6da3f"/>
<stop offset="20%" stop-color="#c6d547"/>
<stop offset="25%" stop-color="#a7cd64"/>
<stop offset="30%" stop-color="#b4d051"/>
<stop offset="37%" stop-color="#88c498"/>
<stop offset="43%" stop-color="#69bbc1"/>
<stop offset="50%" stop-color="#72beba"/>
<stop offset="60%" stop-color="#5db8c9"/>
<stop offset="70%" stop-color="#42b1dd"/>
<stop offset="83%" stop-color="#38a7dc"/>
<stop offset="93%" stop-color="#2a85c8"/>
<stop offset="100%" stop-color="#236eb7"/>
</linearGradient>
<linearGradient id="sD45" x1="0" y1="1" x2="0" y2="0">
<stop offset="0%" stop-color="#e03b1e"/>
<stop offset="2%" stop-color="#f3c72e"/>
<stop offset="5%" stop-color="#f2df32"/>
<stop offset="10%" stop-color="#eae036"/>
<stop offset="15%" stop-color="#d1d842"/>
<stop offset="20%" stop-color="#cdd744"/>
<stop offset="25%" stop-color="#c2d449"/>
<stop offset="30%" stop-color="#aacd60"/>
<stop offset="37%" stop-color="#94c784"/>
<stop offset="43%" stop-color="#7dc1aa"/>
<stop offset="50%" stop-color="#63bac4"/>
<stop offset="60%" stop-color="#40b0de"/>
<stop offset="70%" stop-color="#49b3d7"/>
<stop offset="83%" stop-color="#339bd5"/>
<stop offset="93%" stop-color="#2c8acb"/>
<stop offset="100%" stop-color="#2576be"/>
</linearGradient>
<linearGradient id="sD46" x1="0" y1="1" x2="0" y2="0">
<stop offset="0%" stop-color="#cd2e1c"/>
<stop offset="2%" stop-color="#f3c42d"/>
<stop offset="5%" stop-color="#f3d630"/>
<stop offset="10%" stop-color="#f2e032"/>
<stop offset="15%" stop-color="#b4d051"/>
<stop offset="20%" stop-color="#c5d548"/>
<stop offset="25%" stop-color="#9ac97a"/>
<stop offset="30%" stop-color="#89c496"/>
<stop offset="37%" stop-color="#85c39b"/>
<stop offset="43%" stop-color="#72beb9"/>
<stop offset="50%" stop-color="#50b5d2"/>
<stop offset="60%" stop-color="#3aaade"/>
<stop offset="70%" stop-color="#339bd5"/>
<stop offset="83%" stop-color="#3299d4"/>
<stop offset="93%" stop-color="#37a3da"/>
<stop offset="100%" stop-color="#3eb0df"/>
</linearGradient>
<linearGradient id="sD47" x1="0" y1="1" x2="0" y2="0">
<stop offset="0%" stop-color="#da371d"/>
<stop offset="2%" stop-color="#f2da31"/>
<stop offset="5%" stop-color="#f2d930"/>
<stop offset="10%" stop-color="#f0e233"/>
<stop offset="15%" stop-color="#c0d34a"/>
<stop offset="20%" stop-color="#cdd744"/>
<stop offset="25%" stop-color="#b2cf53"/>
<stop offset="30%" stop-color="#b5d050"/>
<stop offset="37%" stop-color="#76bfb4"/>
<stop offset="43%" stop-color="#81c2a3"/>
<stop offset="50%" stop-color="#77bfb3"/>
<stop offset="60%" stop-color="#64bac4"/>
<stop offset="70%" stop-color="#55b6cf"/>
<stop offset="83%" stop-color="#3aa9de"/>
<stop offset="93%" stop-color="#35a0d8"/>
<stop offset="100%" stop-color="#2984c7"/>
</linearGradient>
<linearGradient id="sD48" x1="0" y1="1" x2="0" y2="0">
<stop offset="0%" stop-color="#da371d"/>
<stop offset="2%" stop-color="#f3c92e"/>
<stop offset="5%" stop-color="#f3d330"/>
<stop offset="10%" stop-color="#e3de39"/>
<stop offset="15%" stop-color="#e9e036"/>
<stop offset="20%" stop-color="#b6d04f"/>
<stop offset="25%" stop-color="#afcf57"/>
<stop offset="30%" stop-color="#bcd24c"/>
<stop offset="37%" stop-color="#85c39c"/>
<stop offset="43%" stop-color="#7ac0ae"/>
<stop offset="50%" stop-color="#48b2d9"/>
<stop offset="60%" stop-color="#62b9c5"/>
<stop offset="70%" stop-color="#3bade0"/>
<stop offset="83%" stop-color="#3298d3"/>
<stop offset="93%" stop-color="#3bade0"/>
<stop offset="100%" stop-color="#3197d3"/>
</linearGradient>
<linearGradient id="sD49" x1="0" y1="1" x2="0" y2="0">
<stop offset="0%" stop-color="#cd2e1c"/>
<stop offset="2%" stop-color="#eee134"/>
<stop offset="5%" stop-color="#e9df37"/>
<stop offset="10%" stop-color="#d2d941"/>
<stop offset="15%" stop-color="#c5d548"/>
<stop offset="20%" stop-color="#b6d14f"/>
<stop offset="25%" stop-color="#a7cc65"/>
<stop offset="30%" stop-color="#95c782"/>
<stop offset="37%" stop-color="#9dca74"/>
<stop offset="43%" stop-color="#6bbcbf"/>
<stop offset="50%" stop-color="#61b9c6"/>
<stop offset="60%" stop-color="#41b0dd"/>
<stop offset="70%" stop-color="#4bb3d6"/>
<stop offset="83%" stop-color="#38a5db"/>
<stop offset="93%" stop-color="#3095d1"/>
<stop offset="100%" stop-color="#2983c7"/>
</linearGradient>
</defs>
<rect x="1434.4" y="1208" width="6.56" height="174.7" fill="url(#sD0)"/>
<rect x="1440.36" y="1208" width="6.56" height="174.7" fill="url(#sD1)"/>
<rect x="1446.32" y="1208" width="6.56" height="174.7" fill="url(#sD2)"/>
<rect x="1452.28" y="1208" width="6.56" height="174.7" fill="url(#sD3)"/>
<rect x="1458.24" y="1208" width="6.56" height="174.7" fill="url(#sD4)"/>
<rect x="1464.2" y="1208" width="6.56" height="174.7" fill="url(#sD5)"/>
<rect x="1470.16" y="1208" width="6.56" height="174.7" fill="url(#sD6)"/>
<rect x="1476.12" y="1208" width="6.56" height="174.7" fill="url(#sD7)"/>
<rect x="1482.08" y="1208" width="6.56" height="174.7" fill="url(#sD8)"/>
<rect x="1488.04" y="1208" width="6.56" height="174.7" fill="url(#sD9)"/>
<rect x="1494" y="1208" width="6.56" height="174.7" fill="url(#sD10)"/>
<rect x="1499.96" y="1208" width="6.56" height="174.7" fill="url(#sD11)"/>
<rect x="1505.92" y="1208" width="6.56" height="174.7" fill="url(#sD12)"/>
<rect x="1511.88" y="1208" width="6.56" height="174.7" fill="url(#sD13)"/>
<rect x="1517.84" y="1208" width="6.56" height="174.7" fill="url(#sD14)"/>
<rect x="1523.8" y="1208" width="6.56" height="174.7" fill="url(#sD15)"/>
<rect x="1529.76" y="1208" width="6.56" height="174.7" fill="url(#sD16)"/>
<rect x="1535.72" y="1208" width="6.56" height="174.7" fill="url(#sD17)"/>
<rect x="1541.68" y="1208" width="6.56" height="174.7" fill="url(#sD18)"/>
<rect x="1547.64" y="1208" width="6.56" height="174.7" fill="url(#sD19)"/>
<rect x="1553.6" y="1208" width="6.56" height="174.7" fill="url(#sD20)"/>
<rect x="1559.56" y="1208" width="6.56" height="174.7" fill="url(#sD21)"/>
<rect x="1565.52" y="1208" width="6.56" height="174.7" fill="url(#sD22)"/>
<rect x="1571.48" y="1208" width="6.56" height="174.7" fill="url(#sD23)"/>
<rect x="1577.44" y="1208" width="6.56" height="174.7" fill="url(#sD24)"/>
<rect x="1583.4" y="1208" width="6.56" height="174.7" fill="url(#sD25)"/>
<rect x="1589.36" y="1208" width="6.56" height="174.7" fill="url(#sD26)"/>
<rect x="1595.32" y="1208" width="6.56" height="174.7" fill="url(#sD27)"/>
<rect x="1601.28" y="1208" width="6.56" height="174.7" fill="url(#sD28)"/>
<rect x="1607.24" y="1208" width="6.56" height="174.7" fill="url(#sD29)"/>
<rect x="1613.2" y="1208" width="6.56" height="174.7" fill="url(#sD30)"/>
<rect x="1619.16" y="1208" width="6.56" height="174.7" fill="url(#sD31)"/>
<rect x="1625.12" y="1208" width="6.56" height="174.7" fill="url(#sD32)"/>
<rect x="1631.08" y="1208" width="6.56" height="174.7" fill="url(#sD33)"/>
<rect x="1637.04" y="1208" width="6.56" height="174.7" fill="url(#sD34)"/>
<rect x="1643" y="1208" width="6.56" height="174.7" fill="url(#sD35)"/>
<rect x="1648.96" y="1208" width="6.56" height="174.7" fill="url(#sD36)"/>
<rect x="1654.92" y="1208" width="6.56" height="174.7" fill="url(#sD37)"/>
<rect x="1660.88" y="1208" width="6.56" height="174.7" fill="url(#sD38)"/>
<rect x="1666.84" y="1208" width="6.56" height="174.7" fill="url(#sD39)"/>
<rect x="1672.8" y="1208" width="6.56" height="174.7" fill="url(#sD40)"/>
<rect x="1678.76" y="1208" width="6.56" height="174.7" fill="url(#sD41)"/>
<rect x="1684.72" y="1208" width="6.56" height="174.7" fill="url(#sD42)"/>
<rect x="1690.68" y="1208" width="6.56" height="174.7" fill="url(#sD43)"/>
<rect x="1696.64" y="1208" width="6.56" height="174.7" fill="url(#sD44)"/>
<rect x="1702.6" y="1208" width="6.56" height="174.7" fill="url(#sD45)"/>
<rect x="1708.56" y="1208" width="6.56" height="174.7" fill="url(#sD46)"/>
<rect x="1714.52" y="1208" width="6.56" height="174.7" fill="url(#sD47)"/>
<rect x="1720.48" y="1208" width="6.56" height="174.7" fill="url(#sD48)"/>
<rect x="1726.44" y="1208" width="6.56" height="174.7" fill="url(#sD49)"/>
<rect x="1434.4" y="1208" width="298" height="174.7" fill="none" stroke="#231815" stroke-width="1.6"/>
<line x1="1423.9" y1="1208.5" x2="1434.4" y2="1208.5" stroke="#231815" stroke-width="1.5"/>
<text x="1396.51" y="1219.8" font-size="22.5" fill="#1d1d1b">30</text>
<line x1="1423.9" y1="1268.6" x2="1434.4" y2="1268.6" stroke="#231815" stroke-width="1.5"/>
<text x="1396.51" y="1276.5" font-size="22.5" fill="#1d1d1b">20</text>
<line x1="1423.9" y1="1327.9" x2="1434.4" y2="1327.9" stroke="#231815" stroke-width="1.5"/>
<text x="1396.51" y="1333.1" font-size="22.5" fill="#1d1d1b">10</text>
<line x1="1423.9" y1="1382" x2="1434.4" y2="1382" stroke="#231815" stroke-width="1.5"/>
<text x="1409" y="1389.8" font-size="22.5" fill="#1d1d1b">0</text>
<line x1="1435" y1="1382.7" x2="1435" y2="1390.7" stroke="#231815" stroke-width="1.4"/>
<text x="1418.63" y="1413.6" font-size="22.5" fill="#1d1d1b">-30</text>
<line x1="1484.45" y1="1382.7" x2="1484.45" y2="1390.7" stroke="#231815" stroke-width="1.4"/>
<text x="1468.08" y="1413.6" font-size="22.5" fill="#1d1d1b">-20</text>
<line x1="1533.9" y1="1382.7" x2="1533.9" y2="1390.7" stroke="#231815" stroke-width="1.4"/>
<text x="1517.53" y="1413.6" font-size="22.5" fill="#1d1d1b">-10</text>
<line x1="1583.35" y1="1382.7" x2="1583.35" y2="1390.7" stroke="#231815" stroke-width="1.4"/>
<text x="1577.05" y="1413.6" font-size="22.5" fill="#1d1d1b">0</text>
<line x1="1632.8" y1="1382.7" x2="1632.8" y2="1390.7" stroke="#231815" stroke-width="1.4"/>
<text x="1619.86" y="1413.6" font-size="22.5" fill="#1d1d1b">10</text>
<line x1="1682.25" y1="1382.7" x2="1682.25" y2="1390.7" stroke="#231815" stroke-width="1.4"/>
<text x="1669.59" y="1413.6" font-size="22.5" fill="#1d1d1b">20</text>
<line x1="1731.7" y1="1382.7" x2="1731.7" y2="1390.7" stroke="#231815" stroke-width="1.4"/>
<text x="1719.16" y="1413.6" font-size="22.5" fill="#1d1d1b">30</text>
<defs><linearGradient id="cb1" x1="0" y1="1" x2="0" y2="0">
<stop offset="0.0" stop-color="#182c76"/>
<stop offset="0.12" stop-color="#1c4296"/>
<stop offset="0.25" stop-color="#267dc3"/>
<stop offset="0.35" stop-color="#3cafe1"/>
<stop offset="0.45" stop-color="#73beb9"/>
<stop offset="0.55" stop-color="#b4d050"/>
<stop offset="0.65" stop-color="#f2e232"/>
<stop offset="0.75" stop-color="#f5a528"/>
<stop offset="0.85" stop-color="#e13c1e"/>
<stop offset="0.95" stop-color="#af1919"/>
<stop offset="1.0" stop-color="#780f0f"/>
</linearGradient></defs>
<rect x="37.3" y="1293.3" width="11.4" height="121" fill="url(#cb1)" stroke="#333" stroke-width="0.5"/>
<line x1="48.7" y1="1414.3" x2="51.3" y2="1414.3" stroke="#333" stroke-width="0.8"/>
<text x="53.64" y="1419.8" font-size="16.5" fill="#333">0</text>
<line x1="48.7" y1="1390.1" x2="51.3" y2="1390.1" stroke="#333" stroke-width="0.8"/>
<text x="53.64" y="1395.6" font-size="16.5" fill="#333">5</text>
<line x1="48.7" y1="1365.9" x2="51.3" y2="1365.9" stroke="#333" stroke-width="0.8"/>
<text x="53.06" y="1371.4" font-size="16.5" fill="#333">10</text>
<line x1="48.7" y1="1341.7" x2="51.3" y2="1341.7" stroke="#333" stroke-width="0.8"/>
<text x="53.06" y="1347.2" font-size="16.5" fill="#333">15</text>
<line x1="48.7" y1="1317.5" x2="51.3" y2="1317.5" stroke="#333" stroke-width="0.8"/>
<text x="53.47" y="1323" font-size="16.5" fill="#333">20</text>
<line x1="48.7" y1="1293.3" x2="51.3" y2="1293.3" stroke="#333" stroke-width="0.8"/>
<text x="53.47" y="1298.8" font-size="16.5" fill="#333">25</text>
<text x="28.8" y="1390.25" font-size="15.64" fill="#333" transform="rotate(-90 28.8 1390.25)">Power (dB)</text>
<defs><linearGradient id="cb2" x1="0" y1="1" x2="0" y2="0">
<stop offset="0.0" stop-color="#182c76"/>
<stop offset="0.12" stop-color="#1c4296"/>
<stop offset="0.25" stop-color="#267dc3"/>
<stop offset="0.35" stop-color="#3cafe1"/>
<stop offset="0.45" stop-color="#73beb9"/>
<stop offset="0.55" stop-color="#b4d050"/>
<stop offset="0.65" stop-color="#f2e232"/>
<stop offset="0.75" stop-color="#f5a528"/>
<stop offset="0.85" stop-color="#e13c1e"/>
<stop offset="0.95" stop-color="#af1919"/>
<stop offset="1.0" stop-color="#780f0f"/>
</linearGradient></defs>
<rect x="498.2" y="1293.3" width="11.4" height="121" fill="url(#cb2)" stroke="#333" stroke-width="0.5"/>
<line x1="509.6" y1="1414.3" x2="512.2" y2="1414.3" stroke="#333" stroke-width="0.8"/>
<text x="514.54" y="1419.8" font-size="16.5" fill="#333">0</text>
<line x1="509.6" y1="1390.1" x2="512.2" y2="1390.1" stroke="#333" stroke-width="0.8"/>
<text x="514.54" y="1395.6" font-size="16.5" fill="#333">5</text>
<line x1="509.6" y1="1365.9" x2="512.2" y2="1365.9" stroke="#333" stroke-width="0.8"/>
<text x="513.96" y="1371.4" font-size="16.5" fill="#333">10</text>
<line x1="509.6" y1="1341.7" x2="512.2" y2="1341.7" stroke="#333" stroke-width="0.8"/>
<text x="513.96" y="1347.2" font-size="16.5" fill="#333">15</text>
<line x1="509.6" y1="1317.5" x2="512.2" y2="1317.5" stroke="#333" stroke-width="0.8"/>
<text x="514.38" y="1323" font-size="16.5" fill="#333">20</text>
<line x1="509.6" y1="1293.3" x2="512.2" y2="1293.3" stroke="#333" stroke-width="0.8"/>
<text x="514.38" y="1298.8" font-size="16.5" fill="#333">25</text>
<text x="489.7" y="1390.25" font-size="15.64" fill="#333" transform="rotate(-90 489.7 1390.25)">Power (dB)</text>
<defs><linearGradient id="cb3" x1="0" y1="1" x2="0" y2="0">
<stop offset="0.0" stop-color="#182c76"/>
<stop offset="0.12" stop-color="#1c4296"/>
<stop offset="0.25" stop-color="#267dc3"/>
<stop offset="0.35" stop-color="#3cafe1"/>
<stop offset="0.45" stop-color="#73beb9"/>
<stop offset="0.55" stop-color="#b4d050"/>
<stop offset="0.65" stop-color="#f2e232"/>
<stop offset="0.75" stop-color="#f5a528"/>
<stop offset="0.85" stop-color="#e13c1e"/>
<stop offset="0.95" stop-color="#af1919"/>
<stop offset="1.0" stop-color="#780f0f"/>
</linearGradient></defs>
<rect x="927.9" y="1293.3" width="11.4" height="121" fill="url(#cb3)" stroke="#333" stroke-width="0.5"/>
<line x1="939.3" y1="1414.3" x2="941.9" y2="1414.3" stroke="#333" stroke-width="0.8"/>
<text x="944.24" y="1419.8" font-size="16.5" fill="#333">0</text>
<line x1="939.3" y1="1384.05" x2="941.9" y2="1384.05" stroke="#333" stroke-width="0.8"/>
<text x="943.66" y="1389.55" font-size="16.5" fill="#333">10</text>
<line x1="939.3" y1="1353.8" x2="941.9" y2="1353.8" stroke="#333" stroke-width="0.8"/>
<text x="944.07" y="1359.3" font-size="16.5" fill="#333">20</text>
<line x1="939.3" y1="1323.55" x2="941.9" y2="1323.55" stroke="#333" stroke-width="0.8"/>
<text x="944.24" y="1329.05" font-size="16.5" fill="#333">30</text>
<line x1="939.3" y1="1293.3" x2="941.9" y2="1293.3" stroke="#333" stroke-width="0.8"/>
<text x="944.57" y="1298.8" font-size="16.5" fill="#333">40</text>
<text x="919.4" y="1390.25" font-size="15.64" fill="#333" transform="rotate(-90 919.4 1390.25)">Power (dB)</text>
<defs><linearGradient id="cb4" x1="0" y1="1" x2="0" y2="0">
<stop offset="0.0" stop-color="#182c76"/>
<stop offset="0.12" stop-color="#1c4296"/>
<stop offset="0.25" stop-color="#267dc3"/>
<stop offset="0.35" stop-color="#3cafe1"/>
<stop offset="0.45" stop-color="#73beb9"/>
<stop offset="0.55" stop-color="#b4d050"/>
<stop offset="0.65" stop-color="#f2e232"/>
<stop offset="0.75" stop-color="#f5a528"/>
<stop offset="0.85" stop-color="#e13c1e"/>
<stop offset="0.95" stop-color="#af1919"/>
<stop offset="1.0" stop-color="#780f0f"/>
</linearGradient></defs>
<rect x="1357" y="1293.6" width="11.4" height="121" fill="url(#cb4)" stroke="#333" stroke-width="0.5"/>
<line x1="1368.4" y1="1414.6" x2="1371" y2="1414.6" stroke="#333" stroke-width="0.8"/>
<text x="1373.34" y="1420.1" font-size="16.5" fill="#333">0</text>
<line x1="1368.4" y1="1384.35" x2="1371" y2="1384.35" stroke="#333" stroke-width="0.8"/>
<text x="1372.76" y="1389.85" font-size="16.5" fill="#333">10</text>
<line x1="1368.4" y1="1354.1" x2="1371" y2="1354.1" stroke="#333" stroke-width="0.8"/>
<text x="1373.17" y="1359.6" font-size="16.5" fill="#333">20</text>
<line x1="1368.4" y1="1323.85" x2="1371" y2="1323.85" stroke="#333" stroke-width="0.8"/>
<text x="1373.34" y="1329.35" font-size="16.5" fill="#333">30</text>
<line x1="1368.4" y1="1293.6" x2="1371" y2="1293.6" stroke="#333" stroke-width="0.8"/>
<text x="1373.67" y="1299.1" font-size="16.5" fill="#333">40</text>
<text x="1348.5" y="1390.25" font-size="15.64" fill="#333" transform="rotate(-90 1348.5 1390.25)">Power (dB)</text>
<text x="101.8" y="1372.5" font-size="22.5" fill="#1d1d1b" transform="rotate(-90 101.8 1372.5)">Frequency (Hz)</text>
<text x="251.49" y="1445" font-size="25.53" fill="#1d1d1b">Time (s)</text>
<text x="197" y="1498.7" font-size="32.48" fill="#d68a2a">AW</text>
<defs><linearGradient id="ta1" gradientUnits="userSpaceOnUse" x1="266" y1="0" x2="311.5" y2="0"><stop offset="0" stop-color="#e8c58c"/><stop offset="1" stop-color="#8cc39a"/></linearGradient></defs>
<path d="M266,1481.5L293.8,1481.5L293.8,1472.7L311.5,1487.7L293.8,1502.7L293.8,1493.9L266,1493.9 Z" fill="url(#ta1)"/>
<text x="319.63" y="1498.7" font-size="34.57" fill="#1f8a50">NREM</text>
<text x="592.08" y="1498.7" font-size="34.03" fill="#1f7f3a">NREM</text>
<defs><linearGradient id="ta2" gradientUnits="userSpaceOnUse" x1="707" y1="0" x2="753" y2="0"><stop offset="0" stop-color="#8cc39a"/><stop offset="1" stop-color="#e8c58c"/></linearGradient></defs>
<path d="M707,1481.5L735.1,1481.5L735.1,1472.7L753,1487.7L735.1,1502.7L735.1,1493.9L707,1493.9 Z" fill="url(#ta2)"/>
<text x="763.3" y="1498.7" font-size="32.93" fill="#d68a2a">AW</text>
<text x="1020.58" y="1498.7" font-size="34.03" fill="#2e9a3e">NREM</text>
<defs><linearGradient id="ta3" gradientUnits="userSpaceOnUse" x1="1136" y1="0" x2="1181.5" y2="0"><stop offset="0" stop-color="#8cc39a"/><stop offset="1" stop-color="#7f8db4"/></linearGradient></defs>
<path d="M1136,1481.5L1163.8,1481.5L1163.8,1472.7L1181.5,1487.7L1163.8,1502.7L1163.8,1493.9L1136,1493.9 Z" fill="url(#ta3)"/>
<text x="1191.07" y="1498.7" font-size="34.08" fill="#1a2f6b">REM</text>
<text x="1476.27" y="1500" font-size="34.08" fill="#1a2f6b">REM</text>
<defs><linearGradient id="ta4" gradientUnits="userSpaceOnUse" x1="1567" y1="0" x2="1613" y2="0"><stop offset="0" stop-color="#7f8db4"/><stop offset="1" stop-color="#e8c58c"/></linearGradient></defs>
<path d="M1567,1482.8L1595.1,1482.8L1595.1,1474L1613,1489L1595.1,1504L1595.1,1495.2L1567,1495.2 Z" fill="url(#ta4)"/>
<text x="1623.6" y="1500" font-size="32.74" fill="#d68a2a">AW</text>
<line x1="145.3" y1="1528" x2="145.3" y2="1801.6" stroke="#231815" stroke-width="1.6"/>
<line x1="145.3" y1="1801.6" x2="445.9" y2="1801.6" stroke="#231815" stroke-width="1.6"/>
<line x1="137.3" y1="1530.2" x2="145.3" y2="1530.2" stroke="#231815" stroke-width="1.4"/>
<text x="96.06" y="1538" font-size="21.5" fill="#1d1d1b">0.4</text>
<line x1="137.3" y1="1576" x2="145.3" y2="1576" stroke="#231815" stroke-width="1.4"/>
<text x="96.28" y="1583.8" font-size="21.5" fill="#1d1d1b">0.3</text>
<line x1="137.3" y1="1621" x2="145.3" y2="1621" stroke="#231815" stroke-width="1.4"/>
<text x="96.49" y="1628.8" font-size="21.5" fill="#1d1d1b">0.2</text>
<line x1="137.3" y1="1665.8" x2="145.3" y2="1665.8" stroke="#231815" stroke-width="1.4"/>
<text x="96.38" y="1673.6" font-size="21.5" fill="#1d1d1b">0.1</text>
<line x1="137.3" y1="1710.8" x2="145.3" y2="1710.8" stroke="#231815" stroke-width="1.4"/>
<text x="114.12" y="1718.6" font-size="21.5" fill="#1d1d1b">0</text>
<line x1="137.3" y1="1755.8" x2="145.3" y2="1755.8" stroke="#231815" stroke-width="1.4"/>
<text x="89.29" y="1763.6" font-size="21.5" fill="#1d1d1b">-0.1</text>
<line x1="137.3" y1="1801" x2="145.3" y2="1801" stroke="#231815" stroke-width="1.4"/>
<text x="89.4" y="1808.8" font-size="21.5" fill="#1d1d1b">-0.2</text>
<line x1="145.3" y1="1801.6" x2="145.3" y2="1809.6" stroke="#231815" stroke-width="1.4"/>
<text x="124.8" y="1835.5" font-size="22" fill="#1d1d1b">-30</text>
<line x1="195.03" y1="1801.6" x2="195.03" y2="1809.6" stroke="#231815" stroke-width="1.4"/>
<text x="174.52" y="1835.5" font-size="22" fill="#1d1d1b">-20</text>
<line x1="244.76" y1="1801.6" x2="244.76" y2="1809.6" stroke="#231815" stroke-width="1.4"/>
<text x="224.25" y="1835.5" font-size="22" fill="#1d1d1b">-10</text>
<line x1="294.49" y1="1801.6" x2="294.49" y2="1809.6" stroke="#231815" stroke-width="1.4"/>
<text x="288.33" y="1835.5" font-size="22" fill="#1d1d1b">0</text>
<line x1="344.22" y1="1801.6" x2="344.22" y2="1809.6" stroke="#231815" stroke-width="1.4"/>
<text x="331.57" y="1835.5" font-size="22" fill="#1d1d1b">10</text>
<line x1="393.95" y1="1801.6" x2="393.95" y2="1809.6" stroke="#231815" stroke-width="1.4"/>
<text x="381.57" y="1835.5" font-size="22" fill="#1d1d1b">20</text>
<line x1="443.68" y1="1801.6" x2="443.68" y2="1809.6" stroke="#231815" stroke-width="1.4"/>
<text x="431.42" y="1835.5" font-size="22" fill="#1d1d1b">30</text>
<line x1="294.5" y1="1517" x2="294.5" y2="1801.6" stroke="#555" stroke-width="1.1" stroke-dasharray="3,3"/>
<rect x="145.3" y="1694.3" width="298.5" height="33" fill="#c9c9c9"/>
<line x1="145.3" y1="1710.8" x2="443.8" y2="1710.8" stroke="#555" stroke-width="1.1" stroke-dasharray="4,3"/>
<defs><path id="cv1" d="M145.3,1710.8L147.5,1710.5L150.5,1710L154,1709.4L157.8,1708.9L161.7,1708.6L165.2,1708.5L168.5,1708.8L171.6,1709.1L174.8,1709.7L178.1,1710.5L181.5,1711.6L185.1,1713L189,1714.9L193,1717.2L197.2,1719.8L201.5,1722.6L205.8,1725.7L210,1728.8L214.2,1732.3L218.5,1736.3L222.7,1740.5L226.9,1744.5L231,1748.3L234.9,1751.3L238.5,1753.7L241.9,1755.7L245.1,1757.3L248.3,1758.5L251.5,1759.5L254.8,1760.3L258.1,1760.8L261.4,1760.8L264.7,1760.6L268,1760.3L271.3,1759.8L274.6,1759.4L278.1,1759.1L281.7,1758.9L285.2,1758.7L288.7,1758.2L291.8,1757.3L294.6,1755.8L296.7,1753.8L298.4,1751.5L299.8,1748.8L301.2,1745.7L302.7,1742L304.5,1737.8L306.7,1732.5L309.1,1726.1L311.7,1719.2L314.3,1712.4L316.9,1706.4L319.4,1701.8L321.9,1698.8L324.2,1696.8L326.6,1695.6L329,1694.9L331.6,1694.4L334.4,1693.7L337.4,1692.8L340.6,1692L344,1691.4L347.4,1691L350.9,1691L354.2,1691.5L357.6,1692.4L360.9,1693.7L364.2,1695.4L367.5,1697.3L370.8,1699.5L374.1,1701.8L377.5,1704.5L380.8,1707.7L384.1,1711.2L387.4,1714.5L390.7,1717.5L394,1719.8L397.3,1721.5L400.3,1722.8L403.4,1723.7L406.6,1724.2L410.1,1724.4L413.9,1724.3L418.7,1723.6L424.3,1722.2L430.1,1720.5L435.7,1718.8L440.4,1717.2L443.8,1716.2"/></defs>
<use href="#cv1" fill="none" stroke="#c5522b" stroke-opacity="0.28" stroke-width="7" stroke-linejoin="round"/>
<use href="#cv1" fill="none" stroke="#c5522b" stroke-width="2.2" stroke-linejoin="round"/>
<defs><path id="cv2" d="M145.3,1704L146.9,1704.1L149.2,1704.2L151.8,1704.4L154.7,1704.6L157.6,1704.9L160.2,1705.4L162.7,1706L165,1706.7L167.4,1707.5L169.8,1708.4L172.4,1709.5L175.2,1710.8L178.1,1712.4L181.2,1714.4L184.5,1716.5L187.9,1718.6L191.4,1720.5L195.1,1722L198.9,1723.1L203,1723.9L207.2,1724.4L211.4,1725L215.7,1725.6L219.9,1726.5L224.2,1728L228.6,1730L233,1732L237.2,1733.9L241.2,1735.2L244.8,1735.5L247.9,1734.9L250.7,1733.5L253.2,1731.5L255.5,1729.1L257.6,1726.7L259.7,1724.3L261.5,1721.9L262.9,1719.2L264.1,1716.4L265.4,1713.6L267.2,1711L269.7,1708.5L273.1,1706.5L277.2,1704.6L281.8,1702.9L286.4,1701.2L290.8,1699.4L294.6,1697.3L297.7,1694.8L300.4,1692L302.9,1689.1L305.2,1686.3L307.4,1683.7L309.5,1681.5L311.4,1679.8L313.2,1678.2L314.8,1676.9L316.3,1675.9L317.8,1675.2L319.4,1674.8L321,1674.7L322.6,1674.8L324.1,1675.2L325.7,1676L327.4,1677.4L329.4,1679.3L331.6,1682.1L334,1685.6L336.5,1689.7L339.1,1694L341.8,1698.1L344.3,1701.8L346.8,1705.3L349.3,1708.9L351.8,1712.3L354.2,1715.5L356.7,1718L359.2,1719.8L361.7,1720.6L364.2,1720.7L366.7,1720.2L369.2,1719.4L371.7,1718.4L374.1,1717.5L376.6,1716.8L379.1,1715.9L381.6,1714.9L384.1,1713.7L386.6,1712.4L389.1,1710.8L391.5,1708.9L393.9,1706.5L396.2,1704L398.7,1701.5L401.2,1699.2L404,1697.3L407,1695.8L410.3,1694.6L413.6,1693.6L417.1,1692.7L420.5,1691.7L423.9,1690.5L427.4,1689.1L431.3,1687.4L435.1,1685.6L438.6,1684L441.6,1682.6L443.8,1681.5"/></defs>
<use href="#cv2" fill="none" stroke="#0b6437" stroke-opacity="0.28" stroke-width="7" stroke-linejoin="round"/>
<use href="#cv2" fill="none" stroke="#0b6437" stroke-width="2.2" stroke-linejoin="round"/>
<defs><path id="cv3" d="M145.3,1708.5L148.5,1709.2L153,1710L158.4,1711.1L164.1,1712.3L169.8,1713.7L175.2,1715.3L180.2,1717L185.5,1718.8L190.7,1720.8L195.8,1723L200.6,1725.7L205,1728.8L208.9,1732.7L212.4,1737.4L215.6,1742.5L218.6,1747.6L221.7,1752.1L224.9,1755.8L228.2,1758.7L231.5,1761.1L234.9,1763.1L238.2,1764.5L241.5,1765.4L244.8,1765.7L248.2,1765.6L251.6,1765.2L255.1,1764.2L258.4,1762.4L261.7,1759.7L264.7,1755.8L267.5,1750.6L270,1744.2L272.5,1736.9L274.8,1728.8L277.2,1720L279.6,1710.8L282.2,1700.7L284.8,1689.6L287.4,1677.9L289.9,1666L292.4,1654.3L294.6,1643.3L296.5,1632.7L298.2,1622L299.8,1611.5L301.4,1601.6L302.9,1592.6L304.5,1584.8L306.2,1578L307.8,1571.8L309.5,1566.5L311.1,1562.3L312.8,1559.3L314.4,1557.8L316.1,1557.9L317.6,1559.5L319.1,1562.3L320.7,1566.1L322.5,1570.7L324.4,1575.8L326.6,1581.7L329,1588.8L331.6,1596.6L334.2,1604.8L336.8,1613L339.3,1620.8L341.8,1628.2L344.3,1635.5L346.8,1642.7L349.3,1650.1L351.8,1657.8L354.2,1665.8L356.7,1674.6L359.2,1684.3L361.7,1694.2L364.2,1703.8L366.7,1712.5L369.2,1719.8L371.7,1725.5L374.1,1730L376.6,1733.6L379.1,1736.6L381.6,1739.4L384.1,1742.3L386.6,1745.3L389.1,1748L391.6,1750.6L394,1752.8L396.5,1754.6L399,1755.8L401.5,1756.4L404,1756.5L406.5,1756.1L409,1755.4L411.5,1754.5L413.9,1753.5L416.4,1752.5L418.9,1751.3L421.4,1749.9L423.9,1748.3L426.4,1746.5L428.9,1744.5L431.5,1742.1L434.4,1739.2L437.3,1736.1L439.9,1733.1L442.2,1730.6L443.8,1728.8"/></defs>
<use href="#cv3" fill="none" stroke="#77a938" stroke-opacity="0.28" stroke-width="7" stroke-linejoin="round"/>
<use href="#cv3" fill="none" stroke="#77a938" stroke-width="2.2" stroke-linejoin="round"/>
<defs><path id="cv4" d="M145.3,1713L147.5,1712.4L150.5,1711.5L154,1710.4L157.8,1709.4L161.7,1708.7L165.2,1708.5L168.5,1708.8L171.8,1709.4L175.2,1710.2L178.5,1711.5L181.8,1713.1L185.1,1715.3L188.4,1718L191.7,1721.1L195.1,1724.7L198.4,1728.7L201.7,1733.1L205,1737.8L208.3,1742.9L211.6,1748.5L214.9,1754.4L218.3,1760.6L221.6,1767.1L224.9,1773.8L228.3,1781.4L231.7,1790L235.2,1798.8L238.5,1807.1L241.8,1814.1L244.8,1818.8L247.6,1821.2L250.1,1821.8L252.6,1821L254.9,1819.3L257.3,1816.9L259.7,1814.3L262.2,1811.4L264.7,1808L267.2,1803.9L269.7,1799.1L272.2,1793.6L274.6,1787.3L277.2,1780L279.8,1771.8L282.4,1762.8L285,1753.3L287.4,1743.4L289.6,1733.3L291.5,1723L293.1,1712.3L294.6,1701.2L296,1689.8L297.6,1678L299.5,1665.8L301.7,1652.4L304.1,1637.7L306.7,1622.6L309.3,1608.1L311.9,1595.2L314.4,1584.8L316.9,1577.1L319.4,1571.2L321.9,1566.9L324.4,1563.9L326.9,1561.7L329.4,1560L331.9,1558.9L334.4,1558.5L336.8,1559.1L339.3,1560.5L341.8,1563.1L344.3,1566.8L346.8,1571.8L349.3,1578L351.8,1585.2L354.2,1593.4L356.7,1602.3L359.2,1611.8L361.7,1622.4L364.2,1634.5L366.7,1647.2L369.2,1660.1L371.7,1672.5L374.1,1683.8L376.6,1694.1L379.1,1704L381.6,1713.3L384.1,1722.1L386.6,1730.3L389.1,1737.8L391.6,1744.6L394,1750.7L396.5,1756.2L399,1761.1L401.5,1765.5L404,1769.3L406.5,1772.6L409,1775.2L411.5,1777.3L413.9,1778.9L416.4,1780L418.9,1780.5L421.5,1780.5L424.1,1779.7L426.7,1778.4L429.2,1776.9L431.7,1775.3L433.8,1773.8L435.9,1772.3L437.9,1770.6L439.8,1768.9L441.4,1767.2L442.8,1765.8L443.8,1764.8"/></defs>
<use href="#cv4" fill="none" stroke="#a17d46" stroke-opacity="0.28" stroke-width="7" stroke-linejoin="round"/>
<use href="#cv4" fill="none" stroke="#a17d46" stroke-width="2.2" stroke-linejoin="round"/>
<text x="79.8" y="1731.39" font-size="25.71" fill="#1d1d1b" transform="rotate(-90 79.8 1731.39)">tPC (a.u.)</text>
<text x="250.23" y="1868.4" font-size="28.27" fill="#1d1d1b">Time (s)</text>
<line x1="152.8" y1="1536" x2="173.4" y2="1536" stroke="#c5522b" stroke-width="2.4"/>
<text x="178.59" y="1541.7" font-size="17.58" fill="#1d1d1b">PC1</text>
<line x1="219" y1="1536" x2="239.3" y2="1536" stroke="#77a938" stroke-width="2.4"/>
<text x="244.55" y="1541.7" font-size="18.08" fill="#1d1d1b">PC3</text>
<line x1="152.8" y1="1559.7" x2="173.4" y2="1559.7" stroke="#0b6437" stroke-width="2.4"/>
<text x="178.55" y="1565.5" font-size="18.18" fill="#1d1d1b">PC2</text>
<line x1="219" y1="1559.7" x2="239.3" y2="1559.7" stroke="#a17d46" stroke-width="2.4"/>
<text x="244.56" y="1565.5" font-size="17.98" fill="#1d1d1b">PC4</text>
<rect x="153.3" y="1579" width="19.2" height="8.5" fill="#9a9a9a"/>
<text x="179.18" y="1590.4" font-size="18.31" fill="#1d1d1b">95% CI</text>
<text x="179.29" y="1610.5" font-size="17.64" fill="#1d1d1b">of null control</text>
<line x1="570.4" y1="1528" x2="570.4" y2="1801.6" stroke="#231815" stroke-width="1.6"/>
<line x1="570.4" y1="1801.6" x2="871" y2="1801.6" stroke="#231815" stroke-width="1.6"/>
<line x1="562.4" y1="1530.2" x2="570.4" y2="1530.2" stroke="#231815" stroke-width="1.4"/>
<text x="521.16" y="1538" font-size="21.5" fill="#1d1d1b">0.4</text>
<line x1="562.4" y1="1576" x2="570.4" y2="1576" stroke="#231815" stroke-width="1.4"/>
<text x="521.59" y="1583.8" font-size="21.5" fill="#1d1d1b">0.2</text>
<line x1="562.4" y1="1621" x2="570.4" y2="1621" stroke="#231815" stroke-width="1.4"/>
<text x="539.22" y="1628.8" font-size="21.5" fill="#1d1d1b">0</text>
<line x1="562.4" y1="1665.8" x2="570.4" y2="1665.8" stroke="#231815" stroke-width="1.4"/>
<text x="514.5" y="1673.6" font-size="21.5" fill="#1d1d1b">-0.2</text>
<line x1="562.4" y1="1710.8" x2="570.4" y2="1710.8" stroke="#231815" stroke-width="1.4"/>
<text x="514.07" y="1718.6" font-size="21.5" fill="#1d1d1b">-0.4</text>
<line x1="562.4" y1="1755.8" x2="570.4" y2="1755.8" stroke="#231815" stroke-width="1.4"/>
<text x="514.28" y="1763.6" font-size="21.5" fill="#1d1d1b">-0.6</text>
<line x1="562.4" y1="1801" x2="570.4" y2="1801" stroke="#231815" stroke-width="1.4"/>
<text x="514.28" y="1808.8" font-size="21.5" fill="#1d1d1b">-0.8</text>
<line x1="570.4" y1="1801.6" x2="570.4" y2="1809.6" stroke="#231815" stroke-width="1.4"/>
<line x1="620.13" y1="1801.6" x2="620.13" y2="1809.6" stroke="#231815" stroke-width="1.4"/>
<line x1="669.86" y1="1801.6" x2="669.86" y2="1809.6" stroke="#231815" stroke-width="1.4"/>
<line x1="719.59" y1="1801.6" x2="719.59" y2="1809.6" stroke="#231815" stroke-width="1.4"/>
<line x1="769.32" y1="1801.6" x2="769.32" y2="1809.6" stroke="#231815" stroke-width="1.4"/>
<line x1="819.05" y1="1801.6" x2="819.05" y2="1809.6" stroke="#231815" stroke-width="1.4"/>
<line x1="868.78" y1="1801.6" x2="868.78" y2="1809.6" stroke="#231815" stroke-width="1.4"/>
<line x1="719.6" y1="1517" x2="719.6" y2="1801.6" stroke="#555" stroke-width="1.1" stroke-dasharray="3,3"/>
<rect x="570.4" y="1613.5" width="298.5" height="15" fill="#c9c9c9"/>
<line x1="570.4" y1="1621" x2="868.9" y2="1621" stroke="#555" stroke-width="1.1" stroke-dasharray="4,3"/>
<defs><path id="cv5" d="M570.4,1627.8L573.1,1628.2L576.8,1628.8L581.3,1629.4L586.1,1630.1L590.8,1630.7L595.3,1631.1L599.4,1631.3L603.6,1631.5L607.7,1631.5L611.9,1631.4L616,1631.3L620.1,1631.1L624.3,1630.9L628.4,1630.8L632.6,1630.5L636.7,1630.1L640.9,1629.6L645,1628.9L649.2,1628L653.5,1627L657.8,1625.8L662,1624.4L666,1622.8L669.9,1621L673.6,1618.9L677.1,1616.4L680.5,1613.8L683.7,1611L686.8,1608.1L689.8,1605.2L692.7,1602.2L695.5,1599L698.2,1595.7L700.7,1592.5L702.9,1589.6L704.7,1587.2L706.1,1585.4L707.1,1583.8L707.8,1582.6L708.4,1581.7L709,1581L709.7,1580.5L710.5,1580.1L711.2,1579.7L711.9,1579.5L712.6,1579.8L713.6,1580.8L714.7,1582.8L716,1585.8L717.6,1590L719.3,1594.8L721.1,1600L722.9,1605.1L724.6,1609.8L726.3,1614.2L727.9,1618.7L729.6,1623.1L731.3,1627.3L732.9,1631.2L734.6,1634.5L736.2,1637.3L737.9,1639.8L739.5,1641.8L741.2,1643.5L742.9,1644.8L744.5,1645.8L746.1,1646.3L747.7,1646.3L749.2,1646L750.8,1645.4L752.5,1644.6L754.5,1643.5L756.6,1642.1L758.7,1640.4L761,1638.4L763.5,1636.3L766.3,1634.2L769.4,1632.2L773,1630.3L777,1628.3L781.2,1626.3L785.6,1624.4L790,1622.6L794.3,1621L798.4,1619.6L802.6,1618.2L806.7,1617.1L810.9,1616L815,1615.1L819.1,1614.2L823.3,1613.6L827.4,1613.2L831.6,1613L835.7,1612.8L839.9,1612.5L844,1612L848.5,1611.3L853.2,1610.5L858,1609.6L862.5,1608.8L866.2,1608L868.9,1607.5"/></defs>
<use href="#cv5" fill="none" stroke="#c5522b" stroke-opacity="0.28" stroke-width="5" stroke-linejoin="round"/>
<use href="#cv5" fill="none" stroke="#c5522b" stroke-width="2.2" stroke-linejoin="round"/>
<defs><path id="cv6" d="M570.4,1616.5L573.2,1616.2L577,1615.9L581.6,1615.4L586.4,1614.9L591.1,1614.1L595.3,1613.1L598.9,1611.8L602.5,1610L605.8,1608.1L609.1,1606.2L612.2,1604.4L615.2,1603L617.9,1601.8L620.3,1600.8L622.6,1600L624.9,1599.3L627.4,1598.8L630.1,1598.5L633.1,1598.5L636.4,1598.8L639.7,1599.3L643.2,1599.9L646.6,1600.4L650,1600.8L653.3,1601L656.6,1601.2L659.9,1601.3L663.3,1601.3L666.6,1601.2L669.9,1600.8L673.3,1599.9L676.9,1598.7L680.5,1597.2L683.9,1595.8L687.1,1594.7L689.8,1594L692,1593.6L693.9,1593.2L695.4,1593.2L696.8,1593.5L698.2,1594.5L699.8,1596.2L701.4,1599L703.1,1602.8L704.7,1607.1L706.4,1611.8L708,1616.5L709.7,1621L711.4,1625.5L713,1630.2L714.7,1634.9L716.3,1639.6L718,1644L719.6,1648L721.3,1652.1L723,1656.5L724.6,1660.7L726.3,1664L727.9,1666L729.6,1666L731.3,1663.7L732.9,1659.3L734.6,1653.6L736.2,1647.2L737.9,1640.6L739.5,1634.5L741.2,1628.4L742.9,1621.8L744.5,1615L746.2,1608.5L747.8,1602.9L749.5,1598.5L751.1,1595.5L752.6,1593.6L754.2,1592.5L755.8,1591.9L757.5,1591.8L759.4,1591.8L761.6,1592L764.1,1592.8L766.6,1594L769.2,1595.4L771.8,1597L774.4,1598.5L776.8,1600.1L779.2,1601.8L781.5,1603.7L784,1605.7L786.5,1607.7L789.3,1609.8L792.3,1612L795.6,1614.4L798.9,1616.9L802.4,1619.3L805.8,1621.5L809.2,1623.2L812.5,1624.6L815.6,1625.6L818.8,1626.3L822.1,1626.9L825.5,1627.4L829.1,1627.8L833.1,1628L837.4,1628.2L841.8,1628.2L846.2,1628.1L850.3,1627.9L854,1627.8L857.2,1627.5L860.2,1627.1L863,1626.6L865.4,1626.2L867.4,1625.8L868.9,1625.5"/></defs>
<use href="#cv6" fill="none" stroke="#0b6437" stroke-opacity="0.28" stroke-width="5" stroke-linejoin="round"/>
<use href="#cv6" fill="none" stroke="#0b6437" stroke-width="2.2" stroke-linejoin="round"/>
<defs><path id="cv7" d="M570.4,1616.5L573.1,1615.5L576.8,1614.2L581.3,1612.7L586.1,1611L590.8,1609.2L595.3,1607.5L599.5,1605.7L603.8,1603.6L608,1601.5L612.2,1599.4L616.3,1597.6L620.1,1596.2L623.8,1595.5L627.2,1595.2L630.4,1595.1L633.6,1595.1L636.8,1594.8L640,1594L643.4,1592.6L646.7,1590.8L650,1588.8L653.3,1586.7L656.6,1584.6L659.9,1582.8L663.3,1581L666.8,1579.3L670.2,1577.7L673.6,1576.2L676.8,1574.8L679.8,1573.8L682.7,1572.9L685.5,1572.2L688.1,1571.6L690.5,1571.3L692.8,1571.3L694.8,1571.5L696.5,1571.8L697.8,1572.2L699,1572.8L700,1573.8L701.1,1575.6L702.2,1578.2L703.5,1581.8L704.6,1586L705.8,1590.9L707,1596.5L708.3,1602.8L709.7,1609.8L711.2,1617.8L712.8,1626.9L714.5,1636.8L716.2,1646.8L718,1656.7L719.6,1666L721.4,1675.1L723.2,1684.4L724.9,1693.6L726.7,1702.1L728.2,1709.5L729.6,1715.5L730.7,1720L731.4,1723.2L732.1,1725.5L732.7,1726.8L733.5,1727.1L734.6,1726.8L735.9,1725.4L737.3,1723.1L738.9,1719.9L740.7,1715.9L742.5,1711.4L744.5,1706.5L746.7,1701L748.9,1694.7L751.4,1687.8L753.9,1680.6L756.6,1673.2L759.4,1666L762.5,1658.6L765.7,1650.7L769.1,1642.7L772.5,1634.8L776,1627.5L779.3,1621L782.7,1615.2L786.2,1609.9L789.6,1605.1L793,1600.8L796.2,1597.1L799.2,1594L802,1591.6L804.4,1589.8L806.7,1588.7L809,1587.9L811.5,1587.5L814.2,1587.2L817,1587.3L819.9,1587.7L822.9,1588.4L826.2,1589.3L829.8,1590.5L834.1,1591.8L839.4,1593.4L845.9,1595.4L852.7,1597.7L859.3,1599.8L864.9,1601.7L868.9,1603"/></defs>
<use href="#cv7" fill="none" stroke="#77a938" stroke-opacity="0.28" stroke-width="5" stroke-linejoin="round"/>
<use href="#cv7" fill="none" stroke="#77a938" stroke-width="2.2" stroke-linejoin="round"/>
<defs><path id="cv8" d="M570.4,1627.8L573.1,1627.3L576.8,1626.8L581.3,1626.2L586.1,1625.4L590.8,1624.4L595.3,1623.2L599.4,1621.8L603.6,1620.1L607.7,1618.2L611.9,1616.2L616,1614.1L620.1,1612L624.3,1610L628.4,1608.2L632.6,1606.2L636.7,1604.1L640.9,1601.6L645,1598.5L649.3,1594.7L653.7,1590.2L658.1,1585.4L662.3,1580.5L666.3,1575.8L669.9,1571.5L673,1567.6L675.8,1563.8L678.3,1560.2L680.6,1556.9L682.7,1553.9L684.8,1551.2L686.8,1548.9L688.5,1546.7L690.1,1544.8L691.6,1543.3L693.2,1542.4L694.8,1542.2L696.4,1542.4L698.1,1542.8L699.8,1543.8L701.4,1545.7L703.1,1548.8L704.7,1553.5L706.4,1559.9L708,1567.7L709.7,1576.7L711.4,1586.8L713,1597.9L714.7,1609.8L716.3,1623.2L718,1638.7L719.6,1655L721.3,1671.3L723,1686.6L724.6,1699.8L726.3,1711L727.9,1721.2L729.6,1730.3L731.3,1738.3L732.9,1745.4L734.6,1751.5L736.2,1756.5L737.9,1760.2L739.5,1763L741.2,1765L742.9,1766.3L744.5,1767.2L746.1,1768L747.7,1768.4L749.2,1768.2L750.8,1767.1L752.5,1764.6L754.5,1760.5L756.7,1754.2L759.1,1745.9L761.6,1736.3L764.2,1726.1L766.9,1715.9L769.4,1706.5L771.9,1697.5L774.4,1688.4L776.9,1679.4L779.3,1670.6L781.8,1662.3L784.3,1654.8L786.8,1647.9L789.1,1641.6L791.5,1635.8L793.9,1630.4L796.5,1625.5L799.2,1621L802.3,1617.1L805.5,1613.8L808.9,1610.9L812.3,1608.2L815.8,1605.7L819.1,1603L822.5,1600.1L826,1597.2L829.4,1594.3L832.8,1591.6L836,1589.2L839,1587.2L841.8,1585.8L844.4,1584.7L846.8,1583.9L849.2,1583.3L851.5,1583L854,1582.8L856.6,1582.8L859.5,1583.1L862.4,1583.6L865,1584.2L867.3,1584.7L868.9,1585"/></defs>
<use href="#cv8" fill="none" stroke="#a17d46" stroke-opacity="0.28" stroke-width="5" stroke-linejoin="round"/>
<use href="#cv8" fill="none" stroke="#a17d46" stroke-width="2.2" stroke-linejoin="round"/>
<line x1="1001.8" y1="1528" x2="1001.8" y2="1801.6" stroke="#231815" stroke-width="1.6"/>
<line x1="1001.8" y1="1801.6" x2="1302.4" y2="1801.6" stroke="#231815" stroke-width="1.6"/>
<line x1="993.8" y1="1530.2" x2="1001.8" y2="1530.2" stroke="#231815" stroke-width="1.4"/>
<text x="952.77" y="1538" font-size="21.5" fill="#1d1d1b">1.5</text>
<line x1="993.8" y1="1576" x2="1001.8" y2="1576" stroke="#231815" stroke-width="1.4"/>
<text x="952.67" y="1583.8" font-size="21.5" fill="#1d1d1b">1.0</text>
<line x1="993.8" y1="1621" x2="1001.8" y2="1621" stroke="#231815" stroke-width="1.4"/>
<text x="952.77" y="1628.8" font-size="21.5" fill="#1d1d1b">0.5</text>
<line x1="993.8" y1="1665.8" x2="1001.8" y2="1665.8" stroke="#231815" stroke-width="1.4"/>
<text x="970.62" y="1673.6" font-size="21.5" fill="#1d1d1b">0</text>
<line x1="993.8" y1="1710.8" x2="1001.8" y2="1710.8" stroke="#231815" stroke-width="1.4"/>
<text x="952.77" y="1718.6" font-size="21.5" fill="#1d1d1b">0.5</text>
<line x1="993.8" y1="1755.8" x2="1001.8" y2="1755.8" stroke="#231815" stroke-width="1.4"/>
<text x="945.57" y="1763.6" font-size="21.5" fill="#1d1d1b">-1.0</text>
<line x1="993.8" y1="1801" x2="1001.8" y2="1801" stroke="#231815" stroke-width="1.4"/>
<text x="945.68" y="1808.8" font-size="21.5" fill="#1d1d1b">-1.5</text>
<line x1="1001.8" y1="1801.6" x2="1001.8" y2="1809.6" stroke="#231815" stroke-width="1.4"/>
<line x1="1051.53" y1="1801.6" x2="1051.53" y2="1809.6" stroke="#231815" stroke-width="1.4"/>
<line x1="1101.26" y1="1801.6" x2="1101.26" y2="1809.6" stroke="#231815" stroke-width="1.4"/>
<line x1="1150.99" y1="1801.6" x2="1150.99" y2="1809.6" stroke="#231815" stroke-width="1.4"/>
<line x1="1200.72" y1="1801.6" x2="1200.72" y2="1809.6" stroke="#231815" stroke-width="1.4"/>
<line x1="1250.45" y1="1801.6" x2="1250.45" y2="1809.6" stroke="#231815" stroke-width="1.4"/>
<line x1="1300.18" y1="1801.6" x2="1300.18" y2="1809.6" stroke="#231815" stroke-width="1.4"/>
<line x1="1151" y1="1517" x2="1151" y2="1801.6" stroke="#555" stroke-width="1.1" stroke-dasharray="3,3"/>
<rect x="1001.8" y="1649.8" width="298.5" height="32" fill="#c9c9c9"/>
<line x1="1001.8" y1="1665.8" x2="1300.3" y2="1665.8" stroke="#555" stroke-width="1.1" stroke-dasharray="4,3"/>
<defs><path id="cv9" d="M1001.8,1634.3L1004,1634.8L1007,1635.6L1010.5,1636.5L1014.3,1637.3L1018.2,1637.8L1021.7,1637.9L1025,1637.5L1028.3,1636.6L1031.6,1635.5L1035,1634.3L1038.3,1632.9L1041.6,1631.6L1044.9,1630.3L1048.2,1629.1L1051.5,1627.8L1054.9,1626.3L1058.2,1624.6L1061.5,1622.6L1064.8,1620.1L1068.1,1617L1071.5,1613.8L1074.8,1610.6L1078.1,1607.7L1081.4,1605.5L1084.7,1604L1087.8,1603.1L1091,1602.5L1094.3,1602L1097.7,1601.6L1101.3,1601L1105.2,1600.2L1109.2,1599.4L1113.4,1598.5L1117.7,1597.7L1122,1597L1126.2,1596.5L1130.4,1596.2L1134.7,1596L1138.9,1595.9L1143.1,1595.8L1147.2,1595.8L1151,1595.6L1154.7,1595.4L1158.1,1595.3L1161.3,1595.2L1164.5,1595L1167.7,1594.5L1170.9,1593.8L1174.3,1592.7L1177.6,1591.4L1180.9,1589.9L1184.2,1588.2L1187.5,1586.5L1190.8,1584.8L1194.2,1583.1L1197.5,1581.3L1200.8,1579.5L1204.1,1577.6L1207.4,1575.8L1210.8,1574L1214.1,1572.3L1217.4,1570.5L1220.7,1568.8L1224,1567.1L1227.3,1565.5L1230.6,1564.1L1233.9,1562.9L1237.1,1561.8L1240.3,1560.9L1243.5,1560L1246.9,1559L1250.5,1557.8L1254.4,1556.3L1258.5,1554.6L1262.7,1552.8L1266.9,1551.1L1271.2,1549.7L1275.4,1548.8L1279.9,1548.5L1284.6,1548.7L1289.4,1549.1L1293.9,1549.7L1297.6,1550.3L1300.3,1550.6"/></defs>
<use href="#cv9" fill="none" stroke="#c5522b" stroke-opacity="0.28" stroke-width="11" stroke-linejoin="round"/>
<use href="#cv9" fill="none" stroke="#c5522b" stroke-width="2.2" stroke-linejoin="round"/>
<defs><path id="cv10" d="M1001.8,1640.6L1005.2,1640.5L1009.9,1640.4L1015.5,1640.2L1021.3,1640L1026.9,1639.9L1031.6,1639.7L1035.5,1639.5L1038.8,1639.3L1041.9,1639L1044.9,1638.8L1048.1,1638.7L1051.5,1638.8L1055.4,1639.1L1059.5,1639.6L1063.7,1640.2L1067.9,1640.8L1072.2,1641.3L1076.4,1641.5L1080.7,1641.4L1085.1,1641L1089.5,1640.5L1093.7,1640.1L1097.7,1639.7L1101.3,1639.7L1104.4,1639.9L1107,1640.1L1109.4,1640.5L1111.6,1641.2L1113.9,1642.1L1116.2,1643.3L1118.7,1645L1121,1647.2L1123.4,1649.7L1125.8,1652.3L1128.4,1654.7L1131.1,1656.8L1134.2,1658.5L1137.6,1659.9L1141.1,1661.2L1144.6,1662.5L1148,1664L1151,1665.8L1153.9,1668.1L1156.6,1670.9L1159.1,1673.8L1161.6,1676.7L1163.8,1679.2L1166,1681.1L1167.9,1682.4L1169.7,1683.3L1171.3,1683.9L1172.8,1684.1L1174.3,1684.1L1175.9,1683.8L1177.5,1683.4L1179.1,1682.9L1180.6,1682.2L1182.2,1681L1183.9,1679.2L1185.9,1676.6L1188,1672.9L1190.3,1668L1192.7,1662.5L1195.3,1656.9L1198,1651.9L1200.8,1647.8L1203.8,1644.7L1207.1,1642.3L1210.4,1640.3L1213.9,1638.6L1217.3,1637.3L1220.7,1636.1L1224,1635.2L1227.3,1634.6L1230.6,1634.3L1234,1634.2L1237.3,1634.2L1240.6,1634.3L1243.9,1634.4L1247.2,1634.7L1250.5,1635.1L1253.9,1635.6L1257.2,1636.2L1260.5,1637L1263.8,1638L1267.1,1639.1L1270.4,1640.4L1273.8,1641.7L1277.1,1643L1280.4,1644.2L1283.9,1645.4L1287.8,1646.6L1291.6,1647.8L1295.1,1648.9L1298.1,1649.8L1300.3,1650.5"/></defs>
<use href="#cv10" fill="none" stroke="#0b6437" stroke-opacity="0.28" stroke-width="11" stroke-linejoin="round"/>
<use href="#cv10" fill="none" stroke="#0b6437" stroke-width="2.2" stroke-linejoin="round"/>
<defs><path id="cv11" d="M1001.8,1623.5L1003.3,1623.5L1005.3,1623.7L1007.7,1623.8L1010.5,1623.8L1013.5,1623.4L1016.7,1622.6L1020.4,1621L1024.5,1618.8L1028.9,1616.2L1033.3,1613.7L1037.6,1611.5L1041.6,1610L1045.3,1609.2L1048.8,1608.9L1052.2,1608.9L1055.4,1609.1L1058.5,1609.5L1061.5,1610L1064.3,1610.5L1066.8,1611.1L1069.3,1611.8L1071.6,1612.7L1074,1613.9L1076.4,1615.4L1078.9,1617.2L1081.4,1619.2L1083.9,1621.5L1086.4,1624.1L1088.9,1626.8L1091.3,1629.8L1093.8,1632.9L1096.1,1636.2L1098.5,1639.7L1100.9,1643.5L1103.5,1647.7L1106.3,1652.3L1109.3,1657.5L1112.5,1663.1L1115.9,1669.2L1119.4,1675.5L1122.8,1681.9L1126.2,1688.3L1129.5,1694.9L1133,1701.9L1136.4,1709L1139.8,1716L1143,1722.7L1146.1,1728.8L1148.9,1734.6L1151.6,1740.2L1154.2,1745.6L1156.6,1750.4L1158.9,1754.4L1161,1757.6L1162.8,1759.7L1164.3,1760.9L1165.7,1761.3L1167.1,1761.2L1168.8,1760.8L1170.9,1760.3L1173.7,1759.5L1176.8,1758.2L1180.3,1756.5L1183.8,1754.7L1187.4,1752.9L1190.8,1751.3L1194.2,1749.9L1197.5,1748.6L1200.8,1747.4L1204.1,1746L1207.4,1744.3L1210.8,1742.3L1214.1,1739.7L1217.4,1736.6L1220.7,1733.2L1224,1729.8L1227.3,1726.8L1230.6,1724.3L1233.9,1722.3L1237.1,1720.7L1240.3,1719.3L1243.5,1718.2L1246.9,1717.5L1250.5,1717.1L1254.4,1717.2L1258.5,1717.7L1262.7,1718.6L1266.9,1719.6L1271.2,1720.7L1275.4,1721.6L1279.9,1722.5L1284.6,1723.5L1289.4,1724.6L1293.9,1725.6L1297.6,1726.4L1300.3,1727"/></defs>
<use href="#cv11" fill="none" stroke="#77a938" stroke-opacity="0.28" stroke-width="11" stroke-linejoin="round"/>
<use href="#cv11" fill="none" stroke="#77a938" stroke-width="2.2" stroke-linejoin="round"/>
<defs><path id="cv12" d="M1001.8,1622.6L1004.5,1621.9L1008.2,1621.1L1012.7,1620L1017.5,1618.8L1022.2,1617.6L1026.7,1616.3L1030.9,1615L1035.2,1613.8L1039.4,1612.5L1043.6,1611L1047.7,1609.3L1051.5,1607.3L1055.2,1604.8L1058.6,1601.8L1061.8,1598.5L1065,1595.3L1068.2,1592.5L1071.5,1590.2L1074.7,1588.5L1077.9,1587.2L1081.1,1586.1L1084.3,1585.4L1087.7,1585L1091.3,1584.8L1095.2,1585L1099.3,1585.6L1103.5,1586.5L1107.7,1587.6L1112,1588.5L1116.2,1589.3L1120.5,1589.9L1124.9,1590.5L1129.3,1591.1L1133.5,1591.6L1137.5,1591.9L1141.1,1592L1144.1,1591.8L1146.6,1591.2L1148.9,1590.5L1151,1589.8L1153.4,1589.3L1156,1589.3L1159.1,1589.9L1162.3,1591L1165.7,1592.3L1169.1,1593.6L1172.6,1594.5L1175.9,1594.7L1179.2,1594L1182.4,1592.5L1185.6,1590.6L1188.8,1588.8L1192.2,1587.3L1195.8,1586.6L1199.6,1586.7L1203.6,1587.5L1207.6,1588.6L1211.9,1589.8L1216.2,1591L1220.7,1592L1225.4,1592.8L1230.5,1593.5L1235.6,1594.2L1240.8,1594.9L1245.8,1595.3L1250.5,1595.6L1255,1595.5L1259.2,1595L1263.3,1594.4L1267.3,1593.8L1271.3,1593.5L1275.4,1593.8L1279.9,1594.8L1284.6,1596.3L1289.4,1598.2L1293.9,1600.1L1297.6,1601.7L1300.3,1602.8"/></defs>
<use href="#cv12" fill="none" stroke="#a17d46" stroke-opacity="0.28" stroke-width="11" stroke-linejoin="round"/>
<use href="#cv12" fill="none" stroke="#a17d46" stroke-width="2.2" stroke-linejoin="round"/>
<line x1="1434.4" y1="1528" x2="1434.4" y2="1801.6" stroke="#231815" stroke-width="1.6"/>
<line x1="1434.4" y1="1801.6" x2="1735" y2="1801.6" stroke="#231815" stroke-width="1.6"/>
<line x1="1426.4" y1="1530.2" x2="1434.4" y2="1530.2" stroke="#231815" stroke-width="1.4"/>
<text x="1385.38" y="1538" font-size="21.5" fill="#1d1d1b">1.5</text>
<line x1="1426.4" y1="1576" x2="1434.4" y2="1576" stroke="#231815" stroke-width="1.4"/>
<text x="1385.27" y="1583.8" font-size="21.5" fill="#1d1d1b">1.0</text>
<line x1="1426.4" y1="1621" x2="1434.4" y2="1621" stroke="#231815" stroke-width="1.4"/>
<text x="1385.38" y="1628.8" font-size="21.5" fill="#1d1d1b">0.5</text>
<line x1="1426.4" y1="1665.8" x2="1434.4" y2="1665.8" stroke="#231815" stroke-width="1.4"/>
<text x="1403.22" y="1673.6" font-size="21.5" fill="#1d1d1b">0</text>
<line x1="1426.4" y1="1710.8" x2="1434.4" y2="1710.8" stroke="#231815" stroke-width="1.4"/>
<text x="1385.38" y="1718.6" font-size="21.5" fill="#1d1d1b">0.5</text>
<line x1="1426.4" y1="1755.8" x2="1434.4" y2="1755.8" stroke="#231815" stroke-width="1.4"/>
<text x="1378.17" y="1763.6" font-size="21.5" fill="#1d1d1b">-1.0</text>
<line x1="1426.4" y1="1801" x2="1434.4" y2="1801" stroke="#231815" stroke-width="1.4"/>
<text x="1378.28" y="1808.8" font-size="21.5" fill="#1d1d1b">-1.5</text>
<line x1="1434.4" y1="1801.6" x2="1434.4" y2="1809.6" stroke="#231815" stroke-width="1.4"/>
<line x1="1484.13" y1="1801.6" x2="1484.13" y2="1809.6" stroke="#231815" stroke-width="1.4"/>
<line x1="1533.86" y1="1801.6" x2="1533.86" y2="1809.6" stroke="#231815" stroke-width="1.4"/>
<line x1="1583.59" y1="1801.6" x2="1583.59" y2="1809.6" stroke="#231815" stroke-width="1.4"/>
<line x1="1633.32" y1="1801.6" x2="1633.32" y2="1809.6" stroke="#231815" stroke-width="1.4"/>
<line x1="1683.05" y1="1801.6" x2="1683.05" y2="1809.6" stroke="#231815" stroke-width="1.4"/>
<line x1="1732.78" y1="1801.6" x2="1732.78" y2="1809.6" stroke="#231815" stroke-width="1.4"/>
<line x1="1583.6" y1="1517" x2="1583.6" y2="1801.6" stroke="#555" stroke-width="1.1" stroke-dasharray="3,3"/>
<rect x="1434.4" y="1650" width="298.5" height="32" fill="#c9c9c9"/>
<line x1="1434.4" y1="1666" x2="1732.9" y2="1666" stroke="#555" stroke-width="1.1" stroke-dasharray="4,3"/>
<defs><path id="cv13" d="M1434.4,1601.2L1437.1,1601.3L1440.8,1601.5L1445.3,1601.7L1450.1,1601.7L1454.8,1601.6L1459.3,1601.2L1463.4,1600.4L1467.6,1599.3L1471.7,1598L1475.9,1596.6L1480,1595.2L1484.2,1594L1488.4,1592.8L1492.6,1591.6L1496.9,1590.5L1501.1,1589.4L1505.2,1588.4L1509,1587.7L1512.6,1587.3L1515.8,1587.2L1519,1587.2L1522.1,1587.3L1525.4,1587.2L1528.9,1586.8L1532.8,1586L1536.8,1585L1541.1,1583.9L1545.3,1582.7L1549.6,1581.5L1553.8,1580.5L1558.1,1579.5L1562.6,1578.4L1567.2,1577.3L1571.5,1576.4L1575.4,1575.9L1578.7,1576L1581.2,1576.4L1583.1,1577L1584.6,1578L1585.9,1579.5L1587.1,1581.8L1588.6,1585L1590.3,1589.3L1591.9,1594.7L1593.6,1600.8L1595.3,1607.3L1596.9,1614.2L1598.6,1621L1600.2,1628.2L1601.9,1636L1603.6,1644.1L1605.2,1652L1606.9,1659.4L1608.5,1666L1610.2,1671.8L1611.8,1677.1L1613.5,1682L1615.2,1686.3L1616.8,1690L1618.5,1693L1620,1695.3L1621.4,1696.9L1622.8,1697.8L1624.4,1698.3L1626.2,1698.5L1628.4,1698.4L1631.2,1698L1634.3,1697L1637.8,1695.7L1641.3,1694.2L1644.9,1692.7L1648.3,1691.2L1651.6,1689.8L1654.8,1688.2L1658,1686.5L1661.2,1684.9L1664.6,1683.5L1668.2,1682.2L1671.9,1681.2L1675.6,1680.3L1679.4,1679.6L1683.5,1678.9L1688,1678.3L1693.1,1677.7L1699.3,1677.1L1706.7,1676.6L1714.6,1676.1L1722,1675.6L1728.4,1675.3L1732.9,1675"/></defs>
<use href="#cv13" fill="none" stroke="#c5522b" stroke-opacity="0.28" stroke-width="11" stroke-linejoin="round"/>
<use href="#cv13" fill="none" stroke="#c5522b" stroke-width="2.2" stroke-linejoin="round"/>
<defs><path id="cv14" d="M1434.4,1672.3L1436.5,1671.6L1439.4,1670.4L1442.8,1669L1446.6,1667.9L1450.5,1667.4L1454.3,1667.8L1458.3,1669.4L1462.6,1672.1L1467,1675.3L1471.4,1678.7L1475.5,1681.7L1479.2,1684L1482.1,1685.6L1484.3,1686.9L1486.3,1687.9L1488.4,1688.6L1490.9,1688.8L1494.1,1688.5L1498.3,1687.4L1503.3,1685.6L1508.7,1683.3L1514.2,1680.9L1519.4,1678.9L1524,1677.7L1527.8,1677.3L1531.1,1677.5L1534.2,1678.1L1537.2,1678.8L1540.4,1679.3L1543.9,1679.5L1547.8,1679.1L1552.1,1678.4L1556.6,1677.5L1561,1676.8L1565.1,1676.5L1568.7,1676.8L1571.8,1677.8L1574.5,1679.2L1577,1681L1579.2,1683.1L1581.4,1685.7L1583.7,1688.5L1585.9,1692.2L1588.2,1697L1590.3,1702.1L1592.4,1706.8L1594.3,1710.6L1596.1,1712.8L1597.6,1713.3L1598.9,1712.7L1600,1711.2L1601.1,1708.8L1602.2,1705.7L1603.6,1702L1605.1,1697.3L1606.7,1691.3L1608.4,1684.6L1610.1,1677.7L1611.8,1671.4L1613.5,1666L1615.2,1661.6L1616.8,1657.5L1618.5,1654L1620.1,1650.9L1621.8,1648.3L1623.5,1646.2L1625,1644.7L1626.4,1643.7L1627.8,1643.3L1629.3,1643.3L1631.2,1643.7L1633.4,1644.4L1636.1,1645.7L1639.3,1647.7L1642.7,1650.1L1646.3,1652.7L1649.9,1655L1653.3,1657L1656.6,1658.6L1659.7,1660L1662.9,1661.3L1666.2,1662.4L1669.6,1663.4L1673.2,1664.2L1676.9,1664.8L1680.8,1665.3L1684.7,1665.6L1688.9,1665.8L1693.3,1665.9L1698.1,1666L1703.7,1666L1710.2,1665.9L1717,1665.7L1723.5,1665.4L1729,1665.2L1732.9,1665.1"/></defs>
<use href="#cv14" fill="none" stroke="#0b6437" stroke-opacity="0.28" stroke-width="11" stroke-linejoin="round"/>
<use href="#cv14" fill="none" stroke="#0b6437" stroke-width="2.2" stroke-linejoin="round"/>
<defs><path id="cv15" d="M1434.4,1742.5L1437.1,1742.9L1440.8,1743.5L1445.3,1744.2L1450.1,1745L1454.8,1745.9L1459.3,1747L1463.4,1748.4L1467.6,1750.1L1471.7,1752L1475.9,1753.7L1480,1755.1L1484.2,1756L1488.3,1756.1L1492.4,1755.6L1496.6,1754.8L1500.7,1754L1504.9,1753.4L1509,1753.3L1513.2,1753.9L1517.3,1755.1L1521.5,1756.5L1525.6,1757.9L1529.8,1759L1533.9,1759.6L1538,1759.4L1542.2,1758.7L1546.3,1757.6L1550.5,1756.6L1554.6,1756L1558.8,1756L1563.1,1757L1567.6,1758.7L1572.1,1760.8L1576.5,1762.9L1580.4,1764.4L1583.7,1765L1586.2,1764.9L1588.1,1764.3L1589.6,1763.3L1590.8,1761.7L1592.1,1759.3L1593.6,1756L1595.3,1751.7L1596.9,1746.5L1598.6,1740.5L1600.2,1734L1601.9,1727.1L1603.6,1720L1605.2,1712.2L1606.9,1703.5L1608.5,1694.4L1610.2,1685.5L1611.8,1677.3L1613.5,1670.5L1615.2,1665L1616.8,1660.4L1618.5,1656.6L1620.1,1653.4L1621.8,1650.6L1623.5,1648L1625,1645.9L1626.4,1644.3L1627.8,1643.1L1629.3,1642.2L1631.2,1641.5L1633.4,1640.8L1636,1640.2L1638.9,1639.9L1642.1,1639.8L1645.6,1639.7L1649.3,1639.4L1653.3,1639L1657.8,1638.2L1662.7,1637L1667.9,1635.7L1673.2,1634.6L1678.3,1633.8L1683.2,1633.6L1687.6,1634.2L1691.8,1635.3L1695.9,1636.9L1699.9,1638.5L1703.9,1639.9L1708,1640.8L1712.5,1641.2L1717.2,1641.3L1722,1641.2L1726.5,1641.1L1730.2,1640.9L1732.9,1640.8"/></defs>
<use href="#cv15" fill="none" stroke="#77a938" stroke-opacity="0.28" stroke-width="11" stroke-linejoin="round"/>
<use href="#cv15" fill="none" stroke="#77a938" stroke-width="2.2" stroke-linejoin="round"/>
<defs><path id="cv16" d="M1434.4,1634.5L1437,1635.4L1440.5,1636.7L1444.7,1638.2L1449.3,1639.5L1454.3,1640.5L1459.3,1640.8L1464.6,1640.1L1470.3,1638.6L1476.4,1636.8L1482.5,1634.9L1488.5,1633.4L1494.1,1632.7L1499.4,1633L1504.4,1634.1L1509.3,1635.5L1514.2,1637L1519,1638.3L1524,1639L1528.9,1639.1L1533.9,1639L1538.9,1638.6L1543.9,1638L1548.8,1637.2L1553.8,1636.3L1559,1634.9L1564.5,1633L1570,1630.9L1575.2,1629L1579.8,1627.7L1583.7,1627.3L1586.5,1627.8L1588.4,1628.8L1589.9,1630.3L1591,1632.5L1592.2,1635.4L1593.6,1639L1595.3,1643.6L1596.9,1649.2L1598.6,1655.5L1600.2,1662.1L1601.9,1668.7L1603.6,1675L1605.2,1681.1L1606.9,1687.3L1608.5,1693.6L1610.2,1699.7L1611.8,1705.5L1613.5,1711L1615.2,1716.3L1616.9,1721.5L1618.6,1726.5L1620.3,1731L1621.9,1734.9L1623.5,1738L1624.8,1740.3L1625.9,1741.9L1627,1742.9L1628.1,1743.3L1629.4,1743.2L1630.9,1742.5L1632.6,1741.1L1634.4,1738.9L1636.4,1736.1L1638.5,1733.1L1640.8,1730L1643.4,1727.2L1646.2,1724.5L1649.4,1721.8L1652.8,1719.1L1656.3,1716.4L1659.8,1713.7L1663.2,1711L1666.5,1708.4L1669.7,1705.8L1672.9,1703.2L1676.1,1700.7L1679.5,1698.2L1683.2,1695.7L1687,1693.2L1691.1,1690.6L1695.3,1688L1699.5,1685.5L1703.8,1683.3L1708,1681.3L1712.5,1679.6L1717.2,1678.1L1722,1676.8L1726.5,1675.7L1730.2,1674.8L1732.9,1674.1"/></defs>
<use href="#cv16" fill="none" stroke="#a17d46" stroke-opacity="0.28" stroke-width="11" stroke-linejoin="round"/>
<use href="#cv16" fill="none" stroke="#a17d46" stroke-width="2.2" stroke-linejoin="round"/>
<text x="-0.03" y="1946" font-size="35" fill="#1d1d1b" font-weight="bold">f</text>
<defs><linearGradient id="rgA" x1="0" y1="0" x2="0" y2="1"><stop offset="0" stop-color="#7a86ad"/><stop offset="1" stop-color="#c9cba0"/></linearGradient>
<linearGradient id="rgB" x1="0" y1="0" x2="1" y2="0"><stop offset="0" stop-color="#8ec59a"/><stop offset="1" stop-color="#e3c48c"/></linearGradient></defs>
<circle cx="116.6" cy="2011" r="22.3" fill="none" stroke="url(#rgA)" stroke-width="12"/>
<path d="M97.2,2022.2 A22.3,22.3 0 0 0 136.0,2022.2" fill="none" stroke="url(#rgB)" stroke-width="12" opacity="0.85"/>
<line x1="116.6" y1="2011" x2="116.6" y2="1983" stroke="#3b4a7e" stroke-width="3.2" opacity="0.6"/>
<line x1="116.6" y1="2011" x2="91.6" y2="2025.5" stroke="#2e8a5a" stroke-width="3.2" opacity="0.6"/>
<line x1="116.6" y1="2011" x2="141.6" y2="2025.5" stroke="#d07a3a" stroke-width="3.2" opacity="0.6"/>
<text x="97.17" y="1973" font-size="17.5" fill="#2c3d7a">REM</text>
<text x="37.46" y="2040" font-size="18.02" fill="#1f8a50">NREM</text>
<text x="144" y="2040" font-size="16.56" fill="#d07a3a">AW</text>
<path d="M66.4,2012.6C66.5,2010 66.1,2004.5 67.1,1999.6C68,1994.8 69.1,1992.4 71.3,1988.3C73.4,1984.2 75,1982.5 77.7,1979.2C80.5,1976 83.4,1973.5 84.9,1972.1" fill="none" stroke="#231815" stroke-width="1.7"/>
<path d="M84.9,1972.1L82.4,1981L81,1976L76,1974.6 Z" fill="#231815"/>
<path d="M148.4,1975.4C150.1,1977 154.2,1979.9 157.1,1983.4C160,1987 161.2,1989.3 162.9,1993.2C164.7,1997.1 165.1,1998.5 165.9,2002.9C166.6,2007.2 166.6,2012.5 166.8,2014.9" fill="none" stroke="#231815" stroke-width="1.7"/>
<path d="M166.8,2014.9L161.7,2007.3L166.4,2009.4L170.7,2006.5 Z" fill="#231815"/>
<path d="M139.3,2053.7C137.4,2054.7 133.5,2057 129.6,2058.3C125.7,2059.6 124.1,2060.1 119.9,2060.2C115.6,2060.4 113.1,2060 108.5,2058.9C104,2057.8 99.4,2055.6 97.2,2054.7" fill="none" stroke="#231815" stroke-width="1.7"/>
<path d="M97.2,2054.7L106.2,2053.3L102.3,2056.6L103.1,2061.7 Z" fill="#231815"/>
<path d="M95.6,2068.6C97.5,2069.4 101.1,2071.4 105.3,2072.5C109.5,2073.7 112.1,2074.2 116.6,2074.5C121.2,2074.7 123.7,2074.7 128,2073.8C132.2,2073 135.7,2071 137.7,2070.3" fill="none" stroke="#231815" stroke-width="1.7"/>
<path d="M137.7,2070.3L131.7,2077.2L132.5,2072.2L128.6,2068.8 Z" fill="#231815"/>
<circle cx="264.9" cy="2116.6" r="5.6" fill="#b3b45c"/>
<circle cx="268.5" cy="2116.7" r="5.4" fill="#b3b45d"/>
<circle cx="272.5" cy="2118.0" r="5.1" fill="#b2b35e"/>
<circle cx="274.4" cy="2119.6" r="5.3" fill="#b2b35f"/>
<circle cx="277.1" cy="2121.2" r="5.4" fill="#b1b360"/>
<circle cx="276.4" cy="2125.0" r="5.8" fill="#b1b361"/>
<circle cx="275.7" cy="2127.9" r="5.0" fill="#b0b262"/>
<circle cx="273.7" cy="2132.6" r="5.3" fill="#b0b263"/>
<circle cx="271.6" cy="2134.7" r="5.0" fill="#b0b264"/>
<circle cx="270.0" cy="2137.7" r="5.4" fill="#afb165"/>
<circle cx="268.2" cy="2140.3" r="5.2" fill="#afb166"/>
<circle cx="266.8" cy="2143.3" r="5.0" fill="#aeb167"/>
<circle cx="265.5" cy="2146.5" r="5.5" fill="#aeb068"/>
<circle cx="262.2" cy="2150.0" r="5.7" fill="#adb069"/>
<circle cx="259.9" cy="2151.4" r="5.6" fill="#adb06a"/>
<circle cx="258.8" cy="2155.0" r="5.3" fill="#adb06b"/>
<circle cx="256.7" cy="2157.0" r="5.2" fill="#acaf6c"/>
<circle cx="253.6" cy="2159.6" r="5.7" fill="#acaf6d"/>
<circle cx="250.7" cy="2161.1" r="5.0" fill="#abaf6e"/>
<circle cx="247.5" cy="2163.4" r="5.3" fill="#abae6f"/>
<circle cx="244.6" cy="2165.0" r="5.6" fill="#aaae70"/>
<circle cx="243.1" cy="2167.0" r="5.4" fill="#aaae71"/>
<circle cx="241.7" cy="2171.0" r="5.4" fill="#aaad72"/>
<circle cx="242.6" cy="2173.7" r="5.0" fill="#a9ad73"/>
<circle cx="243.7" cy="2177.0" r="5.8" fill="#a9ad73"/>
<circle cx="246.7" cy="2179.2" r="5.1" fill="#a9ad74"/>
<circle cx="248.2" cy="2183.2" r="5.6" fill="#a8ad75"/>
<circle cx="249.3" cy="2186.2" r="5.2" fill="#a8ad76"/>
<circle cx="248.7" cy="2189.7" r="5.5" fill="#a8ac76"/>
<circle cx="247.5" cy="2191.7" r="5.4" fill="#a7ac77"/>
<circle cx="247.1" cy="2194.4" r="5.6" fill="#a7ac78"/>
<circle cx="245.5" cy="2199.1" r="5.6" fill="#a7ac78"/>
<circle cx="244.0" cy="2201.5" r="5.4" fill="#a6ac79"/>
<circle cx="242.1" cy="2203.9" r="5.7" fill="#a6ac7a"/>
<circle cx="241.6" cy="2207.4" r="5.4" fill="#a6ac7b"/>
<circle cx="241.6" cy="2211.1" r="5.3" fill="#a6ac7b"/>
<circle cx="242.3" cy="2214.9" r="5.5" fill="#a5ab7c"/>
<circle cx="243.1" cy="2217.1" r="5.2" fill="#a5ab7d"/>
<circle cx="243.8" cy="2221.3" r="5.7" fill="#a5ab7e"/>
<circle cx="246.0" cy="2224.9" r="5.7" fill="#a4ab7e"/>
<circle cx="245.7" cy="2228.3" r="5.5" fill="#a4ab7f"/>
<circle cx="245.5" cy="2230.2" r="5.0" fill="#a4ab80"/>
<circle cx="246.6" cy="2234.0" r="5.1" fill="#a3ab80"/>
<circle cx="246.3" cy="2237.6" r="5.1" fill="#a3aa81"/>
<circle cx="245.3" cy="2241.3" r="5.1" fill="#a3aa82"/>
<circle cx="245.3" cy="2245.1" r="5.4" fill="#a3aa83"/>
<circle cx="245.4" cy="2248.0" r="5.0" fill="#a2aa83"/>
<circle cx="245.8" cy="2251.3" r="5.2" fill="#a2aa84"/>
<circle cx="246.0" cy="2255.5" r="5.4" fill="#a2aa84"/>
<circle cx="247.4" cy="2258.1" r="5.7" fill="#a1aa85"/>
<circle cx="249.2" cy="2259.7" r="5.1" fill="#a1a985"/>
<circle cx="252.7" cy="2262.6" r="5.6" fill="#a1a985"/>
<circle cx="254.5" cy="2266.1" r="5.2" fill="#a0a986"/>
<circle cx="256.5" cy="2269.6" r="5.4" fill="#a0a986"/>
<circle cx="256.0" cy="2272.6" r="5.3" fill="#a0a986"/>
<circle cx="257.3" cy="2275.4" r="5.5" fill="#9fa987"/>
<circle cx="256.9" cy="2278.7" r="5.8" fill="#9fa887"/>
<circle cx="258.8" cy="2282.1" r="5.7" fill="#9fa887"/>
<circle cx="258.0" cy="2286.6" r="5.6" fill="#9ea888"/>
<circle cx="258.4" cy="2288.8" r="5.0" fill="#9ea888"/>
<circle cx="259.5" cy="2291.8" r="5.7" fill="#9ea888"/>
<circle cx="259.7" cy="2296.2" r="5.1" fill="#9da889"/>
<circle cx="259.6" cy="2300.3" r="5.6" fill="#9da789"/>
<circle cx="258.9" cy="2302.6" r="5.3" fill="#9ca78a"/>
<circle cx="258.3" cy="2306.5" r="5.3" fill="#9ca78a"/>
<circle cx="258.0" cy="2308.9" r="5.5" fill="#9ca78a"/>
<circle cx="258.0" cy="2313.0" r="5.3" fill="#9ba78b"/>
<circle cx="258.6" cy="2317.1" r="5.0" fill="#9ba78b"/>
<circle cx="257.0" cy="2319.5" r="5.8" fill="#9ba68b"/>
<circle cx="257.7" cy="2322.8" r="5.2" fill="#9aa68c"/>
<circle cx="257.1" cy="2327.1" r="5.7" fill="#9aa68c"/>
<circle cx="256.1" cy="2330.6" r="5.5" fill="#9aa68c"/>
<circle cx="256.1" cy="2334.2" r="5.2" fill="#99a68c"/>
<circle cx="256.2" cy="2335.9" r="5.1" fill="#99a68c"/>
<circle cx="256.5" cy="2339.6" r="5.6" fill="#99a68c"/>
<circle cx="256.0" cy="2344.1" r="5.3" fill="#99a58d"/>
<circle cx="255.7" cy="2346.5" r="5.7" fill="#98a58d"/>
<circle cx="256.6" cy="2351.1" r="5.7" fill="#98a58d"/>
<circle cx="256.5" cy="2353.7" r="5.1" fill="#98a58d"/>
<circle cx="257.2" cy="2356.1" r="5.7" fill="#97a58d"/>
<circle cx="259.5" cy="2360.7" r="5.3" fill="#97a58d"/>
<circle cx="260.5" cy="2363.8" r="5.3" fill="#97a58d"/>
<circle cx="261.9" cy="2365.8" r="5.1" fill="#96a48e"/>
<circle cx="263.1" cy="2369.9" r="5.5" fill="#96a48e"/>
<circle cx="266.1" cy="2372.0" r="5.2" fill="#96a48e"/>
<circle cx="267.9" cy="2375.4" r="5.0" fill="#96a48e"/>
<circle cx="269.7" cy="2376.8" r="5.1" fill="#95a48e"/>
<circle cx="272.2" cy="2379.4" r="5.2" fill="#95a48e"/>
<circle cx="274.7" cy="2382.6" r="5.1" fill="#95a48e"/>
<circle cx="275.6" cy="2384.7" r="5.6" fill="#94a48e"/>
<circle cx="277.9" cy="2388.3" r="5.3" fill="#94a38f"/>
<circle cx="281.9" cy="2390.6" r="5.2" fill="#94a38f"/>
<circle cx="283.2" cy="2392.0" r="5.1" fill="#94a38f"/>
<circle cx="286.6" cy="2393.4" r="5.0" fill="#93a38f"/>
<circle cx="289.8" cy="2396.0" r="5.5" fill="#93a38f"/>
<circle cx="291.5" cy="2398.1" r="5.1" fill="#93a38f"/>
<circle cx="295.1" cy="2401.3" r="5.8" fill="#92a290"/>
<circle cx="296.5" cy="2401.9" r="5.5" fill="#92a290"/>
<circle cx="300.8" cy="2404.4" r="5.6" fill="#91a291"/>
<circle cx="303.1" cy="2405.7" r="5.4" fill="#91a191"/>
<circle cx="305.3" cy="2407.6" r="5.1" fill="#91a191"/>
<circle cx="308.1" cy="2410.7" r="5.4" fill="#90a192"/>
<circle cx="311.7" cy="2411.9" r="5.8" fill="#90a192"/>
<circle cx="314.1" cy="2413.0" r="5.3" fill="#8fa093"/>
<circle cx="316.9" cy="2415.7" r="5.7" fill="#8fa093"/>
<circle cx="319.9" cy="2416.4" r="5.4" fill="#8fa093"/>
<circle cx="323.4" cy="2418.5" r="5.2" fill="#8e9f94"/>
<circle cx="325.5" cy="2419.4" r="5.1" fill="#8e9f94"/>
<circle cx="329.5" cy="2420.5" r="5.1" fill="#8e9f94"/>
<circle cx="332.7" cy="2422.3" r="5.6" fill="#8d9e95"/>
<circle cx="335.7" cy="2424.5" r="5.1" fill="#8d9e95"/>
<circle cx="338.8" cy="2425.7" r="5.1" fill="#8c9e96"/>
<circle cx="342.9" cy="2425.6" r="5.6" fill="#8c9e96"/>
<circle cx="346.2" cy="2427.8" r="5.3" fill="#8c9d96"/>
<circle cx="347.9" cy="2428.2" r="5.7" fill="#8b9d97"/>
<circle cx="351.5" cy="2429.6" r="5.1" fill="#8b9d97"/>
<circle cx="355.9" cy="2428.9" r="5.3" fill="#8a9c98"/>
<circle cx="359.2" cy="2430.9" r="5.7" fill="#8a9c98"/>
<circle cx="362.5" cy="2431.5" r="5.6" fill="#899b98"/>
<circle cx="364.6" cy="2431.5" r="5.1" fill="#889a99"/>
<circle cx="369.0" cy="2432.4" r="5.2" fill="#869999"/>
<circle cx="371.2" cy="2433.4" r="5.6" fill="#859799"/>
<circle cx="375.4" cy="2433.0" r="5.7" fill="#84969a"/>
<circle cx="378.6" cy="2433.0" r="5.3" fill="#83959a"/>
<circle cx="381.7" cy="2432.6" r="5.5" fill="#82949a"/>
<circle cx="385.3" cy="2433.7" r="5.0" fill="#80939b"/>
<circle cx="388.6" cy="2433.0" r="5.1" fill="#7f919b"/>
<circle cx="391.9" cy="2434.3" r="5.3" fill="#7e909b"/>
<circle cx="395.5" cy="2433.8" r="5.2" fill="#7d8f9c"/>
<circle cx="398.2" cy="2433.6" r="5.4" fill="#7b8e9c"/>
<circle cx="402.8" cy="2433.2" r="5.5" fill="#7a8d9c"/>
<circle cx="406.3" cy="2432.7" r="5.4" fill="#798b9d"/>
<circle cx="409.2" cy="2432.3" r="5.3" fill="#788a9d"/>
<circle cx="412.8" cy="2433.3" r="5.7" fill="#76899d"/>
<circle cx="415.6" cy="2432.4" r="5.0" fill="#75889e"/>
<circle cx="418.6" cy="2431.7" r="5.7" fill="#74879e"/>
<circle cx="422.1" cy="2431.5" r="5.7" fill="#73859e"/>
<circle cx="425.7" cy="2430.7" r="5.7" fill="#71849f"/>
<circle cx="429.1" cy="2429.9" r="5.6" fill="#70839f"/>
<circle cx="432.8" cy="2429.2" r="5.7" fill="#6f829f"/>
<circle cx="436.7" cy="2427.6" r="5.1" fill="#6e81a0"/>
<circle cx="438.5" cy="2425.5" r="5.5" fill="#6c7fa0"/>
<circle cx="442.2" cy="2423.3" r="5.5" fill="#6b7e9f"/>
<circle cx="445.0" cy="2422.0" r="5.4" fill="#697c9f"/>
<circle cx="446.4" cy="2420.2" r="5.0" fill="#687b9e"/>
<circle cx="450.0" cy="2417.7" r="5.5" fill="#66799e"/>
<circle cx="450.7" cy="2415.2" r="5.8" fill="#65789d"/>
<circle cx="452.5" cy="2412.2" r="5.7" fill="#63769d"/>
<circle cx="455.4" cy="2409.3" r="5.4" fill="#62759d"/>
<circle cx="457.9" cy="2407.0" r="5.3" fill="#60739c"/>
<circle cx="459.9" cy="2403.5" r="5.1" fill="#5f729c"/>
<circle cx="461.6" cy="2400.7" r="5.7" fill="#5d709b"/>
<circle cx="465.3" cy="2398.4" r="5.5" fill="#5c6f9b"/>
<circle cx="466.9" cy="2396.3" r="5.2" fill="#5a6d9a"/>
<circle cx="469.3" cy="2395.3" r="5.0" fill="#596c9a"/>
<circle cx="471.8" cy="2392.6" r="5.0" fill="#576a99"/>
<circle cx="475.3" cy="2390.8" r="5.7" fill="#566999"/>
<circle cx="477.1" cy="2388.0" r="5.4" fill="#546798"/>
<circle cx="479.8" cy="2386.3" r="5.2" fill="#536698"/>
<circle cx="482.9" cy="2384.2" r="5.6" fill="#516497"/>
<circle cx="485.3" cy="2381.0" r="5.4" fill="#506397"/>
<circle cx="486.9" cy="2378.4" r="5.5" fill="#4e6196"/>
<circle cx="487.5" cy="2374.5" r="5.1" fill="#4d6096"/>
<circle cx="489.5" cy="2371.1" r="5.6" fill="#4b5e95"/>
<circle cx="490.2" cy="2369.4" r="5.6" fill="#4a5d95"/>
<circle cx="491.6" cy="2367.8" r="5.0" fill="#3f5394"/>
<circle cx="488.8" cy="2364.5" r="5.6" fill="#3f5394"/>
<circle cx="488.5" cy="2360.4" r="5.5" fill="#3f5394"/>
<circle cx="486.7" cy="2357.9" r="5.1" fill="#405494"/>
<circle cx="484.0" cy="2355.2" r="5.6" fill="#405494"/>
<circle cx="482.1" cy="2354.4" r="5.4" fill="#405494"/>
<circle cx="477.8" cy="2352.3" r="5.0" fill="#405495"/>
<circle cx="473.7" cy="2352.0" r="5.3" fill="#405495"/>
<circle cx="471.0" cy="2352.4" r="5.4" fill="#415595"/>
<circle cx="467.9" cy="2351.0" r="5.0" fill="#415595"/>
<circle cx="464.1" cy="2350.6" r="5.4" fill="#415595"/>
<circle cx="461.9" cy="2351.4" r="5.1" fill="#415595"/>
<circle cx="458.3" cy="2351.5" r="5.6" fill="#425695"/>
<circle cx="455.0" cy="2351.6" r="5.6" fill="#425695"/>
<circle cx="450.6" cy="2352.4" r="5.8" fill="#425695"/>
<circle cx="446.8" cy="2352.3" r="5.6" fill="#425695"/>
<circle cx="444.0" cy="2352.0" r="5.4" fill="#425695"/>
<circle cx="441.4" cy="2351.8" r="5.7" fill="#435795"/>
<circle cx="437.1" cy="2351.7" r="5.7" fill="#435796"/>
<circle cx="434.7" cy="2348.9" r="5.7" fill="#435796"/>
<circle cx="433.5" cy="2345.8" r="5.2" fill="#435796"/>
<circle cx="431.2" cy="2343.1" r="5.1" fill="#435796"/>
<circle cx="430.9" cy="2339.3" r="5.7" fill="#445896"/>
<circle cx="428.2" cy="2337.5" r="5.6" fill="#445896"/>
<circle cx="426.8" cy="2333.8" r="5.5" fill="#445896"/>
<circle cx="425.7" cy="2330.3" r="5.2" fill="#445996"/>
<circle cx="424.3" cy="2328.2" r="5.5" fill="#455996"/>
<circle cx="421.3" cy="2325.5" r="5.6" fill="#455a96"/>
<circle cx="419.9" cy="2322.6" r="5.6" fill="#455b96"/>
<circle cx="415.1" cy="2322.6" r="5.2" fill="#455b96"/>
<circle cx="412.0" cy="2322.7" r="5.1" fill="#465c96"/>
<circle cx="409.1" cy="2322.7" r="5.2" fill="#465c96"/>
<circle cx="405.1" cy="2322.8" r="5.3" fill="#465d96"/>
<circle cx="402.7" cy="2321.4" r="5.3" fill="#465d96"/>
<circle cx="398.3" cy="2322.8" r="5.1" fill="#475e96"/>
<circle cx="396.3" cy="2322.0" r="5.6" fill="#475e96"/>
<circle cx="391.2" cy="2322.7" r="5.7" fill="#475f97"/>
<circle cx="388.1" cy="2322.9" r="5.6" fill="#476097"/>
<circle cx="385.1" cy="2323.1" r="5.8" fill="#486097"/>
<circle cx="381.3" cy="2323.5" r="5.3" fill="#486197"/>
<circle cx="378.8" cy="2325.2" r="5.1" fill="#486197"/>
<circle cx="374.9" cy="2324.4" r="5.4" fill="#496297"/>
<circle cx="372.4" cy="2326.2" r="5.7" fill="#496297"/>
<circle cx="369.0" cy="2327.0" r="5.6" fill="#496397"/>
<circle cx="365.1" cy="2326.4" r="5.5" fill="#496397"/>
<circle cx="361.5" cy="2326.7" r="5.4" fill="#4a6497"/>
<circle cx="359.1" cy="2327.4" r="5.5" fill="#4a6597"/>
<circle cx="354.9" cy="2328.7" r="5.1" fill="#4a6597"/>
<circle cx="352.6" cy="2328.9" r="5.5" fill="#4a6697"/>
<circle cx="348.4" cy="2329.3" r="5.4" fill="#4a6697"/>
<circle cx="344.6" cy="2330.2" r="5.0" fill="#4a6797"/>
<circle cx="341.3" cy="2331.3" r="5.5" fill="#4a6897"/>
<circle cx="338.7" cy="2333.9" r="5.7" fill="#4a6897"/>
<circle cx="336.4" cy="2333.6" r="5.4" fill="#4a6997"/>
<circle cx="331.8" cy="2335.3" r="5.5" fill="#4a6a97"/>
<circle cx="329.5" cy="2336.6" r="5.2" fill="#4a6a97"/>
<circle cx="325.6" cy="2337.3" r="5.0" fill="#4a6b97"/>
<circle cx="321.7" cy="2338.1" r="5.1" fill="#4a6c97"/>
<circle cx="319.7" cy="2338.7" r="5.1" fill="#4a6c97"/>
<circle cx="315.4" cy="2339.6" r="5.2" fill="#4b6d96"/>
<circle cx="312.7" cy="2340.9" r="5.2" fill="#4b6d96"/>
<circle cx="309.6" cy="2341.2" r="5.7" fill="#4b6e96"/>
<circle cx="306.9" cy="2342.8" r="5.3" fill="#4b6f96"/>
<circle cx="302.7" cy="2343.2" r="5.0" fill="#4b6f96"/>
<circle cx="299.2" cy="2343.7" r="5.1" fill="#4b7096"/>
<circle cx="295.3" cy="2344.7" r="5.3" fill="#4b7196"/>
<circle cx="292.7" cy="2345.5" r="5.5" fill="#4b7196"/>
<circle cx="288.9" cy="2346.1" r="5.3" fill="#4b7296"/>
<circle cx="285.1" cy="2346.1" r="5.1" fill="#4b7396"/>
<circle cx="282.2" cy="2346.9" r="5.5" fill="#4b7396"/>
<circle cx="278.3" cy="2346.7" r="5.3" fill="#4b7496"/>
<circle cx="275.8" cy="2346.8" r="5.5" fill="#4b7496"/>
<circle cx="271.7" cy="2347.5" r="5.3" fill="#4b7596"/>
<circle cx="269.9" cy="2347.7" r="5.6" fill="#4b7596"/>
<circle cx="265.2" cy="2349.2" r="5.3" fill="#4b7696"/>
<circle cx="262.4" cy="2350.2" r="5.3" fill="#4b7696"/>
<circle cx="258.4" cy="2349.7" r="5.1" fill="#4b7796"/>
<circle cx="256.4" cy="2351.4" r="5.8" fill="#4a7796"/>
<circle cx="252.8" cy="2351.0" r="5.5" fill="#4a7896"/>
<circle cx="249.7" cy="2352.9" r="5.4" fill="#4a7896"/>
<circle cx="245.6" cy="2353.2" r="5.6" fill="#4a7996"/>
<circle cx="242.1" cy="2354.1" r="5.4" fill="#4a7996"/>
<circle cx="240.1" cy="2355.5" r="5.7" fill="#4a7a95"/>
<circle cx="236.5" cy="2355.3" r="5.2" fill="#4a7a95"/>
<circle cx="232.6" cy="2356.1" r="5.3" fill="#4a7a95"/>
<circle cx="229.7" cy="2358.1" r="5.5" fill="#4a7b95"/>
<circle cx="226.6" cy="2357.5" r="5.3" fill="#4a7b95"/>
<circle cx="223.7" cy="2358.4" r="5.3" fill="#4a7c95"/>
<circle cx="218.7" cy="2359.2" r="5.7" fill="#497c95"/>
<circle cx="217.1" cy="2361.1" r="5.1" fill="#497d95"/>
<circle cx="212.5" cy="2361.2" r="5.5" fill="#497d95"/>
<circle cx="210.0" cy="2362.5" r="5.4" fill="#497e95"/>
<circle cx="205.7" cy="2363.6" r="5.8" fill="#497e95"/>
<circle cx="203.5" cy="2363.7" r="5.4" fill="#497f95"/>
<circle cx="200.2" cy="2365.0" r="5.7" fill="#497f95"/>
<circle cx="196.5" cy="2366.7" r="5.3" fill="#497f95"/>
<circle cx="194.2" cy="2367.9" r="5.5" fill="#498095"/>
<circle cx="189.4" cy="2368.3" r="5.0" fill="#498095"/>
<circle cx="187.0" cy="2370.1" r="5.1" fill="#498194"/>
<circle cx="183.6" cy="2370.4" r="5.3" fill="#498194"/>
<circle cx="180.7" cy="2372.3" r="5.6" fill="#488194"/>
<circle cx="177.1" cy="2373.5" r="5.3" fill="#488294"/>
<circle cx="174.4" cy="2374.1" r="5.6" fill="#488294"/>
<circle cx="171.4" cy="2374.4" r="5.5" fill="#488294"/>
<circle cx="167.4" cy="2376.4" r="5.8" fill="#488394"/>
<circle cx="164.6" cy="2376.4" r="5.4" fill="#488394"/>
<circle cx="161.5" cy="2379.1" r="5.5" fill="#488393"/>
<circle cx="158.5" cy="2378.7" r="5.8" fill="#488493"/>
<circle cx="155.2" cy="2380.9" r="5.7" fill="#488493"/>
<circle cx="152.2" cy="2381.1" r="5.7" fill="#488493"/>
<circle cx="148.8" cy="2382.4" r="5.6" fill="#488593"/>
<circle cx="145.2" cy="2383.4" r="5.6" fill="#488593"/>
<circle cx="141.2" cy="2385.2" r="5.3" fill="#478593"/>
<circle cx="138.1" cy="2386.1" r="5.4" fill="#478693"/>
<circle cx="134.7" cy="2387.5" r="5.1" fill="#478692"/>
<circle cx="131.0" cy="2387.1" r="5.7" fill="#478692"/>
<circle cx="128.8" cy="2387.5" r="5.4" fill="#478792"/>
<circle cx="126.2" cy="2384.6" r="5.2" fill="#478792"/>
<circle cx="124.2" cy="2383.6" r="5.3" fill="#47879a"/>
<circle cx="126.7" cy="2380.9" r="5.1" fill="#47879a"/>
<circle cx="127.5" cy="2378.4" r="5.2" fill="#478899"/>
<circle cx="129.7" cy="2375.8" r="5.4" fill="#478899"/>
<circle cx="132.6" cy="2372.0" r="5.5" fill="#478998"/>
<circle cx="133.3" cy="2369.5" r="5.7" fill="#478998"/>
<circle cx="135.9" cy="2366.8" r="5.5" fill="#468a97"/>
<circle cx="137.1" cy="2364.1" r="5.5" fill="#468a97"/>
<circle cx="139.6" cy="2360.1" r="5.7" fill="#468a96"/>
<circle cx="141.9" cy="2358.7" r="5.7" fill="#468b96"/>
<circle cx="144.5" cy="2356.4" r="5.3" fill="#468b95"/>
<circle cx="146.9" cy="2353.0" r="5.7" fill="#468c95"/>
<circle cx="149.2" cy="2349.7" r="5.1" fill="#468c94"/>
<circle cx="150.3" cy="2348.7" r="5.3" fill="#468c94"/>
<circle cx="153.2" cy="2345.0" r="5.4" fill="#468d94"/>
<circle cx="155.1" cy="2342.5" r="5.5" fill="#468d93"/>
<circle cx="157.7" cy="2341.0" r="5.5" fill="#468e93"/>
<circle cx="160.6" cy="2338.4" r="5.8" fill="#468e92"/>
<circle cx="162.4" cy="2334.6" r="5.7" fill="#458f92"/>
<circle cx="165.3" cy="2333.5" r="5.5" fill="#458f91"/>
<circle cx="167.1" cy="2329.7" r="5.7" fill="#458f91"/>
<circle cx="169.2" cy="2327.4" r="5.1" fill="#459090"/>
<circle cx="172.1" cy="2326.2" r="5.1" fill="#459090"/>
<circle cx="174.4" cy="2322.8" r="5.1" fill="#45918f"/>
<circle cx="175.9" cy="2321.0" r="5.7" fill="#45918f"/>
<circle cx="177.8" cy="2318.3" r="5.0" fill="#45918e"/>
<circle cx="181.5" cy="2315.5" r="5.7" fill="#44918e"/>
<circle cx="184.4" cy="2313.4" r="5.8" fill="#44928e"/>
<circle cx="185.7" cy="2310.3" r="5.5" fill="#44928d"/>
<circle cx="187.7" cy="2308.3" r="5.3" fill="#44928d"/>
<circle cx="191.3" cy="2305.9" r="5.0" fill="#43928c"/>
<circle cx="194.3" cy="2303.9" r="5.8" fill="#43928c"/>
<circle cx="196.9" cy="2301.8" r="5.4" fill="#43928c"/>
<circle cx="198.8" cy="2300.0" r="5.5" fill="#43938b"/>
<circle cx="201.4" cy="2297.7" r="5.8" fill="#42938b"/>
<circle cx="203.8" cy="2295.1" r="5.6" fill="#42938a"/>
<circle cx="205.9" cy="2292.7" r="5.8" fill="#42938a"/>
<circle cx="208.9" cy="2290.8" r="5.0" fill="#429389"/>
<circle cx="211.3" cy="2288.6" r="5.0" fill="#419389"/>
<circle cx="214.1" cy="2286.4" r="5.0" fill="#419489"/>
<circle cx="216.6" cy="2283.8" r="5.5" fill="#419488"/>
<circle cx="218.6" cy="2281.9" r="5.6" fill="#419488"/>
<circle cx="220.5" cy="2278.4" r="5.5" fill="#409487"/>
<circle cx="224.5" cy="2276.2" r="5.4" fill="#409487"/>
<circle cx="226.2" cy="2273.9" r="5.3" fill="#409487"/>
<circle cx="227.9" cy="2271.4" r="5.5" fill="#409586"/>
<circle cx="230.1" cy="2268.8" r="5.6" fill="#3f9586"/>
<circle cx="231.6" cy="2266.5" r="5.6" fill="#3f9585"/>
<circle cx="234.1" cy="2263.0" r="5.6" fill="#3f9585"/>
<circle cx="235.7" cy="2260.1" r="5.3" fill="#3f9584"/>
<circle cx="238.4" cy="2257.0" r="5.3" fill="#3f9584"/>
<circle cx="239.3" cy="2255.4" r="5.4" fill="#3f9583"/>
<circle cx="241.7" cy="2251.1" r="5.3" fill="#3e9583"/>
<circle cx="242.8" cy="2249.3" r="5.4" fill="#3e9583"/>
<circle cx="243.5" cy="2244.9" r="5.4" fill="#3e9682"/>
<circle cx="244.9" cy="2243.1" r="5.7" fill="#3e9682"/>
<circle cx="246.4" cy="2239.0" r="5.6" fill="#3e9681"/>
<circle cx="248.7" cy="2236.9" r="5.3" fill="#3e9681"/>
<circle cx="249.2" cy="2232.9" r="5.6" fill="#3e9680"/>
<circle cx="250.8" cy="2229.9" r="5.3" fill="#3e9680"/>
<circle cx="252.4" cy="2226.9" r="5.7" fill="#3d967f"/>
<circle cx="253.3" cy="2223.0" r="5.8" fill="#3d967f"/>
<circle cx="255.9" cy="2221.7" r="5.3" fill="#3d967e"/>
<circle cx="257.3" cy="2218.4" r="5.2" fill="#3d967e"/>
<circle cx="258.3" cy="2215.1" r="5.5" fill="#3d967d"/>
<circle cx="259.1" cy="2211.0" r="5.3" fill="#3d967d"/>
<circle cx="259.9" cy="2207.4" r="5.5" fill="#3d977c"/>
<circle cx="261.3" cy="2205.6" r="5.0" fill="#3d977c"/>
<circle cx="263.7" cy="2202.3" r="5.7" fill="#3c977c"/>
<circle cx="265.0" cy="2199.5" r="5.5" fill="#3c977b"/>
<circle cx="264.7" cy="2196.1" r="5.1" fill="#3c977b"/>
<circle cx="266.5" cy="2192.8" r="5.4" fill="#3c977a"/>
<circle cx="268.0" cy="2190.1" r="5.5" fill="#3c977a"/>
<circle cx="269.2" cy="2185.8" r="5.7" fill="#3c9779"/>
<circle cx="270.7" cy="2183.6" r="5.3" fill="#3c9779"/>
<circle cx="271.5" cy="2180.0" r="5.7" fill="#3c9778"/>
<circle cx="272.7" cy="2177.3" r="5.7" fill="#3c9878"/>
<circle cx="275.2" cy="2174.2" r="5.0" fill="#3c9878"/>
<circle cx="276.2" cy="2171.1" r="5.0" fill="#3c9877"/>
<circle cx="276.8" cy="2166.9" r="5.4" fill="#3c9877"/>
<circle cx="278.4" cy="2164.2" r="5.6" fill="#3c9876"/>
<circle cx="279.0" cy="2160.3" r="5.1" fill="#3c9876"/>
<circle cx="280.6" cy="2157.2" r="5.8" fill="#3c9876"/>
<circle cx="283.3" cy="2154.1" r="5.4" fill="#3c9875"/>
<circle cx="283.8" cy="2151.5" r="5.3" fill="#3c9975"/>
<circle cx="285.8" cy="2148.9" r="5.3" fill="#3c9974"/>
<circle cx="286.5" cy="2145.3" r="5.1" fill="#3c9974"/>
<circle cx="288.6" cy="2143.0" r="5.3" fill="#3c9973"/>
<circle cx="289.3" cy="2139.0" r="5.3" fill="#3c9973"/>
<circle cx="291.7" cy="2137.0" r="5.3" fill="#3c9973"/>
<circle cx="293.7" cy="2133.7" r="5.3" fill="#3c9972"/>
<circle cx="294.5" cy="2130.5" r="5.6" fill="#3c9972"/>
<circle cx="296.2" cy="2127.9" r="5.4" fill="#3c9a71"/>
<circle cx="297.5" cy="2124.6" r="5.6" fill="#3c9a71"/>
<circle cx="298.9" cy="2121.4" r="5.3" fill="#3c9a71"/>
<circle cx="302.1" cy="2119.4" r="5.3" fill="#3c9a70"/>
<circle cx="303.9" cy="2116.3" r="5.2" fill="#3c9a70"/>
<circle cx="305.0" cy="2112.2" r="5.7" fill="#3c9a6f"/>
<circle cx="307.2" cy="2110.8" r="5.6" fill="#3c9a6f"/>
<circle cx="309.0" cy="2107.6" r="5.5" fill="#3c9a6f"/>
<circle cx="309.9" cy="2104.5" r="5.0" fill="#3c9a6e"/>
<circle cx="311.7" cy="2101.9" r="5.0" fill="#3c9a6e"/>
<circle cx="313.3" cy="2097.8" r="5.7" fill="#3d9a6e"/>
<circle cx="315.1" cy="2094.6" r="5.7" fill="#3d9a6d"/>
<circle cx="316.6" cy="2093.1" r="5.5" fill="#3d9a6d"/>
<circle cx="319.2" cy="2090.2" r="5.5" fill="#3d9a6d"/>
<circle cx="320.3" cy="2085.3" r="5.6" fill="#3d9a6c"/>
<circle cx="320.8" cy="2083.3" r="5.1" fill="#3d9a6c"/>
<circle cx="322.1" cy="2080.4" r="5.0" fill="#3d9b6c"/>
<circle cx="322.1" cy="2076.5" r="5.7" fill="#3d9b6b"/>
<circle cx="322.6" cy="2072.4" r="5.2" fill="#3d9b6b"/>
<circle cx="323.8" cy="2070.1" r="5.3" fill="#3d9b6b"/>
<circle cx="323.7" cy="2066.1" r="5.3" fill="#3d9b6a"/>
<circle cx="323.8" cy="2062.1" r="5.4" fill="#3d9b6a"/>
<circle cx="324.3" cy="2059.3" r="5.6" fill="#3e9b6a"/>
<circle cx="321.8" cy="2056.6" r="5.6" fill="#3e9b69"/>
<circle cx="321.1" cy="2053.3" r="5.4" fill="#3e9b69"/>
<circle cx="318.8" cy="2051.5" r="5.1" fill="#3e9b69"/>
<circle cx="315.1" cy="2049.1" r="5.7" fill="#3e9b68"/>
<circle cx="313.0" cy="2046.7" r="5.6" fill="#3e9b68"/>
<circle cx="312.1" cy="2045.9" r="5.3" fill="#46a065"/>
<circle cx="310.7" cy="2049.0" r="5.3" fill="#4aa164"/>
<circle cx="310.8" cy="2053.4" r="5.6" fill="#4ea264"/>
<circle cx="308.2" cy="2056.1" r="5.2" fill="#51a363"/>
<circle cx="306.7" cy="2058.4" r="5.2" fill="#55a363"/>
<circle cx="306.6" cy="2062.8" r="5.6" fill="#59a462"/>
<circle cx="304.9" cy="2064.7" r="5.2" fill="#5da562"/>
<circle cx="302.9" cy="2068.6" r="5.7" fill="#61a661"/>
<circle cx="301.6" cy="2070.4" r="5.5" fill="#64a761"/>
<circle cx="299.4" cy="2074.0" r="5.1" fill="#68a860"/>
<circle cx="297.3" cy="2076.2" r="5.7" fill="#6ca860"/>
<circle cx="296.3" cy="2079.9" r="5.2" fill="#70a95f"/>
<circle cx="294.6" cy="2082.9" r="5.7" fill="#73aa5e"/>
<circle cx="292.8" cy="2085.7" r="5.3" fill="#77ab5e"/>
<circle cx="290.6" cy="2088.5" r="5.1" fill="#7aac5d"/>
<circle cx="288.3" cy="2092.1" r="5.0" fill="#7ead5c"/>
<circle cx="286.1" cy="2094.6" r="5.2" fill="#82ae5c"/>
<circle cx="285.1" cy="2097.2" r="5.3" fill="#85ae5b"/>
<circle cx="283.9" cy="2099.5" r="5.3" fill="#89af5b"/>
<circle cx="280.4" cy="2102.9" r="5.2" fill="#8cb05a"/>
<circle cx="278.5" cy="2105.8" r="5.3" fill="#8fb05a"/>
<circle cx="276.6" cy="2108.6" r="5.1" fill="#92b159"/>
<circle cx="273.4" cy="2109.9" r="5.6" fill="#95b159"/>
<circle cx="272.0" cy="2112.3" r="5.3" fill="#98b258"/>
<circle cx="268.5" cy="2114.8" r="5.0" fill="#9bb258"/>
<circle cx="266.2" cy="2116.6" r="5.8" fill="#9eb357"/>
<circle cx="263.7" cy="2114.5" r="5.0" fill="#a1b357"/>
<circle cx="261.2" cy="2111.6" r="5.6" fill="#a4b357"/>
<circle cx="260.5" cy="2108.3" r="5.5" fill="#a7b456"/>
<circle cx="260.6" cy="2103.8" r="5.2" fill="#a9b456"/>
<circle cx="259.3" cy="2100.1" r="5.3" fill="#abb556"/>
<circle cx="259.8" cy="2097.1" r="5.0" fill="#adb556"/>
<circle cx="257.8" cy="2093.5" r="5.6" fill="#aeb656"/>
<circle cx="258.0" cy="2090.3" r="5.1" fill="#b0b656"/>
<circle cx="258.9" cy="2087.1" r="5.2" fill="#b2b657"/>
<circle cx="257.1" cy="2083.1" r="5.1" fill="#b3b757"/>
<circle cx="258.1" cy="2079.8" r="5.0" fill="#b5b757"/>
<circle cx="257.7" cy="2076.6" r="5.8" fill="#b7b857"/>
<circle cx="257.0" cy="2073.7" r="5.6" fill="#b7b857"/>
<circle cx="257.4" cy="2071.2" r="5.4" fill="#b5b757"/>
<circle cx="257.1" cy="2066.7" r="5.0" fill="#b2b758"/>
<circle cx="257.4" cy="2063.0" r="5.7" fill="#afb758"/>
<circle cx="258.1" cy="2060.1" r="5.0" fill="#adb658"/>
<circle cx="257.0" cy="2056.2" r="5.2" fill="#aab659"/>
<circle cx="256.8" cy="2053.9" r="5.1" fill="#a8b559"/>
<circle cx="256.3" cy="2050.7" r="5.5" fill="#a5b559"/>
<circle cx="257.9" cy="2046.3" r="5.7" fill="#a2b55a"/>
<circle cx="257.5" cy="2043.6" r="5.6" fill="#a0b45a"/>
<circle cx="258.2" cy="2039.1" r="5.2" fill="#9cb35a"/>
<circle cx="260.1" cy="2037.4" r="5.7" fill="#98b25a"/>
<circle cx="260.8" cy="2034.0" r="5.6" fill="#94b15b"/>
<circle cx="262.9" cy="2031.3" r="5.4" fill="#90b05b"/>
<circle cx="265.0" cy="2028.3" r="5.2" fill="#8caf5b"/>
<circle cx="267.6" cy="2026.1" r="5.1" fill="#88ae5b"/>
<circle cx="269.8" cy="2023.5" r="5.5" fill="#84ad5b"/>
<circle cx="270.3" cy="2020.8" r="5.1" fill="#81ac5c"/>
<circle cx="274.2" cy="2017.8" r="5.0" fill="#7dab5c"/>
<circle cx="274.9" cy="2015.1" r="5.5" fill="#78aa5c"/>
<circle cx="278.1" cy="2013.0" r="5.2" fill="#74a85d"/>
<circle cx="278.8" cy="2010.2" r="5.0" fill="#6fa75d"/>
<circle cx="282.2" cy="2005.9" r="5.6" fill="#6ba65d"/>
<circle cx="283.8" cy="2004.4" r="5.4" fill="#66a55e"/>
<circle cx="285.7" cy="2000.2" r="5.5" fill="#62a45e"/>
<circle cx="286.5" cy="1998.6" r="5.6" fill="#5da35f"/>
<circle cx="288.8" cy="1995.2" r="5.0" fill="#59a15f"/>
<circle cx="290.3" cy="1992.8" r="5.4" fill="#54a060"/>
<circle cx="295.0" cy="1991.7" r="5.1" fill="#509f60"/>
<circle cx="297.5" cy="1991.6" r="5.4" fill="#4d9f60"/>
<circle cx="300.1" cy="1992.7" r="5.7" fill="#4c9e60"/>
<circle cx="303.4" cy="1993.5" r="5.3" fill="#4a9d5f"/>
<circle cx="307.5" cy="1994.9" r="5.2" fill="#489d5f"/>
<circle cx="309.3" cy="1998.6" r="5.1" fill="#469c5f"/>
<circle cx="310.4" cy="2000.8" r="5.7" fill="#449c5f"/>
<circle cx="312.2" cy="2003.7" r="5.7" fill="#439b5f"/>
<circle cx="313.3" cy="2006.4" r="5.7" fill="#419b5e"/>
<circle cx="312.6" cy="2010.2" r="5.7" fill="#3f9a5e"/>
<circle cx="313.1" cy="2014.5" r="5.1" fill="#3e9a5e"/>
<circle cx="313.9" cy="2016.8" r="5.1" fill="#3e9a5e"/>
<circle cx="313.0" cy="2020.4" r="5.4" fill="#3e9a5f"/>
<circle cx="313.5" cy="2024.5" r="5.0" fill="#3e9a5f"/>
<circle cx="312.1" cy="2027.6" r="5.4" fill="#3e9a5f"/>
<circle cx="312.2" cy="2030.8" r="5.1" fill="#3d9a5f"/>
<circle cx="310.4" cy="2034.8" r="5.3" fill="#3d9a5f"/>
<circle cx="310.3" cy="2038.2" r="5.5" fill="#3d9a60"/>
<circle cx="308.9" cy="2040.7" r="5.3" fill="#3d9a60"/>
<circle cx="308.0" cy="2043.6" r="5.7" fill="#3d9a60"/>
<text x="318.65" y="1994.8" font-size="25.65" fill="#1f8a50">NREM</text>
<text x="206.7" y="2083" font-size="23.5" fill="#d68a2a">AW</text>
<text x="441.79" y="2322.6" font-size="25.15" fill="#1a2f6b">REM</text>
<text x="59.74" y="2181" font-size="21.38" fill="#1d1d1b">0.2 (a.u.)</text>
<line x1="83.6" y1="2208.6" x2="83.6" y2="2254" stroke="#231815" stroke-width="1.5"/>
<line x1="83.6" y1="2254" x2="162" y2="2224.8" stroke="#231815" stroke-width="1.5"/>
<line x1="83.6" y1="2254" x2="142.5" y2="2270.8" stroke="#231815" stroke-width="1.5"/>
<text x="70.5" y="2259.12" font-size="21.19" fill="#1d1d1b" transform="rotate(-90 70.5 2259.12)">tPC 3</text>
<text x="100.42" y="2220.64" font-size="21" fill="#1d1d1b" transform="rotate(-20 126.3 2213.4)">tPC 2</text>
<text x="64.47" y="2291.2" font-size="22.3" fill="#1d1d1b">tPC 1</text>
<line x1="278.6" y1="1985" x2="255.92" y2="2011.41" stroke="#231815" stroke-width="3.2"/>
<path d="M249.4,2019L252.3,2005.7L255.3,2012.2L262.1,2014.1 Z" fill="#231815"/>
<line x1="273.7" y1="2092" x2="288.04" y2="2068.17" stroke="#231815" stroke-width="3.2"/>
<path d="M293.2,2059.6L292.6,2073.2L288.6,2067.3L281.4,2066.5 Z" fill="#231815"/>
<line x1="243.6" y1="2297.7" x2="222.92" y2="2230.9" stroke="#231815" stroke-width="3.6"/>
<path d="M217,2211.8L231.1,2230.4L222.6,2229.9L215.9,2235.2 Z" fill="#231815"/>
<path d="M132.8,2338.8 C108,2360 90,2390 92.5,2404 C95,2416 114,2415 131,2410" fill="none" stroke="#231815" stroke-width="3.8"/>
<path d="M147.4,2403.6L128,2399.2L131.5,2410.2L132.8,2421.3 Z" fill="#231815"/>
<text x="535.4" y="1946" font-size="35" fill="#1d1d1b" font-weight="bold">g</text>
<defs><filter id="gbl" x="-50%" y="-50%" width="200%" height="200%"><feGaussianBlur stdDeviation="14"/></filter></defs>
<ellipse cx="843.5925000000002" cy="2270.39375" rx="52" ry="28" fill="#edc58e" opacity="0.55" filter="url(#gbl)"/>
<ellipse cx="873.03375" cy="2129.9375000000005" rx="46" ry="38" fill="#8ab89a" opacity="0.5" filter="url(#gbl)"/>
<ellipse cx="935.1875" cy="2243.4375" rx="60" ry="30" fill="#a7aec6" opacity="0.35" filter="url(#gbl)"/>
<path d="M828 2282h0M875 2288h0M884 2286h0M842 2291h0M856 2285h0M854 2300h0M823 2278h0M835 2270h0M855 2262h0M895 2256h0M816 2264h0M851 2303h0M819 2295h0M818 2304h0M839 2299h0M876 2255h0M854 2274h0M838 2262h0M886 2286h0M775 2248h0M822 2247h0M774 2276h0M798 2272h0M790 2304h0M859 2251h0M817 2274h0M891 2292h0M838 2293h0M870 2287h0M884 2254h0M831 2292h0M901 2248h0M848 2287h0M792 2270h0M872 2278h0M760 2245h0M790 2265h0M906 2295h0M880 2253h0M824 2277h0M849 2277h0M868 2290h0M851 2288h0M870 2258h0M837 2291h0M884 2305h0M817 2274h0M856 2272h0M901 2328h0M874 2289h0M744 2253h0M828 2258h0M866 2306h0M843 2257h0M874 2225h0M859 2242h0M843 2297h0M845 2275h0M834 2303h0M761 2279h0M868 2272h0M840 2286h0M785 2238h0M788 2271h0M880 2293h0M848 2243h0M863 2307h0M866 2227h0M770 2293h0M846 2283h0M888 2259h0M881 2230h0M812 2290h0M927 2288h0M759 2256h0M881 2252h0M837 2290h0M814 2263h0M888 2311h0M794 2275h0M770 2286h0M811 2264h0M845 2309h0M839 2242h0M846 2263h0M874 2280h0M821 2272h0M864 2251h0M835 2291h0M818 2248h0M836 2250h0M849 2303h0M818 2285h0M828 2307h0M833 2286h0M838 2281h0M852 2234h0M826 2244h0M903 2247h0M870 2271h0M901 2278h0M800 2279h0M847 2291h0M880 2281h0M867 2279h0M825 2271h0M859 2225h0M836 2279h0M835 2283h0M890 2260h0M882 2314h0M843 2265h0M804 2311h0M872 2280h0M824 2307h0M865 2263h0M874 2276h0M855 2276h0M853 2288h0M844 2263h0M891 2267h0M839 2288h0M832 2248h0M759 2271h0M852 2256h0M854 2258h0M800 2217h0M863 2250h0M818 2280h0M847 2273h0M811 2303h0M870 2269h0M813 2265h0M873 2263h0M846 2299h0M830 2289h0M831 2292h0M837 2260h0M837 2289h0M835 2276h0M860 2255h0M816 2254h0M792 2255h0M856 2294h0M881 2314h0M855 2253h0M797 2284h0M869 2295h0M784 2231h0M818 2264h0M859 2290h0M859 2254h0M801 2248h0M898 2281h0M795 2268h0M888 2292h0M861 2283h0M853 2306h0M804 2270h0M814 2240h0M829 2266h0M836 2305h0M837 2271h0M887 2269h0M789 2246h0M833 2303h0M894 2325h0M776 2275h0M811 2275h0M859 2271h0M863 2295h0M879 2305h0M877 2258h0M898 2263h0M838 2258h0M846 2265h0M862 2309h0M838 2306h0M890 2293h0M821 2215h0M915 2269h0M865 2285h0M842 2264h0M915 2280h0M878 2244h0M898 2291h0M793 2291h0M821 2302h0M854 2276h0M788 2310h0M861 2258h0M842 2270h0M744 2253h0M813 2261h0M850 2286h0M908 2290h0M910 2272h0M855 2289h0M839 2289h0M880 2257h0M802 2281h0M831 2278h0M854 2273h0M791 2239h0M834 2288h0M758 2280h0M855 2271h0M773 2239h0M777 2294h0M893 2238h0M852 2282h0M804 2227h0M802 2242h0M828 2270h0M845 2318h0M831 2282h0M803 2246h0M875 2288h0M819 2280h0M866 2278h0M884 2272h0M812 2273h0M889 2272h0M877 2281h0M814 2278h0M873 2269h0M867 2271h0M816 2269h0M797 2285h0M832 2274h0M861 2263h0M918 2288h0M859 2252h0M766 2254h0M858 2279h0M780 2293h0M824 2204h0M827 2283h0M837 2268h0M813 2284h0M838 2275h0M787 2307h0M860 2273h0M865 2244h0M874 2284h0M857 2269h0M844 2271h0M868 2245h0M840 2287h0M824 2286h0M819 2297h0M825 2268h0M808 2303h0M883 2242h0M841 2296h0M869 2271h0M801 2279h0M862 2308h0M863 2246h0M823 2287h0M840 2266h0M869 2259h0M846 2249h0M923 2299h0M870 2290h0M814 2275h0M800 2249h0M866 2253h0M852 2261h0M798 2292h0M837 2288h0M870 2260h0M753 2301h0M844 2309h0M853 2275h0M864 2242h0M864 2281h0M871 2326h0M867 2269h0M812 2275h0M852 2272h0M820 2262h0M852 2285h0M797 2252h0M867 2278h0M849 2290h0M869 2251h0M868 2249h0M864 2302h0M831 2289h0M820 2295h0M778 2286h0M822 2281h0M838 2275h0M781 2283h0M865 2262h0M880 2281h0M849 2270h0M809 2287h0M828 2295h0M868 2291h0M859 2273h0M924 2265h0M910 2297h0M876 2262h0M869 2306h0M783 2288h0M847 2287h0M804 2267h0M838 2305h0M879 2285h0M900 2290h0M802 2255h0M825 2291h0M793 2281h0M830 2274h0M812 2271h0M844 2253h0M821 2273h0M824 2275h0M827 2272h0M885 2295h0M826 2271h0M777 2300h0M908 2230h0M846 2262h0M752 2266h0M868 2307h0M866 2284h0M876 2313h0M845 2264h0M857 2269h0M813 2269h0M855 2303h0M817 2288h0M889 2252h0M828 2290h0M806 2276h0M826 2259h0M812 2265h0M940 2264h0M919 2293h0M848 2261h0M882 2276h0M857 2274h0M875 2256h0M854 2285h0M855 2277h0M837 2288h0M857 2253h0M814 2255h0M810 2284h0M827 2295h0M865 2280h0M803 2297h0M841 2257h0M877 2307h0M816 2276h0M841 2261h0M838 2270h0M855 2271h0M806 2255h0M845 2263h0M834 2279h0M871 2244h0M790 2236h0M849 2276h0M853 2292h0M844 2261h0M775 2263h0M880 2284h0M797 2237h0M768 2268h0M833 2276h0M893 2279h0M807 2263h0M859 2255h0M799 2291h0M832 2260h0M774 2262h0M827 2275h0M898 2269h0M897 2273h0M887 2287h0M839 2241h0M820 2286h0M780 2303h0M865 2285h0M832 2277h0M843 2284h0M808 2257h0M884 2298h0M823 2290h0M865 2272h0M805 2292h0M828 2269h0M831 2241h0M860 2269h0M797 2274h0M826 2272h0M907 2278h0M798 2270h0M853 2296h0M850 2262h0M832 2286h0M821 2271h0M889 2296h0M848 2248h0M809 2281h0M903 2302h0M863 2295h0M814 2281h0M821 2239h0M826 2261h0M812 2291h0M891 2279h0M816 2275h0M793 2228h0M854 2281h0M864 2283h0M821 2272h0M867 2286h0M863 2308h0M829 2281h0M833 2307h0M831 2261h0M846 2285h0M851 2294h0M844 2266h0M799 2258h0M841 2247h0M869 2254h0M856 2263h0M849 2299h0M797 2286h0M796 2252h0M845 2291h0M858 2269h0M790 2249h0M854 2251h0M865 2288h0M882 2261h0M862 2300h0M847 2284h0M758 2285h0M863 2272h0M797 2280h0M801 2282h0M830 2246h0M875 2296h0M855 2292h0M854 2269h0M807 2275h0M892 2266h0M833 2262h0M852 2281h0M776 2241h0M845 2292h0M830 2287h0M780 2260h0M878 2287h0M810 2268h0M877 2266h0M832 2257h0M825 2293h0M805 2248h0M923 2264h0M772 2268h0M822 2269h0M884 2270h0M852 2281h0M842 2256h0M887 2259h0M873 2261h0M802 2233h0M849 2264h0M782 2261h0M869 2260h0M839 2284h0M873 2285h0M797 2270h0M840 2272h0M794 2273h0M855 2259h0M850 2273h0M832 2269h0M805 2228h0M877 2275h0M844 2271h0M815 2258h0M811 2287h0M840 2260h0M799 2280h0M820 2307h0M810 2270h0M886 2275h0M823 2286h0M796 2254h0M890 2287h0M827 2270h0M859 2276h0M798 2251h0M877 2263h0M800 2247h0M827 2260h0M781 2275h0M841 2279h0M880 2264h0M863 2245h0M836 2290h0M822 2290h0M847 2272h0M854 2278h0M769 2245h0M871 2279h0M925 2263h0M824 2276h0M880 2285h0M884 2310h0M853 2267h0M828 2269h0M845 2244h0M835 2265h0M827 2251h0M835 2324h0M843 2274h0M843 2267h0M834 2261h0M825 2272h0M804 2260h0M874 2305h0M808 2248h0M792 2291h0M847 2250h0M922 2303h0M851 2259h0M901 2275h0M824 2291h0M800 2290h0M886 2257h0M864 2277h0M784 2248h0M899 2290h0M867 2258h0M874 2249h0M906 2267h0M817 2281h0M891 2282h0M883 2266h0M842 2274h0M777 2296h0M869 2280h0M882 2296h0M810 2259h0M825 2285h0M885 2261h0M823 2275h0M845 2268h0M849 2277h0M843 2258h0M938 2298h0M793 2270h0M844 2254h0M844 2238h0M837 2279h0M890 2281h0M813 2224h0M858 2300h0M855 2312h0M896 2254h0M818 2262h0M807 2297h0M912 2283h0M846 2249h0M896 2283h0M828 2265h0M790 2278h0M844 2301h0M818 2243h0M806 2263h0M860 2264h0M869 2292h0M848 2260h0M827 2308h0M830 2284h0M896 2264h0M807 2275h0M790 2272h0M839 2280h0M819 2268h0M833 2293h0M828 2309h0M857 2295h0M851 2269h0M905 2296h0M846 2296h0M836 2286h0M957 2283h0M860 2285h0M888 2290h0M843 2273h0M842 2281h0M801 2277h0M870 2282h0M880 2293h0M899 2282h0M806 2255h0M850 2301h0M854 2251h0M888 2292h0M835 2266h0M804 2302h0M831 2273h0M769 2271h0M862 2310h0M854 2291h0M878 2279h0M820 2270h0M865 2241h0M829 2254h0M901 2296h0M796 2269h0M830 2272h0M841 2286h0M869 2309h0M867 2278h0M843 2253h0M818 2303h0M878 2288h0M842 2258h0M837 2264h0M847 2282h0M822 2271h0M817 2289h0M824 2285h0M802 2301h0M816 2272h0M868 2312h0M874 2287h0M752 2258h0M837 2294h0M837 2288h0M854 2286h0M839 2281h0M758 2279h0M771 2293h0M847 2268h0M813 2295h0M815 2250h0M832 2269h0M865 2296h0M868 2261h0M835 2262h0M833 2284h0M876 2272h0M775 2255h0M792 2256h0M828 2251h0M808 2255h0M838 2287h0M833 2287h0M891 2281h0M880 2266h0M950 2286h0M883 2261h0M861 2275h0M821 2302h0M823 2262h0M864 2248h0M793 2236h0M831 2274h0M799 2258h0M764 2266h0M835 2253h0M817 2252h0M822 2290h0M804 2249h0M848 2269h0M870 2264h0M857 2289h0M805 2276h0M879 2253h0M863 2268h0M882 2236h0M801 2285h0M850 2231h0M838 2205h0M808 2240h0M831 2256h0M873 2305h0M821 2287h0M856 2252h0M820 2293h0M828 2226h0M757 2228h0M825 2249h0M923 2274h0M836 2260h0M778 2282h0M814 2265h0M876 2283h0M857 2261h0M818 2267h0M829 2276h0M809 2287h0M838 2248h0M811 2245h0M838 2259h0M804 2251h0M821 2290h0M885 2289h0M849 2287h0M795 2271h0M839 2260h0M903 2286h0M874 2263h0M831 2275h0M809 2290h0M828 2272h0M847 2285h0M814 2277h0M811 2292h0M827 2273h0M871 2280h0M866 2242h0M843 2282h0M865 2293h0M832 2291h0M865 2271h0M844 2282h0M809 2276h0M863 2305h0M880 2292h0M829 2309h0M776 2279h0M854 2291h0M776 2301h0M875 2271h0M820 2274h0M832 2315h0M820 2282h0M853 2314h0M795 2266h0M842 2255h0M810 2263h0M855 2282h0M815 2297h0M807 2263h0M833 2280h0M840 2284h0M830 2292h0M848 2234h0M871 2287h0M792 2256h0M865 2272h0M813 2254h0M875 2310h0M894 2278h0M849 2286h0M830 2276h0M823 2262h0M788 2254h0M790 2279h0M902 2281h0M835 2279h0M829 2268h0M883 2301h0M894 2262h0M805 2269h0M773 2306h0M881 2306h0M815 2284h0M795 2297h0M855 2230h0M831 2273h0M827 2277h0M812 2298h0M828 2272h0M849 2263h0M849 2295h0M877 2279h0M862 2233h0M864 2264h0M904 2265h0M825 2240h0M820 2258h0M797 2272h0M773 2261h0M868 2292h0M847 2268h0M802 2259h0M880 2281h0M908 2278h0M744 2254h0M831 2261h0M846 2318h0M841 2242h0M780 2266h0M863 2310h0M847 2271h0M858 2301h0M773 2274h0M775 2260h0M856 2267h0M867 2252h0M884 2303h0M848 2288h0M789 2289h0M824 2281h0M861 2302h0M885 2228h0M872 2283h0M837 2272h0M874 2250h0M827 2300h0M810 2278h0M805 2238h0M852 2289h0M808 2263h0M863 2285h0M910 2274h0M923 2275h0M842 2267h0M815 2260h0M874 2271h0M828 2289h0M859 2278h0M823 2274h0M806 2288h0M794 2263h0M853 2283h0M821 2269h0M837 2282h0M837 2296h0M844 2299h0M800 2266h0M844 2238h0M862 2269h0M781 2298h0M834 2282h0M807 2294h0M859 2294h0M854 2292h0M824 2262h0M888 2300h0M807 2229h0M808 2286h0M886 2282h0M786 2281h0M873 2306h0M825 2266h0M842 2265h0M825 2258h0M776 2278h0M842 2276h0M844 2262h0M824 2301h0M880 2310h0M814 2237h0M868 2278h0M768 2265h0M858 2278h0M823 2254h0M873 2309h0M878 2258h0M879 2296h0M853 2291h0M807 2261h0M882 2279h0M874 2280h0M855 2278h0M833 2288h0M834 2298h0M979 2269h0M815 2294h0M795 2256h0M813 2282h0M771 2258h0M811 2269h0M797 2254h0M872 2294h0M848 2297h0M834 2273h0M862 2278h0M840 2253h0M862 2271h0M828 2288h0M761 2250h0M891 2266h0M877 2296h0M856 2237h0M765 2269h0M837 2277h0M831 2303h0M819 2279h0M869 2256h0M828 2222h0M891 2297h0M827 2281h0M770 2256h0M858 2269h0M837 2245h0M830 2256h0M842 2261h0M815 2258h0M822 2316h0M844 2281h0M858 2270h0M848 2284h0M890 2299h0M793 2262h0M812 2248h0M836 2258h0M842 2240h0M850 2221h0M830 2296h0M840 2276h0M804 2241h0M861 2275h0M844 2277h0M874 2286h0M871 2319h0M850 2285h0M858 2270h0M812 2293h0M833 2253h0M888 2260h0M903 2280h0M853 2240h0M805 2262h0M882 2269h0M837 2288h0M840 2287h0M819 2258h0M846 2299h0M882 2249h0M838 2237h0M818 2291h0M864 2302h0M794 2276h0M855 2315h0M850 2236h0M909 2234h0M853 2277h0M912 2285h0M836 2264h0M831 2265h0M884 2264h0M846 2274h0M869 2246h0M841 2265h0M867 2276h0M866 2292h0M818 2276h0M870 2303h0M861 2288h0M865 2268h0M906 2273h0M834 2285h0M846 2277h0M801 2283h0M889 2281h0M796 2262h0M906 2277h0M813 2281h0M870 2274h0M821 2277h0M884 2280h0M836 2300h0M838 2286h0M870 2248h0M887 2288h0M811 2251h0M838 2273h0M862 2257h0M862 2276h0M836 2254h0M804 2284h0M824 2256h0M814 2267h0M830 2315h0M830 2249h0M840 2284h0M796 2264h0M847 2261h0M854 2256h0M871 2240h0M869 2282h0M844 2265h0M837 2282h0M851 2252h0M866 2287h0M824 2252h0M854 2244h0M823 2255h0M840 2292h0M832 2275h0M826 2269h0M832 2257h0M873 2311h0M786 2273h0M887 2263h0M807 2276h0M827 2291h0M849 2258h0M769 2244h0M890 2274h0M823 2256h0M804 2247h0M831 2273h0M829 2251h0M846 2255h0M857 2254h0M852 2288h0M792 2263h0M843 2242h0M830 2281h0M844 2266h0M793 2296h0M854 2269h0M838 2251h0M859 2292h0M800 2254h0M864 2275h0M827 2286h0M799 2261h0M865 2282h0M859 2239h0M840 2280h0M810 2286h0M809 2261h0M861 2318h0M865 2282h0M800 2283h0M828 2307h0M822 2237h0M761 2277h0M845 2270h0M830 2268h0M878 2290h0M876 2266h0M786 2268h0M831 2285h0M883 2313h0M849 2280h0M871 2271h0M834 2315h0M844 2280h0M900 2290h0M842 2300h0M819 2267h0M808 2303h0M866 2224h0M870 2281h0M884 2298h0M849 2248h0M859 2281h0M822 2318h0M835 2268h0M869 2232h0M769 2269h0M823 2269h0M828 2313h0M901 2319h0M785 2241h0M905 2298h0M847 2275h0M913 2284h0M823 2268h0M848 2249h0M885 2283h0M823 2255h0M822 2265h0M820 2288h0M826 2288h0M809 2303h0M876 2254h0M838 2262h0M841 2255h0M836 2262h0M850 2277h0M906 2284h0M833 2238h0M841 2268h0M830 2279h0M805 2284h0M848 2269h0M842 2300h0M834 2266h0M787 2231h0M802 2276h0M822 2227h0M870 2270h0M859 2283h0M829 2262h0M851 2285h0M792 2315h0M847 2253h0M851 2233h0M822 2262h0M876 2249h0M806 2296h0M912 2282h0M819 2310h0M809 2287h0M784 2233h0M862 2288h0M816 2224h0M821 2305h0M825 2279h0M816 2257h0M844 2299h0M809 2243h0M874 2258h0M763 2258h0M845 2283h0M849 2288h0M831 2273h0M851 2256h0M807 2274h0M797 2299h0M833 2281h0M826 2252h0M843 2265h0M898 2290h0M826 2321h0M849 2315h0M864 2264h0M876 2271h0M861 2310h0M836 2273h0M872 2270h0M837 2291h0M773 2253h0M781 2298h0M830 2266h0M757 2281h0M812 2247h0M786 2263h0M805 2270h0M897 2293h0M802 2262h0M880 2258h0M866 2280h0M906 2269h0M831 2255h0M872 2267h0M816 2264h0M878 2306h0M830 2264h0M807 2262h0M787 2281h0M875 2283h0M807 2230h0M830 2272h0M816 2286h0M846 2323h0M819 2254h0M913 2273h0M870 2276h0M871 2292h0M831 2291h0M817 2249h0M792 2287h0M884 2251h0M819 2268h0M869 2261h0M875 2271h0M857 2253h0M862 2270h0M876 2288h0M822 2253h0M859 2287h0M884 2273h0M842 2254h0M836 2255h0M848 2257h0M866 2259h0M802 2232h0M830 2279h0M771 2265h0M807 2260h0M827 2309h0M847 2265h0M838 2250h0M882 2259h0M796 2236h0M822 2242h0M835 2280h0M849 2261h0M840 2282h0M897 2275h0M833 2266h0M836 2275h0M885 2287h0M852 2277h0M828 2283h0M853 2266h0M863 2283h0M896 2299h0M793 2300h0M829 2268h0M797 2251h0M820 2259h0M824 2307h0M900 2246h0M819 2273h0M815 2243h0M825 2282h0M833 2285h0M801 2267h0M831 2260h0M788 2256h0M836 2225h0M829 2241h0M842 2294h0M796 2267h0M869 2236h0M760 2276h0M843 2302h0M801 2276h0M847 2278h0M799 2298h0M805 2274h0M821 2250h0M821 2271h0M844 2262h0M758 2235h0M858 2290h0M777 2280h0M839 2272h0M867 2279h0M885 2261h0M880 2295h0M811 2274h0M861 2269h0M848 2284h0M853 2251h0M812 2264h0M842 2295h0M850 2260h0M789 2250h0M795 2295h0M895 2293h0M847 2277h0M871 2290h0M794 2277h0M847 2275h0M842 2319h0M800 2229h0M860 2269h0M894 2284h0M890 2274h0M844 2263h0M884 2300h0M839 2273h0M778 2254h0M804 2251h0M847 2277h0M829 2291h0M830 2290h0M783 2287h0M871 2269h0M851 2257h0M829 2234h0M863 2287h0M839 2262h0M906 2276h0M845 2265h0M794 2249h0M847 2248h0M776 2279h0M765 2264h0M829 2284h0M808 2290h0M911 2278h0M830 2260h0M747 2282h0M890 2266h0M894 2279h0M843 2293h0M907 2297h0M823 2278h0M767 2256h0M834 2262h0M881 2229h0M817 2243h0M828 2291h0M885 2253h0M844 2290h0M863 2278h0M858 2275h0M817 2243h0M838 2258h0M888 2284h0M832 2323h0M795 2253h0M831 2256h0M839 2267h0M851 2223h0M841 2269h0M895 2293h0M854 2267h0M803 2307h0M881 2281h0M830 2278h0M921 2273h0M864 2316h0M813 2248h0M869 2284h0M833 2258h0M801 2272h0M839 2308h0M901 2279h0M819 2271h0M870 2288h0M854 2271h0M870 2279h0M859 2262h0M868 2237h0M804 2237h0M873 2281h0M806 2275h0M863 2283h0M859 2281h0M846 2229h0M852 2288h0M848 2238h0M811 2276h0M824 2257h0M846 2282h0M830 2317h0M835 2265h0M828 2284h0M826 2280h0M833 2272h0M804 2291h0M843 2260h0M831 2250h0M807 2285h0M760 2276h0M812 2276h0M859 2282h0M829 2293h0M845 2286h0M890 2298h0M824 2319h0M844 2251h0M843 2213h0M842 2282h0M900 2302h0M837 2290h0M861 2256h0M823 2280h0M884 2279h0M795 2275h0M853 2286h0M856 2273h0M793 2264h0M860 2281h0M805 2258h0M875 2259h0M863 2272h0M828 2276h0M842 2276h0M816 2320h0M800 2281h0M854 2249h0M856 2285h0M785 2249h0M885 2273h0M811 2283h0M884 2280h0M869 2274h0M825 2256h0M810 2271h0M833 2259h0M789 2289h0M915 2285h0M873 2283h0M871 2289h0M823 2253h0M876 2287h0M854 2275h0M861 2257h0M766 2242h0M804 2293h0M861 2295h0M819 2237h0M901 2295h0M795 2254h0M752 2265h0M808 2281h0M796 2287h0M805 2294h0M850 2273h0M864 2303h0M935 2262h0M897 2310h0M855 2290h0M822 2290h0M842 2280h0M850 2253h0M800 2277h0M784 2254h0M838 2267h0M833 2266h0M806 2274h0M897 2302h0M862 2267h0M778 2267h0M852 2265h0M830 2264h0M829 2273h0M872 2246h0M833 2259h0M804 2246h0M856 2268h0M823 2259h0M846 2308h0M819 2223h0M826 2288h0M909 2288h0M849 2301h0M901 2268h0M842 2250h0M835 2268h0M796 2274h0M845 2259h0M840 2277h0M866 2269h0M780 2224h0M863 2269h0M841 2262h0M911 2277h0M791 2274h0M889 2293h0M824 2275h0M920 2310h0M902 2286h0M859 2296h0M847 2285h0M809 2278h0M841 2326h0M834 2305h0M869 2264h0M815 2261h0M825 2241h0M867 2323h0M849 2258h0M836 2295h0M877 2309h0M863 2305h0M851 2294h0M869 2257h0M791 2307h0M788 2288h0M786 2255h0M862 2269h0M848 2292h0M818 2296h0M800 2300h0M807 2265h0M781 2266h0M887 2285h0M822 2253h0M891 2301h0M782 2296h0M931 2268h0M866 2259h0M805 2299h0M853 2265h0M837 2282h0M897 2286h0M849 2278h0M849 2295h0M864 2230h0M788 2237h0M882 2260h0M868 2259h0M783 2248h0M802 2271h0M825 2260h0M781 2304h0M913 2310h0M843 2267h0M775 2261h0M822 2282h0M845 2261h0M873 2276h0M817 2227h0M827 2289h0M854 2298h0M828 2263h0M881 2278h0M867 2316h0M841 2234h0M911 2270h0M836 2313h0M787 2290h0" stroke="#e9b873" stroke-opacity="0.5" stroke-width="3.8" stroke-linecap="round" fill="none"/>
<path d="M920 2218h0M886 2232h0M922 2222h0M966 2248h0M944 2238h0M873 2245h0M992 2207h0M887 2215h0M907 2238h0M936 2274h0M1033 2238h0M974 2241h0M921 2195h0M830 2248h0M910 2259h0M978 2242h0M965 2259h0M956 2232h0M941 2189h0M983 2271h0M926 2236h0M929 2278h0M971 2229h0M964 2225h0M993 2273h0M1010 2291h0M945 2226h0M989 2226h0M968 2214h0M921 2259h0M934 2271h0M882 2237h0M907 2224h0M929 2283h0M1001 2266h0M948 2224h0M943 2230h0M984 2229h0M905 2222h0M979 2245h0M982 2213h0M1012 2243h0M1018 2265h0M947 2254h0M964 2259h0M1010 2237h0M872 2197h0M982 2235h0M941 2201h0M1013 2272h0M862 2210h0M949 2282h0M951 2257h0M958 2220h0M902 2205h0M1031 2233h0M962 2320h0M920 2253h0M1005 2224h0M929 2240h0M969 2224h0M921 2229h0M919 2289h0M913 2234h0M964 2220h0M965 2208h0M1017 2248h0M915 2220h0M852 2278h0M994 2233h0M918 2259h0M961 2207h0M1006 2244h0M943 2228h0M987 2284h0M972 2298h0M912 2269h0M999 2272h0M911 2255h0M949 2261h0M973 2228h0M939 2283h0M982 2262h0M955 2279h0M877 2284h0M986 2246h0M967 2210h0M970 2229h0M921 2248h0M1018 2274h0M938 2246h0M919 2234h0M971 2272h0M1027 2207h0M952 2239h0M883 2260h0M950 2236h0M904 2246h0M985 2235h0M942 2297h0M990 2229h0M950 2214h0M1016 2227h0M903 2231h0M879 2205h0M960 2258h0M930 2224h0M927 2263h0M978 2244h0M982 2249h0M886 2263h0M915 2259h0M939 2268h0M933 2244h0M951 2260h0M966 2195h0M902 2210h0M1020 2202h0M919 2226h0M986 2263h0M936 2249h0M978 2254h0M974 2217h0M1059 2214h0M1012 2245h0M1027 2235h0M864 2271h0M945 2243h0M997 2286h0M928 2267h0M907 2269h0M933 2286h0M974 2276h0M986 2259h0M974 2317h0M903 2222h0M899 2242h0M903 2261h0M955 2257h0M950 2233h0M894 2233h0M954 2245h0M956 2247h0M911 2247h0M960 2230h0M966 2252h0M1003 2220h0M968 2235h0M993 2256h0M906 2236h0M989 2247h0M966 2224h0M1032 2234h0M1000 2277h0M1001 2273h0M940 2277h0M983 2232h0M958 2215h0M945 2245h0M956 2255h0M818 2237h0M970 2250h0M991 2234h0M818 2228h0M982 2262h0M963 2278h0M954 2228h0M976 2222h0M944 2232h0M882 2253h0M940 2250h0M922 2275h0M960 2226h0M995 2242h0M910 2244h0M929 2201h0M989 2285h0M973 2261h0M954 2246h0M1041 2192h0M1004 2224h0M847 2214h0M993 2237h0M894 2243h0M907 2266h0M948 2265h0M898 2246h0M962 2272h0M950 2211h0M910 2244h0M901 2245h0M888 2267h0M874 2250h0M904 2253h0M897 2276h0M950 2262h0M906 2218h0M935 2229h0M950 2274h0M930 2287h0M926 2241h0M959 2244h0M893 2243h0M990 2282h0M892 2224h0M958 2261h0M937 2236h0M1035 2224h0M1013 2233h0M954 2238h0M957 2225h0M957 2246h0M950 2244h0M946 2248h0M918 2236h0M915 2218h0M967 2289h0M948 2277h0M937 2252h0M907 2222h0M963 2257h0M907 2257h0M1034 2291h0M961 2233h0M933 2251h0M954 2229h0M835 2255h0M962 2218h0M890 2225h0M929 2260h0M996 2179h0M924 2250h0M952 2230h0M975 2238h0M1005 2260h0M939 2224h0M943 2258h0M1025 2230h0M992 2244h0M959 2239h0M957 2226h0M934 2258h0M910 2267h0M931 2264h0M994 2224h0M956 2253h0M931 2220h0M962 2304h0M920 2222h0M950 2260h0M930 2230h0M980 2270h0M905 2245h0M974 2266h0M966 2261h0M886 2237h0M915 2239h0M968 2220h0M912 2265h0M974 2216h0M935 2303h0M896 2241h0M1055 2259h0M977 2231h0M922 2220h0M968 2293h0M1017 2250h0M967 2256h0M959 2237h0M1035 2294h0M849 2252h0M909 2260h0M878 2290h0M1032 2211h0M927 2222h0M915 2250h0M928 2284h0M943 2282h0M946 2262h0M908 2267h0M1011 2253h0M970 2231h0M903 2277h0M899 2262h0M983 2234h0M948 2231h0M902 2280h0M1001 2224h0M978 2251h0M951 2229h0M888 2236h0M993 2275h0M990 2216h0M960 2224h0M998 2242h0M968 2256h0M966 2236h0M957 2233h0M929 2222h0M931 2248h0M935 2248h0M953 2220h0M920 2250h0M906 2250h0M1021 2228h0M902 2219h0M909 2235h0M877 2263h0M941 2256h0M942 2266h0M891 2276h0M971 2257h0M959 2233h0M873 2248h0M953 2201h0M993 2243h0M957 2222h0M938 2251h0M863 2257h0M980 2218h0M976 2217h0M976 2203h0M883 2281h0M1001 2249h0M983 2225h0M1005 2244h0M950 2228h0M907 2254h0M930 2257h0M925 2286h0M870 2234h0M926 2251h0M938 2236h0M961 2222h0M907 2244h0M908 2263h0M978 2242h0M963 2226h0M996 2257h0M969 2253h0M985 2244h0M966 2198h0M987 2248h0M995 2271h0M951 2236h0M1021 2294h0M932 2281h0M957 2242h0M955 2248h0M973 2272h0M902 2246h0M987 2283h0M982 2238h0M968 2238h0M889 2243h0M908 2256h0M983 2230h0M924 2240h0M928 2230h0M892 2245h0M911 2263h0M924 2310h0M1042 2243h0M964 2217h0M1002 2246h0M926 2243h0M956 2262h0M958 2270h0M1036 2265h0M951 2244h0M930 2268h0M931 2221h0M988 2233h0M907 2232h0M939 2285h0M926 2203h0M959 2245h0M875 2270h0M867 2252h0M895 2218h0M997 2265h0M890 2263h0M987 2241h0M958 2243h0M912 2225h0M1043 2244h0M923 2255h0M911 2305h0M949 2246h0M928 2217h0M943 2265h0M854 2296h0M1013 2278h0M868 2237h0M892 2262h0M985 2234h0M958 2210h0M909 2204h0M886 2228h0M927 2239h0M956 2232h0M848 2218h0M857 2222h0M957 2242h0M960 2253h0M922 2256h0M904 2247h0M987 2246h0M924 2236h0M949 2254h0M990 2249h0M983 2240h0M952 2216h0M925 2271h0M911 2225h0M831 2198h0M968 2249h0M957 2265h0M886 2262h0M894 2269h0M945 2240h0M931 2227h0M976 2276h0M983 2237h0M930 2293h0M852 2292h0M966 2238h0M1035 2260h0M922 2232h0M966 2231h0M917 2273h0M956 2181h0M890 2254h0M999 2240h0M907 2225h0M948 2245h0M952 2241h0M1001 2253h0M945 2269h0M927 2219h0M916 2273h0M961 2191h0M900 2244h0M950 2233h0M961 2193h0M990 2259h0M932 2223h0M974 2265h0M956 2259h0M968 2236h0M931 2234h0M941 2253h0M935 2252h0M1000 2214h0M870 2217h0M883 2226h0M1012 2233h0M1000 2264h0M935 2246h0M998 2209h0M930 2214h0M871 2243h0M960 2250h0M895 2252h0M971 2256h0M942 2236h0M969 2255h0M972 2229h0M979 2250h0M958 2211h0M897 2239h0M965 2239h0M1009 2238h0M972 2229h0M905 2294h0M895 2204h0M908 2246h0M961 2248h0M917 2273h0M939 2272h0M867 2270h0M984 2276h0M913 2227h0M938 2197h0M960 2270h0M920 2280h0M1014 2263h0M911 2290h0M954 2216h0M998 2247h0M895 2260h0M1013 2300h0M1003 2229h0M972 2289h0M888 2239h0M887 2243h0M985 2244h0M919 2253h0M898 2231h0M942 2266h0M831 2267h0M945 2254h0M900 2279h0M948 2286h0M932 2240h0M967 2238h0M927 2255h0M884 2235h0M992 2254h0M883 2242h0M987 2252h0M966 2211h0M961 2257h0M889 2223h0M975 2280h0M931 2239h0M984 2252h0M862 2262h0M935 2227h0M932 2228h0M900 2278h0M991 2185h0M948 2246h0M994 2252h0M946 2226h0M953 2218h0M930 2247h0M954 2272h0M1004 2249h0M882 2243h0M880 2216h0M929 2253h0M976 2264h0M964 2234h0M963 2275h0M968 2256h0M931 2294h0M927 2284h0M912 2240h0M948 2245h0M930 2260h0M949 2243h0M939 2250h0M948 2262h0M957 2254h0M971 2228h0M954 2252h0M875 2282h0M909 2226h0M1041 2226h0M902 2281h0M955 2204h0M924 2212h0M942 2229h0M954 2260h0M957 2258h0M937 2249h0M924 2254h0M925 2249h0M895 2234h0M978 2213h0M1033 2255h0M992 2279h0M1037 2246h0M961 2244h0M936 2226h0M909 2267h0M925 2255h0M933 2237h0M925 2247h0M922 2225h0M1055 2227h0M877 2243h0M937 2218h0M963 2245h0M960 2245h0M1011 2245h0M996 2285h0M922 2240h0M945 2246h0M919 2245h0M931 2220h0M889 2243h0M911 2245h0M973 2228h0M898 2219h0M938 2247h0M949 2242h0M962 2297h0M962 2272h0M897 2247h0M906 2254h0M993 2249h0M917 2265h0M888 2258h0M930 2209h0M951 2219h0M995 2230h0M900 2232h0M922 2241h0M902 2258h0M915 2264h0M912 2291h0M949 2226h0M986 2235h0M1011 2208h0M950 2251h0M892 2247h0M974 2254h0M896 2251h0M1016 2253h0M926 2283h0M936 2251h0M953 2284h0M974 2198h0M956 2238h0M929 2231h0M957 2245h0M920 2230h0M987 2207h0M970 2242h0M905 2266h0M931 2264h0M990 2233h0M980 2267h0M922 2276h0M910 2245h0M930 2286h0M938 2271h0M962 2259h0M978 2216h0M985 2223h0M948 2266h0M916 2246h0M1058 2237h0M904 2278h0M1007 2238h0M897 2250h0M1001 2234h0M932 2223h0M971 2259h0M894 2246h0M977 2223h0M1003 2231h0M859 2252h0M950 2245h0M993 2225h0M919 2285h0M934 2309h0" stroke="#46578c" stroke-opacity="0.42" stroke-width="3.6" stroke-linecap="round" fill="none"/>
<path d="M902 2146h0M858 2114h0M845 2149h0M854 2147h0M887 2165h0M779 2090h0M830 2122h0M901 2215h0M927 2182h0M886 2123h0M892 2068h0M906 2137h0M895 2104h0M835 2108h0M872 2143h0M861 2142h0M897 2100h0M869 2084h0M854 2158h0M848 2187h0M891 2163h0M877 2160h0M911 2141h0M855 2113h0M941 2136h0M857 2109h0M814 2109h0M884 2119h0M846 2142h0M889 2121h0M884 2104h0M903 2106h0M861 2135h0M858 2095h0M947 2189h0M812 2128h0M829 2137h0M827 2145h0M892 2188h0M915 2124h0M906 2123h0M869 2117h0M811 2143h0M802 2116h0M891 2139h0M818 2105h0M897 2170h0M929 2084h0M889 2120h0M900 2084h0M868 2154h0M850 2119h0M839 2163h0M827 2098h0M861 2121h0M947 2151h0M844 2147h0M885 2143h0M871 2147h0M832 2090h0M858 2097h0M898 2196h0M916 2152h0M885 2113h0M828 2144h0M821 2135h0M868 2155h0M875 2136h0M853 2077h0M861 2153h0M910 2180h0M838 2099h0M898 2122h0M963 2155h0M820 2109h0M928 2084h0M878 2091h0M929 2126h0M837 2075h0M848 2050h0M856 2198h0M877 2125h0M832 2138h0M856 2104h0M922 2153h0M842 2174h0M871 2148h0M878 2170h0M895 2125h0M898 2124h0M878 2184h0M836 2096h0M859 2115h0M919 2090h0M953 2193h0M857 2136h0M860 2152h0M896 2159h0M900 2196h0M867 2154h0M866 2133h0M881 2132h0M885 2108h0M868 2113h0M832 2105h0M856 2126h0M818 2118h0M833 2102h0M880 2168h0M883 2119h0M858 2172h0M816 2160h0M820 2106h0M875 2126h0M931 2156h0M871 2162h0M874 2108h0M912 2184h0M918 2102h0M940 2129h0M900 2173h0M957 2094h0M837 2165h0M890 2125h0M770 2133h0M866 2051h0M967 2068h0M853 2130h0M881 2157h0M864 2104h0M860 2066h0M834 2189h0M849 2127h0M940 2174h0M877 2156h0M864 2103h0M908 2142h0M929 2132h0M860 2142h0M866 2122h0M842 2136h0M884 2191h0M872 2078h0M889 2206h0M858 2106h0M867 2043h0M861 2125h0M820 2144h0M842 2071h0M848 2149h0M941 2181h0M880 2118h0M864 2162h0M855 2143h0M907 2109h0M852 2144h0M873 2129h0M854 2128h0M938 2184h0M816 2127h0M876 2134h0M824 2122h0M878 2112h0M884 2059h0M820 2129h0M887 2129h0M857 2136h0M911 2166h0M870 2118h0M910 2155h0M904 2128h0M843 2135h0M851 2166h0M903 2069h0M897 2177h0M910 2123h0M843 2159h0M909 2139h0M832 2080h0M882 2108h0M849 2143h0M910 2074h0M849 2170h0M872 2122h0M896 2100h0M830 2128h0M928 2172h0M873 2164h0M859 2094h0M814 2133h0M905 2149h0M872 2120h0M911 2136h0M822 2169h0M850 2142h0M873 2166h0M882 2172h0M880 2119h0M855 2151h0M844 2158h0M865 2103h0M842 2124h0M935 2165h0M874 2105h0M940 2133h0M873 2120h0M920 2145h0M857 2136h0M838 2095h0M867 2043h0M915 2200h0M834 2123h0M817 2131h0M881 2157h0M826 2108h0M850 2122h0M954 2137h0M872 2117h0M901 2216h0M914 2186h0M835 2161h0M874 2172h0M910 2158h0M814 2129h0M855 2144h0M874 2166h0M816 2102h0M870 2142h0M859 2130h0M875 2166h0M869 2140h0M809 2043h0M821 2137h0M792 2135h0M870 2132h0M847 2116h0M902 2148h0M872 2117h0M881 2171h0M872 2121h0M831 2130h0M841 2084h0M904 2117h0M801 2101h0M938 2138h0M826 2092h0M898 2149h0M881 2128h0M890 2183h0M890 2130h0M824 2140h0M928 2160h0M829 2133h0M919 2119h0M891 2173h0M931 2091h0M811 2136h0M898 2125h0M872 2120h0M916 2070h0M882 2094h0M849 2082h0M841 2128h0M874 2189h0M865 2143h0M886 2142h0M925 2144h0M878 2130h0M873 2131h0M908 2138h0M875 2132h0M900 2122h0M906 2119h0M898 2196h0M881 2131h0M831 2150h0M874 2161h0M850 2146h0M937 2154h0M861 2091h0M873 2153h0M894 2101h0M837 2097h0M837 2119h0M882 2194h0M880 2179h0M814 2173h0M901 2150h0M902 2156h0M941 2167h0M811 2070h0M930 2138h0M920 2128h0M850 2119h0M884 2140h0M851 2147h0M895 2107h0M833 2066h0M862 2132h0M848 2111h0M868 2133h0M893 2161h0M889 2170h0M839 2147h0M886 2102h0M849 2143h0M876 2094h0M853 2178h0M903 2139h0M921 2111h0M867 2162h0M861 2096h0M894 2186h0M783 2126h0M829 2118h0M823 2207h0M849 2131h0M848 2098h0M857 2137h0M935 2150h0M929 2107h0M876 2119h0M817 2242h0M864 2139h0M846 2111h0M836 2160h0M859 2126h0M879 2095h0M881 2129h0M889 2123h0M874 2149h0M907 2116h0M908 2107h0M866 2136h0M878 2055h0M838 2122h0M906 2115h0M927 2084h0M876 2150h0M874 2141h0M906 2112h0M894 2169h0M865 2059h0M831 2100h0M835 2141h0M844 2206h0M893 2095h0M863 2179h0M897 2104h0M910 2123h0M952 2126h0M894 2153h0M857 2126h0M914 2154h0M871 2146h0M935 2170h0M890 2145h0M817 2130h0M856 2153h0M851 2144h0M836 2156h0M847 2128h0M894 2125h0M873 2166h0M936 2085h0M841 2150h0M906 2122h0M876 2127h0M954 2137h0M831 2079h0M828 2167h0M859 2192h0M896 2148h0M896 2161h0M906 2107h0M853 2113h0M877 2125h0M829 2105h0M937 2208h0M843 2141h0M872 2106h0M898 2134h0M932 2155h0M862 2049h0M869 2159h0M848 2157h0M897 2081h0M866 2142h0M900 2141h0M873 2122h0M863 2132h0M835 2148h0M861 2148h0M855 2143h0M878 2161h0M889 2164h0M867 2130h0M864 2092h0M869 2166h0M900 2110h0M884 2158h0M825 2137h0M885 2158h0M882 2080h0M801 2185h0M859 2171h0M918 2142h0M832 2170h0M872 2149h0M890 2165h0M909 2093h0M823 2131h0M873 2157h0M868 2126h0M945 2185h0M914 2171h0M845 2126h0M871 2098h0M842 2134h0M830 2144h0M890 2128h0M861 2150h0M890 2146h0M830 2076h0M946 2122h0M860 2074h0M845 2106h0M901 2054h0M823 2113h0M856 2106h0M857 2081h0M883 2171h0M878 2117h0M918 2154h0M837 2110h0M851 2128h0M916 2116h0M868 2136h0M831 2112h0M895 2171h0M807 2146h0M863 2172h0M895 2197h0M884 2122h0M844 2084h0M893 2152h0M902 2148h0M820 2113h0M864 2137h0M900 2181h0M883 2070h0M837 2061h0M846 2092h0M881 2127h0M912 2172h0M857 2160h0M873 2147h0M921 2103h0M871 2181h0M846 2136h0M878 2120h0M827 2105h0M838 2162h0M882 2156h0M831 2143h0M878 2166h0M848 2155h0M921 2196h0M840 2093h0M821 2156h0M894 2146h0M842 2168h0M930 2139h0M869 2169h0M891 2177h0M859 2141h0M861 2113h0M863 2123h0M891 2126h0M876 2108h0M830 2172h0M838 2185h0M906 2066h0M851 2117h0M874 2127h0M852 2169h0M869 2162h0M849 2108h0M920 2130h0M834 2122h0M910 2133h0M848 2149h0M908 2131h0M862 2120h0M968 2140h0M935 2136h0M887 2071h0M879 2135h0M862 2119h0M825 2080h0M879 2114h0M870 2127h0M855 2108h0M938 2107h0M855 2121h0M832 2097h0M903 2166h0M878 2235h0M902 2175h0M844 2163h0M932 2129h0M937 2116h0M833 2126h0M845 2149h0M834 2130h0M804 2123h0M910 2130h0M884 2168h0M834 2088h0M876 2142h0M864 2101h0M916 2102h0M864 2130h0M899 2122h0M844 2192h0M843 2154h0M868 2117h0M872 2125h0M884 2055h0M872 2135h0M839 2116h0M955 2202h0M896 2143h0M862 2175h0M857 2105h0M897 2106h0M845 2174h0M817 2123h0M877 2142h0M822 2119h0M861 2191h0M908 2114h0M904 2157h0M869 2125h0M863 2083h0M851 2159h0M924 2198h0M860 2150h0M789 2113h0M829 2153h0M815 2093h0M834 2140h0M902 2108h0M936 2146h0M844 2140h0M873 2159h0M885 2203h0M914 2118h0M901 2160h0M838 2105h0M845 2052h0M895 2129h0M916 2121h0M876 2156h0M907 2147h0M837 2197h0M904 2180h0M930 2184h0M888 2150h0M895 2089h0M902 2106h0M888 2103h0M898 2121h0M960 2151h0M891 2107h0M863 2130h0M863 2118h0M842 2153h0M860 2106h0M886 2109h0M867 2116h0M841 2122h0M844 2090h0M885 2125h0M822 2114h0M880 2147h0M886 2143h0M894 2120h0M845 2148h0M859 2131h0M896 2165h0M916 2117h0M860 2149h0M823 2087h0M894 2117h0M841 2154h0M892 2164h0M861 2122h0M861 2141h0M802 2102h0M898 2112h0M871 2137h0M891 2121h0M833 2206h0M848 2183h0M812 2128h0M866 2191h0M945 2173h0M838 2103h0M847 2113h0M882 2110h0M864 2178h0M923 2082h0M840 2117h0M918 2129h0M940 2153h0M923 2113h0M862 2163h0M893 2078h0M863 2137h0M895 2116h0M934 2146h0M924 2152h0M876 2124h0M832 2155h0M900 2166h0M860 2100h0M860 2122h0M873 2164h0M841 2114h0M897 2164h0M950 2160h0M844 2097h0M845 2132h0M882 2132h0M852 2125h0M870 2151h0M876 2108h0M832 2174h0M870 2127h0M872 2168h0M862 2137h0M865 2150h0M838 2135h0M909 2175h0M895 2145h0M928 2162h0M922 2102h0M835 2153h0M864 2119h0M840 2175h0M831 2131h0M824 2121h0M951 2219h0M856 2100h0M930 2114h0M811 2136h0M836 2083h0M912 2116h0M836 2133h0M867 2167h0M876 2183h0M913 2194h0M912 2141h0M892 2136h0M819 2090h0M899 2063h0M844 2090h0M871 2101h0M882 2128h0M857 2105h0M796 2125h0M828 2118h0M886 2167h0M898 2182h0M824 2148h0M928 2153h0M834 2140h0M855 2111h0M910 2133h0M834 2107h0M941 2116h0M897 2142h0M914 2130h0M840 2109h0M837 2209h0M880 2124h0M917 2159h0M867 2152h0M883 2169h0M931 2131h0M872 2127h0M916 2151h0M900 2165h0M851 2134h0M921 2168h0M901 2128h0M861 2105h0M864 2130h0M823 2163h0M847 2138h0M894 2119h0M810 2155h0M887 2127h0M913 2166h0M840 2126h0M812 2117h0M922 2114h0M902 2091h0M863 2161h0M933 2155h0M899 2190h0M788 2069h0M939 2218h0M894 2138h0M882 2135h0M852 2130h0M869 2153h0M897 2167h0M894 2106h0M922 2057h0M877 2144h0M855 2189h0M835 2092h0M856 2144h0M901 2140h0M896 2115h0M852 2135h0M826 2133h0M859 2153h0M838 2112h0M853 2119h0M838 2121h0M826 2144h0M897 2136h0M867 2105h0M840 2122h0M842 2093h0M879 2134h0M859 2106h0M871 2112h0M858 2137h0M898 2160h0M852 2168h0M833 2123h0M918 2212h0M878 2123h0M860 2094h0M868 2120h0M847 2167h0M846 2182h0M902 2157h0M853 2115h0M804 2132h0M864 2144h0M850 2145h0M821 2059h0M890 2168h0M764 2158h0M861 2127h0M820 2096h0M898 2114h0M872 2128h0M942 2170h0M827 2112h0M833 2085h0M849 2164h0M875 2154h0M868 2120h0M876 2131h0M940 2197h0M886 2153h0M804 2120h0M956 2120h0M901 2174h0M859 2125h0M857 2155h0M874 2179h0M914 2138h0M964 2136h0M852 2123h0M842 2116h0M871 2160h0M818 2083h0M846 2120h0M889 2111h0M926 2124h0M866 2134h0M914 2148h0M874 2117h0M879 2146h0M861 2131h0M809 2108h0M914 2182h0M871 2067h0M937 2137h0M963 2133h0M908 2119h0M921 2175h0M836 2168h0M973 2140h0M831 2136h0M859 2086h0M837 2136h0M820 2159h0M889 2130h0M922 2111h0M897 2095h0M862 2151h0M854 2127h0M896 2183h0M919 2153h0M864 2088h0M933 2198h0M798 2150h0M872 2154h0M884 2129h0M873 2132h0M914 2131h0M854 2151h0M896 2149h0M883 2179h0M912 2145h0M866 2152h0M808 2108h0M848 2135h0M860 2206h0M899 2149h0M952 2144h0M862 2169h0M902 2165h0M915 2128h0M850 2108h0M877 2164h0M836 2112h0M826 2188h0M901 2143h0M830 2096h0M850 2131h0M829 2120h0M916 2139h0M877 2070h0M864 2127h0M849 2088h0M871 2102h0M854 2082h0M870 2160h0M844 2139h0M820 2144h0M892 2124h0M904 2111h0M875 2184h0M872 2099h0M913 2155h0M863 2076h0M807 2078h0M925 2149h0M843 2164h0M924 2114h0M890 2085h0M886 2190h0M824 2128h0M851 2127h0M876 2142h0M904 2153h0M910 2169h0M912 2118h0M887 2124h0M844 2189h0M883 2136h0M799 2116h0M900 2131h0M854 2175h0M862 2121h0M870 2125h0M910 2155h0M871 2122h0M865 2183h0M862 2151h0M818 2135h0M897 2175h0M884 2152h0M884 2167h0M945 2149h0M844 2147h0M869 2152h0M900 2141h0M858 2140h0M829 2136h0M842 2143h0M877 2127h0M831 2129h0M849 2126h0M897 2165h0M828 2155h0M921 2174h0M883 2132h0M934 2132h0M819 2129h0M883 2103h0M830 2187h0M877 2157h0M853 2084h0M867 2173h0M850 2076h0M867 2124h0M874 2102h0M862 2115h0M904 2142h0M904 2136h0M798 2064h0M892 2162h0M904 2135h0M810 2110h0M887 2177h0M861 2115h0M846 2160h0M904 2082h0M916 2111h0M821 2078h0M847 2200h0M963 2107h0M849 2135h0M888 2121h0M817 2113h0M849 2076h0M878 2089h0M812 2171h0M906 2181h0M877 2121h0M870 2091h0M899 2145h0M862 2075h0M869 2182h0M924 2166h0M861 2136h0M893 2142h0M910 2118h0M791 2049h0M841 2087h0M896 2169h0M873 2149h0M876 2139h0M856 2119h0M915 2131h0M872 2169h0M908 2126h0M882 2104h0M878 2143h0M873 2138h0M886 2058h0M844 2132h0M856 2102h0M865 2181h0M865 2112h0M856 2095h0M890 2106h0M905 2165h0M893 2167h0M870 2079h0M871 2152h0M819 2089h0M912 2152h0M920 2160h0M875 2146h0M903 2136h0M866 2142h0M862 2205h0M846 2084h0M828 2159h0M859 2136h0M865 2141h0M822 2129h0M853 2163h0M895 2098h0M839 2146h0M915 2162h0M868 2166h0M790 2106h0M839 2097h0M893 2144h0M883 2130h0M895 2160h0M853 2159h0M840 2182h0M827 2118h0M835 2129h0M919 2116h0M936 2185h0M887 2117h0M905 2050h0M846 2159h0M872 2209h0M849 2089h0M865 2150h0M933 2087h0M879 2173h0M849 2116h0M830 2151h0M902 2155h0M882 2165h0M869 2155h0M902 2177h0M891 2138h0M898 2089h0M811 2174h0M878 2102h0M853 2126h0M876 2110h0M908 2086h0M972 2113h0M932 2162h0M814 2088h0M875 2142h0M858 2132h0M879 2099h0M875 2203h0M850 2099h0M897 2178h0M910 2119h0M870 2139h0M866 2145h0M911 2155h0M873 2127h0M936 2104h0M944 2165h0M876 2111h0M938 2179h0M905 2202h0M809 2128h0M862 2109h0M876 2150h0M892 2131h0M826 2144h0M895 2202h0M906 2138h0M832 2212h0M849 2136h0M900 2152h0M920 2107h0M849 2135h0M829 2108h0M922 2149h0M869 2115h0M875 2132h0M835 2153h0M828 2167h0M861 2061h0M818 2135h0M842 2185h0M922 2205h0M905 2180h0M851 2171h0M857 2130h0M825 2129h0M887 2133h0M834 2156h0M906 2135h0M901 2168h0M838 2127h0M807 2092h0M888 2108h0M887 2146h0M799 2108h0M927 2141h0M877 2112h0M816 2076h0M976 2141h0M842 2133h0M804 2168h0M934 2118h0M885 2106h0M904 2111h0M868 2174h0M892 2125h0M819 2076h0M916 2155h0M875 2173h0M878 2111h0M869 2130h0M873 2212h0M894 2145h0M864 2111h0M837 2069h0M857 2083h0M807 2095h0M800 2167h0M918 2109h0M946 2164h0M782 2122h0M837 2073h0M864 2168h0M889 2089h0M849 2106h0M914 2136h0M838 2100h0M802 2097h0M905 2077h0M880 2130h0M902 2101h0M906 2187h0M955 2093h0M872 2126h0M877 2102h0M904 2212h0M927 2110h0M852 2153h0M878 2110h0M918 2155h0M910 2132h0M919 2124h0M833 2127h0M823 2166h0M899 2083h0M879 2161h0M860 2145h0M852 2128h0M870 2148h0M838 2092h0M885 2118h0M892 2119h0M826 2150h0M883 2158h0M861 2120h0M919 2085h0M936 2158h0M871 2136h0M895 2111h0M883 2104h0M806 2130h0M877 2154h0M893 2158h0M902 2103h0M917 2224h0M853 2090h0M898 2165h0M910 2187h0M823 2138h0M890 2175h0M841 2129h0M860 2126h0M868 2127h0M809 2123h0M875 2121h0M745 2094h0M849 2102h0M931 2170h0M866 2151h0M992 2118h0M890 2116h0M927 2175h0M869 2152h0M844 2079h0M904 2189h0M862 2115h0M808 2193h0M830 2096h0M866 2171h0M875 2133h0M874 2160h0M872 2138h0M870 2097h0M922 2117h0M825 2113h0M874 2159h0M820 2085h0M879 2146h0M833 2091h0M879 2129h0M815 2097h0M927 2106h0M911 2089h0M927 2191h0M850 2108h0M896 2096h0M893 2174h0M883 2144h0M867 2164h0M843 2180h0M872 2122h0M814 2111h0M882 2174h0M815 2121h0M848 2091h0M873 2109h0M905 2051h0M900 2076h0M803 2140h0M861 2135h0M838 2095h0M846 2128h0M843 2115h0M842 2136h0M832 2061h0M778 2120h0M876 2164h0M846 2093h0M819 2150h0M850 2161h0M870 2124h0M806 2102h0M902 2117h0M898 2084h0M910 2226h0M913 2148h0M828 2110h0M849 2136h0M800 2096h0M902 2141h0M900 2163h0M832 2084h0M890 2136h0M876 2107h0M910 2153h0M914 2127h0M898 2134h0M839 2126h0M813 2119h0M879 2156h0M835 2086h0M847 2063h0M849 2213h0M878 2109h0M848 2186h0M831 2124h0M870 2109h0M847 2076h0M843 2170h0M924 2131h0M898 2151h0M877 2129h0M917 2157h0M865 2124h0M907 2118h0M847 2121h0M855 2170h0M886 2132h0M854 2175h0M889 2201h0M906 2130h0M853 2121h0M880 2159h0M891 2185h0M818 2126h0M822 2093h0M851 2109h0M838 2080h0M914 2128h0M908 2102h0M789 2103h0M905 2119h0M887 2101h0M923 2153h0M911 2129h0M919 2141h0M855 2110h0M875 2104h0M830 2131h0M899 2127h0M903 2187h0M827 2135h0M838 2108h0M879 2058h0M895 2162h0M893 2156h0M938 2130h0M912 2184h0M891 2079h0M867 2123h0M815 2123h0M900 2128h0M866 2178h0M851 2100h0M874 2169h0M894 2138h0M855 2170h0M905 2082h0M885 2058h0M927 2159h0M850 2089h0M862 2076h0M893 2119h0M809 2124h0M916 2098h0M860 2189h0M880 2116h0M880 2158h0M837 2125h0M814 2075h0M817 2152h0M884 2157h0M917 2140h0M882 2147h0M890 2101h0M863 2127h0M874 2109h0M868 2141h0M880 2152h0M903 2154h0M908 2164h0M923 2159h0M851 2204h0M914 2178h0M899 2138h0M832 2141h0M860 2118h0M796 2172h0M831 2092h0M890 2153h0M844 2129h0M882 2139h0M892 2160h0M860 2080h0M951 2131h0M837 2152h0M894 2116h0M958 2069h0M919 2138h0M884 2144h0M865 2142h0M826 2114h0M940 2060h0M917 2068h0M842 2157h0M858 2112h0M819 2122h0M867 2112h0M817 2130h0M888 2171h0M892 2183h0M916 2049h0M933 2137h0M835 2141h0M908 2088h0M828 2149h0M853 2176h0M881 2116h0M825 2145h0M811 2083h0M826 2180h0M935 2134h0M859 2153h0M918 2113h0M953 2137h0M914 2063h0M871 2110h0M945 2135h0M827 2189h0M848 2129h0M828 2148h0M880 2124h0M858 2113h0M847 2085h0M917 2167h0M823 2089h0M888 2207h0M866 2122h0M864 2139h0M867 2166h0M908 2155h0M930 2133h0M853 2225h0M803 2074h0M788 2133h0M834 2161h0M797 2118h0M859 2097h0M913 2125h0M889 2118h0M878 2119h0M876 2130h0M848 2143h0M866 2101h0M835 2142h0M921 2097h0M858 2145h0M911 2160h0M830 2128h0M905 2145h0M865 2094h0M879 2131h0M874 2181h0M916 2113h0M881 2124h0M877 2185h0M906 2138h0M849 2124h0M886 2119h0M913 2139h0M830 2192h0M768 2110h0M869 2164h0M913 2184h0M929 2150h0M877 2166h0M872 2093h0M857 2152h0M895 2101h0M916 2148h0M819 2140h0M909 2155h0M862 2106h0M914 2145h0M873 2120h0M836 2068h0M861 2166h0M901 2115h0M928 2133h0M837 2159h0M923 2127h0M829 2125h0M785 2123h0M928 2149h0M847 2152h0M855 2171h0M860 2196h0M860 2137h0M839 2088h0M885 2146h0M838 2146h0M858 2113h0M870 2145h0M899 2176h0M887 2111h0M848 2141h0M830 2122h0M859 2128h0M880 2167h0M932 2169h0M909 2104h0M910 2179h0M824 2206h0M853 2054h0M937 2143h0M844 2111h0M912 2146h0M859 2168h0M839 2101h0M853 2106h0M898 2129h0M835 2113h0M801 2128h0M877 2153h0M865 2144h0M839 2129h0M879 2095h0M894 2140h0M875 2118h0M945 2142h0M845 2102h0M894 2129h0M845 2106h0M907 2140h0M911 2137h0M830 2155h0M885 2114h0M862 2100h0M903 2124h0M890 2143h0M864 2143h0M864 2094h0M858 2093h0M900 2157h0M852 2150h0M882 2165h0M839 2129h0M837 2106h0M922 2076h0M840 2144h0M901 2112h0M800 2069h0M886 2169h0M906 2114h0M922 2133h0M895 2130h0M930 2124h0M796 2112h0M880 2142h0M847 2122h0M832 2120h0M876 2141h0M932 2077h0M892 2149h0M831 2129h0M873 2101h0M899 2197h0M897 2161h0M911 2134h0M908 2112h0M879 2156h0M920 2130h0M863 2146h0M870 2137h0M902 2112h0M904 2149h0M864 2092h0M850 2128h0M907 2075h0M899 2142h0M832 2154h0" stroke="#2f8553" stroke-opacity="0.42" stroke-width="3.6" stroke-linecap="round" fill="none"/>
<defs><linearGradient id="gg1" gradientUnits="userSpaceOnUse" x1="811.6" y1="2288.2" x2="897.6" y2="2095.7"><stop offset="0" stop-color="#d9962e"/><stop offset="1" stop-color="#3f8a3e"/></linearGradient></defs>
<path d="M811.6,2288.2L813,2240L815.3,2196.6L830,2172L845.2,2151.8L862,2133L878.9,2118L890,2104L897.6,2095.7" fill="none" stroke="url(#gg1)" stroke-width="3.2" stroke-linejoin="round"/>
<defs><linearGradient id="gg2" gradientUnits="userSpaceOnUse" x1="830.3" y1="2278.9" x2="897.6" y2="2095.7"><stop offset="0" stop-color="#c8a030"/><stop offset="1" stop-color="#5a9a40"/></linearGradient></defs>
<path d="M830.3,2278.9L840,2265L845.2,2256.4L852,2240L864,2211.6L868,2180L871.4,2144.3L874,2132L878.9,2129.3L882,2118L893.8,2107L897.6,2095.7" fill="none" stroke="url(#gg2)" stroke-width="3.2" stroke-linejoin="round"/>
<defs><linearGradient id="gg3" gradientUnits="userSpaceOnUse" x1="897.6" y1="2095.7" x2="914.4" y2="2250.8"><stop offset="0" stop-color="#2a7a40"/><stop offset="1" stop-color="#243a78"/></linearGradient></defs>
<path d="M897.6,2095.7L905,2100L929.3,2108.8L915,2110L901.3,2121.9L905,2151.8L925.6,2178L921.9,2200L935,2219L925,2222L908.8,2224.7L920,2222L935,2230L946.2,2245.2L934,2236L923.7,2234L914.4,2250.8" fill="none" stroke="url(#gg3)" stroke-width="3.2" stroke-linejoin="round"/>
<defs><linearGradient id="gg4" gradientUnits="userSpaceOnUse" x1="914.4" y1="2250.8" x2="811.6" y2="2288.2"><stop offset="0" stop-color="#3a4a7a"/><stop offset="1" stop-color="#8a7a60"/></linearGradient></defs>
<path d="M914.4,2250.8L870,2266L830.3,2280.7L811.6,2288.2" fill="none" stroke="url(#gg4)" stroke-width="3.2" stroke-linejoin="round"/>
<path d="M815.3,2194.8 Q825.8,2177.1 830.3,2159.3" fill="none" stroke="#231815" stroke-width="1.4"/>
<path d="M830.5,2158.3L831.7,2166.9L825.5,2165.3 Z" fill="#231815"/>
<path d="M925.6,2151.8 Q935.2,2169.6 938.7,2187.3" fill="none" stroke="#231815" stroke-width="1.4"/>
<path d="M938.9,2188.3L934.2,2181.1L940.5,2179.8 Z" fill="#231815"/>
<path d="M880.7,2204.0 Q876.2,2221.8 865.8,2239.6" fill="none" stroke="#231815" stroke-width="1.4"/>
<path d="M865.3,2240.5L866.6,2231.9L872.1,2235.2 Z" fill="#231815"/>
<path d="M901.3,2269.5 Q885.6,2276.1 864.0,2282.6" fill="none" stroke="#231815" stroke-width="1.4"/>
<path d="M863,2282.9L869.8,2277.5L871.6,2283.6 Z" fill="#231815"/>
<line x1="700.2" y1="1979.8" x2="700.2" y2="2376.8" stroke="#231815" stroke-width="1.8"/>
<line x1="700.2" y1="2376.8" x2="1098.7" y2="2376.8" stroke="#231815" stroke-width="1.8"/>
<line x1="690" y1="2376.8" x2="700.2" y2="2376.8" stroke="#231815" stroke-width="1.6"/>
<text x="637.26" y="2384.6" font-size="21.8" fill="#1d1d1b">0.40</text>
<line x1="690" y1="2320.09" x2="700.2" y2="2320.09" stroke="#231815" stroke-width="1.6"/>
<text x="637.59" y="2327.89" font-size="21.8" fill="#1d1d1b">0.42</text>
<line x1="690" y1="2263.38" x2="700.2" y2="2263.38" stroke="#231815" stroke-width="1.6"/>
<text x="637.15" y="2271.18" font-size="21.8" fill="#1d1d1b">0.44</text>
<line x1="690" y1="2206.67" x2="700.2" y2="2206.67" stroke="#231815" stroke-width="1.6"/>
<text x="637.37" y="2214.47" font-size="21.8" fill="#1d1d1b">0.46</text>
<line x1="690" y1="2149.96" x2="700.2" y2="2149.96" stroke="#231815" stroke-width="1.6"/>
<text x="637.37" y="2157.76" font-size="21.8" fill="#1d1d1b">0.48</text>
<line x1="690" y1="2093.25" x2="700.2" y2="2093.25" stroke="#231815" stroke-width="1.6"/>
<text x="637.26" y="2101.05" font-size="21.8" fill="#1d1d1b">0.50</text>
<line x1="690" y1="2036.54" x2="700.2" y2="2036.54" stroke="#231815" stroke-width="1.6"/>
<text x="637.59" y="2044.34" font-size="21.8" fill="#1d1d1b">0.52</text>
<line x1="690" y1="1979.83" x2="700.2" y2="1979.83" stroke="#231815" stroke-width="1.6"/>
<text x="637.15" y="1987.63" font-size="21.8" fill="#1d1d1b">0.54</text>
<line x1="706.2" y1="2376.8" x2="706.2" y2="2387.3" stroke="#231815" stroke-width="1.6"/>
<text x="685" y="2414.2" font-size="21.8" fill="#1d1d1b">0.18</text>
<line x1="837.05" y1="2376.8" x2="837.05" y2="2387.3" stroke="#231815" stroke-width="1.6"/>
<text x="815.8" y="2414.2" font-size="21.8" fill="#1d1d1b">0.20</text>
<line x1="967.9" y1="2376.8" x2="967.9" y2="2387.3" stroke="#231815" stroke-width="1.6"/>
<text x="946.81" y="2414.2" font-size="21.8" fill="#1d1d1b">0.22</text>
<line x1="1098.75" y1="2376.8" x2="1098.75" y2="2387.3" stroke="#231815" stroke-width="1.6"/>
<text x="1077.44" y="2414.2" font-size="21.8" fill="#1d1d1b">0.24</text>
<text x="822.44" y="2451.6" font-size="28.25" fill="#1d1d1b">ECoG power</text>
<text x="793.1" y="2484.5" font-size="28.38" fill="#1d1d1b">(7~9 Hz / 1~9 Hz)</text>
<text x="567.5" y="2260.56" font-size="28.25" fill="#1d1d1b" transform="rotate(-90 567.5 2260.56)">ECoG power</text>
<text x="602.5" y="2306.7" font-size="28.41" fill="#1d1d1b" transform="rotate(-90 602.5 2306.7)">(1~20 Hz / 1~55 Hz)</text>
<text x="938.29" y="2088.2" font-size="28.92" fill="#2a8a4a">NREM</text>
<text x="952.03" y="2271.4" font-size="29.56" fill="#1a2f6b">REM</text>
<text x="758" y="2318" font-size="27.01" fill="#d68a2a">AW</text>
<text x="1136.25" y="1946" font-size="35" fill="#1d1d1b" font-weight="bold">h</text>
<text x="1306.72" y="1954" font-size="28.44" fill="#1d1d1b">Euclidean distance b.w.</text>
<text x="1298.3" y="1987.8" font-size="20.96" fill="#d68a2a">AW</text>
<defs><linearGradient id="ha1" gradientUnits="userSpaceOnUse" x1="1342.9" y1="0" x2="1372" y2="0"><stop offset="0" stop-color="#e8c58c"/><stop offset="1" stop-color="#8cc39a"/></linearGradient></defs>
<path d="M1342.9,1978.2L1360.7,1978.2L1360.7,1973L1372,1982L1360.7,1991L1360.7,1985.8L1342.9,1985.8 Z" fill="url(#ha1)"/>
<text x="1377.09" y="1987.8" font-size="22.59" fill="#1f8a50">NREM</text>
<text x="1456.77" y="1987.8" font-size="28.48" fill="#1d1d1b">transition</text>
<text x="1246.91" y="2021.6" font-size="28.24" fill="#1d1d1b">&amp; reversed</text>
<text x="1389.5" y="2021.6" font-size="22.55" fill="#1f8a50">NREM</text>
<defs><linearGradient id="ha2" gradientUnits="userSpaceOnUse" x1="1465" y1="0" x2="1495.2" y2="0"><stop offset="0" stop-color="#8cc39a"/><stop offset="1" stop-color="#e8c58c"/></linearGradient></defs>
<path d="M1465,2011.8L1483.4,2011.8L1483.4,2006.5L1495.2,2015.5L1483.4,2024.5L1483.4,2019.2L1465,2019.2 Z" fill="url(#ha2)"/>
<text x="1501.8" y="2021.6" font-size="21.46" fill="#d68a2a">AW</text>
<text x="1547.87" y="2021.6" font-size="28.58" fill="#1d1d1b">transition</text>
<path d="M1280.9,2237.8L1290.6,2241.7L1302,2239.8L1313,2241.7L1321,2247.5L1337,2249.5L1346.7,2257.2L1352.5,2247.5L1362,2239.8L1370,2247.5L1377.8,2253.3L1385,2236L1391.3,2230L1398,2238L1404.9,2241.7L1410,2225L1416.5,2212.6L1421,2205L1426.2,2191.3L1433,2186L1441.7,2173.9L1446,2190L1451.4,2203L1460,2200L1470.8,2204.9L1478,2220L1484.3,2237.8L1492.1,2245.6L1497,2240L1503.7,2235.9L1511.5,2243.6L1519,2244L1527,2247.5L1537,2247L1546.4,2253.3L1555,2254L1560,2260L1565.7,2263L1575.4,2247.5L1583,2256L1591,2263L1597,2254L1602.6,2243.6" fill="none" stroke="#d2562a" stroke-opacity="0.22" stroke-width="17" stroke-linejoin="round"/>
<path d="M1280.9,2323.5L1282.3,2322.1L1284.2,2320.1L1286.4,2317.9L1288.7,2315.6L1291,2313.5L1293.2,2311.7L1295.4,2309.9L1297.6,2308.2L1299.9,2306.6L1302.2,2305L1304.5,2303.5L1306.8,2301.9L1309.1,2300.5L1311.5,2299.3L1313.8,2298.4L1316.1,2297.9L1318.3,2297.6L1320.5,2297.7L1322.8,2297.9L1325.4,2298.4L1328.3,2299.2L1331.3,2300.4L1334.5,2301.7L1337.7,2303L1340.9,2304.2L1344.1,2305.3L1347.3,2306.4L1350.5,2307.4L1353.5,2308.2L1356.4,2308.8L1359,2309.1L1361.3,2309.2L1363.5,2309.1L1365.7,2308.8L1368,2308.1L1370.4,2307L1372.8,2305.5L1375.2,2303.7L1377.5,2301.9L1379.7,2300.3L1381.8,2298.7L1383.7,2297.1L1385.6,2295.6L1387.5,2294.3L1389.4,2293.3L1391.3,2292.9L1393.2,2292.9L1395.1,2293.1L1397,2293.1L1399,2292.5L1401.1,2291.2L1403.3,2289.5L1405.6,2287.5L1407.8,2285.4L1410,2283.5L1412.2,2282.1L1414.4,2281.1L1416.6,2279.9L1418.6,2278L1420.4,2275.1L1421.8,2271.1L1423,2266.5L1424,2260.9L1425,2254.4L1426.2,2246.8L1427.6,2237.4L1429,2226.4L1430.5,2217.6L1432.2,2206L1434,2195.5L1436.1,2186.1L1438.6,2177.2L1441.1,2166.8L1443.5,2158.1L1445.6,2149.7L1447.4,2141.4L1448.9,2133.2L1450.3,2125.4L1451.7,2118.4L1453.3,2112.3L1455.1,2107.4L1457,2103.4L1459,2100.2L1461,2097.7L1463,2096L1464.9,2094.9L1466.8,2094.7L1468.7,2095.1L1470.6,2096.2L1472.7,2097.9L1474.9,2100L1477.1,2102.7L1479.4,2106.1L1481.8,2110.1L1484.3,2114.8L1486.9,2120.4L1489.6,2126.6L1492.4,2133.4L1495.1,2140.5L1497.9,2147.7L1500.6,2156.1L1503.2,2163.5L1505.9,2171.3L1508.7,2179.4L1511.5,2187.8L1514.5,2196.7L1517.8,2206L1521,2215.6L1524.1,2225.1L1527,2234.3L1529.6,2243.3L1532,2252.4L1534.3,2261.3L1536.5,2269.6L1538.6,2277L1540.7,2283.5L1542.6,2289.3L1544.5,2294.4L1546.4,2299.1L1548.3,2303.3L1550.2,2307L1552.1,2310.2L1554,2313L1555.9,2315.4L1558,2317.5L1560.2,2319.3L1562.5,2320.7L1564.9,2321.9L1567.2,2322.8L1569.6,2323.5L1571.9,2323.8L1574.3,2323.6L1576.7,2323.4L1579,2323.5L1581.2,2324.3L1583.2,2326.3L1585.2,2329.3L1587,2332.5L1589,2335.3L1591,2337L1593.4,2337.2L1596.1,2336.5L1598.7,2335.2L1601,2334L1602.6,2333.2L1602.6,2340.2L1601,2341L1598.7,2342.2L1596.1,2343.5L1593.4,2344.2L1591,2344L1589,2342.3L1587,2339.5L1585.2,2336.3L1583.2,2333.3L1581.2,2331.3L1579,2330.5L1576.7,2330.4L1574.3,2330.6L1571.9,2330.8L1569.6,2330.5L1567.2,2329.8L1564.9,2328.9L1562.5,2327.7L1560.2,2326.3L1558,2324.5L1555.9,2322.4L1554,2320L1552.1,2317.2L1550.2,2314L1548.3,2310.3L1546.4,2306.1L1544.5,2301.4L1542.6,2296.3L1540.7,2290.5L1538.6,2284L1536.5,2276.6L1534.3,2268.3L1532,2259.4L1529.6,2250.3L1527,2241.3L1524.1,2232.1L1521,2222.6L1517.8,2213L1514.5,2203.7L1511.5,2194.8L1508.7,2186.4L1505.9,2178.3L1503.2,2170.5L1500.6,2163.1L1497.9,2157.5L1495.1,2151.4L1492.4,2145.7L1489.6,2140.5L1486.9,2136L1484.3,2132.2L1481.8,2129.2L1479.4,2126.8L1477.1,2124.9L1474.9,2123.4L1472.7,2122.1L1470.6,2121L1468.7,2120.1L1466.8,2119.6L1464.9,2119.5L1463,2120L1461,2121L1459,2122.4L1457,2124.4L1455.1,2127.2L1453.3,2130.9L1451.7,2135.8L1450.3,2141.8L1448.9,2148.6L1447.4,2155.8L1445.6,2163.1L1443.5,2170.3L1441.1,2177.8L1438.6,2184.2L1436.1,2193.1L1434,2202.5L1432.2,2213L1430.5,2224.6L1429,2239.4L1427.6,2250.4L1426.2,2259.8L1425,2267.4L1424,2273.9L1423,2279.5L1421.8,2284.1L1420.4,2288.1L1418.6,2291L1416.6,2292.9L1414.4,2294.1L1412.2,2295.1L1410,2296.5L1407.8,2298.4L1405.6,2300.5L1403.3,2302.5L1401.1,2304.2L1399,2305.5L1397,2306.1L1395.1,2306.1L1393.2,2305.9L1391.3,2305.9L1389.4,2306.3L1387.5,2307.3L1385.6,2308.6L1383.7,2310.1L1381.8,2311.7L1379.7,2313.3L1377.5,2314.9L1375.2,2316.7L1372.8,2318.5L1370.4,2320L1368,2321.1L1365.7,2321.8L1363.5,2322.1L1361.3,2322.2L1359,2322.1L1356.4,2321.8L1353.5,2321.2L1350.5,2320.4L1347.3,2319.4L1344.1,2318.3L1340.9,2317.2L1337.7,2316L1334.5,2314.7L1331.3,2313.4L1328.3,2312.2L1325.4,2311.4L1322.8,2310.9L1320.5,2310.7L1318.3,2310.6L1316.1,2310.9L1313.8,2311.4L1311.5,2312.3L1309.1,2313.5L1306.8,2314.9L1304.5,2316.5L1302.2,2318L1299.9,2319.6L1297.6,2321.2L1295.4,2322.9L1293.2,2324.7L1291,2326.5L1288.7,2328.6L1286.4,2330.9L1284.2,2333.1L1282.3,2335.1L1280.9,2336.5 Z" fill="#1b69a8" fill-opacity="0.2"/>
<path d="M1280.9,2330L1282.3,2328.6L1284.2,2326.6L1286.4,2324.4L1288.7,2322.1L1291,2320L1293.2,2318.2L1295.4,2316.4L1297.6,2314.7L1299.9,2313.1L1302.2,2311.5L1304.5,2310L1306.8,2308.4L1309.1,2307L1311.5,2305.8L1313.8,2304.9L1316.1,2304.4L1318.3,2304.1L1320.5,2304.2L1322.8,2304.4L1325.4,2304.9L1328.3,2305.7L1331.3,2306.9L1334.5,2308.2L1337.7,2309.5L1340.9,2310.7L1344.1,2311.8L1347.3,2312.9L1350.5,2313.9L1353.5,2314.7L1356.4,2315.3L1359,2315.6L1361.3,2315.7L1363.5,2315.6L1365.7,2315.3L1368,2314.6L1370.4,2313.5L1372.8,2312L1375.2,2310.2L1377.5,2308.4L1379.7,2306.8L1381.8,2305.2L1383.7,2303.6L1385.6,2302.1L1387.5,2300.8L1389.4,2299.8L1391.3,2299.4L1393.2,2299.4L1395.1,2299.6L1397,2299.6L1399,2299L1401.1,2297.7L1403.3,2296L1405.6,2294L1407.8,2291.9L1410,2290L1412.2,2288.6L1414.4,2287.6L1416.6,2286.4L1418.6,2284.5L1420.4,2281.6L1421.8,2277.6L1423,2273L1424,2267.4L1425,2260.9L1426.2,2253.3L1427.6,2243.9L1429,2232.9L1430.5,2221.1L1432.2,2209.5L1434,2199L1436.1,2189.6L1438.6,2180.7L1441.1,2172.3L1443.5,2164.2L1445.6,2156.4L1447.4,2148.6L1448.9,2140.9L1450.3,2133.6L1451.7,2127.1L1453.3,2121.6L1455.1,2117.3L1457,2113.9L1459,2111.3L1461,2109.4L1463,2108L1464.9,2107.2L1466.8,2107.1L1468.7,2107.6L1470.6,2108.6L1472.7,2110L1474.9,2111.7L1477.1,2113.8L1479.4,2116.4L1481.8,2119.6L1484.3,2123.5L1486.9,2128.2L1489.6,2133.6L1492.4,2139.5L1495.1,2145.9L1497.9,2152.6L1500.6,2159.6L1503.2,2167L1505.9,2174.8L1508.7,2182.9L1511.5,2191.3L1514.5,2200.2L1517.8,2209.5L1521,2219.1L1524.1,2228.6L1527,2237.8L1529.6,2246.8L1532,2255.9L1534.3,2264.8L1536.5,2273.1L1538.6,2280.5L1540.7,2287L1542.6,2292.8L1544.5,2297.9L1546.4,2302.6L1548.3,2306.8L1550.2,2310.5L1552.1,2313.7L1554,2316.5L1555.9,2318.9L1558,2321L1560.2,2322.8L1562.5,2324.2L1564.9,2325.4L1567.2,2326.3L1569.6,2327L1571.9,2327.3L1574.3,2327.1L1576.7,2326.9L1579,2327L1581.2,2327.8L1583.2,2329.8L1585.2,2332.8L1587,2336L1589,2338.8L1591,2340.5L1593.4,2340.7L1596.1,2340L1598.7,2338.7L1601,2337.5L1602.6,2336.7" fill="none" stroke="#1b69a8" stroke-width="2.6" stroke-linejoin="round"/>
<path d="M1280.9,2237.8L1290.6,2241.7L1302,2239.8L1313,2241.7L1321,2247.5L1337,2249.5L1346.7,2257.2L1352.5,2247.5L1362,2239.8L1370,2247.5L1377.8,2253.3L1385,2236L1391.3,2230L1398,2238L1404.9,2241.7L1410,2225L1416.5,2212.6L1421,2205L1426.2,2191.3L1433,2186L1441.7,2173.9L1446,2190L1451.4,2203L1460,2200L1470.8,2204.9L1478,2220L1484.3,2237.8L1492.1,2245.6L1497,2240L1503.7,2235.9L1511.5,2243.6L1519,2244L1527,2247.5L1537,2247L1546.4,2253.3L1555,2254L1560,2260L1565.7,2263L1575.4,2247.5L1583,2256L1591,2263L1597,2254L1602.6,2243.6" fill="none" stroke="#d2562a" stroke-width="2.4" stroke-linejoin="round"/>
<line x1="1280.9" y1="2064.6" x2="1280.9" y2="2376.6" stroke="#1b69a8" stroke-width="2"/>
<line x1="1603.7" y1="2065.3" x2="1603.7" y2="2376.6" stroke="#d2562a" stroke-width="2"/>
<line x1="1280.9" y1="2376.6" x2="1603.7" y2="2376.6" stroke="#231815" stroke-width="2"/>
<line x1="1271" y1="2376.6" x2="1280.9" y2="2376.6" stroke="#1b69a8" stroke-width="1.6"/>
<text x="1226.61" y="2384.4" font-size="22.3" fill="#1b69a8">0.00</text>
<line x1="1271" y1="2298.6" x2="1280.9" y2="2298.6" stroke="#1b69a8" stroke-width="1.6"/>
<text x="1226.83" y="2306.4" font-size="22.3" fill="#1b69a8">0.01</text>
<line x1="1271" y1="2220.6" x2="1280.9" y2="2220.6" stroke="#1b69a8" stroke-width="1.6"/>
<text x="1226.94" y="2228.4" font-size="22.3" fill="#1b69a8">0.02</text>
<line x1="1271" y1="2142.6" x2="1280.9" y2="2142.6" stroke="#1b69a8" stroke-width="1.6"/>
<text x="1226.72" y="2150.4" font-size="22.3" fill="#1b69a8">0.03</text>
<line x1="1271" y1="2064.6" x2="1280.9" y2="2064.6" stroke="#1b69a8" stroke-width="1.6"/>
<text x="1226.5" y="2072.4" font-size="22.3" fill="#1b69a8">0.04</text>
<line x1="1603.7" y1="2376.6" x2="1613.5" y2="2376.6" stroke="#d2562a" stroke-width="1.6"/>
<text x="1614.11" y="2384.4" font-size="22.3" fill="#d2562a">0.00</text>
<line x1="1603.7" y1="2272.83" x2="1613.5" y2="2272.83" stroke="#d2562a" stroke-width="1.6"/>
<text x="1614.11" y="2280.63" font-size="22.3" fill="#d2562a">0.01</text>
<line x1="1603.7" y1="2169.06" x2="1613.5" y2="2169.06" stroke="#d2562a" stroke-width="1.6"/>
<text x="1614.11" y="2176.86" font-size="22.3" fill="#d2562a">0.02</text>
<line x1="1603.7" y1="2065.29" x2="1613.5" y2="2065.29" stroke="#d2562a" stroke-width="1.6"/>
<text x="1614.11" y="2073.09" font-size="22.3" fill="#d2562a">0.03</text>
<line x1="1280.9" y1="2376.6" x2="1280.9" y2="2387" stroke="#231815" stroke-width="1.6"/>
<text x="1264.68" y="2413" font-size="22.3" fill="#1d1d1b">-30</text>
<line x1="1334.7" y1="2376.6" x2="1334.7" y2="2387" stroke="#231815" stroke-width="1.6"/>
<text x="1318.48" y="2413" font-size="22.3" fill="#1d1d1b">-20</text>
<line x1="1388.5" y1="2376.6" x2="1388.5" y2="2387" stroke="#231815" stroke-width="1.6"/>
<text x="1372.28" y="2413" font-size="22.3" fill="#1d1d1b">-10</text>
<line x1="1442.3" y1="2376.6" x2="1442.3" y2="2387" stroke="#231815" stroke-width="1.6"/>
<text x="1436.06" y="2413" font-size="22.3" fill="#1d1d1b">0</text>
<line x1="1496.1" y1="2376.6" x2="1496.1" y2="2387" stroke="#231815" stroke-width="1.6"/>
<text x="1483.28" y="2413" font-size="22.3" fill="#1d1d1b">10</text>
<line x1="1549.9" y1="2376.6" x2="1549.9" y2="2387" stroke="#231815" stroke-width="1.6"/>
<text x="1537.36" y="2413" font-size="22.3" fill="#1d1d1b">20</text>
<line x1="1603.7" y1="2376.6" x2="1603.7" y2="2387" stroke="#231815" stroke-width="1.6"/>
<text x="1591.27" y="2413" font-size="22.3" fill="#1d1d1b">30</text>
<text x="1404.34" y="2468.4" font-size="28.21" fill="#1d1d1b">Time (s)</text>
<text x="1209.5" y="2406.76" font-size="28.28" fill="#1b69a8" transform="rotate(-90 1209.5 2406.76)">Distance in BOLD space (a.u.)</text>
<text x="1670.5" y="2024.34" font-size="28.28" fill="#d2562a" transform="rotate(90 1670.5 2024.34)">Distance in ECoG space (a.u.)</text>
<text x="1439.3" y="2069.2" font-size="24.67" fill="#1b69a8">p &lt; 0.05</text>
<line x1="1419.2" y1="2080.9" x2="1542.5" y2="2080.9" stroke="#1b69a8" stroke-width="2"/>
<text x="1346.28" y="2129.3" font-size="24.89" fill="#d2562a">p &lt; 0.05</text>
<line x1="1412.6" y1="2144.8" x2="1486.3" y2="2144.8" stroke="#d2562a" stroke-width="2"/>
</svg></body></html>
